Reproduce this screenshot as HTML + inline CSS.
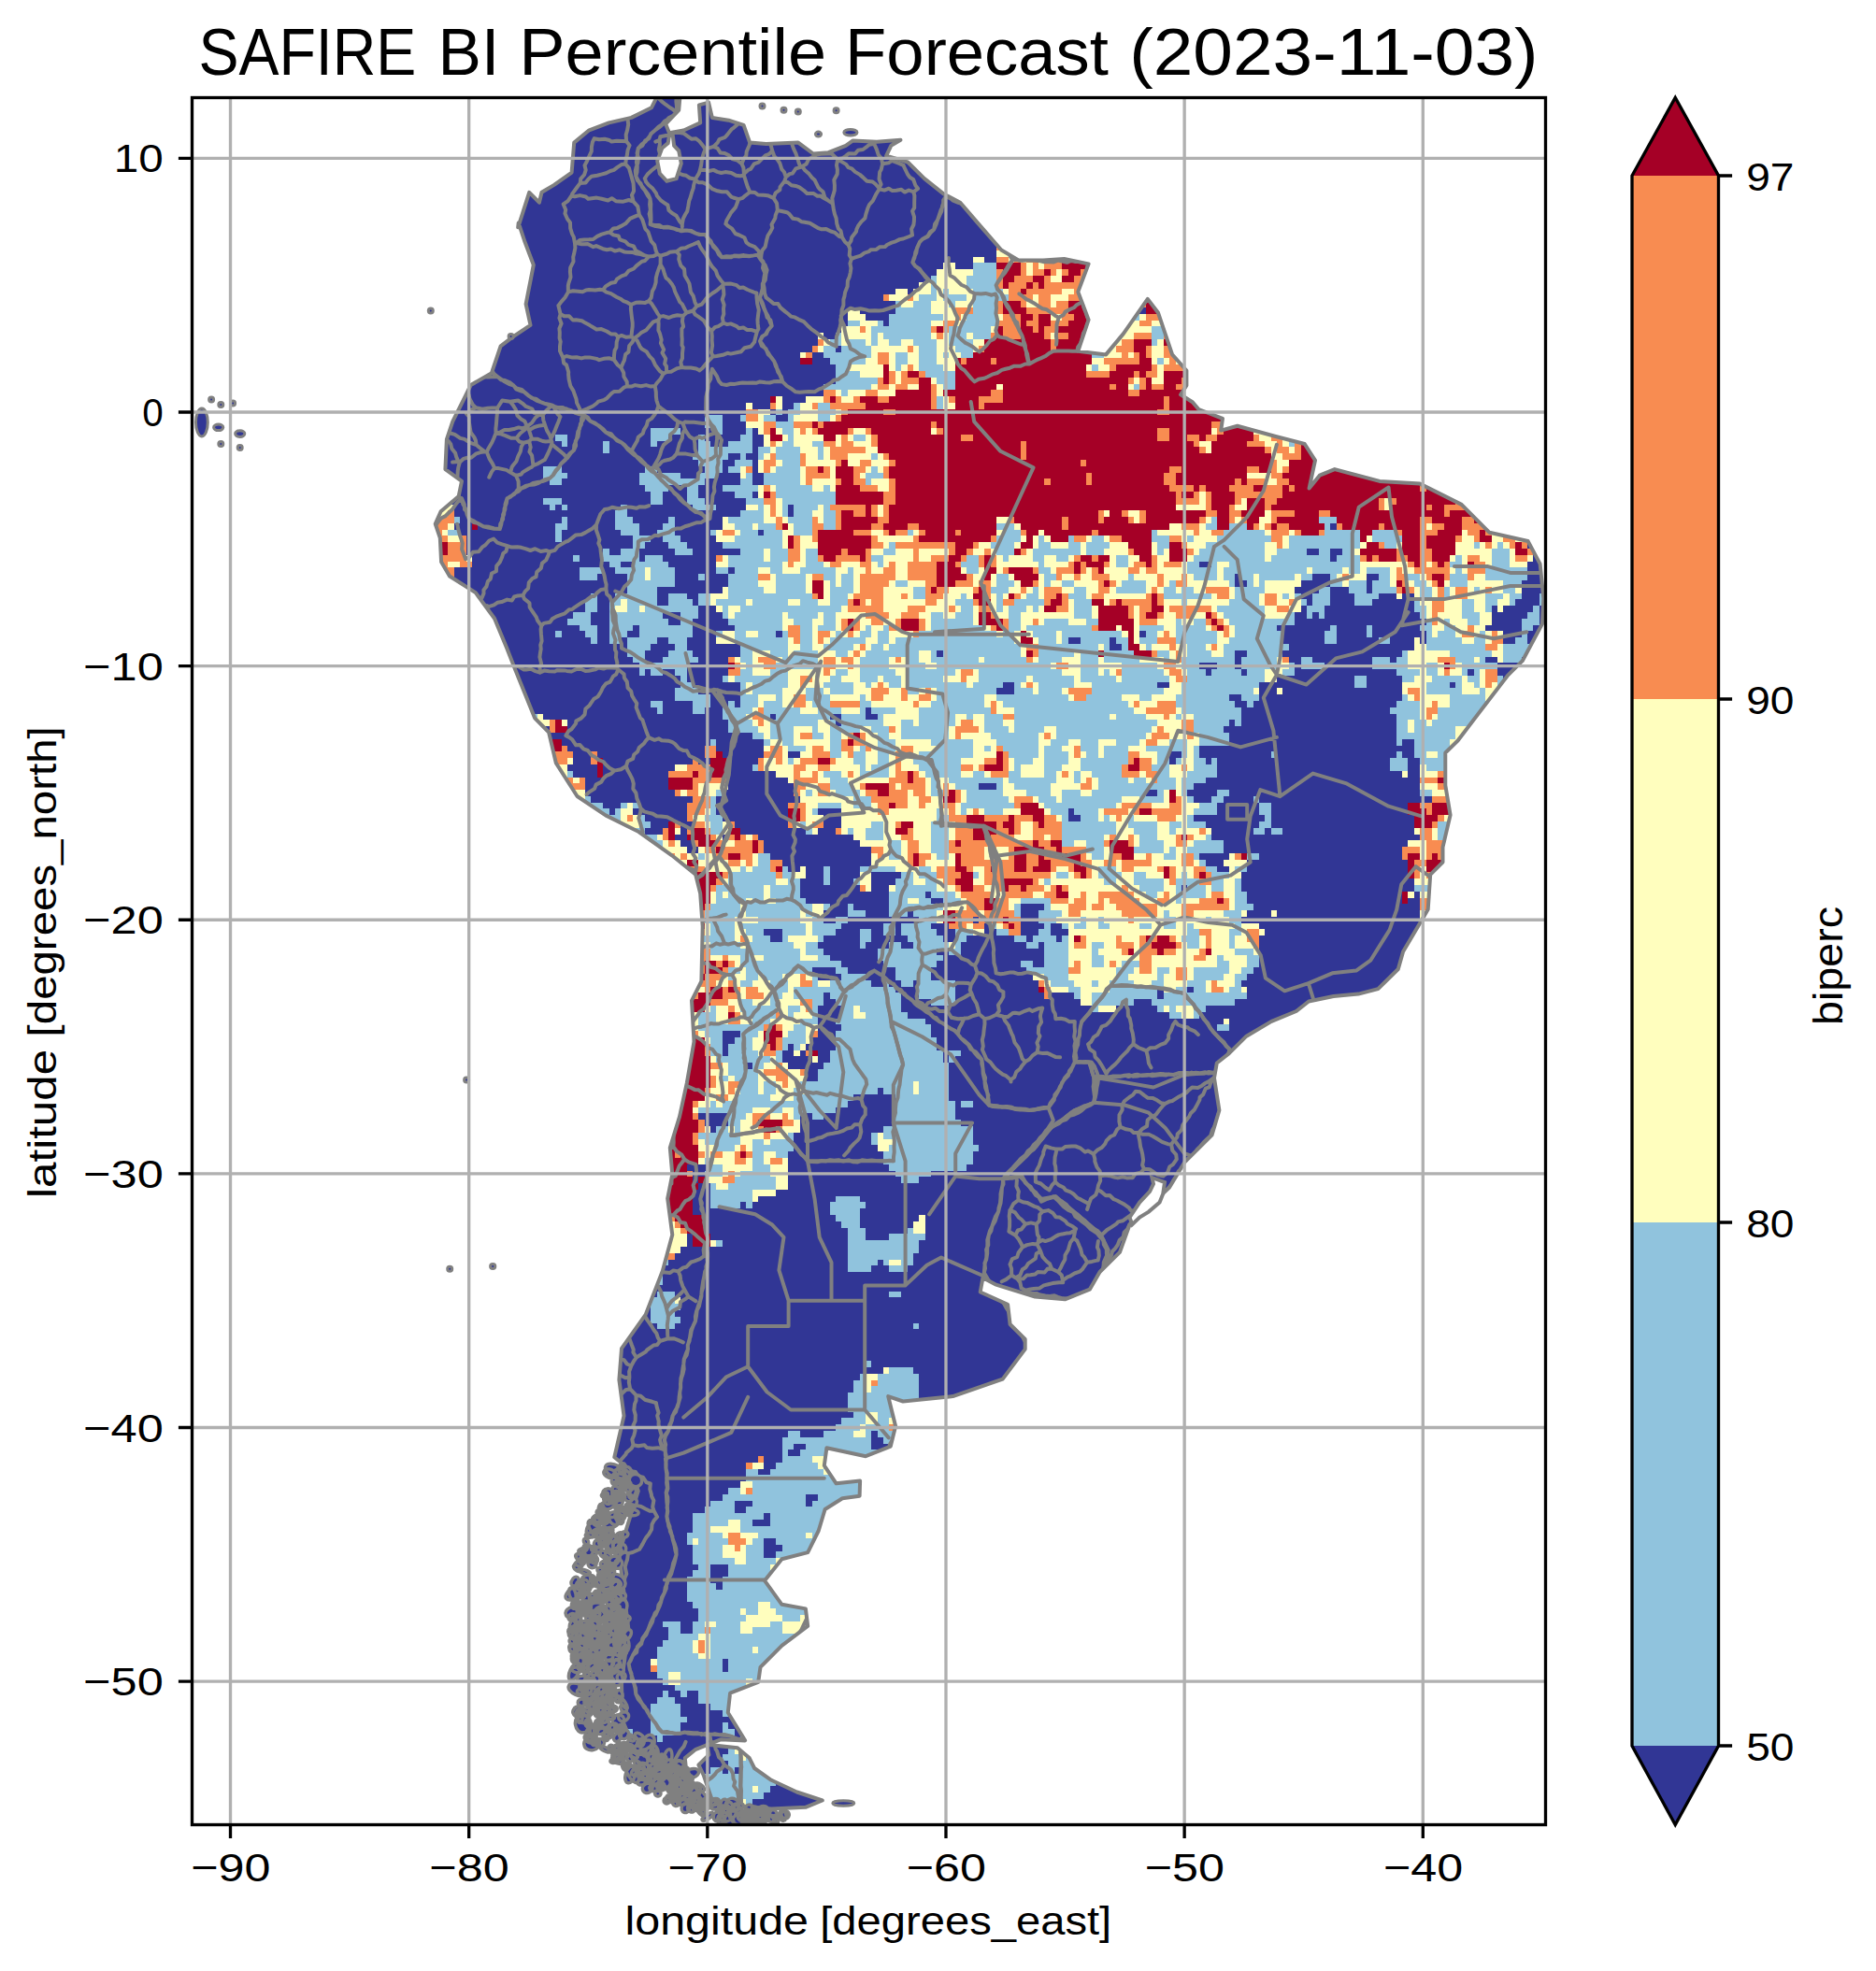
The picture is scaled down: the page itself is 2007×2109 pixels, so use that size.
<!DOCTYPE html>
<html><head><meta charset="utf-8"><style>
html,body{margin:0;padding:0;background:#fff;}
body{width:2007px;height:2109px;position:relative;overflow:hidden;font-family:"Liberation Sans", sans-serif;}
</style></head><body>
<svg xmlns="http://www.w3.org/2000/svg" width="2007" height="2109" viewBox="0 0 2007 2109" style="position:absolute;left:0;top:0" font-family='"Liberation Sans", sans-serif'>
<defs><clipPath id="ax"><rect x="205.5" y="104.5" width="1448.0" height="1848.0"/></clipPath></defs>
<g clip-path="url(#ax)"><defs><clipPath id="land"><polygon points="566.2,205.8 576.9,216.7 579.5,205.8 592.8,197.9 611.6,184.6 614.2,152.6 630.3,139.3 651.4,131.4 675.4,125.9 696.9,115.3 703.2,102.9 727.5,102.9 726.2,117.8 712.2,132.7 716.0,142.2 731.3,139.5 749.2,131.4 747.9,112.4 758.1,109.6 761.9,125.9 779.5,128.7 795.6,133.8 802.2,152.6 819.6,153.9 854.0,152.6 870.1,164.5 886.2,163.2 904.8,155.8 912.5,150.4 938.0,151.7 963.5,149.8 953.3,155.8 948.2,166.7 971.2,173.5 989.0,191.1 1009.4,207.4 1027.3,216.7 1045.2,237.6 1071.2,267.5 1090.1,278.6 1116.1,278.6 1138.5,277.0 1164.6,282.4 1153.3,312.3 1164.6,342.2 1153.3,375.8 1183.2,379.4 1201.8,357.1 1227.8,319.9 1239.1,334.8 1254.1,379.4 1269.4,396.5 1269.4,412.5 1263.1,422.3 1275.8,430.2 1282.4,438.0 1308.0,447.8 1306.2,460.6 1323.8,455.7 1363.8,466.8 1395.7,475.0 1407.0,492.6 1400.6,522.5 1411.8,508.7 1427.9,502.1 1475.9,514.9 1519.0,517.6 1563.6,539.9 1593.5,569.8 1634.6,579.0 1647.6,603.4 1651.4,640.7 1649.9,667.6 1628.7,707.2 1612.6,723.2 1586.1,757.7 1559.6,792.5 1546.3,805.5 1546.3,840.3 1551.6,872.1 1543.5,906.6 1543.5,922.6 1530.2,935.9 1527.7,973.1 1516.9,991.6 1501.1,1018.2 1495.8,1037.0 1474.3,1058.1 1453.2,1063.6 1426.6,1066.0 1400.1,1071.5 1386.8,1082.0 1360.3,1092.9 1333.5,1108.7 1314.9,1127.1 1301.8,1137.5 1299.0,1153.5 1304.4,1188.0 1296.5,1214.6 1267.1,1243.9 1251.1,1270.5 1208.5,1310.5 1198.0,1339.8 1176.6,1361.0 1165.8,1379.7 1139.3,1390.3 1107.4,1387.6 1064.8,1374.3 1051.5,1367.2 1048.7,1382.5 1078.1,1395.8 1080.6,1417.0 1096.7,1433.0 1096.7,1443.6 1072.7,1475.6 1019.4,1494.1 966.1,1499.5 950.2,1494.1 958.1,1526.1 952.8,1547.6 926.2,1558.2 884.4,1549.2 881.8,1568.2 894.6,1587.3 920.1,1584.5 919.6,1600.8 901.2,1603.3 882.6,1615.0 875.7,1638.0 864.2,1661.1 836.4,1668.2 818.1,1691.3 836.4,1716.8 861.9,1721.4 864.2,1739.9 836.4,1760.8 813.5,1783.9 811.2,1799.9 781.1,1811.6 778.8,1832.5 797.1,1862.4 770.9,1861.3 743.8,1872.2 732.8,1881.1 734.6,1899.3 718.5,1902.3 698.1,1894.2 680.3,1875.2 665.7,1839.9 665.0,1799.1 672.6,1744.8 667.5,1704.1 662.4,1663.3 670.1,1636.1 682.8,1595.4 675.2,1573.7 657.3,1559.3 667.5,1515.0 662.4,1476.4 665.0,1442.8 690.7,1406.6 708.8,1359.9 719.3,1321.3 714.2,1282.5 719.3,1256.7 716.8,1228.2 727.0,1194.8 734.9,1158.4 742.5,1114.6 740.0,1070.6 750.4,1050.0 751.7,991.3 749.2,956.0 744.1,935.6 718.8,915.3 683.3,890.0 647.9,872.4 617.5,852.0 594.8,816.4 587.1,783.5 572.1,768.3 561.9,743.1 551.7,717.8 541.7,692.3 529.0,661.8 508.8,634.1 481.0,616.5 472.1,601.3 470.8,575.7 465.7,560.5 471.6,547.2 490.7,530.9 494.0,514.9 476.4,502.1 477.9,470.1 484.3,450.8 497.3,425.0 503.7,412.0 525.9,399.2 535.6,370.4 548.4,360.6 567.5,347.9 562.6,325.3 570.8,283.5 561.1,257.7 554.7,238.4 554.2,243.3"/><polygon points="756.6,1866.8 789.0,1870.3 801.7,1881.1 807.1,1892.0 825.2,1904.8 852.5,1917.5 879.8,1926.5 861.7,1933.8 825.2,1935.5 789.0,1931.9 761.9,1926.5 752.7,1899.3 747.4,1888.5 758.4,1877.6"/></clipPath></defs>
<polygon points="566.2,205.8 576.9,216.7 579.5,205.8 592.8,197.9 611.6,184.6 614.2,152.6 630.3,139.3 651.4,131.4 675.4,125.9 696.9,115.3 703.2,102.9 727.5,102.9 726.2,117.8 712.2,132.7 716.0,142.2 731.3,139.5 749.2,131.4 747.9,112.4 758.1,109.6 761.9,125.9 779.5,128.7 795.6,133.8 802.2,152.6 819.6,153.9 854.0,152.6 870.1,164.5 886.2,163.2 904.8,155.8 912.5,150.4 938.0,151.7 963.5,149.8 953.3,155.8 948.2,166.7 971.2,173.5 989.0,191.1 1009.4,207.4 1027.3,216.7 1045.2,237.6 1071.2,267.5 1090.1,278.6 1116.1,278.6 1138.5,277.0 1164.6,282.4 1153.3,312.3 1164.6,342.2 1153.3,375.8 1183.2,379.4 1201.8,357.1 1227.8,319.9 1239.1,334.8 1254.1,379.4 1269.4,396.5 1269.4,412.5 1263.1,422.3 1275.8,430.2 1282.4,438.0 1308.0,447.8 1306.2,460.6 1323.8,455.7 1363.8,466.8 1395.7,475.0 1407.0,492.6 1400.6,522.5 1411.8,508.7 1427.9,502.1 1475.9,514.9 1519.0,517.6 1563.6,539.9 1593.5,569.8 1634.6,579.0 1647.6,603.4 1651.4,640.7 1649.9,667.6 1628.7,707.2 1612.6,723.2 1586.1,757.7 1559.6,792.5 1546.3,805.5 1546.3,840.3 1551.6,872.1 1543.5,906.6 1543.5,922.6 1530.2,935.9 1527.7,973.1 1516.9,991.6 1501.1,1018.2 1495.8,1037.0 1474.3,1058.1 1453.2,1063.6 1426.6,1066.0 1400.1,1071.5 1386.8,1082.0 1360.3,1092.9 1333.5,1108.7 1314.9,1127.1 1301.8,1137.5 1299.0,1153.5 1304.4,1188.0 1296.5,1214.6 1267.1,1243.9 1251.1,1270.5 1208.5,1310.5 1198.0,1339.8 1176.6,1361.0 1165.8,1379.7 1139.3,1390.3 1107.4,1387.6 1064.8,1374.3 1051.5,1367.2 1048.7,1382.5 1078.1,1395.8 1080.6,1417.0 1096.7,1433.0 1096.7,1443.6 1072.7,1475.6 1019.4,1494.1 966.1,1499.5 950.2,1494.1 958.1,1526.1 952.8,1547.6 926.2,1558.2 884.4,1549.2 881.8,1568.2 894.6,1587.3 920.1,1584.5 919.6,1600.8 901.2,1603.3 882.6,1615.0 875.7,1638.0 864.2,1661.1 836.4,1668.2 818.1,1691.3 836.4,1716.8 861.9,1721.4 864.2,1739.9 836.4,1760.8 813.5,1783.9 811.2,1799.9 781.1,1811.6 778.8,1832.5 797.1,1862.4 770.9,1861.3 743.8,1872.2 732.8,1881.1 734.6,1899.3 718.5,1902.3 698.1,1894.2 680.3,1875.2 665.7,1839.9 665.0,1799.1 672.6,1744.8 667.5,1704.1 662.4,1663.3 670.1,1636.1 682.8,1595.4 675.2,1573.7 657.3,1559.3 667.5,1515.0 662.4,1476.4 665.0,1442.8 690.7,1406.6 708.8,1359.9 719.3,1321.3 714.2,1282.5 719.3,1256.7 716.8,1228.2 727.0,1194.8 734.9,1158.4 742.5,1114.6 740.0,1070.6 750.4,1050.0 751.7,991.3 749.2,956.0 744.1,935.6 718.8,915.3 683.3,890.0 647.9,872.4 617.5,852.0 594.8,816.4 587.1,783.5 572.1,768.3 561.9,743.1 551.7,717.8 541.7,692.3 529.0,661.8 508.8,634.1 481.0,616.5 472.1,601.3 470.8,575.7 465.7,560.5 471.6,547.2 490.7,530.9 494.0,514.9 476.4,502.1 477.9,470.1 484.3,450.8 497.3,425.0 503.7,412.0 525.9,399.2 535.6,370.4 548.4,360.6 567.5,347.9 562.6,325.3 570.8,283.5 561.1,257.7 554.7,238.4 554.2,243.3" fill="#313695"/>
<polygon points="756.6,1866.8 789.0,1870.3 801.7,1881.1 807.1,1892.0 825.2,1904.8 852.5,1917.5 879.8,1926.5 861.7,1933.8 825.2,1935.5 789.0,1931.9 761.9,1926.5 752.7,1899.3 747.4,1888.5 758.4,1877.6" fill="#313695"/>
<g clip-path="url(#land)" shape-rendering="crispEdges"><path fill="#90c3dd" d="M1104.5 227.1H1117.2V233.9H1104.5zM1104.5 233.9H1110.9V240.7H1104.5zM1155.5 233.9H1161.9V240.7H1155.5zM1079.0 240.7H1085.3V247.5H1079.0zM1079.0 261.1H1098.1V267.9H1079.0zM1079.0 267.9H1098.1V274.7H1079.0zM1040.7 281.4H1066.2V288.2H1040.7zM1181.0 281.4H1187.4V288.2H1181.0zM1206.5 281.4H1212.9V288.2H1206.5zM1040.7 288.2H1066.2V295.0H1040.7zM996.0 295.0H1002.4V301.8H996.0zM1034.3 295.0H1066.2V301.8H1034.3zM996.0 301.8H1002.4V308.6H996.0zM1034.3 301.8H1066.2V308.6H1034.3zM996.0 308.6H1002.4V315.4H996.0zM1008.8 308.6H1015.2V315.4H1008.8zM1040.7 308.6H1072.6V315.4H1040.7zM983.3 315.4H1002.4V322.2H983.3zM1008.8 315.4H1034.3V322.2H1008.8zM1040.7 315.4H1079.0V322.2H1040.7zM957.8 322.2H964.1V329.0H957.8zM976.9 322.2H996.0V329.0H976.9zM1015.2 322.2H1021.5V329.0H1015.2zM1040.7 322.2H1066.2V329.0H1040.7zM957.8 329.0H996.0V335.8H957.8zM1040.7 329.0H1066.2V335.8H1040.7zM951.4 335.8H1008.8V342.6H951.4zM1034.3 335.8H1066.2V342.6H1034.3zM1212.9 335.8H1219.3V342.6H1212.9zM1283.1 335.8H1289.5V342.6H1283.1zM906.7 342.6H919.5V349.3H906.7zM938.6 342.6H945.0V349.3H938.6zM951.4 342.6H996.0V349.3H951.4zM1027.9 342.6H1066.2V349.3H1027.9zM932.2 349.3H996.0V356.1H932.2zM1015.2 349.3H1059.8V356.1H1015.2zM1193.8 349.3H1200.2V356.1H1193.8zM1232.1 349.3H1244.8V356.1H1232.1zM894.0 356.1H900.3V362.9H894.0zM932.2 356.1H938.6V362.9H932.2zM945.0 356.1H996.0V362.9H945.0zM1015.2 356.1H1034.3V362.9H1015.2zM1040.7 356.1H1059.8V362.9H1040.7zM1193.8 356.1H1200.2V362.9H1193.8zM1232.1 356.1H1244.8V362.9H1232.1zM1302.2 356.1H1308.6V362.9H1302.2zM887.6 362.9H900.3V369.7H887.6zM906.7 362.9H925.9V369.7H906.7zM932.2 362.9H938.6V369.7H932.2zM951.4 362.9H964.1V369.7H951.4zM976.9 362.9H1002.4V369.7H976.9zM1015.2 362.9H1040.7V369.7H1015.2zM1232.1 362.9H1238.4V369.7H1232.1zM881.2 369.7H894.0V376.5H881.2zM900.3 369.7H932.2V376.5H900.3zM983.3 369.7H1002.4V376.5H983.3zM1021.5 369.7H1040.7V376.5H1021.5zM1174.6 369.7H1181.0V376.5H1174.6zM1264.0 369.7H1270.3V376.5H1264.0zM881.2 376.5H932.2V383.3H881.2zM957.8 376.5H970.5V383.3H957.8zM983.3 376.5H1002.4V383.3H983.3zM1008.8 376.5H1015.2V383.3H1008.8zM1027.9 376.5H1040.7V383.3H1027.9zM1168.3 376.5H1181.0V383.3H1168.3zM887.6 383.3H925.9V390.1H887.6zM957.8 383.3H970.5V390.1H957.8zM983.3 383.3H1002.4V390.1H983.3zM1238.4 383.3H1244.8V390.1H1238.4zM1276.7 383.3H1283.1V390.1H1276.7zM894.0 390.1H906.7V396.9H894.0zM957.8 390.1H964.1V396.9H957.8zM983.3 390.1H1008.8V396.9H983.3zM1168.3 390.1H1174.6V396.9H1168.3zM1276.7 390.1H1283.1V396.9H1276.7zM1302.2 390.1H1308.6V396.9H1302.2zM894.0 396.9H919.5V403.7H894.0zM989.7 396.9H1021.5V403.7H989.7zM1276.7 396.9H1283.1V403.7H1276.7zM1302.2 396.9H1308.6V403.7H1302.2zM894.0 403.7H938.6V410.5H894.0zM1002.4 403.7H1021.5V410.5H1002.4zM1295.8 403.7H1308.6V410.5H1295.8zM881.2 410.5H932.2V417.3H881.2zM1008.8 410.5H1021.5V417.3H1008.8zM1212.9 410.5H1219.3V417.3H1212.9zM900.3 417.3H906.7V424.0H900.3zM1340.5 417.3H1359.6V424.0H1340.5zM1002.4 424.0H1008.8V430.8H1002.4zM1340.5 424.0H1366.0V430.8H1340.5zM849.3 430.8H855.7V437.6H849.3zM874.8 430.8H887.6V437.6H874.8zM1002.4 430.8H1008.8V437.6H1002.4zM1334.1 430.8H1359.6V437.6H1334.1zM1372.4 430.8H1378.8V437.6H1372.4zM830.2 437.6H836.6V444.4H830.2zM842.9 437.6H855.7V444.4H842.9zM874.8 437.6H894.0V444.4H874.8zM1340.5 437.6H1359.6V444.4H1340.5zM753.6 444.4H772.8V451.2H753.6zM791.9 444.4H798.3V451.2H791.9zM817.4 444.4H830.2V451.2H817.4zM842.9 444.4H849.3V451.2H842.9zM874.8 444.4H887.6V451.2H874.8zM753.6 451.2H772.8V458.0H753.6zM830.2 451.2H849.3V458.0H830.2zM696.2 458.0H728.1V464.8H696.2zM766.4 458.0H772.8V464.8H766.4zM798.3 458.0H804.7V464.8H798.3zM836.6 458.0H849.3V464.8H836.6zM594.2 464.8H606.9V471.6H594.2zM696.2 464.8H715.4V471.6H696.2zM747.3 464.8H753.6V471.6H747.3zM791.9 464.8H804.7V471.6H791.9zM842.9 464.8H849.3V471.6H842.9zM913.1 464.8H925.9V471.6H913.1zM1378.8 464.8H1385.2V471.6H1378.8zM600.5 471.6H606.9V478.4H600.5zM645.2 471.6H651.6V478.4H645.2zM696.2 471.6H702.6V478.4H696.2zM747.3 471.6H760.0V478.4H747.3zM779.1 471.6H804.7V478.4H779.1zM836.6 471.6H849.3V478.4H836.6zM868.5 471.6H881.2V478.4H868.5zM1378.8 471.6H1385.2V478.4H1378.8zM645.2 478.4H651.6V485.2H645.2zM747.3 478.4H804.7V485.2H747.3zM811.0 478.4H823.8V485.2H811.0zM830.2 478.4H855.7V485.2H830.2zM874.8 478.4H881.2V485.2H874.8zM740.9 485.2H779.1V491.9H740.9zM791.9 485.2H798.3V491.9H791.9zM811.0 485.2H817.4V491.9H811.0zM830.2 485.2H855.7V491.9H830.2zM874.8 485.2H881.2V491.9H874.8zM932.2 485.2H938.6V491.9H932.2zM747.3 491.9H772.8V498.7H747.3zM785.5 491.9H804.7V498.7H785.5zM836.6 491.9H855.7V498.7H836.6zM581.4 498.7H600.5V505.5H581.4zM689.8 498.7H702.6V505.5H689.8zM753.6 498.7H772.8V505.5H753.6zM779.1 498.7H791.9V505.5H779.1zM830.2 498.7H855.7V505.5H830.2zM932.2 498.7H938.6V505.5H932.2zM581.4 505.5H606.9V512.3H581.4zM683.5 505.5H728.1V512.3H683.5zM747.3 505.5H766.4V512.3H747.3zM798.3 505.5H804.7V512.3H798.3zM817.4 505.5H855.7V512.3H817.4zM925.9 505.5H945.0V512.3H925.9zM587.8 512.3H600.5V519.1H587.8zM683.5 512.3H753.6V519.1H683.5zM791.9 512.3H804.7V519.1H791.9zM817.4 512.3H855.7V519.1H817.4zM925.9 512.3H932.2V519.1H925.9zM689.8 519.1H715.4V525.9H689.8zM734.5 519.1H747.3V525.9H734.5zM772.8 519.1H811.0V525.9H772.8zM830.2 519.1H868.5V525.9H830.2zM881.2 519.1H887.6V525.9H881.2zM696.2 525.9H709.0V532.7H696.2zM734.5 525.9H747.3V532.7H734.5zM785.5 525.9H804.7V532.7H785.5zM830.2 525.9H894.0V532.7H830.2zM581.4 532.7H600.5V539.5H581.4zM696.2 532.7H709.0V539.5H696.2zM734.5 532.7H753.6V539.5H734.5zM798.3 532.7H817.4V539.5H798.3zM836.6 532.7H894.0V539.5H836.6zM1602.0 532.7H1608.4V539.5H1602.0zM1614.8 532.7H1640.3V539.5H1614.8zM460.2 539.5H466.6V546.3H460.2zM587.8 539.5H594.2V546.3H587.8zM600.5 539.5H606.9V546.3H600.5zM664.3 539.5H670.7V546.3H664.3zM740.9 539.5H766.4V546.3H740.9zM811.0 539.5H817.4V546.3H811.0zM836.6 539.5H842.9V546.3H836.6zM849.3 539.5H874.8V546.3H849.3zM881.2 539.5H887.6V546.3H881.2zM1627.6 539.5H1633.9V546.3H1627.6zM657.9 546.3H670.7V553.1H657.9zM791.9 546.3H817.4V553.1H791.9zM836.6 546.3H842.9V553.1H836.6zM849.3 546.3H868.5V553.1H849.3zM881.2 546.3H894.0V553.1H881.2zM485.7 553.1H492.1V559.9H485.7zM600.5 553.1H606.9V559.9H600.5zM657.9 553.1H677.1V559.9H657.9zM715.4 553.1H721.7V559.9H715.4zM779.1 553.1H817.4V559.9H779.1zM842.9 553.1H868.5V559.9H842.9zM881.2 553.1H894.0V559.9H881.2zM1295.8 553.1H1302.2V559.9H1295.8zM1410.7 553.1H1429.8V559.9H1410.7zM594.2 559.9H606.9V566.6H594.2zM657.9 559.9H683.5V566.6H657.9zM709.0 559.9H721.7V566.6H709.0zM785.5 559.9H804.7V566.6H785.5zM811.0 559.9H830.2V566.6H811.0zM849.3 559.9H868.5V566.6H849.3zM881.2 559.9H894.0V566.6H881.2zM1066.2 559.9H1085.3V566.6H1066.2zM1289.5 559.9H1302.2V566.6H1289.5zM1315.0 559.9H1334.1V566.6H1315.0zM1417.0 559.9H1423.4V566.6H1417.0zM1633.9 559.9H1646.7V566.6H1633.9zM447.4 566.6H453.8V573.4H447.4zM479.3 566.6H492.1V573.4H479.3zM594.2 566.6H600.5V573.4H594.2zM664.3 566.6H683.5V573.4H664.3zM702.6 566.6H721.7V573.4H702.6zM760.0 566.6H766.4V573.4H760.0zM791.9 566.6H811.0V573.4H791.9zM817.4 566.6H836.6V573.4H817.4zM849.3 566.6H868.5V573.4H849.3zM970.5 566.6H976.9V573.4H970.5zM1072.6 566.6H1091.7V573.4H1072.6zM1232.1 566.6H1238.4V573.4H1232.1zM1308.6 566.6H1353.3V573.4H1308.6zM1417.0 566.6H1455.3V573.4H1417.0zM1468.1 566.6H1493.6V573.4H1468.1zM1633.9 566.6H1640.3V573.4H1633.9zM447.4 573.4H460.2V580.2H447.4zM594.2 573.4H600.5V580.2H594.2zM677.1 573.4H696.2V580.2H677.1zM709.0 573.4H728.1V580.2H709.0zM785.5 573.4H836.6V580.2H785.5zM1066.2 573.4H1091.7V580.2H1066.2zM1110.9 573.4H1117.2V580.2H1110.9zM1142.7 573.4H1149.1V580.2H1142.7zM1168.3 573.4H1181.0V580.2H1168.3zM1232.1 573.4H1251.2V580.2H1232.1zM1270.3 573.4H1276.7V580.2H1270.3zM1302.2 573.4H1359.6V580.2H1302.2zM1378.8 573.4H1455.3V580.2H1378.8zM1468.1 573.4H1500.0V580.2H1468.1zM447.4 580.2H460.2V587.0H447.4zM677.1 580.2H689.8V587.0H677.1zM715.4 580.2H734.5V587.0H715.4zM772.8 580.2H836.6V587.0H772.8zM951.4 580.2H957.8V587.0H951.4zM1059.8 580.2H1085.3V587.0H1059.8zM1110.9 580.2H1123.6V587.0H1110.9zM1142.7 580.2H1155.5V587.0H1142.7zM1161.9 580.2H1187.4V587.0H1161.9zM1238.4 580.2H1251.2V587.0H1238.4zM1289.5 580.2H1353.3V587.0H1289.5zM1378.8 580.2H1455.3V587.0H1378.8zM1480.8 580.2H1493.6V587.0H1480.8zM1576.5 580.2H1582.9V587.0H1576.5zM1602.0 580.2H1608.4V587.0H1602.0zM447.4 587.0H460.2V593.8H447.4zM645.2 587.0H651.6V593.8H645.2zM664.3 587.0H683.5V593.8H664.3zM721.7 587.0H740.9V593.8H721.7zM791.9 587.0H817.4V593.8H791.9zM823.8 587.0H842.9V593.8H823.8zM862.1 587.0H874.8V593.8H862.1zM945.0 587.0H957.8V593.8H945.0zM1066.2 587.0H1085.3V593.8H1066.2zM1104.5 587.0H1155.5V593.8H1104.5zM1161.9 587.0H1181.0V593.8H1161.9zM1238.4 587.0H1244.8V593.8H1238.4zM1283.1 587.0H1353.3V593.8H1283.1zM1366.0 587.0H1397.9V593.8H1366.0zM1410.7 587.0H1423.4V593.8H1410.7zM1436.2 587.0H1448.9V593.8H1436.2zM1595.7 587.0H1614.8V593.8H1595.7zM613.3 593.8H619.7V600.6H613.3zM645.2 593.8H683.5V600.6H645.2zM689.8 593.8H709.0V600.6H689.8zM779.1 593.8H817.4V600.6H779.1zM823.8 593.8H842.9V600.6H823.8zM862.1 593.8H874.8V600.6H862.1zM932.2 593.8H945.0V600.6H932.2zM1034.3 593.8H1047.1V600.6H1034.3zM1072.6 593.8H1079.0V600.6H1072.6zM1104.5 593.8H1117.2V600.6H1104.5zM1130.0 593.8H1142.7V600.6H1130.0zM1193.8 593.8H1206.5V600.6H1193.8zM1276.7 593.8H1353.3V600.6H1276.7zM1359.6 593.8H1423.4V600.6H1359.6zM1429.8 593.8H1455.3V600.6H1429.8zM1557.4 593.8H1563.8V600.6H1557.4zM1595.7 593.8H1614.8V600.6H1595.7zM460.2 600.6H466.6V607.4H460.2zM651.6 600.6H664.3V607.4H651.6zM677.1 600.6H715.4V607.4H677.1zM779.1 600.6H836.6V607.4H779.1zM862.1 600.6H881.2V607.4H862.1zM938.6 600.6H945.0V607.4H938.6zM1027.9 600.6H1047.1V607.4H1027.9zM1110.9 600.6H1117.2V607.4H1110.9zM1193.8 600.6H1206.5V607.4H1193.8zM1270.3 600.6H1283.1V607.4H1270.3zM1295.8 600.6H1302.2V607.4H1295.8zM1315.0 600.6H1455.3V607.4H1315.0zM1551.0 600.6H1563.8V607.4H1551.0zM1595.7 600.6H1614.8V607.4H1595.7zM619.7 607.4H645.2V614.2H619.7zM657.9 607.4H689.8V614.2H657.9zM696.2 607.4H721.7V614.2H696.2zM766.4 607.4H779.1V614.2H766.4zM785.5 607.4H811.0V614.2H785.5zM823.8 607.4H836.6V614.2H823.8zM855.7 607.4H894.0V614.2H855.7zM906.7 607.4H913.1V614.2H906.7zM1034.3 607.4H1047.1V614.2H1034.3zM1110.9 607.4H1123.6V614.2H1110.9zM1270.3 607.4H1302.2V614.2H1270.3zM1308.6 607.4H1397.9V614.2H1308.6zM1404.3 607.4H1436.2V614.2H1404.3zM1442.6 607.4H1455.3V614.2H1442.6zM1461.7 607.4H1487.2V614.2H1461.7zM1557.4 607.4H1563.8V614.2H1557.4zM1589.3 607.4H1633.9V614.2H1589.3zM447.4 614.2H460.2V621.0H447.4zM619.7 614.2H638.8V621.0H619.7zM670.7 614.2H689.8V621.0H670.7zM696.2 614.2H721.7V621.0H696.2zM747.3 614.2H753.6V621.0H747.3zM779.1 614.2H811.0V621.0H779.1zM830.2 614.2H862.1V621.0H830.2zM881.2 614.2H894.0V621.0H881.2zM900.3 614.2H913.1V621.0H900.3zM1066.2 614.2H1079.0V621.0H1066.2zM1117.2 614.2H1130.0V621.0H1117.2zM1206.5 614.2H1212.9V621.0H1206.5zM1276.7 614.2H1302.2V621.0H1276.7zM1308.6 614.2H1321.4V621.0H1308.6zM1327.7 614.2H1340.5V621.0H1327.7zM1346.9 614.2H1385.2V621.0H1346.9zM1391.5 614.2H1404.3V621.0H1391.5zM1423.4 614.2H1429.8V621.0H1423.4zM1474.5 614.2H1487.2V621.0H1474.5zM1506.4 614.2H1519.1V621.0H1506.4zM1551.0 614.2H1570.1V621.0H1551.0zM1589.3 614.2H1633.9V621.0H1589.3zM460.2 621.0H466.6V627.8H460.2zM670.7 621.0H721.7V627.8H670.7zM779.1 621.0H811.0V627.8H779.1zM830.2 621.0H862.1V627.8H830.2zM887.6 621.0H894.0V627.8H887.6zM900.3 621.0H913.1V627.8H900.3zM957.8 621.0H970.5V627.8H957.8zM1066.2 621.0H1085.3V627.8H1066.2zM1117.2 621.0H1123.6V627.8H1117.2zM1136.4 621.0H1149.1V627.8H1136.4zM1200.2 621.0H1225.7V627.8H1200.2zM1251.2 621.0H1257.6V627.8H1251.2zM1315.0 621.0H1321.4V627.8H1315.0zM1334.1 621.0H1340.5V627.8H1334.1zM1346.9 621.0H1353.3V627.8H1346.9zM1423.4 621.0H1436.2V627.8H1423.4zM1442.6 621.0H1461.7V627.8H1442.6zM1468.1 621.0H1487.2V627.8H1468.1zM1512.7 621.0H1525.5V627.8H1512.7zM1551.0 621.0H1570.1V627.8H1551.0zM1608.4 621.0H1627.6V627.8H1608.4zM670.7 627.8H702.6V634.5H670.7zM779.1 627.8H817.4V634.5H779.1zM830.2 627.8H862.1V634.5H830.2zM887.6 627.8H913.1V634.5H887.6zM976.9 627.8H989.7V634.5H976.9zM1059.8 627.8H1079.0V634.5H1059.8zM1104.5 627.8H1110.9V634.5H1104.5zM1149.1 627.8H1161.9V634.5H1149.1zM1193.8 627.8H1225.7V634.5H1193.8zM1244.8 627.8H1257.6V634.5H1244.8zM1264.0 627.8H1276.7V634.5H1264.0zM1321.4 627.8H1353.3V634.5H1321.4zM1410.7 627.8H1423.4V634.5H1410.7zM1442.6 627.8H1461.7V634.5H1442.6zM1468.1 627.8H1493.6V634.5H1468.1zM1519.1 627.8H1531.9V634.5H1519.1zM1544.6 627.8H1551.0V634.5H1544.6zM1576.5 627.8H1582.9V634.5H1576.5zM1608.4 627.8H1621.2V634.5H1608.4zM632.4 634.5H638.8V641.3H632.4zM657.9 634.5H702.6V641.3H657.9zM715.4 634.5H734.5V641.3H715.4zM747.3 634.5H760.0V641.3H747.3zM779.1 634.5H868.5V641.3H779.1zM887.6 634.5H906.7V641.3H887.6zM976.9 634.5H989.7V641.3H976.9zM1027.9 634.5H1034.3V641.3H1027.9zM1066.2 634.5H1072.6V641.3H1066.2zM1098.1 634.5H1110.9V641.3H1098.1zM1142.7 634.5H1161.9V641.3H1142.7zM1244.8 634.5H1295.8V641.3H1244.8zM1321.4 634.5H1346.9V641.3H1321.4zM1372.4 634.5H1378.8V641.3H1372.4zM1385.2 634.5H1391.5V641.3H1385.2zM1404.3 634.5H1423.4V641.3H1404.3zM1448.9 634.5H1474.5V641.3H1448.9zM1519.1 634.5H1531.9V641.3H1519.1zM1544.6 634.5H1551.0V641.3H1544.6zM1589.3 634.5H1608.4V641.3H1589.3zM1614.8 634.5H1627.6V641.3H1614.8zM1646.7 634.5H1659.4V641.3H1646.7zM626.1 641.3H638.8V648.1H626.1zM651.6 641.3H664.3V648.1H651.6zM670.7 641.3H702.6V648.1H670.7zM715.4 641.3H740.9V648.1H715.4zM747.3 641.3H760.0V648.1H747.3zM766.4 641.3H798.3V648.1H766.4zM804.7 641.3H842.9V648.1H804.7zM855.7 641.3H874.8V648.1H855.7zM887.6 641.3H906.7V648.1H887.6zM1021.5 641.3H1040.7V648.1H1021.5zM1066.2 641.3H1072.6V648.1H1066.2zM1085.3 641.3H1117.2V648.1H1085.3zM1149.1 641.3H1168.3V648.1H1149.1zM1264.0 641.3H1270.3V648.1H1264.0zM1315.0 641.3H1346.9V648.1H1315.0zM1391.5 641.3H1397.9V648.1H1391.5zM1404.3 641.3H1423.4V648.1H1404.3zM1448.9 641.3H1468.1V648.1H1448.9zM1512.7 641.3H1519.1V648.1H1512.7zM1563.8 641.3H1576.5V648.1H1563.8zM1589.3 641.3H1602.0V648.1H1589.3zM1614.8 641.3H1621.2V648.1H1614.8zM1646.7 641.3H1659.4V648.1H1646.7zM626.1 648.1H638.8V654.9H626.1zM651.6 648.1H657.9V654.9H651.6zM670.7 648.1H683.5V654.9H670.7zM689.8 648.1H747.3V654.9H689.8zM772.8 648.1H779.1V654.9H772.8zM791.9 648.1H900.3V654.9H791.9zM1027.9 648.1H1040.7V654.9H1027.9zM1066.2 648.1H1072.6V654.9H1066.2zM1079.0 648.1H1098.1V654.9H1079.0zM1104.5 648.1H1110.9V654.9H1104.5zM1149.1 648.1H1168.3V654.9H1149.1zM1302.2 648.1H1353.3V654.9H1302.2zM1397.9 648.1H1417.0V654.9H1397.9zM1512.7 648.1H1525.5V654.9H1512.7zM1563.8 648.1H1576.5V654.9H1563.8zM1589.3 648.1H1595.7V654.9H1589.3zM1640.3 648.1H1646.7V654.9H1640.3zM613.3 654.9H632.4V661.7H613.3zM651.6 654.9H709.0V661.7H651.6zM728.1 654.9H747.3V661.7H728.1zM772.8 654.9H779.1V661.7H772.8zM785.5 654.9H836.6V661.7H785.5zM842.9 654.9H874.8V661.7H842.9zM881.2 654.9H894.0V661.7H881.2zM996.0 654.9H1008.8V661.7H996.0zM1021.5 654.9H1040.7V661.7H1021.5zM1079.0 654.9H1091.7V661.7H1079.0zM1149.1 654.9H1168.3V661.7H1149.1zM1308.6 654.9H1353.3V661.7H1308.6zM1378.8 654.9H1385.2V661.7H1378.8zM1397.9 654.9H1404.3V661.7H1397.9zM1410.7 654.9H1417.0V661.7H1410.7zM1519.1 654.9H1525.5V661.7H1519.1zM1563.8 654.9H1582.9V661.7H1563.8zM1633.9 654.9H1646.7V661.7H1633.9zM606.9 661.7H632.4V668.5H606.9zM651.6 661.7H715.4V668.5H651.6zM728.1 661.7H740.9V668.5H728.1zM779.1 661.7H836.6V668.5H779.1zM849.3 661.7H868.5V668.5H849.3zM881.2 661.7H894.0V668.5H881.2zM996.0 661.7H1040.7V668.5H996.0zM1079.0 661.7H1091.7V668.5H1079.0zM1117.2 661.7H1142.7V668.5H1117.2zM1161.9 661.7H1174.6V668.5H1161.9zM1257.6 661.7H1264.0V668.5H1257.6zM1276.7 661.7H1289.5V668.5H1276.7zM1315.0 661.7H1385.2V668.5H1315.0zM1525.5 661.7H1531.9V668.5H1525.5zM1544.6 661.7H1551.0V668.5H1544.6zM1570.1 661.7H1582.9V668.5H1570.1zM1627.6 661.7H1646.7V668.5H1627.6zM619.7 668.5H638.8V675.3H619.7zM651.6 668.5H677.1V675.3H651.6zM683.5 668.5H740.9V675.3H683.5zM785.5 668.5H836.6V675.3H785.5zM855.7 668.5H868.5V675.3H855.7zM874.8 668.5H894.0V675.3H874.8zM925.9 668.5H932.2V675.3H925.9zM945.0 668.5H951.4V675.3H945.0zM996.0 668.5H1053.4V675.3H996.0zM1079.0 668.5H1091.7V675.3H1079.0zM1098.1 668.5H1168.3V675.3H1098.1zM1219.3 668.5H1244.8V675.3H1219.3zM1257.6 668.5H1289.5V675.3H1257.6zM1321.4 668.5H1366.0V675.3H1321.4zM1423.4 668.5H1429.8V675.3H1423.4zM1461.7 668.5H1468.1V675.3H1461.7zM1519.1 668.5H1531.9V675.3H1519.1zM1544.6 668.5H1557.4V675.3H1544.6zM1627.6 668.5H1640.3V675.3H1627.6zM594.2 675.3H600.5V682.1H594.2zM626.1 675.3H638.8V682.1H626.1zM651.6 675.3H670.7V682.1H651.6zM683.5 675.3H740.9V682.1H683.5zM766.4 675.3H772.8V682.1H766.4zM785.5 675.3H798.3V682.1H785.5zM811.0 675.3H830.2V682.1H811.0zM836.6 675.3H842.9V682.1H836.6zM855.7 675.3H868.5V682.1H855.7zM894.0 675.3H900.3V682.1H894.0zM919.5 675.3H932.2V682.1H919.5zM938.6 675.3H951.4V682.1H938.6zM983.3 675.3H1066.2V682.1H983.3zM1072.6 675.3H1085.3V682.1H1072.6zM1104.5 675.3H1130.0V682.1H1104.5zM1136.4 675.3H1200.2V682.1H1136.4zM1225.7 675.3H1238.4V682.1H1225.7zM1257.6 675.3H1302.2V682.1H1257.6zM1321.4 675.3H1372.4V682.1H1321.4zM1417.0 675.3H1429.8V682.1H1417.0zM1461.7 675.3H1468.1V682.1H1461.7zM1525.5 675.3H1531.9V682.1H1525.5zM1538.2 675.3H1557.4V682.1H1538.2zM1582.9 675.3H1589.3V682.1H1582.9zM1627.6 675.3H1633.9V682.1H1627.6zM632.4 682.1H638.8V688.9H632.4zM651.6 682.1H664.3V688.9H651.6zM670.7 682.1H702.6V688.9H670.7zM715.4 682.1H734.5V688.9H715.4zM785.5 682.1H842.9V688.9H785.5zM855.7 682.1H868.5V688.9H855.7zM887.6 682.1H925.9V688.9H887.6zM938.6 682.1H951.4V688.9H938.6zM957.8 682.1H1085.3V688.9H957.8zM1110.9 682.1H1130.0V688.9H1110.9zM1136.4 682.1H1142.7V688.9H1136.4zM1155.5 682.1H1187.4V688.9H1155.5zM1193.8 682.1H1206.5V688.9H1193.8zM1219.3 682.1H1238.4V688.9H1219.3zM1257.6 682.1H1302.2V688.9H1257.6zM1315.0 682.1H1372.4V688.9H1315.0zM1417.0 682.1H1429.8V688.9H1417.0zM1474.5 682.1H1487.2V688.9H1474.5zM1525.5 682.1H1563.8V688.9H1525.5zM1576.5 682.1H1589.3V688.9H1576.5zM1621.2 682.1H1633.9V688.9H1621.2zM1653.1 682.1H1659.4V688.9H1653.1zM670.7 688.9H696.2V695.7H670.7zM721.7 688.9H734.5V695.7H721.7zM791.9 688.9H842.9V695.7H791.9zM855.7 688.9H868.5V695.7H855.7zM881.2 688.9H913.1V695.7H881.2zM932.2 688.9H945.0V695.7H932.2zM951.4 688.9H1091.7V695.7H951.4zM1110.9 688.9H1174.6V695.7H1110.9zM1181.0 688.9H1187.4V695.7H1181.0zM1200.2 688.9H1206.5V695.7H1200.2zM1225.7 688.9H1232.1V695.7H1225.7zM1270.3 688.9H1289.5V695.7H1270.3zM1308.6 688.9H1378.8V695.7H1308.6zM1525.5 688.9H1589.3V695.7H1525.5zM1608.4 688.9H1640.3V695.7H1608.4zM1646.7 688.9H1659.4V695.7H1646.7zM670.7 695.7H689.8V702.5H670.7zM715.4 695.7H740.9V702.5H715.4zM791.9 695.7H804.7V702.5H791.9zM823.8 695.7H842.9V702.5H823.8zM849.3 695.7H874.8V702.5H849.3zM894.0 695.7H906.7V702.5H894.0zM925.9 695.7H983.3V702.5H925.9zM996.0 695.7H1002.4V702.5H996.0zM1008.8 695.7H1091.7V702.5H1008.8zM1110.9 695.7H1149.1V702.5H1110.9zM1155.5 695.7H1174.6V702.5H1155.5zM1181.0 695.7H1212.9V702.5H1181.0zM1238.4 695.7H1251.2V702.5H1238.4zM1270.3 695.7H1295.8V702.5H1270.3zM1308.6 695.7H1321.4V702.5H1308.6zM1334.1 695.7H1372.4V702.5H1334.1zM1500.0 695.7H1506.4V702.5H1500.0zM1551.0 695.7H1595.7V702.5H1551.0zM1608.4 695.7H1633.9V702.5H1608.4zM677.1 702.5H689.8V709.2H677.1zM709.0 702.5H747.3V709.2H709.0zM791.9 702.5H804.7V709.2H791.9zM836.6 702.5H874.8V709.2H836.6zM919.5 702.5H951.4V709.2H919.5zM970.5 702.5H983.3V709.2H970.5zM996.0 702.5H1047.1V709.2H996.0zM1053.4 702.5H1098.1V709.2H1053.4zM1110.9 702.5H1136.4V709.2H1110.9zM1155.5 702.5H1174.6V709.2H1155.5zM1181.0 702.5H1219.3V709.2H1181.0zM1244.8 702.5H1251.2V709.2H1244.8zM1264.0 702.5H1321.4V709.2H1264.0zM1327.7 702.5H1366.0V709.2H1327.7zM1391.5 702.5H1404.3V709.2H1391.5zM1468.1 702.5H1487.2V709.2H1468.1zM1493.6 702.5H1506.4V709.2H1493.6zM1557.4 702.5H1576.5V709.2H1557.4zM1582.9 702.5H1589.3V709.2H1582.9zM1608.4 702.5H1627.6V709.2H1608.4zM683.5 709.2H734.5V716.0H683.5zM798.3 709.2H804.7V716.0H798.3zM830.2 709.2H874.8V716.0H830.2zM919.5 709.2H951.4V716.0H919.5zM970.5 709.2H989.7V716.0H970.5zM1002.4 709.2H1123.6V716.0H1002.4zM1155.5 709.2H1174.6V716.0H1155.5zM1200.2 709.2H1238.4V716.0H1200.2zM1264.0 709.2H1283.1V716.0H1264.0zM1302.2 709.2H1321.4V716.0H1302.2zM1327.7 709.2H1366.0V716.0H1327.7zM1378.8 709.2H1385.2V716.0H1378.8zM1391.5 709.2H1417.0V716.0H1391.5zM1468.1 709.2H1506.4V716.0H1468.1zM1525.5 709.2H1538.2V716.0H1525.5zM1563.8 709.2H1602.0V716.0H1563.8zM683.5 716.0H689.8V722.8H683.5zM696.2 716.0H709.0V722.8H696.2zM721.7 716.0H734.5V722.8H721.7zM791.9 716.0H804.7V722.8H791.9zM823.8 716.0H842.9V722.8H823.8zM894.0 716.0H906.7V722.8H894.0zM919.5 716.0H957.8V722.8H919.5zM970.5 716.0H1021.5V722.8H970.5zM1047.1 716.0H1136.4V722.8H1047.1zM1155.5 716.0H1174.6V722.8H1155.5zM1181.0 716.0H1187.4V722.8H1181.0zM1200.2 716.0H1244.8V722.8H1200.2zM1270.3 716.0H1289.5V722.8H1270.3zM1295.8 716.0H1327.7V722.8H1295.8zM1334.1 716.0H1353.3V722.8H1334.1zM1372.4 716.0H1385.2V722.8H1372.4zM1493.6 716.0H1519.1V722.8H1493.6zM1525.5 716.0H1538.2V722.8H1525.5zM1563.8 716.0H1570.1V722.8H1563.8zM1576.5 716.0H1582.9V722.8H1576.5zM1621.2 716.0H1633.9V722.8H1621.2zM728.1 722.8H734.5V729.6H728.1zM772.8 722.8H779.1V729.6H772.8zM785.5 722.8H842.9V729.6H785.5zM887.6 722.8H900.3V729.6H887.6zM919.5 722.8H938.6V729.6H919.5zM945.0 722.8H964.1V729.6H945.0zM970.5 722.8H1008.8V729.6H970.5zM1047.1 722.8H1098.1V729.6H1047.1zM1104.5 722.8H1149.1V729.6H1104.5zM1155.5 722.8H1193.8V729.6H1155.5zM1200.2 722.8H1251.2V729.6H1200.2zM1270.3 722.8H1353.3V729.6H1270.3zM1448.9 722.8H1461.7V729.6H1448.9zM1500.0 722.8H1512.7V729.6H1500.0zM1531.9 722.8H1563.8V729.6H1531.9zM1570.1 722.8H1582.9V729.6H1570.1zM1602.0 722.8H1608.4V729.6H1602.0zM1614.8 722.8H1640.3V729.6H1614.8zM1646.7 722.8H1659.4V729.6H1646.7zM728.1 729.6H740.9V736.4H728.1zM791.9 729.6H798.3V736.4H791.9zM804.7 729.6H842.9V736.4H804.7zM881.2 729.6H913.1V736.4H881.2zM925.9 729.6H932.2V736.4H925.9zM951.4 729.6H964.1V736.4H951.4zM970.5 729.6H1034.3V736.4H970.5zM1040.7 729.6H1072.6V736.4H1040.7zM1085.3 729.6H1091.7V736.4H1085.3zM1110.9 729.6H1149.1V736.4H1110.9zM1168.3 729.6H1238.4V736.4H1168.3zM1264.0 729.6H1346.9V736.4H1264.0zM1448.9 729.6H1461.7V736.4H1448.9zM1525.5 729.6H1551.0V736.4H1525.5zM1557.4 729.6H1563.8V736.4H1557.4zM1576.5 729.6H1582.9V736.4H1576.5zM1602.0 729.6H1653.1V736.4H1602.0zM721.7 736.4H747.3V743.2H721.7zM791.9 736.4H798.3V743.2H791.9zM804.7 736.4H836.6V743.2H804.7zM862.1 736.4H881.2V743.2H862.1zM887.6 736.4H913.1V743.2H887.6zM970.5 736.4H983.3V743.2H970.5zM1002.4 736.4H1066.2V743.2H1002.4zM1085.3 736.4H1104.5V743.2H1085.3zM1110.9 736.4H1136.4V743.2H1110.9zM1168.3 736.4H1244.8V743.2H1168.3zM1264.0 736.4H1340.5V743.2H1264.0zM1525.5 736.4H1563.8V743.2H1525.5zM1582.9 736.4H1589.3V743.2H1582.9zM1602.0 736.4H1614.8V743.2H1602.0zM1633.9 736.4H1646.7V743.2H1633.9zM721.7 743.2H760.0V750.0H721.7zM791.9 743.2H811.0V750.0H791.9zM830.2 743.2H836.6V750.0H830.2zM862.1 743.2H887.6V750.0H862.1zM919.5 743.2H925.9V750.0H919.5zM1002.4 743.2H1053.4V750.0H1002.4zM1066.2 743.2H1142.7V750.0H1066.2zM1161.9 743.2H1200.2V750.0H1161.9zM1219.3 743.2H1232.1V750.0H1219.3zM1257.6 743.2H1315.0V750.0H1257.6zM1327.7 743.2H1346.9V750.0H1327.7zM1500.0 743.2H1506.4V750.0H1500.0zM1551.0 743.2H1589.3V750.0H1551.0zM1633.9 743.2H1653.1V750.0H1633.9zM696.2 750.0H709.0V756.8H696.2zM740.9 750.0H760.0V756.8H740.9zM779.1 750.0H785.5V756.8H779.1zM791.9 750.0H811.0V756.8H791.9zM817.4 750.0H836.6V756.8H817.4zM868.5 750.0H887.6V756.8H868.5zM919.5 750.0H932.2V756.8H919.5zM996.0 750.0H1053.4V756.8H996.0zM1072.6 750.0H1206.5V756.8H1072.6zM1257.6 750.0H1321.4V756.8H1257.6zM1334.1 750.0H1340.5V756.8H1334.1zM1493.6 750.0H1519.1V756.8H1493.6zM1551.0 750.0H1627.6V756.8H1551.0zM1640.3 750.0H1659.4V756.8H1640.3zM702.6 756.8H709.0V763.6H702.6zM740.9 756.8H753.6V763.6H740.9zM772.8 756.8H804.7V763.6H772.8zM817.4 756.8H855.7V763.6H817.4zM874.8 756.8H900.3V763.6H874.8zM919.5 756.8H925.9V763.6H919.5zM932.2 756.8H957.8V763.6H932.2zM983.3 756.8H1059.8V763.6H983.3zM1085.3 756.8H1212.9V763.6H1085.3zM1264.0 756.8H1327.7V763.6H1264.0zM1487.2 756.8H1519.1V763.6H1487.2zM1538.2 756.8H1614.8V763.6H1538.2zM1621.2 756.8H1633.9V763.6H1621.2zM1640.3 756.8H1653.1V763.6H1640.3zM568.6 763.6H575.0V770.4H568.6zM772.8 763.6H798.3V770.4H772.8zM817.4 763.6H823.8V770.4H817.4zM830.2 763.6H887.6V770.4H830.2zM900.3 763.6H925.9V770.4H900.3zM938.6 763.6H945.0V770.4H938.6zM983.3 763.6H1021.5V770.4H983.3zM1034.3 763.6H1040.7V770.4H1034.3zM1053.4 763.6H1072.6V770.4H1053.4zM1085.3 763.6H1187.4V770.4H1085.3zM1193.8 763.6H1225.7V770.4H1193.8zM1257.6 763.6H1264.0V770.4H1257.6zM1276.7 763.6H1327.7V770.4H1276.7zM1493.6 763.6H1519.1V770.4H1493.6zM1538.2 763.6H1646.7V770.4H1538.2zM543.1 770.4H549.5V777.1H543.1zM568.6 770.4H575.0V777.1H568.6zM779.1 770.4H804.7V777.1H779.1zM823.8 770.4H874.8V777.1H823.8zM887.6 770.4H894.0V777.1H887.6zM900.3 770.4H945.0V777.1H900.3zM964.1 770.4H976.9V777.1H964.1zM983.3 770.4H1021.5V777.1H983.3zM1053.4 770.4H1072.6V777.1H1053.4zM1085.3 770.4H1238.4V777.1H1085.3zM1276.7 770.4H1315.0V777.1H1276.7zM1321.4 770.4H1327.7V777.1H1321.4zM1493.6 770.4H1506.4V777.1H1493.6zM1512.7 770.4H1525.5V777.1H1512.7zM1531.9 770.4H1595.7V777.1H1531.9zM1608.4 770.4H1640.3V777.1H1608.4zM555.9 777.1H562.3V783.9H555.9zM779.1 777.1H811.0V783.9H779.1zM823.8 777.1H849.3V783.9H823.8zM868.5 777.1H874.8V783.9H868.5zM887.6 777.1H919.5V783.9H887.6zM932.2 777.1H951.4V783.9H932.2zM964.1 777.1H1015.2V783.9H964.1zM1053.4 777.1H1079.0V783.9H1053.4zM1085.3 777.1H1117.2V783.9H1085.3zM1130.0 777.1H1232.1V783.9H1130.0zM1276.7 777.1H1308.6V783.9H1276.7zM1493.6 777.1H1506.4V783.9H1493.6zM1512.7 777.1H1557.4V783.9H1512.7zM1570.1 777.1H1589.3V783.9H1570.1zM1621.2 777.1H1640.3V783.9H1621.2zM549.5 783.9H555.9V790.7H549.5zM804.7 783.9H817.4V790.7H804.7zM823.8 783.9H849.3V790.7H823.8zM868.5 783.9H881.2V790.7H868.5zM887.6 783.9H900.3V790.7H887.6zM938.6 783.9H951.4V790.7H938.6zM964.1 783.9H1015.2V790.7H964.1zM1059.8 783.9H1110.9V790.7H1059.8zM1130.0 783.9H1225.7V790.7H1130.0zM1283.1 783.9H1315.0V790.7H1283.1zM1493.6 783.9H1557.4V790.7H1493.6zM1570.1 783.9H1589.3V790.7H1570.1zM1627.6 783.9H1633.9V790.7H1627.6zM530.4 790.7H536.7V797.5H530.4zM549.5 790.7H555.9V797.5H549.5zM760.0 790.7H766.4V797.5H760.0zM817.4 790.7H823.8V797.5H817.4zM836.6 790.7H849.3V797.5H836.6zM887.6 790.7H900.3V797.5H887.6zM938.6 790.7H957.8V797.5H938.6zM996.0 790.7H1040.7V797.5H996.0zM1066.2 790.7H1110.9V797.5H1066.2zM1123.6 790.7H1142.7V797.5H1123.6zM1155.5 790.7H1174.6V797.5H1155.5zM1193.8 790.7H1219.3V797.5H1193.8zM1251.2 790.7H1270.3V797.5H1251.2zM1283.1 790.7H1315.0V797.5H1283.1zM1493.6 790.7H1500.0V797.5H1493.6zM1512.7 790.7H1551.0V797.5H1512.7zM1570.1 790.7H1595.7V797.5H1570.1zM530.4 797.5H543.1V804.3H530.4zM549.5 797.5H555.9V804.3H549.5zM842.9 797.5H862.1V804.3H842.9zM887.6 797.5H900.3V804.3H887.6zM919.5 797.5H925.9V804.3H919.5zM938.6 797.5H957.8V804.3H938.6zM1002.4 797.5H1040.7V804.3H1002.4zM1053.4 797.5H1059.8V804.3H1053.4zM1072.6 797.5H1110.9V804.3H1072.6zM1117.2 797.5H1136.4V804.3H1117.2zM1155.5 797.5H1174.6V804.3H1155.5zM1181.0 797.5H1206.5V804.3H1181.0zM1225.7 797.5H1270.3V804.3H1225.7zM1276.7 797.5H1283.1V804.3H1276.7zM1512.7 797.5H1570.1V804.3H1512.7zM1576.5 797.5H1595.7V804.3H1576.5zM530.4 804.3H536.7V811.1H530.4zM549.5 804.3H555.9V811.1H549.5zM887.6 804.3H900.3V811.1H887.6zM913.1 804.3H925.9V811.1H913.1zM938.6 804.3H951.4V811.1H938.6zM983.3 804.3H1040.7V811.1H983.3zM1079.0 804.3H1110.9V811.1H1079.0zM1117.2 804.3H1142.7V811.1H1117.2zM1161.9 804.3H1174.6V811.1H1161.9zM1181.0 804.3H1206.5V811.1H1181.0zM1238.4 804.3H1251.2V811.1H1238.4zM1264.0 804.3H1270.3V811.1H1264.0zM1276.7 804.3H1283.1V811.1H1276.7zM1359.6 804.3H1366.0V811.1H1359.6zM1493.6 804.3H1500.0V811.1H1493.6zM1512.7 804.3H1525.5V811.1H1512.7zM1538.2 804.3H1570.1V811.1H1538.2zM1576.5 804.3H1589.3V811.1H1576.5zM536.7 811.1H555.9V817.9H536.7zM842.9 811.1H849.3V817.9H842.9zM913.1 811.1H925.9V817.9H913.1zM938.6 811.1H951.4V817.9H938.6zM976.9 811.1H1027.9V817.9H976.9zM1085.3 811.1H1104.5V817.9H1085.3zM1117.2 811.1H1142.7V817.9H1117.2zM1155.5 811.1H1206.5V817.9H1155.5zM1238.4 811.1H1251.2V817.9H1238.4zM1257.6 811.1H1264.0V817.9H1257.6zM1276.7 811.1H1289.5V817.9H1276.7zM1295.8 811.1H1302.2V817.9H1295.8zM1487.2 811.1H1506.4V817.9H1487.2zM1519.1 811.1H1563.8V817.9H1519.1zM1582.9 811.1H1589.3V817.9H1582.9zM804.7 817.9H811.0V824.7H804.7zM919.5 817.9H925.9V824.7H919.5zM932.2 817.9H951.4V824.7H932.2zM983.3 817.9H1027.9V824.7H983.3zM1085.3 817.9H1091.7V824.7H1085.3zM1117.2 817.9H1136.4V824.7H1117.2zM1155.5 817.9H1200.2V824.7H1155.5zM1232.1 817.9H1251.2V824.7H1232.1zM1276.7 817.9H1302.2V824.7H1276.7zM1487.2 817.9H1506.4V824.7H1487.2zM1525.5 817.9H1544.6V824.7H1525.5zM1595.7 817.9H1602.0V824.7H1595.7zM549.5 824.7H555.9V831.5H549.5zM587.8 824.7H594.2V831.5H587.8zM606.9 824.7H613.3V831.5H606.9zM881.2 824.7H900.3V831.5H881.2zM919.5 824.7H951.4V831.5H919.5zM989.7 824.7H1027.9V831.5H989.7zM1040.7 824.7H1053.4V831.5H1040.7zM1079.0 824.7H1091.7V831.5H1079.0zM1117.2 824.7H1130.0V831.5H1117.2zM1149.1 824.7H1155.5V831.5H1149.1zM1168.3 824.7H1200.2V831.5H1168.3zM1238.4 824.7H1251.2V831.5H1238.4zM1270.3 824.7H1302.2V831.5H1270.3zM1589.3 824.7H1602.0V831.5H1589.3zM549.5 831.5H555.9V838.3H549.5zM581.4 831.5H594.2V838.3H581.4zM887.6 831.5H906.7V838.3H887.6zM996.0 831.5H1002.4V838.3H996.0zM1015.2 831.5H1072.6V838.3H1015.2zM1079.0 831.5H1130.0V838.3H1079.0zM1149.1 831.5H1155.5V838.3H1149.1zM1174.6 831.5H1206.5V838.3H1174.6zM1212.9 831.5H1225.7V838.3H1212.9zM1238.4 831.5H1257.6V838.3H1238.4zM1264.0 831.5H1289.5V838.3H1264.0zM1589.3 831.5H1595.7V838.3H1589.3zM581.4 838.3H594.2V845.1H581.4zM887.6 838.3H913.1V845.1H887.6zM996.0 838.3H1002.4V845.1H996.0zM1021.5 838.3H1047.1V845.1H1021.5zM1066.2 838.3H1072.6V845.1H1066.2zM1085.3 838.3H1123.6V845.1H1085.3zM1174.6 838.3H1257.6V845.1H1174.6zM1264.0 838.3H1276.7V845.1H1264.0zM575.0 845.1H600.5V851.8H575.0zM766.4 845.1H772.8V851.8H766.4zM862.1 845.1H868.5V851.8H862.1zM894.0 845.1H919.5V851.8H894.0zM996.0 845.1H1008.8V851.8H996.0zM1034.3 845.1H1072.6V851.8H1034.3zM1098.1 845.1H1123.6V851.8H1098.1zM1136.4 845.1H1155.5V851.8H1136.4zM1168.3 845.1H1225.7V851.8H1168.3zM1238.4 845.1H1244.8V851.8H1238.4zM1264.0 845.1H1270.3V851.8H1264.0zM1302.2 845.1H1315.0V851.8H1302.2zM1519.1 845.1H1531.9V851.8H1519.1zM1563.8 845.1H1570.1V851.8H1563.8zM568.6 851.8H613.3V858.6H568.6zM626.1 851.8H632.4V858.6H626.1zM760.0 851.8H766.4V858.6H760.0zM913.1 851.8H932.2V858.6H913.1zM1034.3 851.8H1079.0V858.6H1034.3zM1110.9 851.8H1130.0V858.6H1110.9zM1136.4 851.8H1200.2V858.6H1136.4zM1219.3 851.8H1244.8V858.6H1219.3zM1270.3 851.8H1276.7V858.6H1270.3zM1295.8 851.8H1308.6V858.6H1295.8zM1340.5 851.8H1346.9V858.6H1340.5zM562.3 858.6H619.7V865.4H562.3zM626.1 858.6H645.2V865.4H626.1zM664.3 858.6H670.7V865.4H664.3zM677.1 858.6H683.5V865.4H677.1zM760.0 858.6H766.4V865.4H760.0zM874.8 858.6H900.3V865.4H874.8zM913.1 858.6H932.2V865.4H913.1zM1027.9 858.6H1085.3V865.4H1027.9zM1117.2 858.6H1193.8V865.4H1117.2zM1283.1 858.6H1302.2V865.4H1283.1zM1346.9 858.6H1359.6V865.4H1346.9zM562.3 865.4H600.5V872.2H562.3zM626.1 865.4H651.6V872.2H626.1zM657.9 865.4H664.3V872.2H657.9zM760.0 865.4H766.4V872.2H760.0zM868.5 865.4H874.8V872.2H868.5zM1002.4 865.4H1008.8V872.2H1002.4zM1027.9 865.4H1034.3V872.2H1027.9zM1053.4 865.4H1072.6V872.2H1053.4zM1123.6 865.4H1142.7V872.2H1123.6zM1149.1 865.4H1174.6V872.2H1149.1zM1276.7 865.4H1302.2V872.2H1276.7zM1346.9 865.4H1359.6V872.2H1346.9zM626.1 872.2H632.4V879.0H626.1zM645.2 872.2H664.3V879.0H645.2zM683.5 872.2H689.8V879.0H683.5zM753.6 872.2H772.8V879.0H753.6zM1002.4 872.2H1015.2V879.0H1002.4zM1136.4 872.2H1142.7V879.0H1136.4zM1155.5 872.2H1174.6V879.0H1155.5zM1181.0 872.2H1187.4V879.0H1181.0zM1206.5 872.2H1212.9V879.0H1206.5zM1270.3 872.2H1276.7V879.0H1270.3zM1353.3 872.2H1359.6V879.0H1353.3zM1582.9 872.2H1589.3V879.0H1582.9zM626.1 879.0H632.4V885.8H626.1zM651.6 879.0H664.3V885.8H651.6zM683.5 879.0H696.2V885.8H683.5zM760.0 879.0H772.8V885.8H760.0zM855.7 879.0H862.1V885.8H855.7zM932.2 879.0H945.0V885.8H932.2zM996.0 879.0H1015.2V885.8H996.0zM1136.4 879.0H1193.8V885.8H1136.4zM1206.5 879.0H1238.4V885.8H1206.5zM1251.2 879.0H1264.0V885.8H1251.2zM1270.3 879.0H1289.5V885.8H1270.3zM1346.9 879.0H1359.6V885.8H1346.9zM1538.2 879.0H1551.0V885.8H1538.2zM1576.5 879.0H1589.3V885.8H1576.5zM575.0 885.8H600.5V892.6H575.0zM613.3 885.8H632.4V892.6H613.3zM657.9 885.8H670.7V892.6H657.9zM677.1 885.8H689.8V892.6H677.1zM760.0 885.8H772.8V892.6H760.0zM862.1 885.8H868.5V892.6H862.1zM906.7 885.8H913.1V892.6H906.7zM925.9 885.8H945.0V892.6H925.9zM996.0 885.8H1015.2V892.6H996.0zM1136.4 885.8H1193.8V892.6H1136.4zM1212.9 885.8H1238.4V892.6H1212.9zM1251.2 885.8H1257.6V892.6H1251.2zM1340.5 885.8H1353.3V892.6H1340.5zM1359.6 885.8H1372.4V892.6H1359.6zM1538.2 885.8H1551.0V892.6H1538.2zM1570.1 885.8H1589.3V892.6H1570.1zM581.4 892.6H606.9V899.4H581.4zM613.3 892.6H638.8V899.4H613.3zM657.9 892.6H677.1V899.4H657.9zM683.5 892.6H702.6V899.4H683.5zM925.9 892.6H945.0V899.4H925.9zM996.0 892.6H1015.2V899.4H996.0zM1136.4 892.6H1181.0V899.4H1136.4zM1219.3 892.6H1238.4V899.4H1219.3zM1289.5 892.6H1295.8V899.4H1289.5zM1538.2 892.6H1544.6V899.4H1538.2zM1576.5 892.6H1589.3V899.4H1576.5zM594.2 899.4H600.5V906.2H594.2zM613.3 899.4H651.6V906.2H613.3zM664.3 899.4H670.7V906.2H664.3zM689.8 899.4H709.0V906.2H689.8zM951.4 899.4H964.1V906.2H951.4zM996.0 899.4H1015.2V906.2H996.0zM1136.4 899.4H1149.1V906.2H1136.4zM1161.9 899.4H1181.0V906.2H1161.9zM1219.3 899.4H1244.8V906.2H1219.3zM1276.7 899.4H1308.6V906.2H1276.7zM626.1 906.2H651.6V913.0H626.1zM696.2 906.2H702.6V913.0H696.2zM951.4 906.2H964.1V913.0H951.4zM996.0 906.2H1015.2V913.0H996.0zM1161.9 906.2H1181.0V913.0H1161.9zM1212.9 906.2H1244.8V913.0H1212.9zM1251.2 906.2H1257.6V913.0H1251.2zM1270.3 906.2H1308.6V913.0H1270.3zM638.8 913.0H657.9V919.8H638.8zM664.3 913.0H677.1V919.8H664.3zM747.3 913.0H753.6V919.8H747.3zM811.0 913.0H823.8V919.8H811.0zM951.4 913.0H964.1V919.8H951.4zM1002.4 913.0H1015.2V919.8H1002.4zM1168.3 913.0H1181.0V919.8H1168.3zM1244.8 913.0H1257.6V919.8H1244.8zM1276.7 913.0H1283.1V919.8H1276.7zM1334.1 913.0H1346.9V919.8H1334.1zM645.2 919.8H683.5V926.5H645.2zM811.0 919.8H823.8V926.5H811.0zM1283.1 919.8H1289.5V926.5H1283.1zM651.6 926.5H702.6V933.3H651.6zM791.9 926.5H798.3V933.3H791.9zM804.7 926.5H823.8V933.3H804.7zM836.6 926.5H842.9V933.3H836.6zM881.2 926.5H887.6V933.3H881.2zM919.5 926.5H957.8V933.3H919.5zM983.3 926.5H996.0V933.3H983.3zM1174.6 926.5H1193.8V933.3H1174.6zM1289.5 926.5H1302.2V933.3H1289.5zM1321.4 926.5H1334.1V933.3H1321.4zM1576.5 926.5H1582.9V933.3H1576.5zM651.6 933.3H664.3V940.1H651.6zM683.5 933.3H702.6V940.1H683.5zM779.1 933.3H830.2V940.1H779.1zM836.6 933.3H849.3V940.1H836.6zM881.2 933.3H887.6V940.1H881.2zM964.1 933.3H976.9V940.1H964.1zM983.3 933.3H1002.4V940.1H983.3zM1040.7 933.3H1047.1V940.1H1040.7zM1130.0 933.3H1142.7V940.1H1130.0zM1174.6 933.3H1200.2V940.1H1174.6zM1212.9 933.3H1225.7V940.1H1212.9zM1264.0 933.3H1270.3V940.1H1264.0zM1295.8 933.3H1315.0V940.1H1295.8zM1576.5 933.3H1582.9V940.1H1576.5zM683.5 940.1H702.6V946.9H683.5zM779.1 940.1H830.2V946.9H779.1zM842.9 940.1H855.7V946.9H842.9zM881.2 940.1H887.6V946.9H881.2zM913.1 940.1H919.5V946.9H913.1zM957.8 940.1H976.9V946.9H957.8zM989.7 940.1H1002.4V946.9H989.7zM1117.2 940.1H1123.6V946.9H1117.2zM1181.0 940.1H1193.8V946.9H1181.0zM1212.9 940.1H1244.8V946.9H1212.9zM1257.6 940.1H1283.1V946.9H1257.6zM1295.8 940.1H1308.6V946.9H1295.8zM1321.4 940.1H1327.7V946.9H1321.4zM683.5 946.9H702.6V953.7H683.5zM766.4 946.9H817.4V953.7H766.4zM823.8 946.9H855.7V953.7H823.8zM957.8 946.9H1002.4V953.7H957.8zM1219.3 946.9H1244.8V953.7H1219.3zM1257.6 946.9H1264.0V953.7H1257.6zM1270.3 946.9H1289.5V953.7H1270.3zM1295.8 946.9H1308.6V953.7H1295.8zM1321.4 946.9H1327.7V953.7H1321.4zM1512.7 946.9H1538.2V953.7H1512.7zM766.4 953.7H772.8V960.5H766.4zM779.1 953.7H817.4V960.5H779.1zM823.8 953.7H855.7V960.5H823.8zM951.4 953.7H989.7V960.5H951.4zM996.0 953.7H1021.5V960.5H996.0zM1225.7 953.7H1238.4V960.5H1225.7zM1257.6 953.7H1289.5V960.5H1257.6zM1321.4 953.7H1334.1V960.5H1321.4zM1531.9 953.7H1544.6V960.5H1531.9zM689.8 960.5H696.2V967.3H689.8zM702.6 960.5H709.0V967.3H702.6zM766.4 960.5H798.3V967.3H766.4zM804.7 960.5H817.4V967.3H804.7zM830.2 960.5H862.1V967.3H830.2zM951.4 960.5H970.5V967.3H951.4zM983.3 960.5H996.0V967.3H983.3zM1008.8 960.5H1027.9V967.3H1008.8zM1091.7 960.5H1123.6V967.3H1091.7zM1257.6 960.5H1264.0V967.3H1257.6zM1321.4 960.5H1334.1V967.3H1321.4zM696.2 967.3H709.0V974.1H696.2zM760.0 967.3H791.9V974.1H760.0zM798.3 967.3H868.5V974.1H798.3zM881.2 967.3H887.6V974.1H881.2zM906.7 967.3H913.1V974.1H906.7zM951.4 967.3H1008.8V974.1H951.4zM1085.3 967.3H1091.7V974.1H1085.3zM1117.2 967.3H1123.6V974.1H1117.2zM1321.4 967.3H1340.5V974.1H1321.4zM753.6 974.1H791.9V980.9H753.6zM798.3 974.1H855.7V980.9H798.3zM862.1 974.1H868.5V980.9H862.1zM906.7 974.1H925.9V980.9H906.7zM951.4 974.1H970.5V980.9H951.4zM976.9 974.1H1002.4V980.9H976.9zM1085.3 974.1H1091.7V980.9H1085.3zM1110.9 974.1H1136.4V980.9H1110.9zM1244.8 974.1H1251.2V980.9H1244.8zM1308.6 974.1H1327.7V980.9H1308.6zM753.6 980.9H785.5V987.7H753.6zM811.0 980.9H855.7V987.7H811.0zM868.5 980.9H881.2V987.7H868.5zM894.0 980.9H906.7V987.7H894.0zM983.3 980.9H1002.4V987.7H983.3zM1110.9 980.9H1130.0V987.7H1110.9zM1155.5 980.9H1161.9V987.7H1155.5zM1174.6 980.9H1181.0V987.7H1174.6zM1244.8 980.9H1257.6V987.7H1244.8zM1289.5 980.9H1295.8V987.7H1289.5zM1315.0 980.9H1327.7V987.7H1315.0zM1563.8 980.9H1570.1V987.7H1563.8zM760.0 987.7H785.5V994.4H760.0zM791.9 987.7H862.1V994.4H791.9zM868.5 987.7H900.3V994.4H868.5zM945.0 987.7H957.8V994.4H945.0zM964.1 987.7H996.0V994.4H964.1zM1059.8 987.7H1066.2V994.4H1059.8zM1117.2 987.7H1123.6V994.4H1117.2zM1136.4 987.7H1142.7V994.4H1136.4zM1149.1 987.7H1161.9V994.4H1149.1zM1174.6 987.7H1187.4V994.4H1174.6zM1219.3 987.7H1232.1V994.4H1219.3zM1244.8 987.7H1257.6V994.4H1244.8zM1270.3 987.7H1276.7V994.4H1270.3zM1321.4 987.7H1327.7V994.4H1321.4zM1563.8 987.7H1570.1V994.4H1563.8zM760.0 994.4H785.5V1001.2H760.0zM798.3 994.4H817.4V1001.2H798.3zM836.6 994.4H862.1V1001.2H836.6zM868.5 994.4H894.0V1001.2H868.5zM919.5 994.4H932.2V1001.2H919.5zM945.0 994.4H957.8V1001.2H945.0zM964.1 994.4H1002.4V1001.2H964.1zM1021.5 994.4H1040.7V1001.2H1021.5zM1066.2 994.4H1079.0V1001.2H1066.2zM1110.9 994.4H1123.6V1001.2H1110.9zM1270.3 994.4H1283.1V1001.2H1270.3zM1315.0 994.4H1327.7V1001.2H1315.0zM1563.8 994.4H1570.1V1001.2H1563.8zM747.3 1001.2H785.5V1008.0H747.3zM804.7 1001.2H823.8V1008.0H804.7zM836.6 1001.2H842.9V1008.0H836.6zM874.8 1001.2H881.2V1008.0H874.8zM919.5 1001.2H932.2V1008.0H919.5zM970.5 1001.2H1008.8V1008.0H970.5zM1021.5 1001.2H1034.3V1008.0H1021.5zM1085.3 1001.2H1098.1V1008.0H1085.3zM1104.5 1001.2H1130.0V1008.0H1104.5zM1136.4 1001.2H1142.7V1008.0H1136.4zM1264.0 1001.2H1283.1V1008.0H1264.0zM1315.0 1001.2H1321.4V1008.0H1315.0zM760.0 1008.0H791.9V1014.8H760.0zM798.3 1008.0H849.3V1014.8H798.3zM862.1 1008.0H874.8V1014.8H862.1zM919.5 1008.0H925.9V1014.8H919.5zM951.4 1008.0H964.1V1014.8H951.4zM976.9 1008.0H1015.2V1014.8H976.9zM1021.5 1008.0H1027.9V1014.8H1021.5zM1098.1 1008.0H1110.9V1014.8H1098.1zM1117.2 1008.0H1142.7V1014.8H1117.2zM1168.3 1008.0H1181.0V1014.8H1168.3zM1270.3 1008.0H1283.1V1014.8H1270.3zM1315.0 1008.0H1321.4V1014.8H1315.0zM760.0 1014.8H855.7V1021.6H760.0zM862.1 1014.8H881.2V1021.6H862.1zM938.6 1014.8H1002.4V1021.6H938.6zM1015.2 1014.8H1027.9V1021.6H1015.2zM1117.2 1014.8H1142.7V1021.6H1117.2zM1168.3 1014.8H1174.6V1021.6H1168.3zM1321.4 1014.8H1340.5V1021.6H1321.4zM791.9 1021.6H804.7V1028.4H791.9zM817.4 1021.6H855.7V1028.4H817.4zM874.8 1021.6H887.6V1028.4H874.8zM938.6 1021.6H1008.8V1028.4H938.6zM1117.2 1021.6H1142.7V1028.4H1117.2zM1168.3 1021.6H1181.0V1028.4H1168.3zM1302.2 1021.6H1308.6V1028.4H1302.2zM1334.1 1021.6H1346.9V1028.4H1334.1zM791.9 1028.4H900.3V1035.2H791.9zM945.0 1028.4H1002.4V1035.2H945.0zM1091.7 1028.4H1104.5V1035.2H1091.7zM1117.2 1028.4H1142.7V1035.2H1117.2zM1168.3 1028.4H1181.0V1035.2H1168.3zM1200.2 1028.4H1219.3V1035.2H1200.2zM1302.2 1028.4H1315.0V1035.2H1302.2zM1334.1 1028.4H1346.9V1035.2H1334.1zM779.1 1035.2H791.9V1042.0H779.1zM798.3 1035.2H868.5V1042.0H798.3zM894.0 1035.2H906.7V1042.0H894.0zM957.8 1035.2H996.0V1042.0H957.8zM1098.1 1035.2H1142.7V1042.0H1098.1zM1193.8 1035.2H1212.9V1042.0H1193.8zM1238.4 1035.2H1251.2V1042.0H1238.4zM1276.7 1035.2H1315.0V1042.0H1276.7zM1327.7 1035.2H1340.5V1042.0H1327.7zM779.1 1042.0H785.5V1048.8H779.1zM798.3 1042.0H811.0V1048.8H798.3zM817.4 1042.0H836.6V1048.8H817.4zM868.5 1042.0H874.8V1048.8H868.5zM900.3 1042.0H925.9V1048.8H900.3zM957.8 1042.0H996.0V1048.8H957.8zM1117.2 1042.0H1142.7V1048.8H1117.2zM1193.8 1042.0H1206.5V1048.8H1193.8zM1238.4 1042.0H1244.8V1048.8H1238.4zM1276.7 1042.0H1308.6V1048.8H1276.7zM1321.4 1042.0H1334.1V1048.8H1321.4zM791.9 1048.8H804.7V1055.6H791.9zM823.8 1048.8H842.9V1055.6H823.8zM868.5 1048.8H874.8V1055.6H868.5zM887.6 1048.8H932.2V1055.6H887.6zM945.0 1048.8H951.4V1055.6H945.0zM964.1 1048.8H976.9V1055.6H964.1zM983.3 1048.8H1021.5V1055.6H983.3zM1123.6 1048.8H1149.1V1055.6H1123.6zM1168.3 1048.8H1174.6V1055.6H1168.3zM1187.4 1048.8H1212.9V1055.6H1187.4zM1232.1 1048.8H1244.8V1055.6H1232.1zM1270.3 1048.8H1289.5V1055.6H1270.3zM1321.4 1048.8H1327.7V1055.6H1321.4zM823.8 1055.6H842.9V1062.4H823.8zM849.3 1055.6H957.8V1062.4H849.3zM983.3 1055.6H1021.5V1062.4H983.3zM1142.7 1055.6H1155.5V1062.4H1142.7zM1187.4 1055.6H1238.4V1062.4H1187.4zM1257.6 1055.6H1270.3V1062.4H1257.6zM1276.7 1055.6H1289.5V1062.4H1276.7zM1315.0 1055.6H1327.7V1062.4H1315.0zM823.8 1062.4H836.6V1069.1H823.8zM849.3 1062.4H881.2V1069.1H849.3zM887.6 1062.4H964.1V1069.1H887.6zM983.3 1062.4H1021.5V1069.1H983.3zM1149.1 1062.4H1155.5V1069.1H1149.1zM1168.3 1062.4H1238.4V1069.1H1168.3zM1244.8 1062.4H1334.1V1069.1H1244.8zM791.9 1069.1H804.7V1075.9H791.9zM823.8 1069.1H830.2V1075.9H823.8zM868.5 1069.1H881.2V1075.9H868.5zM894.0 1069.1H964.1V1075.9H894.0zM996.0 1069.1H1021.5V1075.9H996.0zM1168.3 1069.1H1212.9V1075.9H1168.3zM1232.1 1069.1H1321.4V1075.9H1232.1zM760.0 1075.9H766.4V1082.7H760.0zM791.9 1075.9H830.2V1082.7H791.9zM842.9 1075.9H855.7V1082.7H842.9zM868.5 1075.9H874.8V1082.7H868.5zM900.3 1075.9H913.1V1082.7H900.3zM919.5 1075.9H964.1V1082.7H919.5zM1168.3 1075.9H1174.6V1082.7H1168.3zM1238.4 1075.9H1244.8V1082.7H1238.4zM1251.2 1075.9H1257.6V1082.7H1251.2zM1276.7 1075.9H1289.5V1082.7H1276.7zM747.3 1082.7H766.4V1089.5H747.3zM798.3 1082.7H830.2V1089.5H798.3zM842.9 1082.7H849.3V1089.5H842.9zM868.5 1082.7H874.8V1089.5H868.5zM900.3 1082.7H913.1V1089.5H900.3zM925.9 1082.7H970.5V1089.5H925.9zM1251.2 1082.7H1264.0V1089.5H1251.2zM1276.7 1082.7H1283.1V1089.5H1276.7zM747.3 1089.5H766.4V1096.3H747.3zM804.7 1089.5H823.8V1096.3H804.7zM855.7 1089.5H874.8V1096.3H855.7zM894.0 1089.5H989.7V1096.3H894.0zM747.3 1096.3H817.4V1103.1H747.3zM849.3 1096.3H862.1V1103.1H849.3zM900.3 1096.3H996.0V1103.1H900.3zM1302.2 1096.3H1315.0V1103.1H1302.2zM753.6 1103.1H772.8V1109.9H753.6zM791.9 1103.1H811.0V1109.9H791.9zM842.9 1103.1H862.1V1109.9H842.9zM894.0 1103.1H996.0V1109.9H894.0zM760.0 1109.9H772.8V1116.7H760.0zM785.5 1109.9H804.7V1116.7H785.5zM836.6 1109.9H862.1V1116.7H836.6zM894.0 1109.9H1002.4V1116.7H894.0zM760.0 1116.7H772.8V1123.5H760.0zM779.1 1116.7H804.7V1123.5H779.1zM836.6 1116.7H842.9V1123.5H836.6zM849.3 1116.7H855.7V1123.5H849.3zM894.0 1116.7H1002.4V1123.5H894.0zM760.0 1123.5H772.8V1130.3H760.0zM779.1 1123.5H811.0V1130.3H779.1zM830.2 1123.5H836.6V1130.3H830.2zM887.6 1123.5H1008.8V1130.3H887.6zM1015.2 1123.5H1027.9V1130.3H1015.2zM766.4 1130.3H823.8V1137.0H766.4zM830.2 1130.3H836.6V1137.0H830.2zM887.6 1130.3H1008.8V1137.0H887.6zM1015.2 1130.3H1021.5V1137.0H1015.2zM779.1 1137.0H798.3V1143.8H779.1zM804.7 1137.0H817.4V1143.8H804.7zM881.2 1137.0H1015.2V1143.8H881.2zM779.1 1143.8H811.0V1150.6H779.1zM874.8 1143.8H1015.2V1150.6H874.8zM772.8 1150.6H779.1V1157.4H772.8zM785.5 1150.6H811.0V1157.4H785.5zM874.8 1150.6H1015.2V1157.4H874.8zM791.9 1157.4H811.0V1164.2H791.9zM817.4 1157.4H830.2V1164.2H817.4zM855.7 1157.4H976.9V1164.2H855.7zM983.3 1157.4H1015.2V1164.2H983.3zM791.9 1164.2H811.0V1171.0H791.9zM817.4 1164.2H830.2V1171.0H817.4zM849.3 1164.2H855.7V1171.0H849.3zM862.1 1164.2H938.6V1171.0H862.1zM945.0 1164.2H976.9V1171.0H945.0zM983.3 1164.2H1015.2V1171.0H983.3zM785.5 1171.0H823.8V1177.8H785.5zM849.3 1171.0H913.1V1177.8H849.3zM957.8 1171.0H1015.2V1177.8H957.8zM760.0 1177.8H766.4V1184.6H760.0zM772.8 1177.8H906.7V1184.6H772.8zM957.8 1177.8H1021.5V1184.6H957.8zM1027.9 1177.8H1040.7V1184.6H1027.9zM747.3 1184.6H804.7V1191.4H747.3zM823.8 1184.6H836.6V1191.4H823.8zM849.3 1184.6H894.0V1191.4H849.3zM957.8 1184.6H1021.5V1191.4H957.8zM779.1 1191.4H798.3V1198.2H779.1zM849.3 1191.4H855.7V1198.2H849.3zM868.5 1191.4H881.2V1198.2H868.5zM957.8 1191.4H1021.5V1198.2H957.8zM779.1 1198.2H791.9V1205.0H779.1zM957.8 1198.2H1027.9V1205.0H957.8zM766.4 1205.0H779.1V1211.7H766.4zM785.5 1205.0H791.9V1211.7H785.5zM945.0 1205.0H1040.7V1211.7H945.0zM747.3 1211.7H791.9V1218.5H747.3zM842.9 1211.7H849.3V1218.5H842.9zM932.2 1211.7H938.6V1218.5H932.2zM945.0 1211.7H1040.7V1218.5H945.0zM753.6 1218.5H791.9V1225.3H753.6zM804.7 1218.5H817.4V1225.3H804.7zM823.8 1218.5H849.3V1225.3H823.8zM932.2 1218.5H938.6V1225.3H932.2zM957.8 1218.5H1040.7V1225.3H957.8zM766.4 1225.3H785.5V1232.1H766.4zM804.7 1225.3H849.3V1232.1H804.7zM951.4 1225.3H1047.1V1232.1H951.4zM804.7 1232.1H817.4V1238.9H804.7zM830.2 1232.1H842.9V1238.9H830.2zM945.0 1232.1H1040.7V1238.9H945.0zM753.6 1238.9H760.0V1245.7H753.6zM804.7 1238.9H817.4V1245.7H804.7zM945.0 1238.9H1040.7V1245.7H945.0zM760.0 1245.7H772.8V1252.5H760.0zM804.7 1245.7H823.8V1252.5H804.7zM951.4 1245.7H1034.3V1252.5H951.4zM753.6 1252.5H772.8V1259.3H753.6zM791.9 1252.5H823.8V1259.3H791.9zM957.8 1252.5H996.0V1259.3H957.8zM785.5 1259.3H830.2V1266.1H785.5zM964.1 1259.3H983.3V1266.1H964.1zM760.0 1266.1H766.4V1272.9H760.0zM779.1 1266.1H830.2V1272.9H779.1zM760.0 1272.9H804.7V1279.6H760.0zM760.0 1279.6H804.7V1286.4H760.0zM894.0 1279.6H919.5V1286.4H894.0zM760.0 1286.4H791.9V1293.2H760.0zM798.3 1286.4H804.7V1293.2H798.3zM887.6 1286.4H925.9V1293.2H887.6zM887.6 1293.2H919.5V1300.0H887.6zM894.0 1300.0H919.5V1306.8H894.0zM900.3 1306.8H919.5V1313.6H900.3zM683.5 1313.6H689.8V1320.4H683.5zM906.7 1313.6H925.9V1320.4H906.7zM970.5 1313.6H976.9V1320.4H970.5zM683.5 1320.4H689.8V1327.2H683.5zM906.7 1320.4H925.9V1327.2H906.7zM951.4 1320.4H989.7V1327.2H951.4zM664.3 1327.2H670.7V1334.0H664.3zM766.4 1327.2H772.8V1334.0H766.4zM906.7 1327.2H983.3V1334.0H906.7zM664.3 1334.0H670.7V1340.8H664.3zM906.7 1334.0H983.3V1340.8H906.7zM664.3 1340.8H670.7V1347.6H664.3zM683.5 1340.8H689.8V1347.6H683.5zM906.7 1340.8H976.9V1347.6H906.7zM664.3 1347.6H715.4V1354.3H664.3zM906.7 1347.6H938.6V1354.3H906.7zM945.0 1347.6H951.4V1354.3H945.0zM964.1 1347.6H976.9V1354.3H964.1zM664.3 1354.3H709.0V1361.1H664.3zM906.7 1354.3H932.2V1361.1H906.7zM951.4 1354.3H970.5V1361.1H951.4zM664.3 1361.1H709.0V1367.9H664.3zM670.7 1367.9H709.0V1374.7H670.7zM702.6 1381.5H721.7V1388.3H702.6zM951.4 1381.5H964.1V1388.3H951.4zM696.2 1388.3H721.7V1395.1H696.2zM696.2 1395.1H728.1V1401.9H696.2zM696.2 1401.9H721.7V1408.7H696.2zM696.2 1408.7H728.1V1415.5H696.2zM702.6 1415.5H721.7V1422.2H702.6zM976.9 1415.5H983.3V1422.2H976.9zM925.9 1456.2H932.2V1463.0H925.9zM951.4 1463.0H976.9V1469.8H951.4zM919.5 1469.8H925.9V1476.6H919.5zM938.6 1469.8H983.3V1476.6H938.6zM913.1 1476.6H925.9V1483.4H913.1zM938.6 1476.6H983.3V1483.4H938.6zM913.1 1483.4H925.9V1490.2H913.1zM932.2 1483.4H983.3V1490.2H932.2zM906.7 1490.2H983.3V1496.9H906.7zM906.7 1496.9H989.7V1503.7H906.7zM906.7 1503.7H970.5V1510.5H906.7zM913.1 1510.5H925.9V1517.3H913.1zM938.6 1510.5H957.8V1517.3H938.6zM964.1 1510.5H970.5V1517.3H964.1zM900.3 1517.3H925.9V1524.1H900.3zM938.6 1517.3H951.4V1524.1H938.6zM970.5 1517.3H976.9V1524.1H970.5zM894.0 1524.1H919.5V1530.9H894.0zM925.9 1524.1H951.4V1530.9H925.9zM842.9 1530.9H855.7V1537.7H842.9zM881.2 1530.9H913.1V1537.7H881.2zM925.9 1530.9H932.2V1537.7H925.9zM938.6 1530.9H957.8V1537.7H938.6zM964.1 1530.9H989.7V1537.7H964.1zM836.6 1537.7H932.2V1544.5H836.6zM945.0 1537.7H964.1V1544.5H945.0zM976.9 1537.7H996.0V1544.5H976.9zM836.6 1544.5H849.3V1551.3H836.6zM862.1 1544.5H932.2V1551.3H862.1zM836.6 1551.3H842.9V1558.1H836.6zM855.7 1551.3H938.6V1558.1H855.7zM945.0 1551.3H951.4V1558.1H945.0zM836.6 1558.1H868.5V1564.8H836.6zM881.2 1558.1H938.6V1564.8H881.2zM830.2 1564.8H874.8V1571.6H830.2zM881.2 1564.8H932.2V1571.6H881.2zM989.7 1564.8H996.0V1571.6H989.7zM798.3 1571.6H811.0V1578.4H798.3zM823.8 1571.6H881.2V1578.4H823.8zM887.6 1571.6H938.6V1578.4H887.6zM989.7 1571.6H996.0V1578.4H989.7zM798.3 1578.4H938.6V1585.2H798.3zM945.0 1578.4H951.4V1585.2H945.0zM804.7 1585.2H957.8V1592.0H804.7zM779.1 1592.0H791.9V1598.8H779.1zM804.7 1592.0H957.8V1598.8H804.7zM772.8 1598.8H862.1V1605.6H772.8zM874.8 1598.8H957.8V1605.6H874.8zM760.0 1605.6H785.5V1612.4H760.0zM804.7 1605.6H862.1V1612.4H804.7zM868.5 1605.6H957.8V1612.4H868.5zM753.6 1612.4H785.5V1619.2H753.6zM798.3 1612.4H894.0V1619.2H798.3zM900.3 1612.4H957.8V1619.2H900.3zM740.9 1619.2H817.4V1626.0H740.9zM823.8 1619.2H894.0V1626.0H823.8zM900.3 1619.2H957.8V1626.0H900.3zM740.9 1626.0H779.1V1632.8H740.9zM791.9 1626.0H804.7V1632.8H791.9zM823.8 1626.0H894.0V1632.8H823.8zM900.3 1626.0H957.8V1632.8H900.3zM740.9 1632.8H760.0V1639.5H740.9zM791.9 1632.8H957.8V1639.5H791.9zM734.5 1639.5H772.8V1646.3H734.5zM811.0 1639.5H862.1V1646.3H811.0zM868.5 1639.5H945.0V1646.3H868.5zM734.5 1646.3H740.9V1653.1H734.5zM747.3 1646.3H779.1V1653.1H747.3zM804.7 1646.3H817.4V1653.1H804.7zM830.2 1646.3H887.6V1653.1H830.2zM894.0 1646.3H932.2V1653.1H894.0zM740.9 1653.1H772.8V1659.9H740.9zM798.3 1653.1H817.4V1659.9H798.3zM836.6 1653.1H919.5V1659.9H836.6zM740.9 1659.9H772.8V1666.7H740.9zM798.3 1659.9H817.4V1666.7H798.3zM830.2 1659.9H913.1V1666.7H830.2zM740.9 1666.7H785.5V1673.5H740.9zM798.3 1666.7H830.2V1673.5H798.3zM842.9 1666.7H913.1V1673.5H842.9zM747.3 1673.5H760.0V1680.3H747.3zM779.1 1673.5H823.8V1680.3H779.1zM836.6 1673.5H868.5V1680.3H836.6zM881.2 1673.5H913.1V1680.3H881.2zM740.9 1680.3H760.0V1687.1H740.9zM779.1 1680.3H868.5V1687.1H779.1zM881.2 1680.3H913.1V1687.1H881.2zM734.5 1687.1H760.0V1693.9H734.5zM772.8 1687.1H862.1V1693.9H772.8zM881.2 1687.1H900.3V1693.9H881.2zM734.5 1693.9H766.4V1700.7H734.5zM772.8 1693.9H855.7V1700.7H772.8zM874.8 1693.9H894.0V1700.7H874.8zM734.5 1700.7H849.3V1707.4H734.5zM874.8 1700.7H887.6V1707.4H874.8zM734.5 1707.4H855.7V1714.2H734.5zM740.9 1714.2H811.0V1721.0H740.9zM823.8 1714.2H855.7V1721.0H823.8zM862.1 1714.2H868.5V1721.0H862.1zM747.3 1721.0H791.9V1727.8H747.3zM798.3 1721.0H811.0V1727.8H798.3zM830.2 1721.0H862.1V1727.8H830.2zM747.3 1727.8H798.3V1734.6H747.3zM836.6 1727.8H855.7V1734.6H836.6zM709.0 1734.6H728.1V1741.4H709.0zM740.9 1734.6H753.6V1741.4H740.9zM766.4 1734.6H791.9V1741.4H766.4zM823.8 1734.6H836.6V1741.4H823.8zM874.8 1734.6H881.2V1741.4H874.8zM887.6 1734.6H900.3V1741.4H887.6zM715.4 1741.4H728.1V1748.2H715.4zM740.9 1741.4H753.6V1748.2H740.9zM760.0 1741.4H791.9V1748.2H760.0zM804.7 1741.4H836.6V1748.2H804.7zM887.6 1741.4H900.3V1748.2H887.6zM715.4 1748.2H747.3V1755.0H715.4zM760.0 1748.2H855.7V1755.0H760.0zM887.6 1748.2H894.0V1755.0H887.6zM709.0 1755.0H740.9V1761.8H709.0zM760.0 1755.0H868.5V1761.8H760.0zM881.2 1755.0H894.0V1761.8H881.2zM702.6 1761.8H740.9V1768.6H702.6zM760.0 1761.8H804.7V1768.6H760.0zM811.0 1761.8H887.6V1768.6H811.0zM702.6 1768.6H747.3V1775.4H702.6zM760.0 1768.6H849.3V1775.4H760.0zM855.7 1768.6H868.5V1775.4H855.7zM702.6 1775.4H772.8V1782.1H702.6zM779.1 1775.4H849.3V1782.1H779.1zM855.7 1775.4H868.5V1782.1H855.7zM702.6 1782.1H772.8V1788.9H702.6zM779.1 1782.1H868.5V1788.9H779.1zM702.6 1788.9H715.4V1795.7H702.6zM728.1 1788.9H868.5V1795.7H728.1zM709.0 1795.7H715.4V1802.5H709.0zM728.1 1795.7H798.3V1802.5H728.1zM804.7 1795.7H874.8V1802.5H804.7zM721.7 1802.5H868.5V1809.3H721.7zM709.0 1809.3H715.4V1816.1H709.0zM728.1 1809.3H734.5V1816.1H728.1zM747.3 1809.3H862.1V1816.1H747.3zM702.6 1816.1H721.7V1822.9H702.6zM747.3 1816.1H817.4V1822.9H747.3zM849.3 1816.1H855.7V1822.9H849.3zM696.2 1822.9H728.1V1829.7H696.2zM760.0 1822.9H791.9V1829.7H760.0zM696.2 1829.7H728.1V1836.5H696.2zM772.8 1829.7H779.1V1836.5H772.8zM696.2 1836.5H734.5V1843.3H696.2zM696.2 1843.3H728.1V1850.0H696.2zM772.8 1843.3H779.1V1850.0H772.8zM836.6 1843.3H842.9V1850.0H836.6zM670.7 1850.0H677.1V1856.8H670.7zM696.2 1850.0H728.1V1856.8H696.2zM772.8 1850.0H785.5V1856.8H772.8zM836.6 1850.0H849.3V1856.8H836.6zM702.6 1856.8H709.0V1863.6H702.6zM791.9 1856.8H804.7V1863.6H791.9zM830.2 1856.8H849.3V1863.6H830.2zM785.5 1863.6H817.4V1870.4H785.5zM823.8 1863.6H849.3V1870.4H823.8zM779.1 1870.4H785.5V1877.2H779.1zM798.3 1870.4H804.7V1877.2H798.3zM823.8 1870.4H849.3V1877.2H823.8zM772.8 1877.2H791.9V1884.0H772.8zM798.3 1877.2H842.9V1884.0H798.3zM779.1 1884.0H842.9V1890.8H779.1zM760.0 1890.8H772.8V1897.6H760.0zM779.1 1890.8H785.5V1897.6H779.1zM791.9 1890.8H836.6V1897.6H791.9zM753.6 1897.6H836.6V1904.4H753.6zM740.9 1904.4H830.2V1911.2H740.9zM740.9 1911.2H804.7V1918.0H740.9zM811.0 1911.2H823.8V1918.0H811.0zM740.9 1918.0H817.4V1924.7H740.9zM740.9 1924.7H779.1V1931.5H740.9zM798.3 1924.7H804.7V1931.5H798.3zM740.9 1931.5H747.3V1938.3H740.9zM785.5 1931.5H791.9V1938.3H785.5z"/>
<path fill="#fffebe" d="M1091.7 227.1H1104.5V233.9H1091.7zM1110.9 233.9H1123.6V240.7H1110.9zM1161.9 233.9H1168.3V240.7H1161.9zM1085.3 240.7H1091.7V247.5H1085.3zM1104.5 240.7H1110.9V247.5H1104.5zM1123.6 240.7H1142.7V247.5H1123.6zM1155.5 240.7H1168.3V247.5H1155.5zM1072.6 247.5H1091.7V254.3H1072.6zM1130.0 247.5H1142.7V254.3H1130.0zM1161.9 247.5H1168.3V254.3H1161.9zM1079.0 254.3H1091.7V261.1H1079.0zM1136.4 254.3H1142.7V261.1H1136.4zM1066.2 267.9H1079.0V274.7H1066.2zM1098.1 267.9H1104.5V274.7H1098.1zM1110.9 267.9H1123.6V274.7H1110.9zM1040.7 274.7H1053.4V281.4H1040.7zM1079.0 274.7H1085.3V281.4H1079.0zM1091.7 274.7H1098.1V281.4H1091.7zM1110.9 274.7H1123.6V281.4H1110.9zM1181.0 274.7H1187.4V281.4H1181.0zM1008.8 281.4H1021.5V288.2H1008.8zM1098.1 281.4H1104.5V288.2H1098.1zM1110.9 281.4H1117.2V288.2H1110.9zM1174.6 281.4H1181.0V288.2H1174.6zM1187.4 281.4H1206.5V288.2H1187.4zM1002.4 288.2H1040.7V295.0H1002.4zM1098.1 288.2H1104.5V295.0H1098.1zM1130.0 288.2H1136.4V295.0H1130.0zM1181.0 288.2H1193.8V295.0H1181.0zM1002.4 295.0H1034.3V301.8H1002.4zM1123.6 295.0H1136.4V301.8H1123.6zM1181.0 295.0H1187.4V301.8H1181.0zM983.3 301.8H996.0V308.6H983.3zM1002.4 301.8H1034.3V308.6H1002.4zM1155.5 301.8H1161.9V308.6H1155.5zM957.8 308.6H970.5V315.4H957.8zM976.9 308.6H996.0V315.4H976.9zM1002.4 308.6H1008.8V315.4H1002.4zM1015.2 308.6H1040.7V315.4H1015.2zM1072.6 308.6H1079.0V315.4H1072.6zM1136.4 308.6H1149.1V315.4H1136.4zM1174.6 308.6H1181.0V315.4H1174.6zM951.4 315.4H970.5V322.2H951.4zM976.9 315.4H983.3V322.2H976.9zM1002.4 315.4H1008.8V322.2H1002.4zM1034.3 315.4H1040.7V322.2H1034.3zM1104.5 315.4H1110.9V322.2H1104.5zM1123.6 315.4H1142.7V322.2H1123.6zM1174.6 315.4H1181.0V322.2H1174.6zM1238.4 315.4H1244.8V322.2H1238.4zM964.1 322.2H976.9V329.0H964.1zM996.0 322.2H1015.2V329.0H996.0zM1021.5 322.2H1040.7V329.0H1021.5zM1098.1 322.2H1110.9V329.0H1098.1zM1123.6 322.2H1130.0V329.0H1123.6zM1174.6 322.2H1181.0V329.0H1174.6zM906.7 329.0H919.5V335.8H906.7zM996.0 329.0H1021.5V335.8H996.0zM1206.5 329.0H1212.9V335.8H1206.5zM1283.1 329.0H1289.5V335.8H1283.1zM906.7 335.8H925.9V342.6H906.7zM1008.8 335.8H1021.5V342.6H1008.8zM1027.9 335.8H1034.3V342.6H1027.9zM1066.2 335.8H1072.6V342.6H1066.2zM1123.6 335.8H1136.4V342.6H1123.6zM1200.2 335.8H1212.9V342.6H1200.2zM1219.3 335.8H1225.7V342.6H1219.3zM1289.5 335.8H1295.8V342.6H1289.5zM919.5 342.6H938.6V349.3H919.5zM996.0 342.6H1008.8V349.3H996.0zM1021.5 342.6H1027.9V349.3H1021.5zM1193.8 342.6H1219.3V349.3H1193.8zM1232.1 342.6H1244.8V349.3H1232.1zM1283.1 342.6H1295.8V349.3H1283.1zM900.3 349.3H919.5V356.1H900.3zM925.9 349.3H932.2V356.1H925.9zM1059.8 349.3H1066.2V356.1H1059.8zM1187.4 349.3H1193.8V356.1H1187.4zM1200.2 349.3H1232.1V356.1H1200.2zM1244.8 349.3H1251.2V356.1H1244.8zM1295.8 349.3H1302.2V356.1H1295.8zM874.8 356.1H881.2V362.9H874.8zM900.3 356.1H932.2V362.9H900.3zM938.6 356.1H945.0V362.9H938.6zM996.0 356.1H1002.4V362.9H996.0zM1008.8 356.1H1015.2V362.9H1008.8zM1034.3 356.1H1040.7V362.9H1034.3zM1123.6 356.1H1130.0V362.9H1123.6zM1187.4 356.1H1193.8V362.9H1187.4zM1200.2 356.1H1212.9V362.9H1200.2zM1295.8 356.1H1302.2V362.9H1295.8zM881.2 362.9H887.6V369.7H881.2zM900.3 362.9H906.7V369.7H900.3zM925.9 362.9H932.2V369.7H925.9zM938.6 362.9H951.4V369.7H938.6zM964.1 362.9H976.9V369.7H964.1zM1002.4 362.9H1015.2V369.7H1002.4zM1040.7 362.9H1053.4V369.7H1040.7zM1187.4 362.9H1200.2V369.7H1187.4zM1238.4 362.9H1244.8V369.7H1238.4zM874.8 369.7H881.2V376.5H874.8zM932.2 369.7H970.5V376.5H932.2zM976.9 369.7H983.3V376.5H976.9zM1002.4 369.7H1021.5V376.5H1002.4zM1040.7 369.7H1047.1V376.5H1040.7zM1168.3 369.7H1174.6V376.5H1168.3zM1181.0 369.7H1193.8V376.5H1181.0zM1232.1 369.7H1244.8V376.5H1232.1zM855.7 376.5H862.1V383.3H855.7zM932.2 376.5H938.6V383.3H932.2zM951.4 376.5H957.8V383.3H951.4zM970.5 376.5H983.3V383.3H970.5zM1002.4 376.5H1008.8V383.3H1002.4zM1015.2 376.5H1027.9V383.3H1015.2zM1181.0 376.5H1200.2V383.3H1181.0zM1206.5 376.5H1212.9V383.3H1206.5zM1232.1 376.5H1244.8V383.3H1232.1zM1257.6 376.5H1283.1V383.3H1257.6zM925.9 383.3H938.6V390.1H925.9zM951.4 383.3H957.8V390.1H951.4zM970.5 383.3H983.3V390.1H970.5zM1002.4 383.3H1021.5V390.1H1002.4zM1168.3 383.3H1181.0V390.1H1168.3zM1232.1 383.3H1238.4V390.1H1232.1zM1244.8 383.3H1251.2V390.1H1244.8zM1257.6 383.3H1276.7V390.1H1257.6zM1283.1 383.3H1308.6V390.1H1283.1zM906.7 390.1H945.0V396.9H906.7zM951.4 390.1H957.8V396.9H951.4zM964.1 390.1H970.5V396.9H964.1zM976.9 390.1H983.3V396.9H976.9zM1008.8 390.1H1021.5V396.9H1008.8zM1161.9 390.1H1168.3V396.9H1161.9zM1174.6 390.1H1187.4V396.9H1174.6zM1238.4 390.1H1244.8V396.9H1238.4zM1283.1 390.1H1302.2V396.9H1283.1zM919.5 396.9H945.0V403.7H919.5zM957.8 396.9H964.1V403.7H957.8zM1238.4 396.9H1244.8V403.7H1238.4zM1270.3 396.9H1276.7V403.7H1270.3zM1283.1 396.9H1302.2V403.7H1283.1zM957.8 403.7H964.1V410.5H957.8zM996.0 403.7H1002.4V410.5H996.0zM1212.9 403.7H1219.3V410.5H1212.9zM1232.1 403.7H1244.8V410.5H1232.1zM1270.3 403.7H1276.7V410.5H1270.3zM932.2 410.5H938.6V417.3H932.2zM951.4 410.5H957.8V417.3H951.4zM970.5 410.5H983.3V417.3H970.5zM1002.4 410.5H1008.8V417.3H1002.4zM1066.2 410.5H1072.6V417.3H1066.2zM1206.5 410.5H1212.9V417.3H1206.5zM1302.2 410.5H1315.0V417.3H1302.2zM894.0 417.3H900.3V424.0H894.0zM906.7 417.3H925.9V424.0H906.7zM938.6 417.3H957.8V424.0H938.6zM1002.4 417.3H1008.8V424.0H1002.4zM1334.1 417.3H1340.5V424.0H1334.1zM1359.6 417.3H1366.0V424.0H1359.6zM830.2 424.0H836.6V430.8H830.2zM862.1 424.0H881.2V430.8H862.1zM900.3 424.0H913.1V430.8H900.3zM1008.8 424.0H1015.2V430.8H1008.8zM1334.1 424.0H1340.5V430.8H1334.1zM1366.0 424.0H1372.4V430.8H1366.0zM798.3 430.8H804.7V437.6H798.3zM830.2 430.8H836.6V437.6H830.2zM855.7 430.8H868.5V437.6H855.7zM1008.8 430.8H1021.5V437.6H1008.8zM1359.6 430.8H1372.4V437.6H1359.6zM1378.8 430.8H1385.2V437.6H1378.8zM811.0 437.6H823.8V444.4H811.0zM855.7 437.6H874.8V444.4H855.7zM894.0 437.6H900.3V444.4H894.0zM1334.1 437.6H1340.5V444.4H1334.1zM1359.6 437.6H1385.2V444.4H1359.6zM811.0 444.4H817.4V451.2H811.0zM849.3 444.4H874.8V451.2H849.3zM887.6 444.4H894.0V451.2H887.6zM1334.1 444.4H1385.2V451.2H1334.1zM798.3 451.2H817.4V458.0H798.3zM1334.1 451.2H1340.5V458.0H1334.1zM1353.3 451.2H1372.4V458.0H1353.3zM811.0 458.0H817.4V464.8H811.0zM830.2 458.0H836.6V464.8H830.2zM849.3 458.0H855.7V464.8H849.3zM862.1 458.0H868.5V464.8H862.1zM913.1 458.0H925.9V464.8H913.1zM996.0 458.0H1002.4V464.8H996.0zM1295.8 458.0H1302.2V464.8H1295.8zM1340.5 458.0H1366.0V464.8H1340.5zM1378.8 458.0H1385.2V464.8H1378.8zM817.4 464.8H823.8V471.6H817.4zM836.6 464.8H842.9V471.6H836.6zM849.3 464.8H881.2V471.6H849.3zM894.0 464.8H900.3V471.6H894.0zM906.7 464.8H913.1V471.6H906.7zM925.9 464.8H932.2V471.6H925.9zM1346.9 464.8H1359.6V471.6H1346.9zM1372.4 464.8H1378.8V471.6H1372.4zM817.4 471.6H823.8V478.4H817.4zM830.2 471.6H836.6V478.4H830.2zM849.3 471.6H868.5V478.4H849.3zM894.0 471.6H900.3V478.4H894.0zM913.1 471.6H932.2V478.4H913.1zM1283.1 471.6H1295.8V478.4H1283.1zM1353.3 471.6H1366.0V478.4H1353.3zM1372.4 471.6H1378.8V478.4H1372.4zM823.8 478.4H830.2V485.2H823.8zM855.7 478.4H874.8V485.2H855.7zM881.2 478.4H887.6V485.2H881.2zM925.9 478.4H938.6V485.2H925.9zM1289.5 478.4H1295.8V485.2H1289.5zM1359.6 478.4H1366.0V485.2H1359.6zM1378.8 478.4H1385.2V485.2H1378.8zM1557.4 478.4H1570.1V485.2H1557.4zM817.4 485.2H823.8V491.9H817.4zM862.1 485.2H874.8V491.9H862.1zM881.2 485.2H887.6V491.9H881.2zM906.7 485.2H932.2V491.9H906.7zM938.6 485.2H945.0V491.9H938.6zM1359.6 485.2H1372.4V491.9H1359.6zM1531.9 485.2H1538.2V491.9H1531.9zM1557.4 485.2H1570.1V491.9H1557.4zM811.0 491.9H817.4V498.7H811.0zM830.2 491.9H836.6V498.7H830.2zM862.1 491.9H894.0V498.7H862.1zM906.7 491.9H919.5V498.7H906.7zM932.2 491.9H951.4V498.7H932.2zM1366.0 491.9H1378.8V498.7H1366.0zM1531.9 491.9H1538.2V498.7H1531.9zM1557.4 491.9H1576.5V498.7H1557.4zM791.9 498.7H798.3V505.5H791.9zM811.0 498.7H817.4V505.5H811.0zM823.8 498.7H830.2V505.5H823.8zM855.7 498.7H862.1V505.5H855.7zM887.6 498.7H894.0V505.5H887.6zM925.9 498.7H932.2V505.5H925.9zM938.6 498.7H945.0V505.5H938.6zM1366.0 498.7H1372.4V505.5H1366.0zM1531.9 498.7H1544.6V505.5H1531.9zM1557.4 498.7H1563.8V505.5H1557.4zM791.9 505.5H798.3V512.3H791.9zM855.7 505.5H862.1V512.3H855.7zM887.6 505.5H894.0V512.3H887.6zM919.5 505.5H925.9V512.3H919.5zM1334.1 505.5H1359.6V512.3H1334.1zM855.7 512.3H862.1V519.1H855.7zM868.5 512.3H894.0V519.1H868.5zM932.2 512.3H951.4V519.1H932.2zM1353.3 512.3H1366.0V519.1H1353.3zM811.0 519.1H817.4V525.9H811.0zM823.8 519.1H830.2V525.9H823.8zM868.5 519.1H881.2V525.9H868.5zM887.6 519.1H894.0V525.9H887.6zM938.6 519.1H951.4V525.9H938.6zM811.0 525.9H817.4V532.7H811.0zM1283.1 525.9H1289.5V532.7H1283.1zM1589.3 525.9H1608.4V532.7H1589.3zM830.2 532.7H836.6V539.5H830.2zM1283.1 532.7H1289.5V539.5H1283.1zM1327.7 532.7H1334.1V539.5H1327.7zM1480.8 532.7H1487.2V539.5H1480.8zM1595.7 532.7H1602.0V539.5H1595.7zM1608.4 532.7H1614.8V539.5H1608.4zM453.8 539.5H460.2V546.3H453.8zM473.0 539.5H485.7V546.3H473.0zM798.3 539.5H811.0V546.3H798.3zM817.4 539.5H823.8V546.3H817.4zM830.2 539.5H836.6V546.3H830.2zM874.8 539.5H881.2V546.3H874.8zM938.6 539.5H945.0V546.3H938.6zM1257.6 539.5H1289.5V546.3H1257.6zM1321.4 539.5H1334.1V546.3H1321.4zM1480.8 539.5H1487.2V546.3H1480.8zM1602.0 539.5H1608.4V546.3H1602.0zM1621.2 539.5H1627.6V546.3H1621.2zM1633.9 539.5H1640.3V546.3H1633.9zM453.8 546.3H479.3V553.1H453.8zM817.4 546.3H823.8V553.1H817.4zM830.2 546.3H836.6V553.1H830.2zM868.5 546.3H881.2V553.1H868.5zM938.6 546.3H945.0V553.1H938.6zM1181.0 546.3H1187.4V553.1H1181.0zM1206.5 546.3H1219.3V553.1H1206.5zM1353.3 546.3H1359.6V553.1H1353.3zM1627.6 546.3H1646.7V553.1H1627.6zM772.8 553.1H779.1V559.9H772.8zM817.4 553.1H830.2V559.9H817.4zM836.6 553.1H842.9V559.9H836.6zM874.8 553.1H881.2V559.9H874.8zM1066.2 553.1H1079.0V559.9H1066.2zM1212.9 553.1H1219.3V559.9H1212.9zM1289.5 553.1H1295.8V559.9H1289.5zM1321.4 553.1H1327.7V559.9H1321.4zM1346.9 553.1H1359.6V559.9H1346.9zM1621.2 553.1H1646.7V559.9H1621.2zM479.3 559.9H485.7V566.6H479.3zM772.8 559.9H785.5V566.6H772.8zM804.7 559.9H811.0V566.6H804.7zM842.9 559.9H849.3V566.6H842.9zM1085.3 559.9H1091.7V566.6H1085.3zM1251.2 559.9H1264.0V566.6H1251.2zM1283.1 559.9H1289.5V566.6H1283.1zM1346.9 559.9H1353.3V566.6H1346.9zM1525.5 559.9H1531.9V566.6H1525.5zM1602.0 559.9H1608.4V566.6H1602.0zM1627.6 559.9H1633.9V566.6H1627.6zM453.8 566.6H460.2V573.4H453.8zM473.0 566.6H479.3V573.4H473.0zM766.4 566.6H772.8V573.4H766.4zM785.5 566.6H791.9V573.4H785.5zM836.6 566.6H849.3V573.4H836.6zM932.2 566.6H945.0V573.4H932.2zM976.9 566.6H983.3V573.4H976.9zM1066.2 566.6H1072.6V573.4H1066.2zM1110.9 566.6H1117.2V573.4H1110.9zM1238.4 566.6H1276.7V573.4H1238.4zM1283.1 566.6H1295.8V573.4H1283.1zM1353.3 566.6H1359.6V573.4H1353.3zM1378.8 566.6H1385.2V573.4H1378.8zM1563.8 566.6H1570.1V573.4H1563.8zM1595.7 566.6H1608.4V573.4H1595.7zM1627.6 566.6H1633.9V573.4H1627.6zM1653.1 566.6H1659.4V573.4H1653.1zM479.3 573.4H492.1V580.2H479.3zM766.4 573.4H785.5V580.2H766.4zM836.6 573.4H842.9V580.2H836.6zM855.7 573.4H868.5V580.2H855.7zM938.6 573.4H976.9V580.2H938.6zM1091.7 573.4H1098.1V580.2H1091.7zM1104.5 573.4H1110.9V580.2H1104.5zM1117.2 573.4H1123.6V580.2H1117.2zM1161.9 573.4H1168.3V580.2H1161.9zM1181.0 573.4H1187.4V580.2H1181.0zM1264.0 573.4H1270.3V580.2H1264.0zM1276.7 573.4H1302.2V580.2H1276.7zM1372.4 573.4H1378.8V580.2H1372.4zM1461.7 573.4H1468.1V580.2H1461.7zM1563.8 573.4H1576.5V580.2H1563.8zM1595.7 573.4H1608.4V580.2H1595.7zM1621.2 573.4H1633.9V580.2H1621.2zM460.2 580.2H466.6V587.0H460.2zM836.6 580.2H842.9V587.0H836.6zM855.7 580.2H874.8V587.0H855.7zM945.0 580.2H951.4V587.0H945.0zM1047.1 580.2H1059.8V587.0H1047.1zM1085.3 580.2H1091.7V587.0H1085.3zM1104.5 580.2H1110.9V587.0H1104.5zM1123.6 580.2H1142.7V587.0H1123.6zM1155.5 580.2H1161.9V587.0H1155.5zM1187.4 580.2H1206.5V587.0H1187.4zM1232.1 580.2H1238.4V587.0H1232.1zM1270.3 580.2H1289.5V587.0H1270.3zM1353.3 580.2H1366.0V587.0H1353.3zM1372.4 580.2H1378.8V587.0H1372.4zM1455.3 580.2H1461.7V587.0H1455.3zM1493.6 580.2H1500.0V587.0H1493.6zM1557.4 580.2H1576.5V587.0H1557.4zM1582.9 580.2H1589.3V587.0H1582.9zM1595.7 580.2H1602.0V587.0H1595.7zM1608.4 580.2H1614.8V587.0H1608.4zM460.2 587.0H466.6V593.8H460.2zM817.4 587.0H823.8V593.8H817.4zM855.7 587.0H862.1V593.8H855.7zM932.2 587.0H945.0V593.8H932.2zM957.8 587.0H976.9V593.8H957.8zM983.3 587.0H1015.2V593.8H983.3zM1040.7 587.0H1053.4V593.8H1040.7zM1059.8 587.0H1066.2V593.8H1059.8zM1098.1 587.0H1104.5V593.8H1098.1zM1155.5 587.0H1161.9V593.8H1155.5zM1181.0 587.0H1206.5V593.8H1181.0zM1232.1 587.0H1238.4V593.8H1232.1zM1244.8 587.0H1251.2V593.8H1244.8zM1276.7 587.0H1283.1V593.8H1276.7zM1353.3 587.0H1366.0V593.8H1353.3zM1448.9 587.0H1455.3V593.8H1448.9zM1557.4 587.0H1595.7V593.8H1557.4zM1614.8 587.0H1621.2V593.8H1614.8zM447.4 593.8H466.6V600.6H447.4zM498.5 593.8H504.8V600.6H498.5zM772.8 593.8H779.1V600.6H772.8zM817.4 593.8H823.8V600.6H817.4zM855.7 593.8H862.1V600.6H855.7zM945.0 593.8H976.9V600.6H945.0zM983.3 593.8H996.0V600.6H983.3zM1066.2 593.8H1072.6V600.6H1066.2zM1079.0 593.8H1104.5V600.6H1079.0zM1117.2 593.8H1130.0V600.6H1117.2zM1142.7 593.8H1149.1V600.6H1142.7zM1187.4 593.8H1193.8V600.6H1187.4zM1206.5 593.8H1219.3V600.6H1206.5zM1238.4 593.8H1251.2V600.6H1238.4zM1270.3 593.8H1276.7V600.6H1270.3zM1353.3 593.8H1359.6V600.6H1353.3zM1551.0 593.8H1557.4V600.6H1551.0zM1563.8 593.8H1570.1V600.6H1563.8zM1582.9 593.8H1595.7V600.6H1582.9zM1614.8 593.8H1621.2V600.6H1614.8zM1633.9 593.8H1640.3V600.6H1633.9zM453.8 600.6H460.2V607.4H453.8zM466.6 600.6H473.0V607.4H466.6zM479.3 600.6H492.1V607.4H479.3zM766.4 600.6H779.1V607.4H766.4zM836.6 600.6H842.9V607.4H836.6zM849.3 600.6H862.1V607.4H849.3zM881.2 600.6H887.6V607.4H881.2zM900.3 600.6H919.5V607.4H900.3zM932.2 600.6H938.6V607.4H932.2zM945.0 600.6H951.4V607.4H945.0zM957.8 600.6H970.5V607.4H957.8zM1066.2 600.6H1110.9V607.4H1066.2zM1117.2 600.6H1142.7V607.4H1117.2zM1187.4 600.6H1193.8V607.4H1187.4zM1206.5 600.6H1212.9V607.4H1206.5zM1238.4 600.6H1244.8V607.4H1238.4zM1264.0 600.6H1270.3V607.4H1264.0zM1302.2 600.6H1315.0V607.4H1302.2zM1455.3 600.6H1506.4V607.4H1455.3zM1525.5 600.6H1531.9V607.4H1525.5zM1563.8 600.6H1570.1V607.4H1563.8zM1589.3 600.6H1595.7V607.4H1589.3zM1614.8 600.6H1633.9V607.4H1614.8zM447.4 607.4H473.0V614.2H447.4zM689.8 607.4H696.2V614.2H689.8zM811.0 607.4H823.8V614.2H811.0zM836.6 607.4H855.7V614.2H836.6zM894.0 607.4H906.7V614.2H894.0zM913.1 607.4H925.9V614.2H913.1zM932.2 607.4H945.0V614.2H932.2zM957.8 607.4H970.5V614.2H957.8zM1027.9 607.4H1034.3V614.2H1027.9zM1047.1 607.4H1053.4V614.2H1047.1zM1066.2 607.4H1072.6V614.2H1066.2zM1123.6 607.4H1130.0V614.2H1123.6zM1161.9 607.4H1168.3V614.2H1161.9zM1181.0 607.4H1206.5V614.2H1181.0zM1219.3 607.4H1225.7V614.2H1219.3zM1238.4 607.4H1270.3V614.2H1238.4zM1302.2 607.4H1308.6V614.2H1302.2zM1397.9 607.4H1404.3V614.2H1397.9zM1436.2 607.4H1442.6V614.2H1436.2zM1455.3 607.4H1461.7V614.2H1455.3zM1487.2 607.4H1493.6V614.2H1487.2zM1500.0 607.4H1512.7V614.2H1500.0zM1551.0 607.4H1557.4V614.2H1551.0zM1563.8 607.4H1570.1V614.2H1563.8zM460.2 614.2H473.0V621.0H460.2zM689.8 614.2H696.2V621.0H689.8zM823.8 614.2H830.2V621.0H823.8zM862.1 614.2H868.5V621.0H862.1zM894.0 614.2H900.3V621.0H894.0zM913.1 614.2H919.5V621.0H913.1zM957.8 614.2H970.5V621.0H957.8zM1040.7 614.2H1053.4V621.0H1040.7zM1059.8 614.2H1066.2V621.0H1059.8zM1079.0 614.2H1085.3V621.0H1079.0zM1110.9 614.2H1117.2V621.0H1110.9zM1136.4 614.2H1149.1V621.0H1136.4zM1155.5 614.2H1168.3V621.0H1155.5zM1187.4 614.2H1206.5V621.0H1187.4zM1212.9 614.2H1238.4V621.0H1212.9zM1244.8 614.2H1264.0V621.0H1244.8zM1270.3 614.2H1276.7V621.0H1270.3zM1302.2 614.2H1308.6V621.0H1302.2zM1340.5 614.2H1346.9V621.0H1340.5zM1385.2 614.2H1391.5V621.0H1385.2zM1429.8 614.2H1436.2V621.0H1429.8zM1442.6 614.2H1461.7V621.0H1442.6zM1487.2 614.2H1493.6V621.0H1487.2zM1519.1 614.2H1525.5V621.0H1519.1zM1576.5 614.2H1589.3V621.0H1576.5zM466.6 621.0H473.0V627.8H466.6zM811.0 621.0H830.2V627.8H811.0zM862.1 621.0H868.5V627.8H862.1zM881.2 621.0H887.6V627.8H881.2zM894.0 621.0H900.3V627.8H894.0zM913.1 621.0H919.5V627.8H913.1zM951.4 621.0H957.8V627.8H951.4zM970.5 621.0H989.7V627.8H970.5zM1040.7 621.0H1047.1V627.8H1040.7zM1059.8 621.0H1066.2V627.8H1059.8zM1085.3 621.0H1091.7V627.8H1085.3zM1110.9 621.0H1117.2V627.8H1110.9zM1123.6 621.0H1136.4V627.8H1123.6zM1149.1 621.0H1174.6V627.8H1149.1zM1193.8 621.0H1200.2V627.8H1193.8zM1225.7 621.0H1238.4V627.8H1225.7zM1244.8 621.0H1251.2V627.8H1244.8zM1270.3 621.0H1315.0V627.8H1270.3zM1340.5 621.0H1346.9V627.8H1340.5zM1353.3 621.0H1391.5V627.8H1353.3zM1436.2 621.0H1442.6V627.8H1436.2zM1487.2 621.0H1493.6V627.8H1487.2zM1506.4 621.0H1512.7V627.8H1506.4zM1525.5 621.0H1531.9V627.8H1525.5zM1544.6 621.0H1551.0V627.8H1544.6zM1570.1 621.0H1608.4V627.8H1570.1zM453.8 627.8H466.6V634.5H453.8zM772.8 627.8H779.1V634.5H772.8zM817.4 627.8H830.2V634.5H817.4zM862.1 627.8H868.5V634.5H862.1zM881.2 627.8H887.6V634.5H881.2zM913.1 627.8H919.5V634.5H913.1zM945.0 627.8H976.9V634.5H945.0zM1015.2 627.8H1040.7V634.5H1015.2zM1079.0 627.8H1091.7V634.5H1079.0zM1098.1 627.8H1104.5V634.5H1098.1zM1110.9 627.8H1117.2V634.5H1110.9zM1136.4 627.8H1149.1V634.5H1136.4zM1161.9 627.8H1174.6V634.5H1161.9zM1187.4 627.8H1193.8V634.5H1187.4zM1225.7 627.8H1232.1V634.5H1225.7zM1238.4 627.8H1244.8V634.5H1238.4zM1257.6 627.8H1264.0V634.5H1257.6zM1276.7 627.8H1289.5V634.5H1276.7zM1315.0 627.8H1321.4V634.5H1315.0zM1353.3 627.8H1385.2V634.5H1353.3zM1512.7 627.8H1519.1V634.5H1512.7zM1531.9 627.8H1538.2V634.5H1531.9zM1551.0 627.8H1557.4V634.5H1551.0zM1570.1 627.8H1576.5V634.5H1570.1zM1582.9 627.8H1589.3V634.5H1582.9zM1595.7 627.8H1608.4V634.5H1595.7zM1621.2 627.8H1627.6V634.5H1621.2zM453.8 634.5H460.2V641.3H453.8zM760.0 634.5H779.1V641.3H760.0zM881.2 634.5H887.6V641.3H881.2zM906.7 634.5H913.1V641.3H906.7zM945.0 634.5H964.1V641.3H945.0zM970.5 634.5H976.9V641.3H970.5zM1008.8 634.5H1027.9V641.3H1008.8zM1034.3 634.5H1040.7V641.3H1034.3zM1059.8 634.5H1066.2V641.3H1059.8zM1072.6 634.5H1079.0V641.3H1072.6zM1091.7 634.5H1098.1V641.3H1091.7zM1110.9 634.5H1117.2V641.3H1110.9zM1161.9 634.5H1168.3V641.3H1161.9zM1181.0 634.5H1225.7V641.3H1181.0zM1295.8 634.5H1302.2V641.3H1295.8zM1315.0 634.5H1321.4V641.3H1315.0zM1346.9 634.5H1353.3V641.3H1346.9zM1366.0 634.5H1372.4V641.3H1366.0zM1378.8 634.5H1385.2V641.3H1378.8zM1493.6 634.5H1500.0V641.3H1493.6zM1512.7 634.5H1519.1V641.3H1512.7zM1531.9 634.5H1538.2V641.3H1531.9zM1551.0 634.5H1557.4V641.3H1551.0zM1570.1 634.5H1589.3V641.3H1570.1zM1608.4 634.5H1614.8V641.3H1608.4zM447.4 641.3H460.2V648.1H447.4zM664.3 641.3H670.7V648.1H664.3zM760.0 641.3H766.4V648.1H760.0zM798.3 641.3H804.7V648.1H798.3zM842.9 641.3H855.7V648.1H842.9zM874.8 641.3H887.6V648.1H874.8zM925.9 641.3H932.2V648.1H925.9zM945.0 641.3H989.7V648.1H945.0zM1002.4 641.3H1021.5V648.1H1002.4zM1059.8 641.3H1066.2V648.1H1059.8zM1142.7 641.3H1149.1V648.1H1142.7zM1181.0 641.3H1187.4V648.1H1181.0zM1244.8 641.3H1264.0V648.1H1244.8zM1270.3 641.3H1315.0V648.1H1270.3zM1346.9 641.3H1353.3V648.1H1346.9zM1366.0 641.3H1378.8V648.1H1366.0zM1385.2 641.3H1391.5V648.1H1385.2zM1519.1 641.3H1531.9V648.1H1519.1zM1544.6 641.3H1563.8V648.1H1544.6zM1576.5 641.3H1589.3V648.1H1576.5zM1602.0 641.3H1614.8V648.1H1602.0zM447.4 648.1H460.2V654.9H447.4zM657.9 648.1H670.7V654.9H657.9zM683.5 648.1H689.8V654.9H683.5zM766.4 648.1H772.8V654.9H766.4zM779.1 648.1H791.9V654.9H779.1zM900.3 648.1H906.7V654.9H900.3zM945.0 648.1H970.5V654.9H945.0zM989.7 648.1H1015.2V654.9H989.7zM1021.5 648.1H1027.9V654.9H1021.5zM1040.7 648.1H1047.1V654.9H1040.7zM1059.8 648.1H1066.2V654.9H1059.8zM1072.6 648.1H1079.0V654.9H1072.6zM1098.1 648.1H1104.5V654.9H1098.1zM1110.9 648.1H1117.2V654.9H1110.9zM1142.7 648.1H1149.1V654.9H1142.7zM1168.3 648.1H1174.6V654.9H1168.3zM1212.9 648.1H1219.3V654.9H1212.9zM1244.8 648.1H1251.2V654.9H1244.8zM1295.8 648.1H1302.2V654.9H1295.8zM1353.3 648.1H1366.0V654.9H1353.3zM1378.8 648.1H1391.5V654.9H1378.8zM1525.5 648.1H1531.9V654.9H1525.5zM1544.6 648.1H1563.8V654.9H1544.6zM1576.5 648.1H1589.3V654.9H1576.5zM1602.0 648.1H1608.4V654.9H1602.0zM779.1 654.9H785.5V661.7H779.1zM836.6 654.9H842.9V661.7H836.6zM874.8 654.9H881.2V661.7H874.8zM894.0 654.9H925.9V661.7H894.0zM951.4 654.9H964.1V661.7H951.4zM983.3 654.9H996.0V661.7H983.3zM1008.8 654.9H1021.5V661.7H1008.8zM1040.7 654.9H1047.1V661.7H1040.7zM1066.2 654.9H1079.0V661.7H1066.2zM1091.7 654.9H1149.1V661.7H1091.7zM1168.3 654.9H1174.6V661.7H1168.3zM1212.9 654.9H1219.3V661.7H1212.9zM1244.8 654.9H1257.6V661.7H1244.8zM1276.7 654.9H1289.5V661.7H1276.7zM1302.2 654.9H1308.6V661.7H1302.2zM1353.3 654.9H1378.8V661.7H1353.3zM1525.5 654.9H1531.9V661.7H1525.5zM1538.2 654.9H1563.8V661.7H1538.2zM1582.9 654.9H1595.7V661.7H1582.9zM836.6 661.7H849.3V668.5H836.6zM868.5 661.7H881.2V668.5H868.5zM894.0 661.7H900.3V668.5H894.0zM919.5 661.7H932.2V668.5H919.5zM945.0 661.7H957.8V668.5H945.0zM989.7 661.7H996.0V668.5H989.7zM1040.7 661.7H1047.1V668.5H1040.7zM1091.7 661.7H1104.5V668.5H1091.7zM1110.9 661.7H1117.2V668.5H1110.9zM1142.7 661.7H1161.9V668.5H1142.7zM1212.9 661.7H1219.3V668.5H1212.9zM1238.4 661.7H1257.6V668.5H1238.4zM1264.0 661.7H1276.7V668.5H1264.0zM1308.6 661.7H1315.0V668.5H1308.6zM1538.2 661.7H1544.6V668.5H1538.2zM1551.0 661.7H1570.1V668.5H1551.0zM1582.9 661.7H1595.7V668.5H1582.9zM836.6 668.5H842.9V675.3H836.6zM868.5 668.5H874.8V675.3H868.5zM894.0 668.5H900.3V675.3H894.0zM919.5 668.5H925.9V675.3H919.5zM932.2 668.5H945.0V675.3H932.2zM989.7 668.5H996.0V675.3H989.7zM1053.4 668.5H1059.8V675.3H1053.4zM1091.7 668.5H1098.1V675.3H1091.7zM1193.8 668.5H1200.2V675.3H1193.8zM1212.9 668.5H1219.3V675.3H1212.9zM1244.8 668.5H1257.6V675.3H1244.8zM1289.5 668.5H1295.8V675.3H1289.5zM1315.0 668.5H1321.4V675.3H1315.0zM1531.9 668.5H1544.6V675.3H1531.9zM1557.4 668.5H1570.1V675.3H1557.4zM1576.5 668.5H1589.3V675.3H1576.5zM772.8 675.3H785.5V682.1H772.8zM798.3 675.3H811.0V682.1H798.3zM868.5 675.3H874.8V682.1H868.5zM887.6 675.3H894.0V682.1H887.6zM900.3 675.3H906.7V682.1H900.3zM913.1 675.3H919.5V682.1H913.1zM932.2 675.3H938.6V682.1H932.2zM951.4 675.3H976.9V682.1H951.4zM1066.2 675.3H1072.6V682.1H1066.2zM1085.3 675.3H1091.7V682.1H1085.3zM1098.1 675.3H1104.5V682.1H1098.1zM1130.0 675.3H1136.4V682.1H1130.0zM1200.2 675.3H1206.5V682.1H1200.2zM1212.9 675.3H1219.3V682.1H1212.9zM1238.4 675.3H1244.8V682.1H1238.4zM1251.2 675.3H1257.6V682.1H1251.2zM1302.2 675.3H1308.6V682.1H1302.2zM1315.0 675.3H1321.4V682.1H1315.0zM1531.9 675.3H1538.2V682.1H1531.9zM1557.4 675.3H1563.8V682.1H1557.4zM1576.5 675.3H1582.9V682.1H1576.5zM1589.3 675.3H1595.7V682.1H1589.3zM1602.0 675.3H1608.4V682.1H1602.0zM766.4 682.1H785.5V688.9H766.4zM842.9 682.1H849.3V688.9H842.9zM868.5 682.1H874.8V688.9H868.5zM881.2 682.1H887.6V688.9H881.2zM925.9 682.1H938.6V688.9H925.9zM951.4 682.1H957.8V688.9H951.4zM1085.3 682.1H1091.7V688.9H1085.3zM1104.5 682.1H1110.9V688.9H1104.5zM1130.0 682.1H1136.4V688.9H1130.0zM1212.9 682.1H1219.3V688.9H1212.9zM1302.2 682.1H1315.0V688.9H1302.2zM1512.7 682.1H1519.1V688.9H1512.7zM1563.8 682.1H1576.5V688.9H1563.8zM1589.3 682.1H1595.7V688.9H1589.3zM842.9 688.9H855.7V695.7H842.9zM868.5 688.9H881.2V695.7H868.5zM913.1 688.9H919.5V695.7H913.1zM925.9 688.9H932.2V695.7H925.9zM945.0 688.9H951.4V695.7H945.0zM1091.7 688.9H1098.1V695.7H1091.7zM1174.6 688.9H1181.0V695.7H1174.6zM1219.3 688.9H1225.7V695.7H1219.3zM1232.1 688.9H1251.2V695.7H1232.1zM1257.6 688.9H1270.3V695.7H1257.6zM1289.5 688.9H1295.8V695.7H1289.5zM1302.2 688.9H1308.6V695.7H1302.2zM1512.7 688.9H1525.5V695.7H1512.7zM1602.0 688.9H1608.4V695.7H1602.0zM804.7 695.7H823.8V702.5H804.7zM842.9 695.7H849.3V702.5H842.9zM874.8 695.7H894.0V702.5H874.8zM906.7 695.7H913.1V702.5H906.7zM919.5 695.7H925.9V702.5H919.5zM983.3 695.7H996.0V702.5H983.3zM1091.7 695.7H1098.1V702.5H1091.7zM1149.1 695.7H1155.5V702.5H1149.1zM1251.2 695.7H1257.6V702.5H1251.2zM1264.0 695.7H1270.3V702.5H1264.0zM1295.8 695.7H1308.6V702.5H1295.8zM1506.4 695.7H1551.0V702.5H1506.4zM1595.7 695.7H1608.4V702.5H1595.7zM785.5 702.5H791.9V709.2H785.5zM804.7 702.5H811.0V709.2H804.7zM830.2 702.5H836.6V709.2H830.2zM874.8 702.5H881.2V709.2H874.8zM894.0 702.5H900.3V709.2H894.0zM913.1 702.5H919.5V709.2H913.1zM951.4 702.5H957.8V709.2H951.4zM964.1 702.5H970.5V709.2H964.1zM983.3 702.5H996.0V709.2H983.3zM1047.1 702.5H1053.4V709.2H1047.1zM1104.5 702.5H1110.9V709.2H1104.5zM1136.4 702.5H1155.5V709.2H1136.4zM1174.6 702.5H1181.0V709.2H1174.6zM1219.3 702.5H1244.8V709.2H1219.3zM1251.2 702.5H1257.6V709.2H1251.2zM1366.0 702.5H1372.4V709.2H1366.0zM1506.4 702.5H1538.2V709.2H1506.4zM1576.5 702.5H1582.9V709.2H1576.5zM1602.0 702.5H1608.4V709.2H1602.0zM791.9 709.2H798.3V716.0H791.9zM804.7 709.2H817.4V716.0H804.7zM874.8 709.2H881.2V716.0H874.8zM894.0 709.2H906.7V716.0H894.0zM913.1 709.2H919.5V716.0H913.1zM951.4 709.2H970.5V716.0H951.4zM989.7 709.2H1002.4V716.0H989.7zM1123.6 709.2H1130.0V716.0H1123.6zM1142.7 709.2H1155.5V716.0H1142.7zM1174.6 709.2H1200.2V716.0H1174.6zM1238.4 709.2H1244.8V716.0H1238.4zM1257.6 709.2H1264.0V716.0H1257.6zM1366.0 709.2H1378.8V716.0H1366.0zM1506.4 709.2H1525.5V716.0H1506.4zM1538.2 709.2H1544.6V716.0H1538.2zM1557.4 709.2H1563.8V716.0H1557.4zM804.7 716.0H823.8V722.8H804.7zM842.9 716.0H881.2V722.8H842.9zM887.6 716.0H894.0V722.8H887.6zM906.7 716.0H919.5V722.8H906.7zM957.8 716.0H970.5V722.8H957.8zM1021.5 716.0H1027.9V722.8H1021.5zM1040.7 716.0H1047.1V722.8H1040.7zM1136.4 716.0H1155.5V722.8H1136.4zM1174.6 716.0H1181.0V722.8H1174.6zM1187.4 716.0H1193.8V722.8H1187.4zM1244.8 716.0H1251.2V722.8H1244.8zM1264.0 716.0H1270.3V722.8H1264.0zM1353.3 716.0H1372.4V722.8H1353.3zM1519.1 716.0H1525.5V722.8H1519.1zM1538.2 716.0H1544.6V722.8H1538.2zM1551.0 716.0H1563.8V722.8H1551.0zM1582.9 716.0H1589.3V722.8H1582.9zM779.1 722.8H785.5V729.6H779.1zM842.9 722.8H855.7V729.6H842.9zM868.5 722.8H887.6V729.6H868.5zM900.3 722.8H919.5V729.6H900.3zM938.6 722.8H945.0V729.6H938.6zM964.1 722.8H970.5V729.6H964.1zM1008.8 722.8H1027.9V729.6H1008.8zM1034.3 722.8H1047.1V729.6H1034.3zM1098.1 722.8H1104.5V729.6H1098.1zM1149.1 722.8H1155.5V729.6H1149.1zM1193.8 722.8H1200.2V729.6H1193.8zM1251.2 722.8H1257.6V729.6H1251.2zM1353.3 722.8H1366.0V729.6H1353.3zM1512.7 722.8H1531.9V729.6H1512.7zM1563.8 722.8H1570.1V729.6H1563.8zM1582.9 722.8H1589.3V729.6H1582.9zM798.3 729.6H804.7V736.4H798.3zM842.9 729.6H855.7V736.4H842.9zM862.1 729.6H881.2V736.4H862.1zM913.1 729.6H925.9V736.4H913.1zM932.2 729.6H938.6V736.4H932.2zM945.0 729.6H951.4V736.4H945.0zM964.1 729.6H970.5V736.4H964.1zM1034.3 729.6H1040.7V736.4H1034.3zM1091.7 729.6H1098.1V736.4H1091.7zM1104.5 729.6H1110.9V736.4H1104.5zM1149.1 729.6H1168.3V736.4H1149.1zM1251.2 729.6H1264.0V736.4H1251.2zM1500.0 729.6H1525.5V736.4H1500.0zM1563.8 729.6H1576.5V736.4H1563.8zM1582.9 729.6H1589.3V736.4H1582.9zM1595.7 729.6H1602.0V736.4H1595.7zM798.3 736.4H804.7V743.2H798.3zM836.6 736.4H862.1V743.2H836.6zM881.2 736.4H887.6V743.2H881.2zM913.1 736.4H932.2V743.2H913.1zM951.4 736.4H964.1V743.2H951.4zM983.3 736.4H989.7V743.2H983.3zM996.0 736.4H1002.4V743.2H996.0zM1104.5 736.4H1110.9V743.2H1104.5zM1136.4 736.4H1142.7V743.2H1136.4zM1244.8 736.4H1264.0V743.2H1244.8zM1340.5 736.4H1346.9V743.2H1340.5zM1366.0 736.4H1372.4V743.2H1366.0zM1500.0 736.4H1506.4V743.2H1500.0zM1519.1 736.4H1525.5V743.2H1519.1zM1563.8 736.4H1582.9V743.2H1563.8zM1589.3 736.4H1602.0V743.2H1589.3zM1614.8 736.4H1633.9V743.2H1614.8zM811.0 743.2H830.2V750.0H811.0zM836.6 743.2H849.3V750.0H836.6zM887.6 743.2H919.5V750.0H887.6zM925.9 743.2H932.2V750.0H925.9zM945.0 743.2H964.1V750.0H945.0zM970.5 743.2H983.3V750.0H970.5zM996.0 743.2H1002.4V750.0H996.0zM1053.4 743.2H1066.2V750.0H1053.4zM1142.7 743.2H1149.1V750.0H1142.7zM1200.2 743.2H1219.3V750.0H1200.2zM1232.1 743.2H1257.6V750.0H1232.1zM1506.4 743.2H1512.7V750.0H1506.4zM1519.1 743.2H1551.0V750.0H1519.1zM1589.3 743.2H1633.9V750.0H1589.3zM811.0 750.0H817.4V756.8H811.0zM836.6 750.0H849.3V756.8H836.6zM862.1 750.0H868.5V756.8H862.1zM932.2 750.0H976.9V756.8H932.2zM983.3 750.0H996.0V756.8H983.3zM1053.4 750.0H1059.8V756.8H1053.4zM1066.2 750.0H1072.6V756.8H1066.2zM1206.5 750.0H1212.9V756.8H1206.5zM1219.3 750.0H1238.4V756.8H1219.3zM1519.1 750.0H1531.9V756.8H1519.1zM1538.2 750.0H1551.0V756.8H1538.2zM1627.6 750.0H1640.3V756.8H1627.6zM804.7 756.8H811.0V763.6H804.7zM855.7 756.8H874.8V763.6H855.7zM900.3 756.8H919.5V763.6H900.3zM957.8 756.8H983.3V763.6H957.8zM1066.2 756.8H1085.3V763.6H1066.2zM1212.9 756.8H1225.7V763.6H1212.9zM1257.6 756.8H1264.0V763.6H1257.6zM1519.1 756.8H1525.5V763.6H1519.1zM1633.9 756.8H1640.3V763.6H1633.9zM575.0 763.6H581.4V770.4H575.0zM798.3 763.6H804.7V770.4H798.3zM945.0 763.6H983.3V770.4H945.0zM1021.5 763.6H1034.3V770.4H1021.5zM1040.7 763.6H1053.4V770.4H1040.7zM1187.4 763.6H1193.8V770.4H1187.4zM1225.7 763.6H1244.8V770.4H1225.7zM1251.2 763.6H1257.6V770.4H1251.2zM1264.0 763.6H1276.7V770.4H1264.0zM1519.1 763.6H1525.5V770.4H1519.1zM1531.9 763.6H1538.2V770.4H1531.9zM575.0 770.4H587.8V777.1H575.0zM600.5 770.4H606.9V777.1H600.5zM804.7 770.4H811.0V777.1H804.7zM817.4 770.4H823.8V777.1H817.4zM874.8 770.4H887.6V777.1H874.8zM945.0 770.4H964.1V777.1H945.0zM976.9 770.4H983.3V777.1H976.9zM1021.5 770.4H1027.9V777.1H1021.5zM1040.7 770.4H1053.4V777.1H1040.7zM1072.6 770.4H1085.3V777.1H1072.6zM1238.4 770.4H1264.0V777.1H1238.4zM1506.4 770.4H1512.7V777.1H1506.4zM1525.5 770.4H1531.9V777.1H1525.5zM1595.7 770.4H1608.4V777.1H1595.7zM568.6 777.1H581.4V783.9H568.6zM811.0 777.1H823.8V783.9H811.0zM849.3 777.1H868.5V783.9H849.3zM874.8 777.1H887.6V783.9H874.8zM919.5 777.1H932.2V783.9H919.5zM957.8 777.1H964.1V783.9H957.8zM1015.2 777.1H1021.5V783.9H1015.2zM1047.1 777.1H1053.4V783.9H1047.1zM1079.0 777.1H1085.3V783.9H1079.0zM1117.2 777.1H1130.0V783.9H1117.2zM1232.1 777.1H1238.4V783.9H1232.1zM1244.8 777.1H1264.0V783.9H1244.8zM1506.4 777.1H1512.7V783.9H1506.4zM1557.4 777.1H1570.1V783.9H1557.4zM1589.3 777.1H1602.0V783.9H1589.3zM1614.8 777.1H1621.2V783.9H1614.8zM555.9 783.9H575.0V790.7H555.9zM817.4 783.9H823.8V790.7H817.4zM849.3 783.9H855.7V790.7H849.3zM881.2 783.9H887.6V790.7H881.2zM900.3 783.9H906.7V790.7H900.3zM925.9 783.9H938.6V790.7H925.9zM951.4 783.9H964.1V790.7H951.4zM1015.2 783.9H1021.5V790.7H1015.2zM1027.9 783.9H1059.8V790.7H1027.9zM1110.9 783.9H1117.2V790.7H1110.9zM1123.6 783.9H1130.0V790.7H1123.6zM1225.7 783.9H1232.1V790.7H1225.7zM1251.2 783.9H1270.3V790.7H1251.2zM1276.7 783.9H1283.1V790.7H1276.7zM1557.4 783.9H1570.1V790.7H1557.4zM1589.3 783.9H1602.0V790.7H1589.3zM1621.2 783.9H1627.6V790.7H1621.2zM536.7 790.7H543.1V797.5H536.7zM555.9 790.7H587.8V797.5H555.9zM823.8 790.7H836.6V797.5H823.8zM849.3 790.7H887.6V797.5H849.3zM925.9 790.7H938.6V797.5H925.9zM957.8 790.7H996.0V797.5H957.8zM1040.7 790.7H1066.2V797.5H1040.7zM1110.9 790.7H1123.6V797.5H1110.9zM1142.7 790.7H1155.5V797.5H1142.7zM1174.6 790.7H1193.8V797.5H1174.6zM1219.3 790.7H1225.7V797.5H1219.3zM1238.4 790.7H1251.2V797.5H1238.4zM1270.3 790.7H1283.1V797.5H1270.3zM1551.0 790.7H1570.1V797.5H1551.0zM1595.7 790.7H1614.8V797.5H1595.7zM1621.2 790.7H1627.6V797.5H1621.2zM555.9 797.5H562.3V804.3H555.9zM575.0 797.5H581.4V804.3H575.0zM817.4 797.5H823.8V804.3H817.4zM836.6 797.5H842.9V804.3H836.6zM862.1 797.5H868.5V804.3H862.1zM881.2 797.5H887.6V804.3H881.2zM913.1 797.5H919.5V804.3H913.1zM932.2 797.5H938.6V804.3H932.2zM957.8 797.5H964.1V804.3H957.8zM976.9 797.5H1002.4V804.3H976.9zM1040.7 797.5H1053.4V804.3H1040.7zM1059.8 797.5H1066.2V804.3H1059.8zM1110.9 797.5H1117.2V804.3H1110.9zM1136.4 797.5H1149.1V804.3H1136.4zM1174.6 797.5H1181.0V804.3H1174.6zM1206.5 797.5H1225.7V804.3H1206.5zM1270.3 797.5H1276.7V804.3H1270.3zM1570.1 797.5H1576.5V804.3H1570.1zM1595.7 797.5H1602.0V804.3H1595.7zM1608.4 797.5H1621.2V804.3H1608.4zM555.9 804.3H562.3V811.1H555.9zM575.0 804.3H587.8V811.1H575.0zM836.6 804.3H842.9V811.1H836.6zM855.7 804.3H868.5V811.1H855.7zM900.3 804.3H906.7V811.1H900.3zM925.9 804.3H938.6V811.1H925.9zM951.4 804.3H957.8V811.1H951.4zM976.9 804.3H983.3V811.1H976.9zM1040.7 804.3H1066.2V811.1H1040.7zM1110.9 804.3H1117.2V811.1H1110.9zM1142.7 804.3H1149.1V811.1H1142.7zM1155.5 804.3H1161.9V811.1H1155.5zM1174.6 804.3H1181.0V811.1H1174.6zM1219.3 804.3H1238.4V811.1H1219.3zM1270.3 804.3H1276.7V811.1H1270.3zM1525.5 804.3H1538.2V811.1H1525.5zM1570.1 804.3H1576.5V811.1H1570.1zM1589.3 804.3H1595.7V811.1H1589.3zM1608.4 804.3H1614.8V811.1H1608.4zM606.9 811.1H613.3V817.9H606.9zM817.4 811.1H830.2V817.9H817.4zM836.6 811.1H842.9V817.9H836.6zM849.3 811.1H855.7V817.9H849.3zM894.0 811.1H913.1V817.9H894.0zM925.9 811.1H938.6V817.9H925.9zM951.4 811.1H957.8V817.9H951.4zM964.1 811.1H976.9V817.9H964.1zM1027.9 811.1H1053.4V817.9H1027.9zM1079.0 811.1H1085.3V817.9H1079.0zM1104.5 811.1H1117.2V817.9H1104.5zM1142.7 811.1H1155.5V817.9H1142.7zM1232.1 811.1H1238.4V817.9H1232.1zM1264.0 811.1H1276.7V817.9H1264.0zM1563.8 811.1H1582.9V817.9H1563.8zM1589.3 811.1H1602.0V817.9H1589.3zM1608.4 811.1H1614.8V817.9H1608.4zM543.1 817.9H555.9V824.7H543.1zM594.2 817.9H606.9V824.7H594.2zM721.7 817.9H734.5V824.7H721.7zM817.4 817.9H849.3V824.7H817.4zM862.1 817.9H874.8V824.7H862.1zM887.6 817.9H919.5V824.7H887.6zM925.9 817.9H932.2V824.7H925.9zM951.4 817.9H957.8V824.7H951.4zM964.1 817.9H983.3V824.7H964.1zM1040.7 817.9H1047.1V824.7H1040.7zM1079.0 817.9H1085.3V824.7H1079.0zM1091.7 817.9H1117.2V824.7H1091.7zM1136.4 817.9H1155.5V824.7H1136.4zM1251.2 817.9H1264.0V824.7H1251.2zM1270.3 817.9H1276.7V824.7H1270.3zM1519.1 817.9H1525.5V824.7H1519.1zM1544.6 817.9H1563.8V824.7H1544.6zM1576.5 817.9H1595.7V824.7H1576.5zM1602.0 817.9H1608.4V824.7H1602.0zM555.9 824.7H562.3V831.5H555.9zM575.0 824.7H587.8V831.5H575.0zM594.2 824.7H606.9V831.5H594.2zM830.2 824.7H849.3V831.5H830.2zM855.7 824.7H868.5V831.5H855.7zM874.8 824.7H881.2V831.5H874.8zM900.3 824.7H906.7V831.5H900.3zM913.1 824.7H919.5V831.5H913.1zM951.4 824.7H957.8V831.5H951.4zM983.3 824.7H989.7V831.5H983.3zM1027.9 824.7H1040.7V831.5H1027.9zM1053.4 824.7H1059.8V831.5H1053.4zM1091.7 824.7H1117.2V831.5H1091.7zM1130.0 824.7H1136.4V831.5H1130.0zM1142.7 824.7H1149.1V831.5H1142.7zM1155.5 824.7H1168.3V831.5H1155.5zM1219.3 824.7H1225.7V831.5H1219.3zM1251.2 824.7H1270.3V831.5H1251.2zM1500.0 824.7H1506.4V831.5H1500.0zM1519.1 824.7H1538.2V831.5H1519.1zM1582.9 824.7H1589.3V831.5H1582.9zM555.9 831.5H568.6V838.3H555.9zM575.0 831.5H581.4V838.3H575.0zM594.2 831.5H600.5V838.3H594.2zM613.3 831.5H619.7V838.3H613.3zM842.9 831.5H849.3V838.3H842.9zM874.8 831.5H887.6V838.3H874.8zM906.7 831.5H951.4V838.3H906.7zM989.7 831.5H996.0V838.3H989.7zM1002.4 831.5H1015.2V838.3H1002.4zM1072.6 831.5H1079.0V838.3H1072.6zM1130.0 831.5H1149.1V838.3H1130.0zM1155.5 831.5H1161.9V838.3H1155.5zM1168.3 831.5H1174.6V838.3H1168.3zM1206.5 831.5H1212.9V838.3H1206.5zM1225.7 831.5H1232.1V838.3H1225.7zM1257.6 831.5H1264.0V838.3H1257.6zM555.9 838.3H581.4V845.1H555.9zM594.2 838.3H606.9V845.1H594.2zM747.3 838.3H779.1V845.1H747.3zM862.1 838.3H874.8V845.1H862.1zM913.1 838.3H919.5V845.1H913.1zM957.8 838.3H964.1V845.1H957.8zM989.7 838.3H996.0V845.1H989.7zM1002.4 838.3H1008.8V845.1H1002.4zM1015.2 838.3H1021.5V845.1H1015.2zM1072.6 838.3H1085.3V845.1H1072.6zM1123.6 838.3H1155.5V845.1H1123.6zM1168.3 838.3H1174.6V845.1H1168.3zM1257.6 838.3H1264.0V845.1H1257.6zM1519.1 838.3H1538.2V845.1H1519.1zM1563.8 838.3H1576.5V845.1H1563.8zM562.3 845.1H575.0V851.8H562.3zM600.5 845.1H626.1V851.8H600.5zM728.1 845.1H734.5V851.8H728.1zM747.3 845.1H766.4V851.8H747.3zM855.7 845.1H862.1V851.8H855.7zM868.5 845.1H874.8V851.8H868.5zM887.6 845.1H894.0V851.8H887.6zM919.5 845.1H925.9V851.8H919.5zM970.5 845.1H976.9V851.8H970.5zM989.7 845.1H996.0V851.8H989.7zM1027.9 845.1H1034.3V851.8H1027.9zM1072.6 845.1H1098.1V851.8H1072.6zM1123.6 845.1H1136.4V851.8H1123.6zM1155.5 845.1H1168.3V851.8H1155.5zM1244.8 845.1H1251.2V851.8H1244.8zM1257.6 845.1H1264.0V851.8H1257.6zM1531.9 845.1H1551.0V851.8H1531.9zM1570.1 845.1H1576.5V851.8H1570.1zM562.3 851.8H568.6V858.6H562.3zM613.3 851.8H626.1V858.6H613.3zM855.7 851.8H913.1V858.6H855.7zM970.5 851.8H983.3V858.6H970.5zM996.0 851.8H1008.8V858.6H996.0zM1027.9 851.8H1034.3V858.6H1027.9zM1079.0 851.8H1085.3V858.6H1079.0zM1104.5 851.8H1110.9V858.6H1104.5zM1130.0 851.8H1136.4V858.6H1130.0zM1200.2 851.8H1219.3V858.6H1200.2zM1244.8 851.8H1251.2V858.6H1244.8zM1264.0 851.8H1270.3V858.6H1264.0zM1563.8 851.8H1576.5V858.6H1563.8zM619.7 858.6H626.1V865.4H619.7zM670.7 858.6H677.1V865.4H670.7zM862.1 858.6H874.8V865.4H862.1zM900.3 858.6H913.1V865.4H900.3zM932.2 858.6H938.6V865.4H932.2zM970.5 858.6H983.3V865.4H970.5zM989.7 858.6H1008.8V865.4H989.7zM1021.5 858.6H1027.9V865.4H1021.5zM1110.9 858.6H1117.2V865.4H1110.9zM1193.8 858.6H1200.2V865.4H1193.8zM1232.1 858.6H1251.2V865.4H1232.1zM1264.0 858.6H1283.1V865.4H1264.0zM664.3 865.4H677.1V872.2H664.3zM753.6 865.4H760.0V872.2H753.6zM862.1 865.4H868.5V872.2H862.1zM900.3 865.4H938.6V872.2H900.3zM951.4 865.4H1002.4V872.2H951.4zM1008.8 865.4H1015.2V872.2H1008.8zM1021.5 865.4H1027.9V872.2H1021.5zM1034.3 865.4H1040.7V872.2H1034.3zM1047.1 865.4H1053.4V872.2H1047.1zM1072.6 865.4H1091.7V872.2H1072.6zM1117.2 865.4H1123.6V872.2H1117.2zM1174.6 865.4H1181.0V872.2H1174.6zM1206.5 865.4H1212.9V872.2H1206.5zM1264.0 865.4H1276.7V872.2H1264.0zM568.6 872.2H600.5V879.0H568.6zM619.7 872.2H626.1V879.0H619.7zM632.4 872.2H638.8V879.0H632.4zM664.3 872.2H670.7V879.0H664.3zM677.1 872.2H683.5V879.0H677.1zM740.9 872.2H753.6V879.0H740.9zM862.1 872.2H881.2V879.0H862.1zM900.3 872.2H1002.4V879.0H900.3zM1130.0 872.2H1136.4V879.0H1130.0zM1174.6 872.2H1181.0V879.0H1174.6zM1187.4 872.2H1193.8V879.0H1187.4zM1200.2 872.2H1206.5V879.0H1200.2zM1212.9 872.2H1238.4V879.0H1212.9zM1257.6 872.2H1270.3V879.0H1257.6zM1544.6 872.2H1551.0V879.0H1544.6zM1576.5 872.2H1582.9V879.0H1576.5zM575.0 879.0H581.4V885.8H575.0zM587.8 879.0H606.9V885.8H587.8zM619.7 879.0H626.1V885.8H619.7zM632.4 879.0H638.8V885.8H632.4zM664.3 879.0H683.5V885.8H664.3zM753.6 879.0H760.0V885.8H753.6zM772.8 879.0H779.1V885.8H772.8zM849.3 879.0H855.7V885.8H849.3zM862.1 879.0H868.5V885.8H862.1zM900.3 879.0H932.2V885.8H900.3zM945.0 879.0H957.8V885.8H945.0zM976.9 879.0H996.0V885.8H976.9zM1015.2 879.0H1021.5V885.8H1015.2zM1091.7 879.0H1104.5V885.8H1091.7zM1193.8 879.0H1206.5V885.8H1193.8zM1238.4 879.0H1251.2V885.8H1238.4zM1264.0 879.0H1270.3V885.8H1264.0zM1570.1 879.0H1576.5V885.8H1570.1zM600.5 885.8H613.3V892.6H600.5zM632.4 885.8H638.8V892.6H632.4zM651.6 885.8H657.9V892.6H651.6zM670.7 885.8H677.1V892.6H670.7zM721.7 885.8H728.1V892.6H721.7zM772.8 885.8H779.1V892.6H772.8zM868.5 885.8H874.8V892.6H868.5zM900.3 885.8H906.7V892.6H900.3zM913.1 885.8H925.9V892.6H913.1zM945.0 885.8H957.8V892.6H945.0zM976.9 885.8H996.0V892.6H976.9zM1015.2 885.8H1021.5V892.6H1015.2zM1091.7 885.8H1104.5V892.6H1091.7zM1193.8 885.8H1212.9V892.6H1193.8zM1238.4 885.8H1251.2V892.6H1238.4zM1257.6 885.8H1283.1V892.6H1257.6zM1289.5 885.8H1295.8V892.6H1289.5zM1512.7 885.8H1519.1V892.6H1512.7zM1531.9 885.8H1538.2V892.6H1531.9zM1551.0 885.8H1557.4V892.6H1551.0zM606.9 892.6H613.3V899.4H606.9zM638.8 892.6H657.9V899.4H638.8zM677.1 892.6H683.5V899.4H677.1zM702.6 892.6H709.0V899.4H702.6zM766.4 892.6H772.8V899.4H766.4zM798.3 892.6H804.7V899.4H798.3zM913.1 892.6H925.9V899.4H913.1zM945.0 892.6H964.1V899.4H945.0zM976.9 892.6H996.0V899.4H976.9zM1015.2 892.6H1021.5V899.4H1015.2zM1085.3 892.6H1104.5V899.4H1085.3zM1117.2 892.6H1123.6V899.4H1117.2zM1181.0 892.6H1187.4V899.4H1181.0zM1193.8 892.6H1206.5V899.4H1193.8zM1212.9 892.6H1219.3V899.4H1212.9zM1238.4 892.6H1257.6V899.4H1238.4zM1276.7 892.6H1289.5V899.4H1276.7zM1531.9 892.6H1538.2V899.4H1531.9zM1544.6 892.6H1551.0V899.4H1544.6zM1570.1 892.6H1576.5V899.4H1570.1zM651.6 899.4H664.3V906.2H651.6zM670.7 899.4H677.1V906.2H670.7zM683.5 899.4H689.8V906.2H683.5zM709.0 899.4H715.4V906.2H709.0zM721.7 899.4H728.1V906.2H721.7zM772.8 899.4H785.5V906.2H772.8zM919.5 899.4H951.4V906.2H919.5zM964.1 899.4H970.5V906.2H964.1zM983.3 899.4H996.0V906.2H983.3zM1149.1 899.4H1161.9V906.2H1149.1zM1212.9 899.4H1219.3V906.2H1212.9zM1244.8 899.4H1257.6V906.2H1244.8zM1270.3 899.4H1276.7V906.2H1270.3zM1506.4 899.4H1525.5V906.2H1506.4zM1582.9 899.4H1589.3V906.2H1582.9zM613.3 906.2H626.1V913.0H613.3zM651.6 906.2H657.9V913.0H651.6zM664.3 906.2H677.1V913.0H664.3zM689.8 906.2H696.2V913.0H689.8zM702.6 906.2H734.5V913.0H702.6zM747.3 906.2H753.6V913.0H747.3zM945.0 906.2H951.4V913.0H945.0zM964.1 906.2H970.5V913.0H964.1zM983.3 906.2H996.0V913.0H983.3zM1053.4 906.2H1059.8V913.0H1053.4zM1066.2 906.2H1079.0V913.0H1066.2zM1181.0 906.2H1187.4V913.0H1181.0zM1244.8 906.2H1251.2V913.0H1244.8zM1257.6 906.2H1270.3V913.0H1257.6zM1519.1 906.2H1525.5V913.0H1519.1zM613.3 913.0H619.7V919.8H613.3zM632.4 913.0H638.8V919.8H632.4zM657.9 913.0H664.3V919.8H657.9zM677.1 913.0H683.5V919.8H677.1zM689.8 913.0H702.6V919.8H689.8zM721.7 913.0H728.1V919.8H721.7zM734.5 913.0H747.3V919.8H734.5zM753.6 913.0H766.4V919.8H753.6zM804.7 913.0H811.0V919.8H804.7zM932.2 913.0H938.6V919.8H932.2zM945.0 913.0H951.4V919.8H945.0zM964.1 913.0H970.5V919.8H964.1zM996.0 913.0H1002.4V919.8H996.0zM1015.2 913.0H1021.5V919.8H1015.2zM1053.4 913.0H1079.0V919.8H1053.4zM1161.9 913.0H1168.3V919.8H1161.9zM1181.0 913.0H1187.4V919.8H1181.0zM1212.9 913.0H1225.7V919.8H1212.9zM1232.1 913.0H1244.8V919.8H1232.1zM1257.6 913.0H1264.0V919.8H1257.6zM1315.0 913.0H1321.4V919.8H1315.0zM1519.1 913.0H1525.5V919.8H1519.1zM1544.6 913.0H1551.0V919.8H1544.6zM632.4 919.8H645.2V926.5H632.4zM683.5 919.8H702.6V926.5H683.5zM721.7 919.8H734.5V926.5H721.7zM747.3 919.8H779.1V926.5H747.3zM791.9 919.8H798.3V926.5H791.9zM804.7 919.8H811.0V926.5H804.7zM932.2 919.8H970.5V926.5H932.2zM989.7 919.8H1021.5V926.5H989.7zM1168.3 919.8H1181.0V926.5H1168.3zM1193.8 919.8H1200.2V926.5H1193.8zM1232.1 919.8H1264.0V926.5H1232.1zM1276.7 919.8H1283.1V926.5H1276.7zM1308.6 919.8H1334.1V926.5H1308.6zM1582.9 919.8H1589.3V926.5H1582.9zM645.2 926.5H651.6V933.3H645.2zM702.6 926.5H709.0V933.3H702.6zM753.6 926.5H791.9V933.3H753.6zM798.3 926.5H804.7V933.3H798.3zM855.7 926.5H862.1V933.3H855.7zM957.8 926.5H983.3V933.3H957.8zM996.0 926.5H1002.4V933.3H996.0zM1040.7 926.5H1053.4V933.3H1040.7zM1130.0 926.5H1142.7V933.3H1130.0zM1168.3 926.5H1174.6V933.3H1168.3zM1193.8 926.5H1200.2V933.3H1193.8zM1212.9 926.5H1238.4V933.3H1212.9zM1257.6 926.5H1276.7V933.3H1257.6zM1315.0 926.5H1321.4V933.3H1315.0zM1519.1 926.5H1525.5V933.3H1519.1zM1557.4 926.5H1563.8V933.3H1557.4zM664.3 933.3H670.7V940.1H664.3zM677.1 933.3H683.5V940.1H677.1zM702.6 933.3H709.0V940.1H702.6zM849.3 933.3H862.1V940.1H849.3zM919.5 933.3H932.2V940.1H919.5zM976.9 933.3H983.3V940.1H976.9zM1047.1 933.3H1053.4V940.1H1047.1zM1123.6 933.3H1130.0V940.1H1123.6zM1142.7 933.3H1149.1V940.1H1142.7zM1168.3 933.3H1174.6V940.1H1168.3zM1200.2 933.3H1212.9V940.1H1200.2zM1225.7 933.3H1244.8V940.1H1225.7zM1257.6 933.3H1264.0V940.1H1257.6zM1270.3 933.3H1276.7V940.1H1270.3zM1315.0 933.3H1327.7V940.1H1315.0zM1519.1 933.3H1525.5V940.1H1519.1zM1544.6 933.3H1557.4V940.1H1544.6zM1570.1 933.3H1576.5V940.1H1570.1zM677.1 940.1H683.5V946.9H677.1zM772.8 940.1H779.1V946.9H772.8zM830.2 940.1H842.9V946.9H830.2zM919.5 940.1H932.2V946.9H919.5zM976.9 940.1H989.7V946.9H976.9zM1002.4 940.1H1008.8V946.9H1002.4zM1040.7 940.1H1053.4V946.9H1040.7zM1110.9 940.1H1117.2V946.9H1110.9zM1123.6 940.1H1181.0V946.9H1123.6zM1193.8 940.1H1212.9V946.9H1193.8zM1244.8 940.1H1251.2V946.9H1244.8zM1308.6 940.1H1321.4V946.9H1308.6zM1512.7 940.1H1557.4V946.9H1512.7zM1570.1 940.1H1582.9V946.9H1570.1zM670.7 946.9H683.5V953.7H670.7zM702.6 946.9H709.0V953.7H702.6zM817.4 946.9H823.8V953.7H817.4zM925.9 946.9H932.2V953.7H925.9zM951.4 946.9H957.8V953.7H951.4zM1002.4 946.9H1021.5V953.7H1002.4zM1053.4 946.9H1066.2V953.7H1053.4zM1117.2 946.9H1123.6V953.7H1117.2zM1142.7 946.9H1200.2V953.7H1142.7zM1206.5 946.9H1219.3V953.7H1206.5zM1244.8 946.9H1257.6V953.7H1244.8zM1289.5 946.9H1295.8V953.7H1289.5zM1308.6 946.9H1321.4V953.7H1308.6zM1538.2 946.9H1563.8V953.7H1538.2zM683.5 953.7H721.7V960.5H683.5zM760.0 953.7H766.4V960.5H760.0zM772.8 953.7H779.1V960.5H772.8zM817.4 953.7H823.8V960.5H817.4zM1021.5 953.7H1027.9V960.5H1021.5zM1059.8 953.7H1072.6V960.5H1059.8zM1104.5 953.7H1117.2V960.5H1104.5zM1142.7 953.7H1155.5V960.5H1142.7zM1161.9 953.7H1174.6V960.5H1161.9zM1212.9 953.7H1225.7V960.5H1212.9zM1238.4 953.7H1244.8V960.5H1238.4zM1251.2 953.7H1257.6V960.5H1251.2zM1289.5 953.7H1295.8V960.5H1289.5zM1308.6 953.7H1321.4V960.5H1308.6zM1506.4 953.7H1512.7V960.5H1506.4zM1519.1 953.7H1531.9V960.5H1519.1zM1544.6 953.7H1551.0V960.5H1544.6zM1557.4 953.7H1563.8V960.5H1557.4zM696.2 960.5H702.6V967.3H696.2zM709.0 960.5H721.7V967.3H709.0zM728.1 960.5H740.9V967.3H728.1zM760.0 960.5H766.4V967.3H760.0zM798.3 960.5H804.7V967.3H798.3zM817.4 960.5H830.2V967.3H817.4zM970.5 960.5H983.3V967.3H970.5zM1027.9 960.5H1034.3V967.3H1027.9zM1079.0 960.5H1091.7V967.3H1079.0zM1142.7 960.5H1149.1V967.3H1142.7zM1161.9 960.5H1174.6V967.3H1161.9zM1181.0 960.5H1187.4V967.3H1181.0zM1219.3 960.5H1238.4V967.3H1219.3zM1251.2 960.5H1257.6V967.3H1251.2zM1264.0 960.5H1283.1V967.3H1264.0zM1315.0 960.5H1321.4V967.3H1315.0zM1531.9 960.5H1544.6V967.3H1531.9zM1563.8 960.5H1570.1V967.3H1563.8zM734.5 967.3H740.9V974.1H734.5zM791.9 967.3H798.3V974.1H791.9zM868.5 967.3H881.2V974.1H868.5zM1008.8 967.3H1034.3V974.1H1008.8zM1079.0 967.3H1085.3V974.1H1079.0zM1123.6 967.3H1142.7V974.1H1123.6zM1161.9 967.3H1168.3V974.1H1161.9zM1181.0 967.3H1193.8V974.1H1181.0zM1238.4 967.3H1264.0V974.1H1238.4zM1315.0 967.3H1321.4V974.1H1315.0zM1557.4 967.3H1576.5V974.1H1557.4zM791.9 974.1H798.3V980.9H791.9zM855.7 974.1H862.1V980.9H855.7zM868.5 974.1H881.2V980.9H868.5zM1002.4 974.1H1008.8V980.9H1002.4zM1047.1 974.1H1053.4V980.9H1047.1zM1136.4 974.1H1142.7V980.9H1136.4zM1155.5 974.1H1200.2V980.9H1155.5zM1238.4 974.1H1244.8V980.9H1238.4zM1251.2 974.1H1264.0V980.9H1251.2zM1276.7 974.1H1308.6V980.9H1276.7zM1327.7 974.1H1334.1V980.9H1327.7zM1359.6 974.1H1366.0V980.9H1359.6zM1519.1 974.1H1525.5V980.9H1519.1zM1557.4 974.1H1570.1V980.9H1557.4zM785.5 980.9H811.0V987.7H785.5zM855.7 980.9H868.5V987.7H855.7zM1002.4 980.9H1008.8V987.7H1002.4zM1130.0 980.9H1155.5V987.7H1130.0zM1161.9 980.9H1174.6V987.7H1161.9zM1181.0 980.9H1206.5V987.7H1181.0zM1212.9 980.9H1244.8V987.7H1212.9zM1257.6 980.9H1289.5V987.7H1257.6zM1295.8 980.9H1315.0V987.7H1295.8zM1519.1 980.9H1538.2V987.7H1519.1zM1557.4 980.9H1563.8V987.7H1557.4zM753.6 987.7H760.0V994.4H753.6zM785.5 987.7H791.9V994.4H785.5zM862.1 987.7H868.5V994.4H862.1zM1034.3 987.7H1040.7V994.4H1034.3zM1066.2 987.7H1072.6V994.4H1066.2zM1142.7 987.7H1149.1V994.4H1142.7zM1161.9 987.7H1174.6V994.4H1161.9zM1187.4 987.7H1219.3V994.4H1187.4zM1232.1 987.7H1244.8V994.4H1232.1zM1257.6 987.7H1270.3V994.4H1257.6zM1276.7 987.7H1321.4V994.4H1276.7zM1327.7 987.7H1346.9V994.4H1327.7zM1557.4 987.7H1563.8V994.4H1557.4zM753.6 994.4H760.0V1001.2H753.6zM785.5 994.4H798.3V1001.2H785.5zM862.1 994.4H868.5V1001.2H862.1zM1040.7 994.4H1053.4V1001.2H1040.7zM1142.7 994.4H1270.3V1001.2H1142.7zM1295.8 994.4H1315.0V1001.2H1295.8zM1327.7 994.4H1334.1V1001.2H1327.7zM1346.9 994.4H1353.3V1001.2H1346.9zM1557.4 994.4H1563.8V1001.2H1557.4zM740.9 1001.2H747.3V1008.0H740.9zM785.5 1001.2H791.9V1008.0H785.5zM798.3 1001.2H804.7V1008.0H798.3zM842.9 1001.2H874.8V1008.0H842.9zM1142.7 1001.2H1149.1V1008.0H1142.7zM1161.9 1001.2H1193.8V1008.0H1161.9zM1200.2 1001.2H1219.3V1008.0H1200.2zM1257.6 1001.2H1264.0V1008.0H1257.6zM1283.1 1001.2H1289.5V1008.0H1283.1zM1295.8 1001.2H1315.0V1008.0H1295.8zM1321.4 1001.2H1334.1V1008.0H1321.4zM747.3 1008.0H760.0V1014.8H747.3zM791.9 1008.0H798.3V1014.8H791.9zM849.3 1008.0H862.1V1014.8H849.3zM1015.2 1008.0H1021.5V1014.8H1015.2zM1142.7 1008.0H1149.1V1014.8H1142.7zM1161.9 1008.0H1168.3V1014.8H1161.9zM1181.0 1008.0H1193.8V1014.8H1181.0zM1212.9 1008.0H1219.3V1014.8H1212.9zM1264.0 1008.0H1270.3V1014.8H1264.0zM1283.1 1008.0H1289.5V1014.8H1283.1zM1295.8 1008.0H1315.0V1014.8H1295.8zM1321.4 1008.0H1340.5V1014.8H1321.4zM855.7 1014.8H862.1V1021.6H855.7zM1142.7 1014.8H1168.3V1021.6H1142.7zM1174.6 1014.8H1200.2V1021.6H1174.6zM1212.9 1014.8H1219.3V1021.6H1212.9zM1257.6 1014.8H1283.1V1021.6H1257.6zM1295.8 1014.8H1321.4V1021.6H1295.8zM1340.5 1014.8H1346.9V1021.6H1340.5zM760.0 1021.6H772.8V1028.4H760.0zM779.1 1021.6H791.9V1028.4H779.1zM804.7 1021.6H817.4V1028.4H804.7zM855.7 1021.6H874.8V1028.4H855.7zM1142.7 1021.6H1168.3V1028.4H1142.7zM1181.0 1021.6H1219.3V1028.4H1181.0zM1232.1 1021.6H1276.7V1028.4H1232.1zM1289.5 1021.6H1302.2V1028.4H1289.5zM1308.6 1021.6H1334.1V1028.4H1308.6zM785.5 1028.4H791.9V1035.2H785.5zM1142.7 1028.4H1149.1V1035.2H1142.7zM1155.5 1028.4H1168.3V1035.2H1155.5zM1181.0 1028.4H1187.4V1035.2H1181.0zM1193.8 1028.4H1200.2V1035.2H1193.8zM1232.1 1028.4H1302.2V1035.2H1232.1zM1315.0 1028.4H1334.1V1035.2H1315.0zM791.9 1035.2H798.3V1042.0H791.9zM1155.5 1035.2H1193.8V1042.0H1155.5zM1212.9 1035.2H1219.3V1042.0H1212.9zM1232.1 1035.2H1238.4V1042.0H1232.1zM1251.2 1035.2H1257.6V1042.0H1251.2zM1270.3 1035.2H1276.7V1042.0H1270.3zM1315.0 1035.2H1327.7V1042.0H1315.0zM772.8 1042.0H779.1V1048.8H772.8zM785.5 1042.0H798.3V1048.8H785.5zM811.0 1042.0H817.4V1048.8H811.0zM836.6 1042.0H855.7V1048.8H836.6zM862.1 1042.0H868.5V1048.8H862.1zM1104.5 1042.0H1117.2V1048.8H1104.5zM1142.7 1042.0H1193.8V1048.8H1142.7zM1206.5 1042.0H1238.4V1048.8H1206.5zM1244.8 1042.0H1257.6V1048.8H1244.8zM1270.3 1042.0H1276.7V1048.8H1270.3zM1308.6 1042.0H1321.4V1048.8H1308.6zM740.9 1048.8H747.3V1055.6H740.9zM766.4 1048.8H779.1V1055.6H766.4zM785.5 1048.8H791.9V1055.6H785.5zM804.7 1048.8H823.8V1055.6H804.7zM842.9 1048.8H855.7V1055.6H842.9zM874.8 1048.8H887.6V1055.6H874.8zM1117.2 1048.8H1123.6V1055.6H1117.2zM1149.1 1048.8H1168.3V1055.6H1149.1zM1174.6 1048.8H1187.4V1055.6H1174.6zM1212.9 1048.8H1232.1V1055.6H1212.9zM1244.8 1048.8H1270.3V1055.6H1244.8zM1289.5 1048.8H1295.8V1055.6H1289.5zM1302.2 1048.8H1321.4V1055.6H1302.2zM734.5 1055.6H753.6V1062.4H734.5zM791.9 1055.6H798.3V1062.4H791.9zM811.0 1055.6H823.8V1062.4H811.0zM842.9 1055.6H849.3V1062.4H842.9zM1123.6 1055.6H1142.7V1062.4H1123.6zM1155.5 1055.6H1187.4V1062.4H1155.5zM1244.8 1055.6H1257.6V1062.4H1244.8zM1289.5 1055.6H1295.8V1062.4H1289.5zM1308.6 1055.6H1315.0V1062.4H1308.6zM1327.7 1055.6H1334.1V1062.4H1327.7zM791.9 1062.4H798.3V1069.1H791.9zM817.4 1062.4H823.8V1069.1H817.4zM836.6 1062.4H849.3V1069.1H836.6zM1155.5 1062.4H1168.3V1069.1H1155.5zM779.1 1069.1H791.9V1075.9H779.1zM804.7 1069.1H823.8V1075.9H804.7zM830.2 1069.1H855.7V1075.9H830.2zM1155.5 1069.1H1168.3V1075.9H1155.5zM753.6 1075.9H760.0V1082.7H753.6zM766.4 1075.9H779.1V1082.7H766.4zM785.5 1075.9H791.9V1082.7H785.5zM830.2 1075.9H842.9V1082.7H830.2zM855.7 1075.9H862.1V1082.7H855.7zM913.1 1075.9H919.5V1082.7H913.1zM1174.6 1075.9H1193.8V1082.7H1174.6zM1244.8 1075.9H1251.2V1082.7H1244.8zM1257.6 1075.9H1276.7V1082.7H1257.6zM715.4 1082.7H728.1V1089.5H715.4zM740.9 1082.7H747.3V1089.5H740.9zM766.4 1082.7H779.1V1089.5H766.4zM791.9 1082.7H798.3V1089.5H791.9zM836.6 1082.7H842.9V1089.5H836.6zM849.3 1082.7H868.5V1089.5H849.3zM913.1 1082.7H925.9V1089.5H913.1zM1264.0 1082.7H1276.7V1089.5H1264.0zM721.7 1089.5H728.1V1096.3H721.7zM740.9 1089.5H747.3V1096.3H740.9zM766.4 1089.5H779.1V1096.3H766.4zM791.9 1089.5H804.7V1096.3H791.9zM823.8 1089.5H855.7V1096.3H823.8zM1308.6 1089.5H1315.0V1096.3H1308.6zM728.1 1096.3H747.3V1103.1H728.1zM836.6 1096.3H849.3V1103.1H836.6zM862.1 1096.3H874.8V1103.1H862.1zM721.7 1103.1H740.9V1109.9H721.7zM747.3 1103.1H753.6V1109.9H747.3zM811.0 1103.1H817.4V1109.9H811.0zM836.6 1103.1H842.9V1109.9H836.6zM862.1 1103.1H868.5V1109.9H862.1zM753.6 1109.9H760.0V1116.7H753.6zM804.7 1109.9H817.4V1116.7H804.7zM862.1 1109.9H868.5V1116.7H862.1zM804.7 1116.7H817.4V1123.5H804.7zM855.7 1116.7H862.1V1123.5H855.7zM811.0 1123.5H817.4V1130.3H811.0zM849.3 1123.5H855.7V1130.3H849.3zM760.0 1130.3H766.4V1137.0H760.0zM823.8 1130.3H830.2V1137.0H823.8zM868.5 1130.3H874.8V1137.0H868.5zM772.8 1137.0H779.1V1143.8H772.8zM817.4 1137.0H830.2V1143.8H817.4zM836.6 1137.0H842.9V1143.8H836.6zM760.0 1143.8H779.1V1150.6H760.0zM811.0 1143.8H817.4V1150.6H811.0zM842.9 1143.8H855.7V1150.6H842.9zM766.4 1150.6H772.8V1157.4H766.4zM779.1 1150.6H785.5V1157.4H779.1zM811.0 1150.6H830.2V1157.4H811.0zM842.9 1150.6H862.1V1157.4H842.9zM766.4 1157.4H779.1V1164.2H766.4zM811.0 1157.4H817.4V1164.2H811.0zM830.2 1157.4H836.6V1164.2H830.2zM842.9 1157.4H855.7V1164.2H842.9zM976.9 1157.4H983.3V1164.2H976.9zM709.0 1164.2H715.4V1171.0H709.0zM760.0 1164.2H779.1V1171.0H760.0zM785.5 1164.2H791.9V1171.0H785.5zM811.0 1164.2H817.4V1171.0H811.0zM830.2 1164.2H849.3V1171.0H830.2zM855.7 1164.2H862.1V1171.0H855.7zM976.9 1164.2H983.3V1171.0H976.9zM715.4 1171.0H721.7V1177.8H715.4zM753.6 1171.0H766.4V1177.8H753.6zM779.1 1171.0H785.5V1177.8H779.1zM823.8 1171.0H849.3V1177.8H823.8zM715.4 1177.8H721.7V1184.6H715.4zM747.3 1177.8H760.0V1184.6H747.3zM766.4 1177.8H772.8V1184.6H766.4zM740.9 1184.6H747.3V1191.4H740.9zM804.7 1184.6H823.8V1191.4H804.7zM836.6 1184.6H849.3V1191.4H836.6zM683.5 1191.4H689.8V1198.2H683.5zM798.3 1191.4H804.7V1198.2H798.3zM823.8 1191.4H836.6V1198.2H823.8zM842.9 1191.4H849.3V1198.2H842.9zM791.9 1198.2H804.7V1205.0H791.9zM849.3 1198.2H855.7V1205.0H849.3zM753.6 1205.0H760.0V1211.7H753.6zM779.1 1205.0H785.5V1211.7H779.1zM791.9 1205.0H811.0V1211.7H791.9zM836.6 1205.0H855.7V1211.7H836.6zM791.9 1211.7H817.4V1218.5H791.9zM823.8 1211.7H842.9V1218.5H823.8zM938.6 1211.7H945.0V1218.5H938.6zM747.3 1218.5H753.6V1225.3H747.3zM791.9 1218.5H804.7V1225.3H791.9zM817.4 1218.5H823.8V1225.3H817.4zM938.6 1218.5H957.8V1225.3H938.6zM747.3 1225.3H766.4V1232.1H747.3zM785.5 1225.3H791.9V1232.1H785.5zM798.3 1225.3H804.7V1232.1H798.3zM938.6 1225.3H951.4V1232.1H938.6zM753.6 1232.1H760.0V1238.9H753.6zM772.8 1232.1H785.5V1238.9H772.8zM817.4 1232.1H830.2V1238.9H817.4zM747.3 1238.9H753.6V1245.7H747.3zM760.0 1238.9H785.5V1245.7H760.0zM798.3 1238.9H804.7V1245.7H798.3zM817.4 1238.9H823.8V1245.7H817.4zM836.6 1238.9H842.9V1245.7H836.6zM702.6 1245.7H709.0V1252.5H702.6zM772.8 1245.7H804.7V1252.5H772.8zM823.8 1245.7H842.9V1252.5H823.8zM772.8 1252.5H779.1V1259.3H772.8zM785.5 1252.5H791.9V1259.3H785.5zM823.8 1252.5H842.9V1259.3H823.8zM753.6 1259.3H772.8V1266.1H753.6zM830.2 1259.3H842.9V1266.1H830.2zM766.4 1266.1H779.1V1272.9H766.4zM830.2 1266.1H842.9V1272.9H830.2zM804.7 1272.9H830.2V1279.6H804.7zM804.7 1279.6H811.0V1286.4H804.7zM983.3 1300.0H989.7V1306.8H983.3zM677.1 1306.8H683.5V1313.6H677.1zM715.4 1306.8H721.7V1313.6H715.4zM976.9 1306.8H989.7V1313.6H976.9zM715.4 1313.6H728.1V1320.4H715.4zM976.9 1313.6H989.7V1320.4H976.9zM709.0 1320.4H734.5V1327.2H709.0zM683.5 1327.2H689.8V1334.0H683.5zM715.4 1327.2H734.5V1334.0H715.4zM760.0 1327.2H766.4V1334.0H760.0zM683.5 1334.0H696.2V1340.8H683.5zM715.4 1334.0H728.1V1340.8H715.4zM689.8 1340.8H702.6V1347.6H689.8zM951.4 1347.6H964.1V1354.3H951.4zM721.7 1388.3H728.1V1395.1H721.7zM945.0 1463.0H951.4V1469.8H945.0zM925.9 1469.8H938.6V1476.6H925.9zM925.9 1476.6H932.2V1483.4H925.9zM925.9 1483.4H932.2V1490.2H925.9zM925.9 1510.5H938.6V1517.3H925.9zM957.8 1510.5H964.1V1517.3H957.8zM925.9 1517.3H938.6V1524.1H925.9zM951.4 1517.3H957.8V1524.1H951.4zM976.9 1517.3H983.3V1524.1H976.9zM919.5 1524.1H925.9V1530.9H919.5zM970.5 1524.1H989.7V1530.9H970.5zM913.1 1530.9H925.9V1537.7H913.1zM957.8 1530.9H964.1V1537.7H957.8zM976.9 1544.5H983.3V1551.3H976.9zM983.3 1551.3H989.7V1558.1H983.3zM868.5 1558.1H881.2V1564.8H868.5zM989.7 1558.1H996.0V1564.8H989.7zM804.7 1564.8H817.4V1571.6H804.7zM874.8 1564.8H881.2V1571.6H874.8zM881.2 1571.6H887.6V1578.4H881.2zM938.6 1571.6H945.0V1578.4H938.6zM938.6 1578.4H945.0V1585.2H938.6zM791.9 1585.2H804.7V1592.0H791.9zM791.9 1592.0H798.3V1598.8H791.9zM894.0 1612.4H900.3V1619.2H894.0zM779.1 1626.0H791.9V1632.8H779.1zM894.0 1626.0H900.3V1632.8H894.0zM760.0 1632.8H791.9V1639.5H760.0zM772.8 1639.5H779.1V1646.3H772.8zM791.9 1639.5H811.0V1646.3H791.9zM862.1 1639.5H868.5V1646.3H862.1zM740.9 1646.3H747.3V1653.1H740.9zM798.3 1646.3H804.7V1653.1H798.3zM887.6 1646.3H894.0V1653.1H887.6zM772.8 1653.1H785.5V1659.9H772.8zM791.9 1653.1H798.3V1659.9H791.9zM772.8 1659.9H798.3V1666.7H772.8zM785.5 1666.7H798.3V1673.5H785.5zM830.2 1666.7H842.9V1673.5H830.2zM823.8 1673.5H836.6V1680.3H823.8zM868.5 1673.5H881.2V1680.3H868.5zM862.1 1687.1H881.2V1693.9H862.1zM900.3 1687.1H906.7V1693.9H900.3zM855.7 1693.9H874.8V1700.7H855.7zM894.0 1693.9H900.3V1700.7H894.0zM849.3 1700.7H855.7V1707.4H849.3zM862.1 1700.7H874.8V1707.4H862.1zM887.6 1700.7H900.3V1707.4H887.6zM855.7 1707.4H900.3V1714.2H855.7zM811.0 1714.2H823.8V1721.0H811.0zM855.7 1714.2H862.1V1721.0H855.7zM868.5 1714.2H900.3V1721.0H868.5zM791.9 1721.0H798.3V1727.8H791.9zM811.0 1721.0H830.2V1727.8H811.0zM862.1 1721.0H900.3V1727.8H862.1zM798.3 1727.8H836.6V1734.6H798.3zM855.7 1727.8H900.3V1734.6H855.7zM753.6 1734.6H766.4V1741.4H753.6zM791.9 1734.6H823.8V1741.4H791.9zM836.6 1734.6H874.8V1741.4H836.6zM881.2 1734.6H887.6V1741.4H881.2zM791.9 1741.4H804.7V1748.2H791.9zM836.6 1741.4H887.6V1748.2H836.6zM747.3 1748.2H760.0V1755.0H747.3zM855.7 1748.2H887.6V1755.0H855.7zM894.0 1748.2H900.3V1755.0H894.0zM740.9 1755.0H747.3V1761.8H740.9zM753.6 1755.0H760.0V1761.8H753.6zM868.5 1755.0H881.2V1761.8H868.5zM894.0 1755.0H900.3V1761.8H894.0zM740.9 1761.8H747.3V1768.6H740.9zM753.6 1761.8H760.0V1768.6H753.6zM804.7 1761.8H811.0V1768.6H804.7zM887.6 1761.8H900.3V1768.6H887.6zM747.3 1768.6H760.0V1775.4H747.3zM849.3 1768.6H855.7V1775.4H849.3zM868.5 1768.6H900.3V1775.4H868.5zM696.2 1775.4H702.6V1782.1H696.2zM849.3 1775.4H855.7V1782.1H849.3zM868.5 1775.4H874.8V1782.1H868.5zM887.6 1775.4H900.3V1782.1H887.6zM868.5 1782.1H874.8V1788.9H868.5zM881.2 1782.1H894.0V1788.9H881.2zM715.4 1788.9H728.1V1795.7H715.4zM868.5 1788.9H887.6V1795.7H868.5zM715.4 1795.7H728.1V1802.5H715.4zM798.3 1795.7H804.7V1802.5H798.3zM849.3 1856.8H855.7V1863.6H849.3zM785.5 1870.4H798.3V1877.2H785.5zM791.9 1877.2H798.3V1884.0H791.9zM842.9 1877.2H849.3V1884.0H842.9zM804.7 1911.2H811.0V1918.0H804.7zM779.1 1924.7H785.5V1931.5H779.1zM791.9 1924.7H798.3V1931.5H791.9zM772.8 1931.5H785.5V1938.3H772.8zM791.9 1931.5H804.7V1938.3H791.9z"/>
<path fill="#f88c51" d="M1085.3 233.9H1091.7V240.7H1085.3zM1098.1 233.9H1104.5V240.7H1098.1zM1123.6 233.9H1155.5V240.7H1123.6zM1168.3 233.9H1174.6V240.7H1168.3zM1091.7 240.7H1104.5V247.5H1091.7zM1110.9 240.7H1123.6V247.5H1110.9zM1142.7 240.7H1155.5V247.5H1142.7zM1168.3 240.7H1181.0V247.5H1168.3zM1091.7 247.5H1098.1V254.3H1091.7zM1104.5 247.5H1110.9V254.3H1104.5zM1123.6 247.5H1130.0V254.3H1123.6zM1142.7 247.5H1149.1V254.3H1142.7zM1155.5 247.5H1161.9V254.3H1155.5zM1168.3 247.5H1200.2V254.3H1168.3zM1066.2 254.3H1079.0V261.1H1066.2zM1091.7 254.3H1098.1V261.1H1091.7zM1130.0 254.3H1136.4V261.1H1130.0zM1142.7 254.3H1149.1V261.1H1142.7zM1174.6 254.3H1200.2V261.1H1174.6zM1066.2 261.1H1079.0V267.9H1066.2zM1098.1 261.1H1104.5V267.9H1098.1zM1130.0 261.1H1136.4V267.9H1130.0zM1187.4 261.1H1193.8V267.9H1187.4zM1104.5 267.9H1110.9V274.7H1104.5zM1123.6 267.9H1136.4V274.7H1123.6zM1193.8 267.9H1200.2V274.7H1193.8zM1066.2 274.7H1079.0V281.4H1066.2zM1085.3 274.7H1091.7V281.4H1085.3zM1098.1 274.7H1110.9V281.4H1098.1zM1123.6 274.7H1136.4V281.4H1123.6zM1174.6 274.7H1181.0V281.4H1174.6zM1187.4 274.7H1200.2V281.4H1187.4zM1091.7 281.4H1098.1V288.2H1091.7zM1104.5 281.4H1110.9V288.2H1104.5zM1117.2 281.4H1136.4V288.2H1117.2zM1161.9 281.4H1174.6V288.2H1161.9zM1212.9 281.4H1219.3V288.2H1212.9zM1238.4 281.4H1244.8V288.2H1238.4zM1257.6 281.4H1270.3V288.2H1257.6zM1066.2 288.2H1072.6V295.0H1066.2zM1091.7 288.2H1098.1V295.0H1091.7zM1104.5 288.2H1117.2V295.0H1104.5zM1123.6 288.2H1130.0V295.0H1123.6zM1136.4 288.2H1142.7V295.0H1136.4zM1155.5 288.2H1181.0V295.0H1155.5zM1193.8 288.2H1219.3V295.0H1193.8zM1225.7 288.2H1270.3V295.0H1225.7zM1066.2 295.0H1072.6V301.8H1066.2zM1085.3 295.0H1104.5V301.8H1085.3zM1117.2 295.0H1123.6V301.8H1117.2zM1149.1 295.0H1168.3V301.8H1149.1zM1174.6 295.0H1181.0V301.8H1174.6zM1187.4 295.0H1200.2V301.8H1187.4zM1219.3 295.0H1251.2V301.8H1219.3zM1264.0 295.0H1270.3V301.8H1264.0zM1066.2 301.8H1072.6V308.6H1066.2zM1079.0 301.8H1098.1V308.6H1079.0zM1104.5 301.8H1110.9V308.6H1104.5zM1117.2 301.8H1155.5V308.6H1117.2zM1161.9 301.8H1168.3V308.6H1161.9zM1174.6 301.8H1200.2V308.6H1174.6zM1232.1 301.8H1251.2V308.6H1232.1zM1264.0 301.8H1270.3V308.6H1264.0zM1079.0 308.6H1091.7V315.4H1079.0zM1098.1 308.6H1136.4V315.4H1098.1zM1149.1 308.6H1174.6V315.4H1149.1zM1181.0 308.6H1212.9V315.4H1181.0zM1238.4 308.6H1251.2V315.4H1238.4zM945.0 315.4H951.4V322.2H945.0zM970.5 315.4H976.9V322.2H970.5zM1079.0 315.4H1104.5V322.2H1079.0zM1110.9 315.4H1123.6V322.2H1110.9zM1142.7 315.4H1174.6V322.2H1142.7zM1181.0 315.4H1219.3V322.2H1181.0zM1066.2 322.2H1072.6V329.0H1066.2zM1091.7 322.2H1098.1V329.0H1091.7zM1110.9 322.2H1123.6V329.0H1110.9zM1130.0 322.2H1142.7V329.0H1130.0zM1168.3 322.2H1174.6V329.0H1168.3zM1193.8 322.2H1200.2V329.0H1193.8zM1206.5 322.2H1225.7V329.0H1206.5zM1238.4 322.2H1257.6V329.0H1238.4zM1283.1 322.2H1289.5V329.0H1283.1zM1021.5 329.0H1040.7V335.8H1021.5zM1066.2 329.0H1072.6V335.8H1066.2zM1098.1 329.0H1142.7V335.8H1098.1zM1168.3 329.0H1181.0V335.8H1168.3zM1193.8 329.0H1206.5V335.8H1193.8zM1251.2 329.0H1257.6V335.8H1251.2zM1021.5 335.8H1027.9V342.6H1021.5zM1072.6 335.8H1091.7V342.6H1072.6zM1104.5 335.8H1110.9V342.6H1104.5zM1136.4 335.8H1149.1V342.6H1136.4zM1168.3 335.8H1174.6V342.6H1168.3zM1193.8 335.8H1200.2V342.6H1193.8zM1225.7 335.8H1244.8V342.6H1225.7zM1251.2 335.8H1257.6V342.6H1251.2zM1008.8 342.6H1021.5V349.3H1008.8zM1066.2 342.6H1091.7V349.3H1066.2zM1098.1 342.6H1110.9V349.3H1098.1zM1123.6 342.6H1142.7V349.3H1123.6zM1174.6 342.6H1181.0V349.3H1174.6zM1187.4 342.6H1193.8V349.3H1187.4zM1219.3 342.6H1232.1V349.3H1219.3zM1244.8 342.6H1257.6V349.3H1244.8zM919.5 349.3H925.9V356.1H919.5zM996.0 349.3H1002.4V356.1H996.0zM1008.8 349.3H1015.2V356.1H1008.8zM1072.6 349.3H1091.7V356.1H1072.6zM1104.5 349.3H1110.9V356.1H1104.5zM1117.2 349.3H1130.0V356.1H1117.2zM1168.3 349.3H1187.4V356.1H1168.3zM1251.2 349.3H1264.0V356.1H1251.2zM1283.1 349.3H1295.8V356.1H1283.1zM1002.4 356.1H1008.8V362.9H1002.4zM1059.8 356.1H1066.2V362.9H1059.8zM1072.6 356.1H1091.7V362.9H1072.6zM1117.2 356.1H1123.6V362.9H1117.2zM1130.0 356.1H1142.7V362.9H1130.0zM1168.3 356.1H1187.4V362.9H1168.3zM1212.9 356.1H1232.1V362.9H1212.9zM1244.8 356.1H1270.3V362.9H1244.8zM1283.1 356.1H1295.8V362.9H1283.1zM874.8 362.9H881.2V369.7H874.8zM1123.6 362.9H1130.0V369.7H1123.6zM1168.3 362.9H1187.4V369.7H1168.3zM1200.2 362.9H1212.9V369.7H1200.2zM1257.6 362.9H1270.3V369.7H1257.6zM1302.2 362.9H1308.6V369.7H1302.2zM868.5 369.7H874.8V376.5H868.5zM970.5 369.7H976.9V376.5H970.5zM1047.1 369.7H1053.4V376.5H1047.1zM1123.6 369.7H1130.0V376.5H1123.6zM1193.8 369.7H1212.9V376.5H1193.8zM1225.7 369.7H1232.1V376.5H1225.7zM1244.8 369.7H1251.2V376.5H1244.8zM1257.6 369.7H1264.0V376.5H1257.6zM1270.3 369.7H1276.7V376.5H1270.3zM862.1 376.5H868.5V383.3H862.1zM938.6 376.5H951.4V383.3H938.6zM1200.2 376.5H1206.5V383.3H1200.2zM1212.9 376.5H1219.3V383.3H1212.9zM1225.7 376.5H1232.1V383.3H1225.7zM1244.8 376.5H1257.6V383.3H1244.8zM1283.1 376.5H1308.6V383.3H1283.1zM938.6 383.3H951.4V390.1H938.6zM1027.9 383.3H1034.3V390.1H1027.9zM1059.8 383.3H1066.2V390.1H1059.8zM1181.0 383.3H1219.3V390.1H1181.0zM1251.2 383.3H1257.6V390.1H1251.2zM970.5 390.1H976.9V396.9H970.5zM1187.4 390.1H1193.8V396.9H1187.4zM1232.1 390.1H1238.4V396.9H1232.1zM1244.8 390.1H1276.7V396.9H1244.8zM951.4 396.9H957.8V403.7H951.4zM964.1 396.9H970.5V403.7H964.1zM983.3 396.9H989.7V403.7H983.3zM1161.9 396.9H1187.4V403.7H1161.9zM1212.9 396.9H1219.3V403.7H1212.9zM1225.7 396.9H1238.4V403.7H1225.7zM938.6 403.7H945.0V410.5H938.6zM951.4 403.7H957.8V410.5H951.4zM964.1 403.7H983.3V410.5H964.1zM1206.5 403.7H1212.9V410.5H1206.5zM1219.3 403.7H1225.7V410.5H1219.3zM1264.0 403.7H1270.3V410.5H1264.0zM1276.7 403.7H1283.1V410.5H1276.7zM1289.5 403.7H1295.8V410.5H1289.5zM1308.6 403.7H1315.0V410.5H1308.6zM938.6 410.5H951.4V417.3H938.6zM957.8 410.5H970.5V417.3H957.8zM996.0 410.5H1002.4V417.3H996.0zM1187.4 410.5H1193.8V417.3H1187.4zM1219.3 410.5H1225.7V417.3H1219.3zM1232.1 410.5H1244.8V417.3H1232.1zM1257.6 410.5H1276.7V417.3H1257.6zM1295.8 410.5H1302.2V417.3H1295.8zM881.2 417.3H894.0V424.0H881.2zM925.9 417.3H938.6V424.0H925.9zM996.0 417.3H1002.4V424.0H996.0zM1059.8 417.3H1072.6V424.0H1059.8zM1206.5 417.3H1219.3V424.0H1206.5zM1264.0 417.3H1270.3V424.0H1264.0zM1366.0 417.3H1372.4V424.0H1366.0zM881.2 424.0H887.6V430.8H881.2zM894.0 424.0H900.3V430.8H894.0zM913.1 424.0H919.5V430.8H913.1zM938.6 424.0H951.4V430.8H938.6zM996.0 424.0H1002.4V430.8H996.0zM1015.2 424.0H1021.5V430.8H1015.2zM1047.1 424.0H1072.6V430.8H1047.1zM1244.8 424.0H1251.2V430.8H1244.8zM1372.4 424.0H1391.5V430.8H1372.4zM823.8 430.8H830.2V437.6H823.8zM868.5 430.8H874.8V437.6H868.5zM887.6 430.8H925.9V437.6H887.6zM996.0 430.8H1002.4V437.6H996.0zM1047.1 430.8H1053.4V437.6H1047.1zM1244.8 430.8H1251.2V437.6H1244.8zM1385.2 430.8H1391.5V437.6H1385.2zM798.3 437.6H811.0V444.4H798.3zM900.3 437.6H906.7V444.4H900.3zM945.0 437.6H957.8V444.4H945.0zM1238.4 437.6H1251.2V444.4H1238.4zM1385.2 437.6H1391.5V444.4H1385.2zM798.3 444.4H811.0V451.2H798.3zM894.0 444.4H900.3V451.2H894.0zM817.4 451.2H830.2V458.0H817.4zM849.3 451.2H868.5V458.0H849.3zM874.8 451.2H881.2V458.0H874.8zM996.0 451.2H1002.4V458.0H996.0zM1295.8 451.2H1308.6V458.0H1295.8zM1340.5 451.2H1353.3V458.0H1340.5zM1372.4 451.2H1385.2V458.0H1372.4zM817.4 458.0H823.8V464.8H817.4zM855.7 458.0H862.1V464.8H855.7zM868.5 458.0H874.8V464.8H868.5zM906.7 458.0H913.1V464.8H906.7zM925.9 458.0H932.2V464.8H925.9zM1002.4 458.0H1008.8V464.8H1002.4zM1238.4 458.0H1251.2V464.8H1238.4zM1302.2 458.0H1308.6V464.8H1302.2zM1366.0 458.0H1378.8V464.8H1366.0zM900.3 464.8H906.7V471.6H900.3zM932.2 464.8H938.6V471.6H932.2zM1027.9 464.8H1040.7V471.6H1027.9zM1238.4 464.8H1251.2V471.6H1238.4zM1270.3 464.8H1283.1V471.6H1270.3zM1289.5 464.8H1302.2V471.6H1289.5zM1340.5 464.8H1346.9V471.6H1340.5zM1359.6 464.8H1372.4V471.6H1359.6zM1468.1 464.8H1474.5V471.6H1468.1zM823.8 471.6H830.2V478.4H823.8zM881.2 471.6H894.0V478.4H881.2zM900.3 471.6H913.1V478.4H900.3zM932.2 471.6H938.6V478.4H932.2zM1091.7 471.6H1098.1V478.4H1091.7zM1276.7 471.6H1283.1V478.4H1276.7zM1334.1 471.6H1353.3V478.4H1334.1zM1366.0 471.6H1372.4V478.4H1366.0zM1385.2 471.6H1391.5V478.4H1385.2zM887.6 478.4H925.9V485.2H887.6zM1091.7 478.4H1098.1V485.2H1091.7zM1283.1 478.4H1289.5V485.2H1283.1zM1353.3 478.4H1359.6V485.2H1353.3zM1366.0 478.4H1378.8V485.2H1366.0zM1385.2 478.4H1391.5V485.2H1385.2zM1500.0 478.4H1506.4V485.2H1500.0zM1525.5 478.4H1538.2V485.2H1525.5zM823.8 485.2H830.2V491.9H823.8zM855.7 485.2H862.1V491.9H855.7zM887.6 485.2H906.7V491.9H887.6zM945.0 485.2H951.4V491.9H945.0zM1091.7 485.2H1098.1V491.9H1091.7zM1372.4 485.2H1391.5V491.9H1372.4zM1500.0 485.2H1506.4V491.9H1500.0zM1525.5 485.2H1531.9V491.9H1525.5zM1538.2 485.2H1544.6V491.9H1538.2zM1570.1 485.2H1582.9V491.9H1570.1zM817.4 491.9H830.2V498.7H817.4zM855.7 491.9H862.1V498.7H855.7zM894.0 491.9H900.3V498.7H894.0zM919.5 491.9H932.2V498.7H919.5zM951.4 491.9H957.8V498.7H951.4zM1155.5 491.9H1161.9V498.7H1155.5zM1359.6 491.9H1366.0V498.7H1359.6zM1500.0 491.9H1506.4V498.7H1500.0zM1525.5 491.9H1531.9V498.7H1525.5zM1538.2 491.9H1557.4V498.7H1538.2zM1576.5 491.9H1582.9V498.7H1576.5zM798.3 498.7H804.7V505.5H798.3zM817.4 498.7H823.8V505.5H817.4zM862.1 498.7H874.8V505.5H862.1zM881.2 498.7H887.6V505.5H881.2zM913.1 498.7H925.9V505.5H913.1zM945.0 498.7H951.4V505.5H945.0zM1251.2 498.7H1264.0V505.5H1251.2zM1334.1 498.7H1346.9V505.5H1334.1zM1359.6 498.7H1366.0V505.5H1359.6zM1372.4 498.7H1378.8V505.5H1372.4zM1500.0 498.7H1506.4V505.5H1500.0zM1525.5 498.7H1531.9V505.5H1525.5zM1544.6 498.7H1557.4V505.5H1544.6zM1563.8 498.7H1576.5V505.5H1563.8zM862.1 505.5H887.6V512.3H862.1zM913.1 505.5H919.5V512.3H913.1zM945.0 505.5H951.4V512.3H945.0zM1161.9 505.5H1168.3V512.3H1161.9zM1244.8 505.5H1257.6V512.3H1244.8zM1359.6 505.5H1372.4V512.3H1359.6zM1525.5 505.5H1544.6V512.3H1525.5zM1551.0 505.5H1563.8V512.3H1551.0zM862.1 512.3H868.5V519.1H862.1zM894.0 512.3H900.3V519.1H894.0zM913.1 512.3H925.9V519.1H913.1zM951.4 512.3H957.8V519.1H951.4zM1117.2 512.3H1123.6V519.1H1117.2zM1161.9 512.3H1168.3V519.1H1161.9zM1244.8 512.3H1257.6V519.1H1244.8zM1321.4 512.3H1327.7V519.1H1321.4zM1334.1 512.3H1353.3V519.1H1334.1zM1366.0 512.3H1378.8V519.1H1366.0zM1512.7 512.3H1525.5V519.1H1512.7zM817.4 519.1H823.8V525.9H817.4zM919.5 519.1H938.6V525.9H919.5zM951.4 519.1H957.8V525.9H951.4zM1251.2 519.1H1276.7V525.9H1251.2zM1283.1 519.1H1289.5V525.9H1283.1zM1315.0 519.1H1340.5V525.9H1315.0zM1353.3 519.1H1372.4V525.9H1353.3zM1378.8 519.1H1385.2V525.9H1378.8zM1519.1 519.1H1525.5V525.9H1519.1zM1582.9 519.1H1602.0V525.9H1582.9zM453.8 525.9H460.2V532.7H453.8zM823.8 525.9H830.2V532.7H823.8zM945.0 525.9H957.8V532.7H945.0zM1257.6 525.9H1264.0V532.7H1257.6zM1276.7 525.9H1283.1V532.7H1276.7zM1289.5 525.9H1295.8V532.7H1289.5zM1321.4 525.9H1372.4V532.7H1321.4zM1621.2 525.9H1633.9V532.7H1621.2zM453.8 532.7H460.2V539.5H453.8zM817.4 532.7H830.2V539.5H817.4zM945.0 532.7H957.8V539.5H945.0zM1257.6 532.7H1283.1V539.5H1257.6zM1289.5 532.7H1295.8V539.5H1289.5zM1321.4 532.7H1327.7V539.5H1321.4zM1353.3 532.7H1366.0V539.5H1353.3zM1474.5 532.7H1480.8V539.5H1474.5zM1487.2 532.7H1493.6V539.5H1487.2zM1557.4 532.7H1570.1V539.5H1557.4zM1640.3 532.7H1646.7V539.5H1640.3zM1653.1 532.7H1659.4V539.5H1653.1zM823.8 539.5H830.2V546.3H823.8zM887.6 539.5H925.9V546.3H887.6zM932.2 539.5H938.6V546.3H932.2zM945.0 539.5H951.4V546.3H945.0zM1289.5 539.5H1295.8V546.3H1289.5zM1315.0 539.5H1321.4V546.3H1315.0zM1353.3 539.5H1359.6V546.3H1353.3zM1474.5 539.5H1480.8V546.3H1474.5zM1525.5 539.5H1531.9V546.3H1525.5zM1544.6 539.5H1570.1V546.3H1544.6zM1595.7 539.5H1602.0V546.3H1595.7zM1608.4 539.5H1621.2V546.3H1608.4zM1640.3 539.5H1646.7V546.3H1640.3zM447.4 546.3H453.8V553.1H447.4zM479.3 546.3H485.7V553.1H479.3zM823.8 546.3H830.2V553.1H823.8zM894.0 546.3H900.3V553.1H894.0zM913.1 546.3H925.9V553.1H913.1zM932.2 546.3H938.6V553.1H932.2zM945.0 546.3H951.4V553.1H945.0zM1174.6 546.3H1181.0V553.1H1174.6zM1200.2 546.3H1206.5V553.1H1200.2zM1219.3 546.3H1225.7V553.1H1219.3zM1289.5 546.3H1302.2V553.1H1289.5zM1315.0 546.3H1327.7V553.1H1315.0zM1359.6 546.3H1385.2V553.1H1359.6zM1410.7 546.3H1423.4V553.1H1410.7zM1544.6 546.3H1551.0V553.1H1544.6zM1595.7 546.3H1608.4V553.1H1595.7zM1621.2 546.3H1627.6V553.1H1621.2zM447.4 553.1H485.7V559.9H447.4zM830.2 553.1H836.6V559.9H830.2zM868.5 553.1H874.8V559.9H868.5zM894.0 553.1H900.3V559.9H894.0zM938.6 553.1H951.4V559.9H938.6zM1079.0 553.1H1085.3V559.9H1079.0zM1136.4 553.1H1142.7V559.9H1136.4zM1174.6 553.1H1181.0V559.9H1174.6zM1206.5 553.1H1212.9V559.9H1206.5zM1219.3 553.1H1225.7V559.9H1219.3zM1283.1 553.1H1289.5V559.9H1283.1zM1315.0 553.1H1321.4V559.9H1315.0zM1327.7 553.1H1334.1V559.9H1327.7zM1359.6 553.1H1366.0V559.9H1359.6zM1519.1 553.1H1531.9V559.9H1519.1zM1563.8 553.1H1576.5V559.9H1563.8zM1602.0 553.1H1621.2V559.9H1602.0zM1646.7 553.1H1653.1V559.9H1646.7zM447.4 559.9H479.3V566.6H447.4zM830.2 559.9H836.6V566.6H830.2zM868.5 559.9H881.2V566.6H868.5zM894.0 559.9H900.3V566.6H894.0zM932.2 559.9H945.0V566.6H932.2zM970.5 559.9H983.3V566.6H970.5zM1136.4 559.9H1142.7V566.6H1136.4zM1264.0 559.9H1283.1V566.6H1264.0zM1340.5 559.9H1346.9V566.6H1340.5zM1353.3 559.9H1359.6V566.6H1353.3zM1366.0 559.9H1378.8V566.6H1366.0zM1429.8 559.9H1436.2V566.6H1429.8zM1474.5 559.9H1480.8V566.6H1474.5zM1519.1 559.9H1525.5V566.6H1519.1zM1531.9 559.9H1544.6V566.6H1531.9zM1563.8 559.9H1589.3V566.6H1563.8zM1595.7 559.9H1602.0V566.6H1595.7zM1608.4 559.9H1627.6V566.6H1608.4zM1646.7 559.9H1659.4V566.6H1646.7zM460.2 566.6H473.0V573.4H460.2zM772.8 566.6H785.5V573.4H772.8zM868.5 566.6H874.8V573.4H868.5zM913.1 566.6H932.2V573.4H913.1zM945.0 566.6H951.4V573.4H945.0zM957.8 566.6H970.5V573.4H957.8zM983.3 566.6H989.7V573.4H983.3zM1021.5 566.6H1027.9V573.4H1021.5zM1091.7 566.6H1098.1V573.4H1091.7zM1168.3 566.6H1174.6V573.4H1168.3zM1276.7 566.6H1283.1V573.4H1276.7zM1295.8 566.6H1308.6V573.4H1295.8zM1359.6 566.6H1378.8V573.4H1359.6zM1385.2 566.6H1391.5V573.4H1385.2zM1410.7 566.6H1417.0V573.4H1410.7zM1493.6 566.6H1500.0V573.4H1493.6zM1519.1 566.6H1538.2V573.4H1519.1zM1570.1 566.6H1582.9V573.4H1570.1zM1589.3 566.6H1595.7V573.4H1589.3zM1608.4 566.6H1627.6V573.4H1608.4zM460.2 573.4H479.3V580.2H460.2zM492.1 573.4H498.5V580.2H492.1zM849.3 573.4H855.7V580.2H849.3zM868.5 573.4H874.8V580.2H868.5zM932.2 573.4H938.6V580.2H932.2zM976.9 573.4H983.3V580.2H976.9zM1059.8 573.4H1066.2V580.2H1059.8zM1149.1 573.4H1161.9V580.2H1149.1zM1187.4 573.4H1200.2V580.2H1187.4zM1251.2 573.4H1264.0V580.2H1251.2zM1359.6 573.4H1372.4V580.2H1359.6zM1519.1 573.4H1525.5V580.2H1519.1zM1557.4 573.4H1563.8V580.2H1557.4zM1576.5 573.4H1582.9V580.2H1576.5zM1608.4 573.4H1621.2V580.2H1608.4zM479.3 580.2H498.5V587.0H479.3zM849.3 580.2H855.7V587.0H849.3zM932.2 580.2H945.0V587.0H932.2zM957.8 580.2H1021.5V587.0H957.8zM1040.7 580.2H1047.1V587.0H1040.7zM1264.0 580.2H1270.3V587.0H1264.0zM1366.0 580.2H1372.4V587.0H1366.0zM1474.5 580.2H1480.8V587.0H1474.5zM1519.1 580.2H1525.5V587.0H1519.1zM1589.3 580.2H1595.7V587.0H1589.3zM1614.8 580.2H1621.2V587.0H1614.8zM1627.6 580.2H1633.9V587.0H1627.6zM466.6 587.0H473.0V593.8H466.6zM479.3 587.0H498.5V593.8H479.3zM842.9 587.0H855.7V593.8H842.9zM900.3 587.0H906.7V593.8H900.3zM925.9 587.0H932.2V593.8H925.9zM976.9 587.0H983.3V593.8H976.9zM1015.2 587.0H1021.5V593.8H1015.2zM1034.3 587.0H1040.7V593.8H1034.3zM1053.4 587.0H1059.8V593.8H1053.4zM1091.7 587.0H1098.1V593.8H1091.7zM1206.5 587.0H1212.9V593.8H1206.5zM1270.3 587.0H1276.7V593.8H1270.3zM1493.6 587.0H1500.0V593.8H1493.6zM1519.1 587.0H1531.9V593.8H1519.1zM1633.9 587.0H1640.3V593.8H1633.9zM466.6 593.8H498.5V600.6H466.6zM766.4 593.8H772.8V600.6H766.4zM842.9 593.8H855.7V600.6H842.9zM874.8 593.8H881.2V600.6H874.8zM894.0 593.8H919.5V600.6H894.0zM925.9 593.8H932.2V600.6H925.9zM976.9 593.8H983.3V600.6H976.9zM996.0 593.8H1015.2V600.6H996.0zM1027.9 593.8H1034.3V600.6H1027.9zM1047.1 593.8H1053.4V600.6H1047.1zM1059.8 593.8H1066.2V600.6H1059.8zM1149.1 593.8H1155.5V600.6H1149.1zM1168.3 593.8H1174.6V600.6H1168.3zM1232.1 593.8H1238.4V600.6H1232.1zM1455.3 593.8H1461.7V600.6H1455.3zM1468.1 593.8H1474.5V600.6H1468.1zM1493.6 593.8H1506.4V600.6H1493.6zM1519.1 593.8H1531.9V600.6H1519.1zM1570.1 593.8H1582.9V600.6H1570.1zM1621.2 593.8H1633.9V600.6H1621.2zM1653.1 593.8H1659.4V600.6H1653.1zM447.4 600.6H453.8V607.4H447.4zM473.0 600.6H479.3V607.4H473.0zM492.1 600.6H504.8V607.4H492.1zM842.9 600.6H849.3V607.4H842.9zM887.6 600.6H900.3V607.4H887.6zM919.5 600.6H932.2V607.4H919.5zM951.4 600.6H957.8V607.4H951.4zM970.5 600.6H1002.4V607.4H970.5zM1021.5 600.6H1027.9V607.4H1021.5zM1047.1 600.6H1053.4V607.4H1047.1zM1059.8 600.6H1066.2V607.4H1059.8zM1142.7 600.6H1149.1V607.4H1142.7zM1155.5 600.6H1161.9V607.4H1155.5zM1181.0 600.6H1187.4V607.4H1181.0zM1212.9 600.6H1225.7V607.4H1212.9zM1232.1 600.6H1238.4V607.4H1232.1zM1244.8 600.6H1264.0V607.4H1244.8zM1506.4 600.6H1512.7V607.4H1506.4zM1519.1 600.6H1525.5V607.4H1519.1zM1531.9 600.6H1538.2V607.4H1531.9zM1544.6 600.6H1551.0V607.4H1544.6zM1576.5 600.6H1589.3V607.4H1576.5zM473.0 607.4H485.7V614.2H473.0zM925.9 607.4H932.2V614.2H925.9zM945.0 607.4H957.8V614.2H945.0zM970.5 607.4H1002.4V614.2H970.5zM1072.6 607.4H1079.0V614.2H1072.6zM1104.5 607.4H1110.9V614.2H1104.5zM1130.0 607.4H1149.1V614.2H1130.0zM1155.5 607.4H1161.9V614.2H1155.5zM1168.3 607.4H1174.6V614.2H1168.3zM1206.5 607.4H1219.3V614.2H1206.5zM1225.7 607.4H1238.4V614.2H1225.7zM1493.6 607.4H1500.0V614.2H1493.6zM1512.7 607.4H1551.0V614.2H1512.7zM1570.1 607.4H1589.3V614.2H1570.1zM473.0 614.2H485.7V621.0H473.0zM811.0 614.2H823.8V621.0H811.0zM868.5 614.2H881.2V621.0H868.5zM919.5 614.2H957.8V621.0H919.5zM970.5 614.2H1002.4V621.0H970.5zM1034.3 614.2H1040.7V621.0H1034.3zM1130.0 614.2H1136.4V621.0H1130.0zM1149.1 614.2H1155.5V621.0H1149.1zM1168.3 614.2H1187.4V621.0H1168.3zM1238.4 614.2H1244.8V621.0H1238.4zM1264.0 614.2H1270.3V621.0H1264.0zM1436.2 614.2H1442.6V621.0H1436.2zM1493.6 614.2H1506.4V621.0H1493.6zM1525.5 614.2H1531.9V621.0H1525.5zM1544.6 614.2H1551.0V621.0H1544.6zM1570.1 614.2H1576.5V621.0H1570.1zM473.0 621.0H479.3V627.8H473.0zM919.5 621.0H951.4V627.8H919.5zM989.7 621.0H1002.4V627.8H989.7zM1021.5 621.0H1040.7V627.8H1021.5zM1047.1 621.0H1059.8V627.8H1047.1zM1104.5 621.0H1110.9V627.8H1104.5zM1174.6 621.0H1181.0V627.8H1174.6zM1187.4 621.0H1193.8V627.8H1187.4zM1238.4 621.0H1244.8V627.8H1238.4zM1257.6 621.0H1270.3V627.8H1257.6zM1500.0 621.0H1506.4V627.8H1500.0zM1531.9 621.0H1538.2V627.8H1531.9zM447.4 627.8H453.8V634.5H447.4zM466.6 627.8H473.0V634.5H466.6zM919.5 627.8H945.0V634.5H919.5zM989.7 627.8H996.0V634.5H989.7zM1002.4 627.8H1015.2V634.5H1002.4zM1040.7 627.8H1047.1V634.5H1040.7zM1053.4 627.8H1059.8V634.5H1053.4zM1091.7 627.8H1098.1V634.5H1091.7zM1117.2 627.8H1136.4V634.5H1117.2zM1174.6 627.8H1187.4V634.5H1174.6zM1232.1 627.8H1238.4V634.5H1232.1zM1289.5 627.8H1315.0V634.5H1289.5zM1493.6 627.8H1500.0V634.5H1493.6zM1506.4 627.8H1512.7V634.5H1506.4zM1538.2 627.8H1544.6V634.5H1538.2zM1557.4 627.8H1570.1V634.5H1557.4zM1589.3 627.8H1595.7V634.5H1589.3zM460.2 634.5H473.0V641.3H460.2zM868.5 634.5H874.8V641.3H868.5zM913.1 634.5H945.0V641.3H913.1zM964.1 634.5H970.5V641.3H964.1zM989.7 634.5H1008.8V641.3H989.7zM1053.4 634.5H1059.8V641.3H1053.4zM1085.3 634.5H1091.7V641.3H1085.3zM1117.2 634.5H1130.0V641.3H1117.2zM1136.4 634.5H1142.7V641.3H1136.4zM1168.3 634.5H1181.0V641.3H1168.3zM1225.7 634.5H1232.1V641.3H1225.7zM1238.4 634.5H1244.8V641.3H1238.4zM1302.2 634.5H1315.0V641.3H1302.2zM1353.3 634.5H1366.0V641.3H1353.3zM1538.2 634.5H1544.6V641.3H1538.2zM1557.4 634.5H1570.1V641.3H1557.4zM460.2 641.3H466.6V648.1H460.2zM906.7 641.3H913.1V648.1H906.7zM919.5 641.3H925.9V648.1H919.5zM932.2 641.3H945.0V648.1H932.2zM989.7 641.3H1002.4V648.1H989.7zM1040.7 641.3H1047.1V648.1H1040.7zM1072.6 641.3H1085.3V648.1H1072.6zM1117.2 641.3H1123.6V648.1H1117.2zM1136.4 641.3H1142.7V648.1H1136.4zM1187.4 641.3H1193.8V648.1H1187.4zM1200.2 641.3H1232.1V648.1H1200.2zM1238.4 641.3H1244.8V648.1H1238.4zM1353.3 641.3H1366.0V648.1H1353.3zM1378.8 641.3H1385.2V648.1H1378.8zM1531.9 641.3H1544.6V648.1H1531.9zM906.7 648.1H945.0V654.9H906.7zM970.5 648.1H989.7V654.9H970.5zM1015.2 648.1H1021.5V654.9H1015.2zM1047.1 648.1H1059.8V654.9H1047.1zM1130.0 648.1H1142.7V654.9H1130.0zM1206.5 648.1H1212.9V654.9H1206.5zM1219.3 648.1H1232.1V654.9H1219.3zM1251.2 648.1H1295.8V654.9H1251.2zM1366.0 648.1H1378.8V654.9H1366.0zM1531.9 648.1H1544.6V654.9H1531.9zM925.9 654.9H951.4V661.7H925.9zM964.1 654.9H983.3V661.7H964.1zM1059.8 654.9H1066.2V661.7H1059.8zM1206.5 654.9H1212.9V661.7H1206.5zM1219.3 654.9H1225.7V661.7H1219.3zM1238.4 654.9H1244.8V661.7H1238.4zM1257.6 654.9H1276.7V661.7H1257.6zM1295.8 654.9H1302.2V661.7H1295.8zM1531.9 654.9H1538.2V661.7H1531.9zM900.3 661.7H906.7V668.5H900.3zM913.1 661.7H919.5V668.5H913.1zM932.2 661.7H945.0V668.5H932.2zM957.8 661.7H964.1V668.5H957.8zM983.3 661.7H989.7V668.5H983.3zM1072.6 661.7H1079.0V668.5H1072.6zM1104.5 661.7H1110.9V668.5H1104.5zM1219.3 661.7H1238.4V668.5H1219.3zM1289.5 661.7H1295.8V668.5H1289.5zM1302.2 661.7H1308.6V668.5H1302.2zM1531.9 661.7H1538.2V668.5H1531.9zM842.9 668.5H855.7V675.3H842.9zM900.3 668.5H906.7V675.3H900.3zM913.1 668.5H919.5V675.3H913.1zM951.4 668.5H964.1V675.3H951.4zM983.3 668.5H989.7V675.3H983.3zM1059.8 668.5H1066.2V675.3H1059.8zM1072.6 668.5H1079.0V675.3H1072.6zM1168.3 668.5H1174.6V675.3H1168.3zM1295.8 668.5H1302.2V675.3H1295.8zM1308.6 668.5H1315.0V675.3H1308.6zM1570.1 668.5H1576.5V675.3H1570.1zM842.9 675.3H855.7V682.1H842.9zM874.8 675.3H887.6V682.1H874.8zM906.7 675.3H913.1V682.1H906.7zM976.9 675.3H983.3V682.1H976.9zM1244.8 675.3H1251.2V682.1H1244.8zM1308.6 675.3H1315.0V682.1H1308.6zM1563.8 675.3H1576.5V682.1H1563.8zM1595.7 675.3H1602.0V682.1H1595.7zM849.3 682.1H855.7V688.9H849.3zM874.8 682.1H881.2V688.9H874.8zM1238.4 682.1H1257.6V688.9H1238.4zM1595.7 682.1H1608.4V688.9H1595.7zM919.5 688.9H925.9V695.7H919.5zM1098.1 688.9H1110.9V695.7H1098.1zM1251.2 688.9H1257.6V695.7H1251.2zM1295.8 688.9H1302.2V695.7H1295.8zM1589.3 688.9H1602.0V695.7H1589.3zM913.1 695.7H919.5V702.5H913.1zM1104.5 695.7H1110.9V702.5H1104.5zM1232.1 695.7H1238.4V702.5H1232.1zM1257.6 695.7H1264.0V702.5H1257.6zM779.1 702.5H785.5V709.2H779.1zM811.0 702.5H830.2V709.2H811.0zM881.2 702.5H894.0V709.2H881.2zM900.3 702.5H913.1V709.2H900.3zM957.8 702.5H964.1V709.2H957.8zM1098.1 702.5H1104.5V709.2H1098.1zM1257.6 702.5H1264.0V709.2H1257.6zM1372.4 702.5H1378.8V709.2H1372.4zM1538.2 702.5H1557.4V709.2H1538.2zM785.5 709.2H791.9V716.0H785.5zM817.4 709.2H830.2V716.0H817.4zM881.2 709.2H894.0V716.0H881.2zM906.7 709.2H913.1V716.0H906.7zM1130.0 709.2H1142.7V716.0H1130.0zM1244.8 709.2H1257.6V716.0H1244.8zM1551.0 709.2H1557.4V716.0H1551.0zM779.1 716.0H791.9V722.8H779.1zM881.2 716.0H887.6V722.8H881.2zM1027.9 716.0H1040.7V722.8H1027.9zM1193.8 716.0H1200.2V722.8H1193.8zM1251.2 716.0H1264.0V722.8H1251.2zM1544.6 716.0H1551.0V722.8H1544.6zM1589.3 716.0H1602.0V722.8H1589.3zM855.7 722.8H868.5V729.6H855.7zM1027.9 722.8H1034.3V729.6H1027.9zM1257.6 722.8H1270.3V729.6H1257.6zM1589.3 722.8H1602.0V729.6H1589.3zM855.7 729.6H862.1V736.4H855.7zM938.6 729.6H945.0V736.4H938.6zM1098.1 729.6H1104.5V736.4H1098.1zM1589.3 729.6H1595.7V736.4H1589.3zM932.2 736.4H951.4V743.2H932.2zM964.1 736.4H970.5V743.2H964.1zM989.7 736.4H996.0V743.2H989.7zM1142.7 736.4H1168.3V743.2H1142.7zM1506.4 736.4H1519.1V743.2H1506.4zM849.3 743.2H862.1V750.0H849.3zM932.2 743.2H945.0V750.0H932.2zM964.1 743.2H970.5V750.0H964.1zM983.3 743.2H996.0V750.0H983.3zM1149.1 743.2H1161.9V750.0H1149.1zM1512.7 743.2H1519.1V750.0H1512.7zM849.3 750.0H862.1V756.8H849.3zM887.6 750.0H919.5V756.8H887.6zM976.9 750.0H983.3V756.8H976.9zM1059.8 750.0H1066.2V756.8H1059.8zM1212.9 750.0H1219.3V756.8H1212.9zM1238.4 750.0H1257.6V756.8H1238.4zM1531.9 750.0H1538.2V756.8H1531.9zM811.0 756.8H817.4V763.6H811.0zM1059.8 756.8H1066.2V763.6H1059.8zM1225.7 756.8H1257.6V763.6H1225.7zM1525.5 756.8H1538.2V763.6H1525.5zM804.7 763.6H817.4V770.4H804.7zM1072.6 763.6H1085.3V770.4H1072.6zM1244.8 763.6H1251.2V770.4H1244.8zM1525.5 763.6H1531.9V770.4H1525.5zM587.8 770.4H594.2V777.1H587.8zM811.0 770.4H817.4V777.1H811.0zM1027.9 770.4H1040.7V777.1H1027.9zM1264.0 770.4H1276.7V777.1H1264.0zM530.4 777.1H543.1V783.9H530.4zM587.8 777.1H594.2V783.9H587.8zM951.4 777.1H957.8V783.9H951.4zM1021.5 777.1H1047.1V783.9H1021.5zM1238.4 777.1H1244.8V783.9H1238.4zM1264.0 777.1H1276.7V783.9H1264.0zM1602.0 777.1H1614.8V783.9H1602.0zM530.4 783.9H543.1V790.7H530.4zM855.7 783.9H868.5V790.7H855.7zM906.7 783.9H913.1V790.7H906.7zM919.5 783.9H925.9V790.7H919.5zM1021.5 783.9H1027.9V790.7H1021.5zM1117.2 783.9H1123.6V790.7H1117.2zM1232.1 783.9H1251.2V790.7H1232.1zM1270.3 783.9H1276.7V790.7H1270.3zM1602.0 783.9H1608.4V790.7H1602.0zM900.3 790.7H906.7V797.5H900.3zM913.1 790.7H925.9V797.5H913.1zM1225.7 790.7H1238.4V797.5H1225.7zM1614.8 790.7H1621.2V797.5H1614.8zM562.3 797.5H575.0V804.3H562.3zM581.4 797.5H587.8V804.3H581.4zM600.5 797.5H606.9V804.3H600.5zM753.6 797.5H766.4V804.3H753.6zM823.8 797.5H836.6V804.3H823.8zM868.5 797.5H881.2V804.3H868.5zM900.3 797.5H913.1V804.3H900.3zM925.9 797.5H932.2V804.3H925.9zM964.1 797.5H976.9V804.3H964.1zM1066.2 797.5H1072.6V804.3H1066.2zM1149.1 797.5H1155.5V804.3H1149.1zM1602.0 797.5H1608.4V804.3H1602.0zM562.3 804.3H575.0V811.1H562.3zM587.8 804.3H613.3V811.1H587.8zM632.4 804.3H638.8V811.1H632.4zM753.6 804.3H766.4V811.1H753.6zM817.4 804.3H836.6V811.1H817.4zM868.5 804.3H887.6V811.1H868.5zM906.7 804.3H913.1V811.1H906.7zM957.8 804.3H976.9V811.1H957.8zM1072.6 804.3H1079.0V811.1H1072.6zM1149.1 804.3H1155.5V811.1H1149.1zM1206.5 804.3H1219.3V811.1H1206.5zM1595.7 804.3H1602.0V811.1H1595.7zM555.9 811.1H562.3V817.9H555.9zM575.0 811.1H606.9V817.9H575.0zM632.4 811.1H638.8V817.9H632.4zM740.9 811.1H747.3V817.9H740.9zM811.0 811.1H817.4V817.9H811.0zM830.2 811.1H836.6V817.9H830.2zM855.7 811.1H874.8V817.9H855.7zM887.6 811.1H894.0V817.9H887.6zM957.8 811.1H964.1V817.9H957.8zM1053.4 811.1H1066.2V817.9H1053.4zM1072.6 811.1H1079.0V817.9H1072.6zM1206.5 811.1H1212.9V817.9H1206.5zM1219.3 811.1H1232.1V817.9H1219.3zM1602.0 811.1H1608.4V817.9H1602.0zM555.9 817.9H562.3V824.7H555.9zM575.0 817.9H594.2V824.7H575.0zM734.5 817.9H760.0V824.7H734.5zM811.0 817.9H817.4V824.7H811.0zM849.3 817.9H862.1V824.7H849.3zM874.8 817.9H887.6V824.7H874.8zM957.8 817.9H964.1V824.7H957.8zM1027.9 817.9H1040.7V824.7H1027.9zM1047.1 817.9H1053.4V824.7H1047.1zM1072.6 817.9H1079.0V824.7H1072.6zM1200.2 817.9H1206.5V824.7H1200.2zM1219.3 817.9H1232.1V824.7H1219.3zM1264.0 817.9H1270.3V824.7H1264.0zM1563.8 817.9H1570.1V824.7H1563.8zM562.3 824.7H575.0V831.5H562.3zM715.4 824.7H740.9V831.5H715.4zM747.3 824.7H760.0V831.5H747.3zM849.3 824.7H855.7V831.5H849.3zM868.5 824.7H874.8V831.5H868.5zM906.7 824.7H913.1V831.5H906.7zM957.8 824.7H970.5V831.5H957.8zM976.9 824.7H983.3V831.5H976.9zM1059.8 824.7H1079.0V831.5H1059.8zM1136.4 824.7H1142.7V831.5H1136.4zM1200.2 824.7H1219.3V831.5H1200.2zM1225.7 824.7H1238.4V831.5H1225.7zM1538.2 824.7H1544.6V831.5H1538.2zM1557.4 824.7H1563.8V831.5H1557.4zM1576.5 824.7H1582.9V831.5H1576.5zM568.6 831.5H575.0V838.3H568.6zM600.5 831.5H613.3V838.3H600.5zM619.7 831.5H626.1V838.3H619.7zM740.9 831.5H779.1V838.3H740.9zM849.3 831.5H874.8V838.3H849.3zM951.4 831.5H970.5V838.3H951.4zM976.9 831.5H989.7V838.3H976.9zM1161.9 831.5H1168.3V838.3H1161.9zM1232.1 831.5H1238.4V838.3H1232.1zM1519.1 831.5H1538.2V838.3H1519.1zM1557.4 831.5H1589.3V838.3H1557.4zM606.9 838.3H626.1V845.1H606.9zM740.9 838.3H747.3V845.1H740.9zM849.3 838.3H862.1V845.1H849.3zM874.8 838.3H887.6V845.1H874.8zM919.5 838.3H925.9V845.1H919.5zM951.4 838.3H957.8V845.1H951.4zM964.1 838.3H989.7V845.1H964.1zM1008.8 838.3H1015.2V845.1H1008.8zM1155.5 838.3H1168.3V845.1H1155.5zM1538.2 838.3H1551.0V845.1H1538.2zM1557.4 838.3H1563.8V845.1H1557.4zM1576.5 838.3H1582.9V845.1H1576.5zM555.9 845.1H562.3V851.8H555.9zM721.7 845.1H728.1V851.8H721.7zM734.5 845.1H747.3V851.8H734.5zM849.3 845.1H855.7V851.8H849.3zM874.8 845.1H887.6V851.8H874.8zM925.9 845.1H938.6V851.8H925.9zM951.4 845.1H970.5V851.8H951.4zM976.9 845.1H989.7V851.8H976.9zM1008.8 845.1H1015.2V851.8H1008.8zM1021.5 845.1H1027.9V851.8H1021.5zM1551.0 845.1H1563.8V851.8H1551.0zM555.9 851.8H562.3V858.6H555.9zM740.9 851.8H760.0V858.6H740.9zM932.2 851.8H970.5V858.6H932.2zM983.3 851.8H996.0V858.6H983.3zM1021.5 851.8H1027.9V858.6H1021.5zM1085.3 851.8H1104.5V858.6H1085.3zM1257.6 851.8H1264.0V858.6H1257.6zM1531.9 851.8H1557.4V858.6H1531.9zM734.5 858.6H760.0V865.4H734.5zM842.9 858.6H862.1V865.4H842.9zM938.6 858.6H951.4V865.4H938.6zM957.8 858.6H970.5V865.4H957.8zM983.3 858.6H989.7V865.4H983.3zM1008.8 858.6H1021.5V865.4H1008.8zM1085.3 858.6H1091.7V865.4H1085.3zM1200.2 858.6H1232.1V865.4H1200.2zM1251.2 858.6H1264.0V865.4H1251.2zM1519.1 858.6H1531.9V865.4H1519.1zM1563.8 858.6H1589.3V865.4H1563.8zM600.5 865.4H626.1V872.2H600.5zM734.5 865.4H753.6V872.2H734.5zM855.7 865.4H862.1V872.2H855.7zM938.6 865.4H951.4V872.2H938.6zM1015.2 865.4H1021.5V872.2H1015.2zM1040.7 865.4H1047.1V872.2H1040.7zM1181.0 865.4H1206.5V872.2H1181.0zM1212.9 865.4H1219.3V872.2H1212.9zM1232.1 865.4H1264.0V872.2H1232.1zM1525.5 865.4H1531.9V872.2H1525.5zM1551.0 865.4H1570.1V872.2H1551.0zM1576.5 865.4H1589.3V872.2H1576.5zM613.3 872.2H619.7V879.0H613.3zM638.8 872.2H645.2V879.0H638.8zM670.7 872.2H677.1V879.0H670.7zM734.5 872.2H740.9V879.0H734.5zM855.7 872.2H862.1V879.0H855.7zM1015.2 872.2H1034.3V879.0H1015.2zM1053.4 872.2H1079.0V879.0H1053.4zM1085.3 872.2H1104.5V879.0H1085.3zM1117.2 872.2H1130.0V879.0H1117.2zM1193.8 872.2H1200.2V879.0H1193.8zM1238.4 872.2H1257.6V879.0H1238.4zM1538.2 872.2H1544.6V879.0H1538.2zM1551.0 872.2H1576.5V879.0H1551.0zM581.4 879.0H587.8V885.8H581.4zM613.3 879.0H619.7V885.8H613.3zM645.2 879.0H651.6V885.8H645.2zM721.7 879.0H728.1V885.8H721.7zM740.9 879.0H753.6V885.8H740.9zM779.1 879.0H785.5V885.8H779.1zM842.9 879.0H849.3V885.8H842.9zM868.5 879.0H881.2V885.8H868.5zM957.8 879.0H964.1V885.8H957.8zM1021.5 879.0H1034.3V885.8H1021.5zM1066.2 879.0H1072.6V885.8H1066.2zM1085.3 879.0H1091.7V885.8H1085.3zM1104.5 879.0H1110.9V885.8H1104.5zM1117.2 879.0H1136.4V885.8H1117.2zM1531.9 879.0H1538.2V885.8H1531.9zM1551.0 879.0H1557.4V885.8H1551.0zM1563.8 879.0H1570.1V885.8H1563.8zM645.2 885.8H651.6V892.6H645.2zM709.0 885.8H715.4V892.6H709.0zM734.5 885.8H740.9V892.6H734.5zM753.6 885.8H760.0V892.6H753.6zM894.0 885.8H900.3V892.6H894.0zM970.5 885.8H976.9V892.6H970.5zM1021.5 885.8H1040.7V892.6H1021.5zM1066.2 885.8H1079.0V892.6H1066.2zM1085.3 885.8H1091.7V892.6H1085.3zM1104.5 885.8H1136.4V892.6H1104.5zM1283.1 885.8H1289.5V892.6H1283.1zM1519.1 885.8H1531.9V892.6H1519.1zM1563.8 885.8H1570.1V892.6H1563.8zM709.0 892.6H715.4V899.4H709.0zM760.0 892.6H766.4V899.4H760.0zM779.1 892.6H785.5V899.4H779.1zM791.9 892.6H798.3V899.4H791.9zM804.7 892.6H811.0V899.4H804.7zM964.1 892.6H976.9V899.4H964.1zM1021.5 892.6H1040.7V899.4H1021.5zM1059.8 892.6H1085.3V899.4H1059.8zM1104.5 892.6H1117.2V899.4H1104.5zM1123.6 892.6H1136.4V899.4H1123.6zM1187.4 892.6H1193.8V899.4H1187.4zM1206.5 892.6H1212.9V899.4H1206.5zM1257.6 892.6H1264.0V899.4H1257.6zM1270.3 892.6H1276.7V899.4H1270.3zM1519.1 892.6H1531.9V899.4H1519.1zM1551.0 892.6H1557.4V899.4H1551.0zM606.9 899.4H613.3V906.2H606.9zM677.1 899.4H683.5V906.2H677.1zM715.4 899.4H721.7V906.2H715.4zM740.9 899.4H747.3V906.2H740.9zM766.4 899.4H772.8V906.2H766.4zM785.5 899.4H804.7V906.2H785.5zM811.0 899.4H817.4V906.2H811.0zM970.5 899.4H983.3V906.2H970.5zM1015.2 899.4H1021.5V906.2H1015.2zM1027.9 899.4H1104.5V906.2H1027.9zM1110.9 899.4H1123.6V906.2H1110.9zM1181.0 899.4H1187.4V906.2H1181.0zM1206.5 899.4H1212.9V906.2H1206.5zM1257.6 899.4H1270.3V906.2H1257.6zM1525.5 899.4H1557.4V906.2H1525.5zM1576.5 899.4H1582.9V906.2H1576.5zM606.9 906.2H613.3V913.0H606.9zM657.9 906.2H664.3V913.0H657.9zM683.5 906.2H689.8V913.0H683.5zM753.6 906.2H766.4V913.0H753.6zM772.8 906.2H804.7V913.0H772.8zM811.0 906.2H817.4V913.0H811.0zM932.2 906.2H945.0V913.0H932.2zM970.5 906.2H983.3V913.0H970.5zM1015.2 906.2H1053.4V913.0H1015.2zM1059.8 906.2H1066.2V913.0H1059.8zM1079.0 906.2H1085.3V913.0H1079.0zM1117.2 906.2H1130.0V913.0H1117.2zM1136.4 906.2H1161.9V913.0H1136.4zM1500.0 906.2H1519.1V913.0H1500.0zM1525.5 906.2H1557.4V913.0H1525.5zM1582.9 906.2H1589.3V913.0H1582.9zM619.7 913.0H632.4V919.8H619.7zM683.5 913.0H689.8V919.8H683.5zM702.6 913.0H721.7V919.8H702.6zM728.1 913.0H734.5V919.8H728.1zM766.4 913.0H779.1V919.8H766.4zM791.9 913.0H804.7V919.8H791.9zM938.6 913.0H945.0V919.8H938.6zM970.5 913.0H976.9V919.8H970.5zM983.3 913.0H996.0V919.8H983.3zM1027.9 913.0H1053.4V919.8H1027.9zM1079.0 913.0H1085.3V919.8H1079.0zM1098.1 913.0H1110.9V919.8H1098.1zM1117.2 913.0H1136.4V919.8H1117.2zM1155.5 913.0H1161.9V919.8H1155.5zM1187.4 913.0H1200.2V919.8H1187.4zM1225.7 913.0H1232.1V919.8H1225.7zM1264.0 913.0H1276.7V919.8H1264.0zM1321.4 913.0H1327.7V919.8H1321.4zM1500.0 913.0H1506.4V919.8H1500.0zM1525.5 913.0H1531.9V919.8H1525.5zM1538.2 913.0H1544.6V919.8H1538.2zM1551.0 913.0H1557.4V919.8H1551.0zM1582.9 913.0H1589.3V919.8H1582.9zM702.6 919.8H721.7V926.5H702.6zM779.1 919.8H791.9V926.5H779.1zM798.3 919.8H804.7V926.5H798.3zM823.8 919.8H836.6V926.5H823.8zM970.5 919.8H976.9V926.5H970.5zM983.3 919.8H989.7V926.5H983.3zM1027.9 919.8H1085.3V926.5H1027.9zM1098.1 919.8H1110.9V926.5H1098.1zM1123.6 919.8H1149.1V926.5H1123.6zM1155.5 919.8H1168.3V926.5H1155.5zM1181.0 919.8H1193.8V926.5H1181.0zM1200.2 919.8H1232.1V926.5H1200.2zM1264.0 919.8H1276.7V926.5H1264.0zM1512.7 919.8H1525.5V926.5H1512.7zM1551.0 919.8H1563.8V926.5H1551.0zM709.0 926.5H753.6V933.3H709.0zM823.8 926.5H830.2V933.3H823.8zM1002.4 926.5H1021.5V933.3H1002.4zM1034.3 926.5H1040.7V933.3H1034.3zM1053.4 926.5H1059.8V933.3H1053.4zM1066.2 926.5H1085.3V933.3H1066.2zM1098.1 926.5H1104.5V933.3H1098.1zM1123.6 926.5H1130.0V933.3H1123.6zM1142.7 926.5H1149.1V933.3H1142.7zM1161.9 926.5H1168.3V933.3H1161.9zM1200.2 926.5H1212.9V933.3H1200.2zM1238.4 926.5H1244.8V933.3H1238.4zM1251.2 926.5H1257.6V933.3H1251.2zM1276.7 926.5H1289.5V933.3H1276.7zM1512.7 926.5H1519.1V933.3H1512.7zM1551.0 926.5H1557.4V933.3H1551.0zM1563.8 926.5H1576.5V933.3H1563.8zM670.7 933.3H677.1V940.1H670.7zM709.0 933.3H715.4V940.1H709.0zM734.5 933.3H740.9V940.1H734.5zM772.8 933.3H779.1V940.1H772.8zM830.2 933.3H836.6V940.1H830.2zM1002.4 933.3H1027.9V940.1H1002.4zM1053.4 933.3H1123.6V940.1H1053.4zM1149.1 933.3H1155.5V940.1H1149.1zM1161.9 933.3H1168.3V940.1H1161.9zM1251.2 933.3H1257.6V940.1H1251.2zM1276.7 933.3H1283.1V940.1H1276.7zM1289.5 933.3H1295.8V940.1H1289.5zM1512.7 933.3H1519.1V940.1H1512.7zM1525.5 933.3H1531.9V940.1H1525.5zM1538.2 933.3H1544.6V940.1H1538.2zM1557.4 933.3H1563.8V940.1H1557.4zM664.3 940.1H677.1V946.9H664.3zM702.6 940.1H709.0V946.9H702.6zM766.4 940.1H772.8V946.9H766.4zM1008.8 940.1H1021.5V946.9H1008.8zM1053.4 940.1H1072.6V946.9H1053.4zM1104.5 940.1H1110.9V946.9H1104.5zM1251.2 940.1H1257.6V946.9H1251.2zM1283.1 940.1H1295.8V946.9H1283.1zM1563.8 940.1H1570.1V946.9H1563.8zM721.7 946.9H728.1V953.7H721.7zM734.5 946.9H740.9V953.7H734.5zM760.0 946.9H766.4V953.7H760.0zM919.5 946.9H925.9V953.7H919.5zM1021.5 946.9H1027.9V953.7H1021.5zM1040.7 946.9H1053.4V953.7H1040.7zM1066.2 946.9H1072.6V953.7H1066.2zM1079.0 946.9H1091.7V953.7H1079.0zM1098.1 946.9H1117.2V953.7H1098.1zM1123.6 946.9H1130.0V953.7H1123.6zM1136.4 946.9H1142.7V953.7H1136.4zM1200.2 946.9H1206.5V953.7H1200.2zM1563.8 946.9H1570.1V953.7H1563.8zM721.7 953.7H747.3V960.5H721.7zM1027.9 953.7H1059.8V960.5H1027.9zM1072.6 953.7H1104.5V960.5H1072.6zM1117.2 953.7H1130.0V960.5H1117.2zM1155.5 953.7H1161.9V960.5H1155.5zM1174.6 953.7H1212.9V960.5H1174.6zM1244.8 953.7H1251.2V960.5H1244.8zM1295.8 953.7H1308.6V960.5H1295.8zM1551.0 953.7H1557.4V960.5H1551.0zM1563.8 953.7H1570.1V960.5H1563.8zM740.9 960.5H747.3V967.3H740.9zM1034.3 960.5H1053.4V967.3H1034.3zM1066.2 960.5H1079.0V967.3H1066.2zM1123.6 960.5H1142.7V967.3H1123.6zM1149.1 960.5H1161.9V967.3H1149.1zM1174.6 960.5H1181.0V967.3H1174.6zM1187.4 960.5H1219.3V967.3H1187.4zM1238.4 960.5H1251.2V967.3H1238.4zM1283.1 960.5H1302.2V967.3H1283.1zM1308.6 960.5H1315.0V967.3H1308.6zM1519.1 960.5H1531.9V967.3H1519.1zM1544.6 960.5H1563.8V967.3H1544.6zM1570.1 960.5H1582.9V967.3H1570.1zM709.0 967.3H721.7V974.1H709.0zM728.1 967.3H734.5V974.1H728.1zM753.6 967.3H760.0V974.1H753.6zM1034.3 967.3H1053.4V974.1H1034.3zM1066.2 967.3H1079.0V974.1H1066.2zM1142.7 967.3H1161.9V974.1H1142.7zM1168.3 967.3H1181.0V974.1H1168.3zM1193.8 967.3H1238.4V974.1H1193.8zM1264.0 967.3H1315.0V974.1H1264.0zM1519.1 967.3H1538.2V974.1H1519.1zM1551.0 967.3H1557.4V974.1H1551.0zM709.0 974.1H715.4V980.9H709.0zM728.1 974.1H734.5V980.9H728.1zM747.3 974.1H753.6V980.9H747.3zM1021.5 974.1H1047.1V980.9H1021.5zM1053.4 974.1H1085.3V980.9H1053.4zM1142.7 974.1H1155.5V980.9H1142.7zM1200.2 974.1H1238.4V980.9H1200.2zM1264.0 974.1H1276.7V980.9H1264.0zM1525.5 974.1H1538.2V980.9H1525.5zM721.7 980.9H734.5V987.7H721.7zM747.3 980.9H753.6V987.7H747.3zM1021.5 980.9H1040.7V987.7H1021.5zM1047.1 980.9H1072.6V987.7H1047.1zM1079.0 980.9H1091.7V987.7H1079.0zM1206.5 980.9H1212.9V987.7H1206.5zM721.7 987.7H740.9V994.4H721.7zM1015.2 987.7H1034.3V994.4H1015.2zM1040.7 987.7H1053.4V994.4H1040.7zM1072.6 987.7H1079.0V994.4H1072.6zM1085.3 987.7H1091.7V994.4H1085.3zM1538.2 987.7H1544.6V994.4H1538.2zM721.7 994.4H753.6V1001.2H721.7zM1079.0 994.4H1091.7V1001.2H1079.0zM1283.1 994.4H1295.8V1001.2H1283.1zM1334.1 994.4H1346.9V1001.2H1334.1zM1551.0 994.4H1557.4V1001.2H1551.0zM721.7 1001.2H740.9V1008.0H721.7zM791.9 1001.2H798.3V1008.0H791.9zM1155.5 1001.2H1161.9V1008.0H1155.5zM1193.8 1001.2H1200.2V1008.0H1193.8zM1219.3 1001.2H1225.7V1008.0H1219.3zM1232.1 1001.2H1238.4V1008.0H1232.1zM1251.2 1001.2H1257.6V1008.0H1251.2zM1289.5 1001.2H1295.8V1008.0H1289.5zM1334.1 1001.2H1346.9V1008.0H1334.1zM1544.6 1001.2H1551.0V1008.0H1544.6zM1557.4 1001.2H1563.8V1008.0H1557.4zM728.1 1008.0H747.3V1014.8H728.1zM1149.1 1008.0H1161.9V1014.8H1149.1zM1193.8 1008.0H1212.9V1014.8H1193.8zM1219.3 1008.0H1232.1V1014.8H1219.3zM1257.6 1008.0H1264.0V1014.8H1257.6zM1289.5 1008.0H1295.8V1014.8H1289.5zM1340.5 1008.0H1346.9V1014.8H1340.5zM1551.0 1008.0H1557.4V1014.8H1551.0zM709.0 1014.8H715.4V1021.6H709.0zM740.9 1014.8H760.0V1021.6H740.9zM1200.2 1014.8H1206.5V1021.6H1200.2zM1219.3 1014.8H1238.4V1021.6H1219.3zM1244.8 1014.8H1257.6V1021.6H1244.8zM1283.1 1014.8H1289.5V1021.6H1283.1zM1557.4 1014.8H1563.8V1021.6H1557.4zM702.6 1021.6H715.4V1028.4H702.6zM728.1 1021.6H760.0V1028.4H728.1zM772.8 1021.6H779.1V1028.4H772.8zM1219.3 1021.6H1232.1V1028.4H1219.3zM1276.7 1021.6H1289.5V1028.4H1276.7zM702.6 1028.4H715.4V1035.2H702.6zM728.1 1028.4H753.6V1035.2H728.1zM766.4 1028.4H772.8V1035.2H766.4zM779.1 1028.4H785.5V1035.2H779.1zM1149.1 1028.4H1155.5V1035.2H1149.1zM1187.4 1028.4H1193.8V1035.2H1187.4zM1219.3 1028.4H1232.1V1035.2H1219.3zM709.0 1035.2H728.1V1042.0H709.0zM740.9 1035.2H753.6V1042.0H740.9zM772.8 1035.2H779.1V1042.0H772.8zM1142.7 1035.2H1155.5V1042.0H1142.7zM1219.3 1035.2H1232.1V1042.0H1219.3zM1257.6 1035.2H1270.3V1042.0H1257.6zM715.4 1042.0H728.1V1048.8H715.4zM740.9 1042.0H747.3V1048.8H740.9zM753.6 1042.0H772.8V1048.8H753.6zM855.7 1042.0H862.1V1048.8H855.7zM1257.6 1042.0H1270.3V1048.8H1257.6zM734.5 1048.8H740.9V1055.6H734.5zM747.3 1048.8H766.4V1055.6H747.3zM779.1 1048.8H785.5V1055.6H779.1zM855.7 1048.8H868.5V1055.6H855.7zM1110.9 1048.8H1117.2V1055.6H1110.9zM1295.8 1048.8H1302.2V1055.6H1295.8zM753.6 1055.6H760.0V1062.4H753.6zM772.8 1055.6H779.1V1062.4H772.8zM785.5 1055.6H791.9V1062.4H785.5zM798.3 1055.6H811.0V1062.4H798.3zM1117.2 1055.6H1123.6V1062.4H1117.2zM1295.8 1055.6H1308.6V1062.4H1295.8zM734.5 1062.4H747.3V1069.1H734.5zM772.8 1062.4H791.9V1069.1H772.8zM798.3 1062.4H817.4V1069.1H798.3zM1117.2 1062.4H1123.6V1069.1H1117.2zM734.5 1069.1H740.9V1075.9H734.5zM760.0 1069.1H779.1V1075.9H760.0zM855.7 1069.1H868.5V1075.9H855.7zM702.6 1075.9H721.7V1082.7H702.6zM734.5 1075.9H740.9V1082.7H734.5zM779.1 1075.9H785.5V1082.7H779.1zM862.1 1075.9H868.5V1082.7H862.1zM702.6 1082.7H715.4V1089.5H702.6zM728.1 1082.7H740.9V1089.5H728.1zM785.5 1082.7H791.9V1089.5H785.5zM830.2 1082.7H836.6V1089.5H830.2zM702.6 1089.5H721.7V1096.3H702.6zM728.1 1089.5H740.9V1096.3H728.1zM779.1 1089.5H791.9V1096.3H779.1zM715.4 1096.3H728.1V1103.1H715.4zM817.4 1096.3H823.8V1103.1H817.4zM830.2 1096.3H836.6V1103.1H830.2zM702.6 1103.1H709.0V1109.9H702.6zM715.4 1103.1H721.7V1109.9H715.4zM740.9 1103.1H747.3V1109.9H740.9zM868.5 1103.1H874.8V1109.9H868.5zM721.7 1109.9H740.9V1116.7H721.7zM830.2 1109.9H836.6V1116.7H830.2zM753.6 1116.7H760.0V1123.5H753.6zM817.4 1116.7H823.8V1123.5H817.4zM830.2 1116.7H836.6V1123.5H830.2zM753.6 1123.5H760.0V1130.3H753.6zM817.4 1123.5H830.2V1130.3H817.4zM862.1 1123.5H868.5V1130.3H862.1zM709.0 1130.3H715.4V1137.0H709.0zM760.0 1137.0H772.8V1143.8H760.0zM830.2 1137.0H836.6V1143.8H830.2zM817.4 1143.8H842.9V1150.6H817.4zM855.7 1143.8H862.1V1150.6H855.7zM760.0 1150.6H766.4V1157.4H760.0zM830.2 1150.6H842.9V1157.4H830.2zM760.0 1157.4H766.4V1164.2H760.0zM779.1 1157.4H791.9V1164.2H779.1zM836.6 1157.4H842.9V1164.2H836.6zM702.6 1164.2H709.0V1171.0H702.6zM753.6 1164.2H760.0V1171.0H753.6zM779.1 1164.2H785.5V1171.0H779.1zM709.0 1171.0H715.4V1177.8H709.0zM766.4 1171.0H779.1V1177.8H766.4zM721.7 1177.8H728.1V1184.6H721.7zM740.9 1177.8H747.3V1184.6H740.9zM715.4 1184.6H728.1V1191.4H715.4zM689.8 1191.4H696.2V1198.2H689.8zM740.9 1191.4H747.3V1198.2H740.9zM804.7 1191.4H823.8V1198.2H804.7zM836.6 1191.4H842.9V1198.2H836.6zM689.8 1198.2H696.2V1205.0H689.8zM747.3 1198.2H753.6V1205.0H747.3zM804.7 1198.2H811.0V1205.0H804.7zM836.6 1198.2H849.3V1205.0H836.6zM683.5 1205.0H689.8V1211.7H683.5zM747.3 1205.0H753.6V1211.7H747.3zM811.0 1205.0H817.4V1211.7H811.0zM830.2 1205.0H836.6V1211.7H830.2zM740.9 1211.7H747.3V1218.5H740.9zM817.4 1211.7H823.8V1218.5H817.4zM740.9 1218.5H747.3V1225.3H740.9zM791.9 1225.3H798.3V1232.1H791.9zM721.7 1232.1H728.1V1238.9H721.7zM747.3 1232.1H753.6V1238.9H747.3zM760.0 1232.1H772.8V1238.9H760.0zM785.5 1232.1H791.9V1238.9H785.5zM798.3 1232.1H804.7V1238.9H798.3zM696.2 1238.9H709.0V1245.7H696.2zM785.5 1238.9H798.3V1245.7H785.5zM823.8 1238.9H836.6V1245.7H823.8zM734.5 1252.5H740.9V1259.3H734.5zM779.1 1252.5H785.5V1259.3H779.1zM772.8 1259.3H785.5V1266.1H772.8zM677.1 1300.0H683.5V1306.8H677.1zM715.4 1300.0H721.7V1306.8H715.4zM709.0 1306.8H715.4V1313.6H709.0zM721.7 1306.8H728.1V1313.6H721.7zM689.8 1313.6H696.2V1320.4H689.8zM709.0 1313.6H715.4V1320.4H709.0zM728.1 1313.6H734.5V1320.4H728.1zM689.8 1320.4H696.2V1327.2H689.8zM689.8 1327.2H696.2V1334.0H689.8zM702.6 1327.2H715.4V1334.0H702.6zM696.2 1334.0H715.4V1340.8H696.2zM702.6 1340.8H721.7V1347.6H702.6zM932.2 1476.6H938.6V1483.4H932.2zM964.1 1517.3H970.5V1524.1H964.1zM951.4 1524.1H970.5V1530.9H951.4zM983.3 1544.5H996.0V1551.3H983.3zM989.7 1551.3H996.0V1558.1H989.7zM811.0 1558.1H817.4V1564.8H811.0zM798.3 1564.8H804.7V1571.6H798.3zM798.3 1592.0H804.7V1598.8H798.3zM894.0 1619.2H900.3V1626.0H894.0zM779.1 1639.5H791.9V1646.3H779.1zM779.1 1646.3H798.3V1653.1H779.1zM785.5 1653.1H791.9V1659.9H785.5zM868.5 1680.3H881.2V1687.1H868.5zM900.3 1693.9H906.7V1700.7H900.3zM855.7 1700.7H862.1V1707.4H855.7zM753.6 1741.4H760.0V1748.2H753.6zM747.3 1755.0H753.6V1761.8H747.3zM747.3 1761.8H753.6V1768.6H747.3zM874.8 1775.4H887.6V1782.1H874.8zM696.2 1782.1H702.6V1788.9H696.2zM874.8 1782.1H881.2V1788.9H874.8zM785.5 1924.7H791.9V1931.5H785.5z"/>
<path fill="#a50026" d="M447.4 98.1H587.8V104.9H447.4zM836.6 98.1H1659.4V104.9H836.6zM447.4 104.9H581.4V111.7H447.4zM836.6 104.9H1659.4V111.7H836.6zM447.4 111.7H575.0V118.5H447.4zM989.7 111.7H1659.4V118.5H989.7zM447.4 118.5H575.0V125.3H447.4zM989.7 118.5H1659.4V125.3H989.7zM447.4 125.3H575.0V132.1H447.4zM989.7 125.3H1659.4V132.1H989.7zM447.4 132.1H575.0V138.8H447.4zM1008.8 132.1H1659.4V138.8H1008.8zM447.4 138.8H575.0V145.6H447.4zM1021.5 138.8H1659.4V145.6H1021.5zM447.4 145.6H568.6V152.4H447.4zM1027.9 145.6H1659.4V152.4H1027.9zM447.4 152.4H555.9V159.2H447.4zM1034.3 152.4H1659.4V159.2H1034.3zM447.4 159.2H543.1V166.0H447.4zM1040.7 159.2H1659.4V166.0H1040.7zM447.4 166.0H524.0V172.8H447.4zM1053.4 166.0H1659.4V172.8H1053.4zM447.4 172.8H524.0V179.6H447.4zM1066.2 172.8H1659.4V179.6H1066.2zM447.4 179.6H524.0V186.4H447.4zM1072.6 179.6H1659.4V186.4H1072.6zM447.4 186.4H517.6V193.2H447.4zM1079.0 186.4H1659.4V193.2H1079.0zM447.4 193.2H517.6V200.0H447.4zM1079.0 193.2H1659.4V200.0H1079.0zM447.4 200.0H517.6V206.7H447.4zM1079.0 200.0H1659.4V206.7H1079.0zM447.4 206.7H517.6V213.5H447.4zM1098.1 206.7H1659.4V213.5H1098.1zM447.4 213.5H517.6V220.3H447.4zM1098.1 213.5H1659.4V220.3H1098.1zM447.4 220.3H517.6V227.1H447.4zM1104.5 220.3H1659.4V227.1H1104.5zM447.4 227.1H517.6V233.9H447.4zM1117.2 227.1H1659.4V233.9H1117.2zM447.4 233.9H517.6V240.7H447.4zM1091.7 233.9H1098.1V240.7H1091.7zM1174.6 233.9H1659.4V240.7H1174.6zM447.4 240.7H517.6V247.5H447.4zM1181.0 240.7H1659.4V247.5H1181.0zM447.4 247.5H517.6V254.3H447.4zM1098.1 247.5H1104.5V254.3H1098.1zM1110.9 247.5H1123.6V254.3H1110.9zM1149.1 247.5H1155.5V254.3H1149.1zM1200.2 247.5H1659.4V254.3H1200.2zM447.4 254.3H517.6V261.1H447.4zM1098.1 254.3H1130.0V261.1H1098.1zM1149.1 254.3H1174.6V261.1H1149.1zM1200.2 254.3H1659.4V261.1H1200.2zM447.4 261.1H517.6V267.9H447.4zM1104.5 261.1H1130.0V267.9H1104.5zM1136.4 261.1H1187.4V267.9H1136.4zM1193.8 261.1H1659.4V267.9H1193.8zM447.4 267.9H517.6V274.7H447.4zM1136.4 267.9H1193.8V274.7H1136.4zM1200.2 267.9H1659.4V274.7H1200.2zM447.4 274.7H517.6V281.4H447.4zM1136.4 274.7H1174.6V281.4H1136.4zM1200.2 274.7H1659.4V281.4H1200.2zM447.4 281.4H517.6V288.2H447.4zM1066.2 281.4H1091.7V288.2H1066.2zM1136.4 281.4H1161.9V288.2H1136.4zM1219.3 281.4H1238.4V288.2H1219.3zM1244.8 281.4H1257.6V288.2H1244.8zM1270.3 281.4H1659.4V288.2H1270.3zM447.4 288.2H524.0V295.0H447.4zM1072.6 288.2H1091.7V295.0H1072.6zM1117.2 288.2H1123.6V295.0H1117.2zM1142.7 288.2H1155.5V295.0H1142.7zM1219.3 288.2H1225.7V295.0H1219.3zM1276.7 288.2H1659.4V295.0H1276.7zM447.4 295.0H524.0V301.8H447.4zM1072.6 295.0H1085.3V301.8H1072.6zM1104.5 295.0H1117.2V301.8H1104.5zM1136.4 295.0H1149.1V301.8H1136.4zM1168.3 295.0H1174.6V301.8H1168.3zM1200.2 295.0H1219.3V301.8H1200.2zM1276.7 295.0H1659.4V301.8H1276.7zM447.4 301.8H524.0V308.6H447.4zM1072.6 301.8H1079.0V308.6H1072.6zM1098.1 301.8H1104.5V308.6H1098.1zM1110.9 301.8H1117.2V308.6H1110.9zM1168.3 301.8H1174.6V308.6H1168.3zM1200.2 301.8H1232.1V308.6H1200.2zM1270.3 301.8H1276.7V308.6H1270.3zM1283.1 301.8H1659.4V308.6H1283.1zM447.4 308.6H524.0V315.4H447.4zM1091.7 308.6H1098.1V315.4H1091.7zM1212.9 308.6H1238.4V315.4H1212.9zM1283.1 308.6H1659.4V315.4H1283.1zM447.4 315.4H511.2V322.2H447.4zM1219.3 315.4H1238.4V322.2H1219.3zM1270.3 315.4H1276.7V322.2H1270.3zM1283.1 315.4H1659.4V322.2H1283.1zM447.4 322.2H504.8V329.0H447.4zM1072.6 322.2H1091.7V329.0H1072.6zM1142.7 322.2H1168.3V329.0H1142.7zM1181.0 322.2H1193.8V329.0H1181.0zM1200.2 322.2H1206.5V329.0H1200.2zM1225.7 322.2H1238.4V329.0H1225.7zM1264.0 322.2H1283.1V329.0H1264.0zM1289.5 322.2H1659.4V329.0H1289.5zM447.4 329.0H498.5V335.8H447.4zM1072.6 329.0H1098.1V335.8H1072.6zM1142.7 329.0H1168.3V335.8H1142.7zM1181.0 329.0H1193.8V335.8H1181.0zM1225.7 329.0H1251.2V335.8H1225.7zM1257.6 329.0H1276.7V335.8H1257.6zM1289.5 329.0H1659.4V335.8H1289.5zM447.4 335.8H492.1V342.6H447.4zM1091.7 335.8H1104.5V342.6H1091.7zM1110.9 335.8H1123.6V342.6H1110.9zM1149.1 335.8H1168.3V342.6H1149.1zM1174.6 335.8H1193.8V342.6H1174.6zM1244.8 335.8H1251.2V342.6H1244.8zM1257.6 335.8H1276.7V342.6H1257.6zM1295.8 335.8H1659.4V342.6H1295.8zM447.4 342.6H492.1V349.3H447.4zM1091.7 342.6H1098.1V349.3H1091.7zM1110.9 342.6H1123.6V349.3H1110.9zM1142.7 342.6H1174.6V349.3H1142.7zM1181.0 342.6H1187.4V349.3H1181.0zM1257.6 342.6H1276.7V349.3H1257.6zM1295.8 342.6H1659.4V349.3H1295.8zM447.4 349.3H492.1V356.1H447.4zM1002.4 349.3H1008.8V356.1H1002.4zM1066.2 349.3H1072.6V356.1H1066.2zM1091.7 349.3H1104.5V356.1H1091.7zM1110.9 349.3H1117.2V356.1H1110.9zM1130.0 349.3H1168.3V356.1H1130.0zM1270.3 349.3H1283.1V356.1H1270.3zM1302.2 349.3H1659.4V356.1H1302.2zM447.4 356.1H485.7V362.9H447.4zM1066.2 356.1H1072.6V362.9H1066.2zM1091.7 356.1H1117.2V362.9H1091.7zM1142.7 356.1H1168.3V362.9H1142.7zM1270.3 356.1H1283.1V362.9H1270.3zM1308.6 356.1H1659.4V362.9H1308.6zM447.4 362.9H473.0V369.7H447.4zM1053.4 362.9H1123.6V369.7H1053.4zM1130.0 362.9H1168.3V369.7H1130.0zM1212.9 362.9H1232.1V369.7H1212.9zM1244.8 362.9H1257.6V369.7H1244.8zM1270.3 362.9H1302.2V369.7H1270.3zM1308.6 362.9H1659.4V369.7H1308.6zM447.4 369.7H466.6V376.5H447.4zM1053.4 369.7H1123.6V376.5H1053.4zM1130.0 369.7H1168.3V376.5H1130.0zM1212.9 369.7H1225.7V376.5H1212.9zM1251.2 369.7H1257.6V376.5H1251.2zM1276.7 369.7H1659.4V376.5H1276.7zM447.4 376.5H460.2V383.3H447.4zM1040.7 376.5H1168.3V383.3H1040.7zM1219.3 376.5H1225.7V383.3H1219.3zM1308.6 376.5H1659.4V383.3H1308.6zM447.4 383.3H460.2V390.1H447.4zM855.7 383.3H868.5V390.1H855.7zM1021.5 383.3H1027.9V390.1H1021.5zM1034.3 383.3H1059.8V390.1H1034.3zM1066.2 383.3H1168.3V390.1H1066.2zM1219.3 383.3H1232.1V390.1H1219.3zM1308.6 383.3H1659.4V390.1H1308.6zM447.4 390.1H453.8V396.9H447.4zM945.0 390.1H951.4V396.9H945.0zM1021.5 390.1H1161.9V396.9H1021.5zM1193.8 390.1H1232.1V396.9H1193.8zM1308.6 390.1H1659.4V396.9H1308.6zM447.4 396.9H453.8V403.7H447.4zM945.0 396.9H951.4V403.7H945.0zM970.5 396.9H983.3V403.7H970.5zM1021.5 396.9H1161.9V403.7H1021.5zM1187.4 396.9H1212.9V403.7H1187.4zM1219.3 396.9H1225.7V403.7H1219.3zM1244.8 396.9H1270.3V403.7H1244.8zM1308.6 396.9H1659.4V403.7H1308.6zM945.0 403.7H951.4V410.5H945.0zM983.3 403.7H996.0V410.5H983.3zM1021.5 403.7H1206.5V410.5H1021.5zM1225.7 403.7H1232.1V410.5H1225.7zM1244.8 403.7H1264.0V410.5H1244.8zM1283.1 403.7H1289.5V410.5H1283.1zM1315.0 403.7H1659.4V410.5H1315.0zM983.3 410.5H996.0V417.3H983.3zM1021.5 410.5H1066.2V417.3H1021.5zM1072.6 410.5H1187.4V417.3H1072.6zM1193.8 410.5H1206.5V417.3H1193.8zM1225.7 410.5H1232.1V417.3H1225.7zM1244.8 410.5H1257.6V417.3H1244.8zM1276.7 410.5H1295.8V417.3H1276.7zM1315.0 410.5H1659.4V417.3H1315.0zM957.8 417.3H996.0V424.0H957.8zM1008.8 417.3H1059.8V424.0H1008.8zM1072.6 417.3H1206.5V424.0H1072.6zM1219.3 417.3H1264.0V424.0H1219.3zM1270.3 417.3H1334.1V424.0H1270.3zM1372.4 417.3H1659.4V424.0H1372.4zM823.8 424.0H830.2V430.8H823.8zM887.6 424.0H894.0V430.8H887.6zM919.5 424.0H938.6V430.8H919.5zM951.4 424.0H996.0V430.8H951.4zM1021.5 424.0H1047.1V430.8H1021.5zM1072.6 424.0H1244.8V430.8H1072.6zM1251.2 424.0H1334.1V430.8H1251.2zM1391.5 424.0H1659.4V430.8H1391.5zM925.9 430.8H996.0V437.6H925.9zM1021.5 430.8H1047.1V437.6H1021.5zM1053.4 430.8H1244.8V437.6H1053.4zM1251.2 430.8H1334.1V437.6H1251.2zM1391.5 430.8H1659.4V437.6H1391.5zM906.7 437.6H945.0V444.4H906.7zM957.8 437.6H1238.4V444.4H957.8zM1251.2 437.6H1334.1V444.4H1251.2zM1391.5 437.6H1659.4V444.4H1391.5zM900.3 444.4H1334.1V451.2H900.3zM1385.2 444.4H1659.4V451.2H1385.2zM868.5 451.2H874.8V458.0H868.5zM881.2 451.2H996.0V458.0H881.2zM1002.4 451.2H1295.8V458.0H1002.4zM1308.6 451.2H1334.1V458.0H1308.6zM1385.2 451.2H1659.4V458.0H1385.2zM823.8 458.0H830.2V464.8H823.8zM874.8 458.0H906.7V464.8H874.8zM932.2 458.0H996.0V464.8H932.2zM1008.8 458.0H1238.4V464.8H1008.8zM1251.2 458.0H1295.8V464.8H1251.2zM1308.6 458.0H1340.5V464.8H1308.6zM1385.2 458.0H1659.4V464.8H1385.2zM823.8 464.8H836.6V471.6H823.8zM881.2 464.8H894.0V471.6H881.2zM938.6 464.8H1027.9V471.6H938.6zM1040.7 464.8H1238.4V471.6H1040.7zM1251.2 464.8H1270.3V471.6H1251.2zM1283.1 464.8H1289.5V471.6H1283.1zM1302.2 464.8H1340.5V471.6H1302.2zM1385.2 464.8H1468.1V471.6H1385.2zM1474.5 464.8H1659.4V471.6H1474.5zM938.6 471.6H1091.7V478.4H938.6zM1098.1 471.6H1276.7V478.4H1098.1zM1295.8 471.6H1334.1V478.4H1295.8zM1391.5 471.6H1659.4V478.4H1391.5zM938.6 478.4H1091.7V485.2H938.6zM1098.1 478.4H1283.1V485.2H1098.1zM1295.8 478.4H1353.3V485.2H1295.8zM1391.5 478.4H1500.0V485.2H1391.5zM1506.4 478.4H1525.5V485.2H1506.4zM1538.2 478.4H1557.4V485.2H1538.2zM1570.1 478.4H1659.4V485.2H1570.1zM951.4 485.2H1091.7V491.9H951.4zM1098.1 485.2H1359.6V491.9H1098.1zM1391.5 485.2H1500.0V491.9H1391.5zM1506.4 485.2H1525.5V491.9H1506.4zM1544.6 485.2H1557.4V491.9H1544.6zM1582.9 485.2H1659.4V491.9H1582.9zM900.3 491.9H906.7V498.7H900.3zM957.8 491.9H1155.5V498.7H957.8zM1161.9 491.9H1359.6V498.7H1161.9zM1378.8 491.9H1500.0V498.7H1378.8zM1506.4 491.9H1525.5V498.7H1506.4zM1582.9 491.9H1659.4V498.7H1582.9zM874.8 498.7H881.2V505.5H874.8zM894.0 498.7H913.1V505.5H894.0zM951.4 498.7H1251.2V505.5H951.4zM1264.0 498.7H1334.1V505.5H1264.0zM1346.9 498.7H1359.6V505.5H1346.9zM1378.8 498.7H1500.0V505.5H1378.8zM1506.4 498.7H1525.5V505.5H1506.4zM1576.5 498.7H1659.4V505.5H1576.5zM894.0 505.5H913.1V512.3H894.0zM951.4 505.5H1161.9V512.3H951.4zM1168.3 505.5H1244.8V512.3H1168.3zM1257.6 505.5H1334.1V512.3H1257.6zM1372.4 505.5H1525.5V512.3H1372.4zM1544.6 505.5H1551.0V512.3H1544.6zM1563.8 505.5H1659.4V512.3H1563.8zM900.3 512.3H913.1V519.1H900.3zM957.8 512.3H1117.2V519.1H957.8zM1123.6 512.3H1161.9V519.1H1123.6zM1168.3 512.3H1244.8V519.1H1168.3zM1257.6 512.3H1321.4V519.1H1257.6zM1327.7 512.3H1334.1V519.1H1327.7zM1378.8 512.3H1512.7V519.1H1378.8zM1525.5 512.3H1659.4V519.1H1525.5zM894.0 519.1H919.5V525.9H894.0zM957.8 519.1H1251.2V525.9H957.8zM1276.7 519.1H1283.1V525.9H1276.7zM1289.5 519.1H1315.0V525.9H1289.5zM1340.5 519.1H1353.3V525.9H1340.5zM1372.4 519.1H1378.8V525.9H1372.4zM1385.2 519.1H1519.1V525.9H1385.2zM1525.5 519.1H1582.9V525.9H1525.5zM1602.0 519.1H1659.4V525.9H1602.0zM447.4 525.9H453.8V532.7H447.4zM817.4 525.9H823.8V532.7H817.4zM894.0 525.9H945.0V532.7H894.0zM957.8 525.9H1257.6V532.7H957.8zM1264.0 525.9H1276.7V532.7H1264.0zM1295.8 525.9H1321.4V532.7H1295.8zM1372.4 525.9H1589.3V532.7H1372.4zM1608.4 525.9H1621.2V532.7H1608.4zM1633.9 525.9H1659.4V532.7H1633.9zM447.4 532.7H453.8V539.5H447.4zM894.0 532.7H945.0V539.5H894.0zM957.8 532.7H1257.6V539.5H957.8zM1295.8 532.7H1321.4V539.5H1295.8zM1334.1 532.7H1353.3V539.5H1334.1zM1366.0 532.7H1474.5V539.5H1366.0zM1493.6 532.7H1557.4V539.5H1493.6zM1570.1 532.7H1595.7V539.5H1570.1zM1646.7 532.7H1653.1V539.5H1646.7zM447.4 539.5H453.8V546.3H447.4zM925.9 539.5H932.2V546.3H925.9zM951.4 539.5H1257.6V546.3H951.4zM1295.8 539.5H1315.0V546.3H1295.8zM1334.1 539.5H1353.3V546.3H1334.1zM1359.6 539.5H1474.5V546.3H1359.6zM1487.2 539.5H1525.5V546.3H1487.2zM1531.9 539.5H1544.6V546.3H1531.9zM1570.1 539.5H1595.7V546.3H1570.1zM1646.7 539.5H1659.4V546.3H1646.7zM900.3 546.3H913.1V553.1H900.3zM925.9 546.3H932.2V553.1H925.9zM951.4 546.3H1174.6V553.1H951.4zM1187.4 546.3H1200.2V553.1H1187.4zM1225.7 546.3H1289.5V553.1H1225.7zM1302.2 546.3H1315.0V553.1H1302.2zM1327.7 546.3H1353.3V553.1H1327.7zM1385.2 546.3H1410.7V553.1H1385.2zM1423.4 546.3H1544.6V553.1H1423.4zM1551.0 546.3H1595.7V553.1H1551.0zM1608.4 546.3H1621.2V553.1H1608.4zM1646.7 546.3H1659.4V553.1H1646.7zM900.3 553.1H938.6V559.9H900.3zM951.4 553.1H1066.2V559.9H951.4zM1085.3 553.1H1136.4V559.9H1085.3zM1142.7 553.1H1174.6V559.9H1142.7zM1181.0 553.1H1206.5V559.9H1181.0zM1225.7 553.1H1283.1V559.9H1225.7zM1302.2 553.1H1315.0V559.9H1302.2zM1334.1 553.1H1346.9V559.9H1334.1zM1366.0 553.1H1410.7V559.9H1366.0zM1429.8 553.1H1519.1V559.9H1429.8zM1531.9 553.1H1563.8V559.9H1531.9zM1576.5 553.1H1602.0V559.9H1576.5zM1653.1 553.1H1659.4V559.9H1653.1zM504.8 559.9H511.2V566.6H504.8zM836.6 559.9H842.9V566.6H836.6zM900.3 559.9H932.2V566.6H900.3zM945.0 559.9H970.5V566.6H945.0zM983.3 559.9H1066.2V566.6H983.3zM1091.7 559.9H1136.4V566.6H1091.7zM1142.7 559.9H1251.2V566.6H1142.7zM1302.2 559.9H1315.0V566.6H1302.2zM1334.1 559.9H1340.5V566.6H1334.1zM1359.6 559.9H1366.0V566.6H1359.6zM1378.8 559.9H1417.0V566.6H1378.8zM1436.2 559.9H1474.5V566.6H1436.2zM1480.8 559.9H1519.1V566.6H1480.8zM1544.6 559.9H1563.8V566.6H1544.6zM1589.3 559.9H1595.7V566.6H1589.3zM874.8 566.6H913.1V573.4H874.8zM951.4 566.6H957.8V573.4H951.4zM989.7 566.6H1021.5V573.4H989.7zM1027.9 566.6H1066.2V573.4H1027.9zM1098.1 566.6H1110.9V573.4H1098.1zM1117.2 566.6H1168.3V573.4H1117.2zM1174.6 566.6H1232.1V573.4H1174.6zM1391.5 566.6H1410.7V573.4H1391.5zM1455.3 566.6H1468.1V573.4H1455.3zM1500.0 566.6H1519.1V573.4H1500.0zM1538.2 566.6H1563.8V573.4H1538.2zM1582.9 566.6H1589.3V573.4H1582.9zM842.9 573.4H849.3V580.2H842.9zM874.8 573.4H932.2V580.2H874.8zM983.3 573.4H1059.8V580.2H983.3zM1098.1 573.4H1104.5V580.2H1098.1zM1123.6 573.4H1142.7V580.2H1123.6zM1200.2 573.4H1232.1V580.2H1200.2zM1455.3 573.4H1461.7V580.2H1455.3zM1500.0 573.4H1519.1V580.2H1500.0zM1525.5 573.4H1557.4V580.2H1525.5zM1582.9 573.4H1595.7V580.2H1582.9zM466.6 580.2H479.3V587.0H466.6zM842.9 580.2H849.3V587.0H842.9zM874.8 580.2H932.2V587.0H874.8zM1021.5 580.2H1040.7V587.0H1021.5zM1091.7 580.2H1104.5V587.0H1091.7zM1206.5 580.2H1232.1V587.0H1206.5zM1251.2 580.2H1264.0V587.0H1251.2zM1461.7 580.2H1474.5V587.0H1461.7zM1500.0 580.2H1519.1V587.0H1500.0zM1525.5 580.2H1557.4V587.0H1525.5zM1621.2 580.2H1627.6V587.0H1621.2zM473.0 587.0H479.3V593.8H473.0zM874.8 587.0H900.3V593.8H874.8zM906.7 587.0H925.9V593.8H906.7zM1021.5 587.0H1034.3V593.8H1021.5zM1085.3 587.0H1091.7V593.8H1085.3zM1212.9 587.0H1232.1V593.8H1212.9zM1251.2 587.0H1270.3V593.8H1251.2zM1455.3 587.0H1493.6V593.8H1455.3zM1500.0 587.0H1519.1V593.8H1500.0zM1531.9 587.0H1557.4V593.8H1531.9zM1621.2 587.0H1633.9V593.8H1621.2zM881.2 593.8H894.0V600.6H881.2zM919.5 593.8H925.9V600.6H919.5zM1015.2 593.8H1027.9V600.6H1015.2zM1053.4 593.8H1059.8V600.6H1053.4zM1155.5 593.8H1168.3V600.6H1155.5zM1174.6 593.8H1187.4V600.6H1174.6zM1219.3 593.8H1232.1V600.6H1219.3zM1251.2 593.8H1270.3V600.6H1251.2zM1461.7 593.8H1468.1V600.6H1461.7zM1474.5 593.8H1493.6V600.6H1474.5zM1506.4 593.8H1519.1V600.6H1506.4zM1531.9 593.8H1551.0V600.6H1531.9zM1002.4 600.6H1021.5V607.4H1002.4zM1053.4 600.6H1059.8V607.4H1053.4zM1149.1 600.6H1155.5V607.4H1149.1zM1161.9 600.6H1181.0V607.4H1161.9zM1225.7 600.6H1232.1V607.4H1225.7zM1512.7 600.6H1519.1V607.4H1512.7zM1538.2 600.6H1544.6V607.4H1538.2zM1570.1 600.6H1576.5V607.4H1570.1zM1002.4 607.4H1027.9V614.2H1002.4zM1053.4 607.4H1066.2V614.2H1053.4zM1079.0 607.4H1104.5V614.2H1079.0zM1149.1 607.4H1155.5V614.2H1149.1zM1174.6 607.4H1181.0V614.2H1174.6zM1002.4 614.2H1034.3V621.0H1002.4zM1053.4 614.2H1059.8V621.0H1053.4zM1085.3 614.2H1110.9V621.0H1085.3zM1531.9 614.2H1544.6V621.0H1531.9zM479.3 621.0H485.7V627.8H479.3zM868.5 621.0H881.2V627.8H868.5zM1002.4 621.0H1021.5V627.8H1002.4zM1091.7 621.0H1104.5V627.8H1091.7zM1181.0 621.0H1187.4V627.8H1181.0zM1493.6 621.0H1500.0V627.8H1493.6zM1538.2 621.0H1544.6V627.8H1538.2zM473.0 627.8H485.7V634.5H473.0zM868.5 627.8H881.2V634.5H868.5zM996.0 627.8H1002.4V634.5H996.0zM1047.1 627.8H1053.4V634.5H1047.1zM1500.0 627.8H1506.4V634.5H1500.0zM473.0 634.5H479.3V641.3H473.0zM874.8 634.5H881.2V641.3H874.8zM1040.7 634.5H1053.4V641.3H1040.7zM1079.0 634.5H1085.3V641.3H1079.0zM1130.0 634.5H1136.4V641.3H1130.0zM1232.1 634.5H1238.4V641.3H1232.1zM913.1 641.3H919.5V648.1H913.1zM1047.1 641.3H1059.8V648.1H1047.1zM1123.6 641.3H1136.4V648.1H1123.6zM1168.3 641.3H1181.0V648.1H1168.3zM1193.8 641.3H1200.2V648.1H1193.8zM1232.1 641.3H1238.4V648.1H1232.1zM1117.2 648.1H1130.0V654.9H1117.2zM1174.6 648.1H1206.5V654.9H1174.6zM1232.1 648.1H1244.8V654.9H1232.1zM447.4 654.9H453.8V661.7H447.4zM1047.1 654.9H1059.8V661.7H1047.1zM1174.6 654.9H1206.5V661.7H1174.6zM1225.7 654.9H1238.4V661.7H1225.7zM1289.5 654.9H1295.8V661.7H1289.5zM447.4 661.7H460.2V668.5H447.4zM906.7 661.7H913.1V668.5H906.7zM964.1 661.7H983.3V668.5H964.1zM1047.1 661.7H1072.6V668.5H1047.1zM1174.6 661.7H1212.9V668.5H1174.6zM1295.8 661.7H1302.2V668.5H1295.8zM447.4 668.5H466.6V675.3H447.4zM906.7 668.5H913.1V675.3H906.7zM964.1 668.5H983.3V675.3H964.1zM1066.2 668.5H1072.6V675.3H1066.2zM1174.6 668.5H1193.8V675.3H1174.6zM1200.2 668.5H1212.9V675.3H1200.2zM1302.2 668.5H1308.6V675.3H1302.2zM447.4 675.3H473.0V682.1H447.4zM1091.7 675.3H1098.1V682.1H1091.7zM1206.5 675.3H1212.9V682.1H1206.5zM447.4 682.1H479.3V688.9H447.4zM1091.7 682.1H1104.5V688.9H1091.7zM1206.5 682.1H1212.9V688.9H1206.5zM447.4 688.9H485.7V695.7H447.4zM1206.5 688.9H1219.3V695.7H1206.5zM447.4 695.7H485.7V702.5H447.4zM1098.1 695.7H1104.5V702.5H1098.1zM1174.6 695.7H1181.0V702.5H1174.6zM1212.9 695.7H1232.1V702.5H1212.9zM447.4 702.5H492.1V709.2H447.4zM447.4 709.2H492.1V716.0H447.4zM779.1 709.2H785.5V716.0H779.1zM1544.6 709.2H1551.0V716.0H1544.6zM447.4 716.0H498.5V722.8H447.4zM447.4 722.8H504.8V729.6H447.4zM447.4 729.6H504.8V736.4H447.4zM447.4 736.4H504.8V743.2H447.4zM447.4 743.2H511.2V750.0H447.4zM447.4 750.0H511.2V756.8H447.4zM447.4 756.8H511.2V763.6H447.4zM1653.1 756.8H1659.4V763.6H1653.1zM447.4 763.6H517.6V770.4H447.4zM1646.7 763.6H1659.4V770.4H1646.7zM447.4 770.4H517.6V777.1H447.4zM594.2 770.4H600.5V777.1H594.2zM1640.3 770.4H1659.4V777.1H1640.3zM447.4 777.1H524.0V783.9H447.4zM594.2 777.1H606.9V783.9H594.2zM1640.3 777.1H1659.4V783.9H1640.3zM447.4 783.9H524.0V790.7H447.4zM913.1 783.9H919.5V790.7H913.1zM1608.4 783.9H1621.2V790.7H1608.4zM1633.9 783.9H1659.4V790.7H1633.9zM447.4 790.7H530.4V797.5H447.4zM587.8 790.7H600.5V797.5H587.8zM906.7 790.7H913.1V797.5H906.7zM1627.6 790.7H1659.4V797.5H1627.6zM447.4 797.5H530.4V804.3H447.4zM587.8 797.5H600.5V804.3H587.8zM1621.2 797.5H1659.4V804.3H1621.2zM447.4 804.3H530.4V811.1H447.4zM766.4 804.3H772.8V811.1H766.4zM1066.2 804.3H1072.6V811.1H1066.2zM1602.0 804.3H1608.4V811.1H1602.0zM1614.8 804.3H1659.4V811.1H1614.8zM447.4 811.1H536.7V817.9H447.4zM562.3 811.1H575.0V817.9H562.3zM638.8 811.1H645.2V817.9H638.8zM760.0 811.1H779.1V817.9H760.0zM874.8 811.1H887.6V817.9H874.8zM1066.2 811.1H1072.6V817.9H1066.2zM1212.9 811.1H1219.3V817.9H1212.9zM1614.8 811.1H1659.4V817.9H1614.8zM447.4 817.9H543.1V824.7H447.4zM562.3 817.9H575.0V824.7H562.3zM638.8 817.9H645.2V824.7H638.8zM760.0 817.9H779.1V824.7H760.0zM1053.4 817.9H1072.6V824.7H1053.4zM1206.5 817.9H1219.3V824.7H1206.5zM1570.1 817.9H1576.5V824.7H1570.1zM1608.4 817.9H1659.4V824.7H1608.4zM447.4 824.7H549.5V831.5H447.4zM638.8 824.7H645.2V831.5H638.8zM740.9 824.7H747.3V831.5H740.9zM760.0 824.7H779.1V831.5H760.0zM970.5 824.7H976.9V831.5H970.5zM1544.6 824.7H1557.4V831.5H1544.6zM1563.8 824.7H1576.5V831.5H1563.8zM1602.0 824.7H1659.4V831.5H1602.0zM447.4 831.5H549.5V838.3H447.4zM715.4 831.5H740.9V838.3H715.4zM970.5 831.5H976.9V838.3H970.5zM1538.2 831.5H1557.4V838.3H1538.2zM1595.7 831.5H1659.4V838.3H1595.7zM447.4 838.3H555.9V845.1H447.4zM715.4 838.3H740.9V845.1H715.4zM925.9 838.3H951.4V845.1H925.9zM1551.0 838.3H1557.4V845.1H1551.0zM1582.9 838.3H1659.4V845.1H1582.9zM447.4 845.1H555.9V851.8H447.4zM938.6 845.1H951.4V851.8H938.6zM1015.2 845.1H1021.5V851.8H1015.2zM1251.2 845.1H1257.6V851.8H1251.2zM1576.5 845.1H1659.4V851.8H1576.5zM447.4 851.8H555.9V858.6H447.4zM1008.8 851.8H1021.5V858.6H1008.8zM1251.2 851.8H1257.6V858.6H1251.2zM1557.4 851.8H1563.8V858.6H1557.4zM1576.5 851.8H1659.4V858.6H1576.5zM447.4 858.6H562.3V865.4H447.4zM951.4 858.6H957.8V865.4H951.4zM1091.7 858.6H1110.9V865.4H1091.7zM1506.4 858.6H1519.1V865.4H1506.4zM1531.9 858.6H1563.8V865.4H1531.9zM1589.3 858.6H1659.4V865.4H1589.3zM447.4 865.4H562.3V872.2H447.4zM842.9 865.4H855.7V872.2H842.9zM1091.7 865.4H1117.2V872.2H1091.7zM1219.3 865.4H1232.1V872.2H1219.3zM1506.4 865.4H1525.5V872.2H1506.4zM1531.9 865.4H1551.0V872.2H1531.9zM1570.1 865.4H1576.5V872.2H1570.1zM1589.3 865.4H1659.4V872.2H1589.3zM447.4 872.2H568.6V879.0H447.4zM600.5 872.2H613.3V879.0H600.5zM842.9 872.2H855.7V879.0H842.9zM1034.3 872.2H1053.4V879.0H1034.3zM1079.0 872.2H1085.3V879.0H1079.0zM1104.5 872.2H1117.2V879.0H1104.5zM1512.7 872.2H1538.2V879.0H1512.7zM1589.3 872.2H1659.4V879.0H1589.3zM447.4 879.0H575.0V885.8H447.4zM606.9 879.0H613.3V885.8H606.9zM638.8 879.0H645.2V885.8H638.8zM715.4 879.0H721.7V885.8H715.4zM964.1 879.0H976.9V885.8H964.1zM1034.3 879.0H1066.2V885.8H1034.3zM1072.6 879.0H1085.3V885.8H1072.6zM1110.9 879.0H1117.2V885.8H1110.9zM1512.7 879.0H1531.9V885.8H1512.7zM1557.4 879.0H1563.8V885.8H1557.4zM1589.3 879.0H1659.4V885.8H1589.3zM447.4 885.8H575.0V892.6H447.4zM638.8 885.8H645.2V892.6H638.8zM715.4 885.8H721.7V892.6H715.4zM740.9 885.8H753.6V892.6H740.9zM779.1 885.8H791.9V892.6H779.1zM957.8 885.8H970.5V892.6H957.8zM1040.7 885.8H1066.2V892.6H1040.7zM1079.0 885.8H1085.3V892.6H1079.0zM1557.4 885.8H1563.8V892.6H1557.4zM1589.3 885.8H1659.4V892.6H1589.3zM447.4 892.6H581.4V899.4H447.4zM715.4 892.6H721.7V899.4H715.4zM734.5 892.6H760.0V899.4H734.5zM785.5 892.6H791.9V899.4H785.5zM1040.7 892.6H1059.8V899.4H1040.7zM1264.0 892.6H1270.3V899.4H1264.0zM1557.4 892.6H1570.1V899.4H1557.4zM1589.3 892.6H1659.4V899.4H1589.3zM447.4 899.4H594.2V906.2H447.4zM600.5 899.4H606.9V906.2H600.5zM747.3 899.4H766.4V906.2H747.3zM804.7 899.4H811.0V906.2H804.7zM1021.5 899.4H1027.9V906.2H1021.5zM1104.5 899.4H1110.9V906.2H1104.5zM1123.6 899.4H1136.4V906.2H1123.6zM1187.4 899.4H1206.5V906.2H1187.4zM1557.4 899.4H1576.5V906.2H1557.4zM1589.3 899.4H1659.4V906.2H1589.3zM447.4 906.2H606.9V913.0H447.4zM677.1 906.2H683.5V913.0H677.1zM766.4 906.2H772.8V913.0H766.4zM804.7 906.2H811.0V913.0H804.7zM1085.3 906.2H1117.2V913.0H1085.3zM1130.0 906.2H1136.4V913.0H1130.0zM1187.4 906.2H1212.9V913.0H1187.4zM1557.4 906.2H1582.9V913.0H1557.4zM1589.3 906.2H1659.4V913.0H1589.3zM447.4 913.0H613.3V919.8H447.4zM779.1 913.0H791.9V919.8H779.1zM976.9 913.0H983.3V919.8H976.9zM1021.5 913.0H1027.9V919.8H1021.5zM1085.3 913.0H1098.1V919.8H1085.3zM1110.9 913.0H1117.2V919.8H1110.9zM1136.4 913.0H1155.5V919.8H1136.4zM1200.2 913.0H1212.9V919.8H1200.2zM1327.7 913.0H1334.1V919.8H1327.7zM1506.4 913.0H1519.1V919.8H1506.4zM1531.9 913.0H1538.2V919.8H1531.9zM1557.4 913.0H1582.9V919.8H1557.4zM1589.3 913.0H1659.4V919.8H1589.3zM447.4 919.8H632.4V926.5H447.4zM734.5 919.8H747.3V926.5H734.5zM976.9 919.8H983.3V926.5H976.9zM1021.5 919.8H1027.9V926.5H1021.5zM1085.3 919.8H1098.1V926.5H1085.3zM1110.9 919.8H1123.6V926.5H1110.9zM1149.1 919.8H1155.5V926.5H1149.1zM1506.4 919.8H1512.7V926.5H1506.4zM1525.5 919.8H1551.0V926.5H1525.5zM1563.8 919.8H1582.9V926.5H1563.8zM1589.3 919.8H1659.4V926.5H1589.3zM447.4 926.5H645.2V933.3H447.4zM830.2 926.5H836.6V933.3H830.2zM1021.5 926.5H1034.3V933.3H1021.5zM1059.8 926.5H1066.2V933.3H1059.8zM1085.3 926.5H1098.1V933.3H1085.3zM1104.5 926.5H1123.6V933.3H1104.5zM1149.1 926.5H1161.9V933.3H1149.1zM1244.8 926.5H1251.2V933.3H1244.8zM1506.4 926.5H1512.7V933.3H1506.4zM1525.5 926.5H1551.0V933.3H1525.5zM1582.9 926.5H1659.4V933.3H1582.9zM447.4 933.3H651.6V940.1H447.4zM715.4 933.3H734.5V940.1H715.4zM740.9 933.3H772.8V940.1H740.9zM1027.9 933.3H1040.7V940.1H1027.9zM1155.5 933.3H1161.9V940.1H1155.5zM1244.8 933.3H1251.2V940.1H1244.8zM1283.1 933.3H1289.5V940.1H1283.1zM1506.4 933.3H1512.7V940.1H1506.4zM1531.9 933.3H1538.2V940.1H1531.9zM1563.8 933.3H1570.1V940.1H1563.8zM1582.9 933.3H1659.4V940.1H1582.9zM447.4 940.1H664.3V946.9H447.4zM709.0 940.1H766.4V946.9H709.0zM1021.5 940.1H1040.7V946.9H1021.5zM1072.6 940.1H1104.5V946.9H1072.6zM1557.4 940.1H1563.8V946.9H1557.4zM1582.9 940.1H1659.4V946.9H1582.9zM447.4 946.9H670.7V953.7H447.4zM709.0 946.9H721.7V953.7H709.0zM728.1 946.9H734.5V953.7H728.1zM740.9 946.9H760.0V953.7H740.9zM1027.9 946.9H1040.7V953.7H1027.9zM1072.6 946.9H1079.0V953.7H1072.6zM1091.7 946.9H1098.1V953.7H1091.7zM1130.0 946.9H1136.4V953.7H1130.0zM1570.1 946.9H1659.4V953.7H1570.1zM447.4 953.7H683.5V960.5H447.4zM747.3 953.7H760.0V960.5H747.3zM1130.0 953.7H1142.7V960.5H1130.0zM1500.0 953.7H1506.4V960.5H1500.0zM1570.1 953.7H1659.4V960.5H1570.1zM447.4 960.5H689.8V967.3H447.4zM721.7 960.5H728.1V967.3H721.7zM747.3 960.5H760.0V967.3H747.3zM1053.4 960.5H1066.2V967.3H1053.4zM1302.2 960.5H1308.6V967.3H1302.2zM1500.0 960.5H1506.4V967.3H1500.0zM1582.9 960.5H1659.4V967.3H1582.9zM447.4 967.3H696.2V974.1H447.4zM721.7 967.3H728.1V974.1H721.7zM740.9 967.3H753.6V974.1H740.9zM1053.4 967.3H1066.2V974.1H1053.4zM1538.2 967.3H1551.0V974.1H1538.2zM1576.5 967.3H1659.4V974.1H1576.5zM447.4 974.1H709.0V980.9H447.4zM715.4 974.1H728.1V980.9H715.4zM734.5 974.1H747.3V980.9H734.5zM1008.8 974.1H1021.5V980.9H1008.8zM1538.2 974.1H1557.4V980.9H1538.2zM1570.1 974.1H1659.4V980.9H1570.1zM447.4 980.9H721.7V987.7H447.4zM734.5 980.9H747.3V987.7H734.5zM1008.8 980.9H1021.5V987.7H1008.8zM1072.6 980.9H1079.0V987.7H1072.6zM1538.2 980.9H1557.4V987.7H1538.2zM1570.1 980.9H1659.4V987.7H1570.1zM447.4 987.7H721.7V994.4H447.4zM740.9 987.7H753.6V994.4H740.9zM1079.0 987.7H1085.3V994.4H1079.0zM1544.6 987.7H1557.4V994.4H1544.6zM1570.1 987.7H1659.4V994.4H1570.1zM447.4 994.4H721.7V1001.2H447.4zM1544.6 994.4H1551.0V1001.2H1544.6zM1570.1 994.4H1659.4V1001.2H1570.1zM447.4 1001.2H721.7V1008.0H447.4zM1149.1 1001.2H1155.5V1008.0H1149.1zM1225.7 1001.2H1232.1V1008.0H1225.7zM1238.4 1001.2H1251.2V1008.0H1238.4zM1551.0 1001.2H1557.4V1008.0H1551.0zM1563.8 1001.2H1659.4V1008.0H1563.8zM447.4 1008.0H728.1V1014.8H447.4zM1232.1 1008.0H1257.6V1014.8H1232.1zM1557.4 1008.0H1659.4V1014.8H1557.4zM447.4 1014.8H709.0V1021.6H447.4zM715.4 1014.8H740.9V1021.6H715.4zM1206.5 1014.8H1212.9V1021.6H1206.5zM1238.4 1014.8H1244.8V1021.6H1238.4zM1289.5 1014.8H1295.8V1021.6H1289.5zM1563.8 1014.8H1659.4V1021.6H1563.8zM447.4 1021.6H702.6V1028.4H447.4zM715.4 1021.6H728.1V1028.4H715.4zM1557.4 1021.6H1659.4V1028.4H1557.4zM447.4 1028.4H702.6V1035.2H447.4zM715.4 1028.4H728.1V1035.2H715.4zM753.6 1028.4H766.4V1035.2H753.6zM772.8 1028.4H779.1V1035.2H772.8zM1551.0 1028.4H1659.4V1035.2H1551.0zM447.4 1035.2H709.0V1042.0H447.4zM728.1 1035.2H740.9V1042.0H728.1zM753.6 1035.2H772.8V1042.0H753.6zM1551.0 1035.2H1659.4V1042.0H1551.0zM447.4 1042.0H715.4V1048.8H447.4zM728.1 1042.0H740.9V1048.8H728.1zM747.3 1042.0H753.6V1048.8H747.3zM1544.6 1042.0H1659.4V1048.8H1544.6zM447.4 1048.8H734.5V1055.6H447.4zM1544.6 1048.8H1659.4V1055.6H1544.6zM447.4 1055.6H734.5V1062.4H447.4zM760.0 1055.6H772.8V1062.4H760.0zM779.1 1055.6H785.5V1062.4H779.1zM1110.9 1055.6H1117.2V1062.4H1110.9zM1538.2 1055.6H1659.4V1062.4H1538.2zM447.4 1062.4H734.5V1069.1H447.4zM747.3 1062.4H772.8V1069.1H747.3zM1538.2 1062.4H1659.4V1069.1H1538.2zM447.4 1069.1H734.5V1075.9H447.4zM740.9 1069.1H760.0V1075.9H740.9zM1538.2 1069.1H1659.4V1075.9H1538.2zM447.4 1075.9H702.6V1082.7H447.4zM721.7 1075.9H734.5V1082.7H721.7zM740.9 1075.9H753.6V1082.7H740.9zM1531.9 1075.9H1659.4V1082.7H1531.9zM447.4 1082.7H702.6V1089.5H447.4zM779.1 1082.7H785.5V1089.5H779.1zM1525.5 1082.7H1659.4V1089.5H1525.5zM447.4 1089.5H702.6V1096.3H447.4zM1519.1 1089.5H1659.4V1096.3H1519.1zM447.4 1096.3H715.4V1103.1H447.4zM823.8 1096.3H830.2V1103.1H823.8zM1500.0 1096.3H1659.4V1103.1H1500.0zM447.4 1103.1H702.6V1109.9H447.4zM709.0 1103.1H715.4V1109.9H709.0zM817.4 1103.1H836.6V1109.9H817.4zM1468.1 1103.1H1659.4V1109.9H1468.1zM447.4 1109.9H721.7V1116.7H447.4zM740.9 1109.9H753.6V1116.7H740.9zM817.4 1109.9H830.2V1116.7H817.4zM1436.2 1109.9H1659.4V1116.7H1436.2zM447.4 1116.7H753.6V1123.5H447.4zM823.8 1116.7H830.2V1123.5H823.8zM1429.8 1116.7H1659.4V1123.5H1429.8zM447.4 1123.5H753.6V1130.3H447.4zM868.5 1123.5H874.8V1130.3H868.5zM1417.0 1123.5H1659.4V1130.3H1417.0zM447.4 1130.3H709.0V1137.0H447.4zM715.4 1130.3H760.0V1137.0H715.4zM1397.9 1130.3H1659.4V1137.0H1397.9zM447.4 1137.0H760.0V1143.8H447.4zM1385.2 1137.0H1659.4V1143.8H1385.2zM447.4 1143.8H760.0V1150.6H447.4zM1372.4 1143.8H1659.4V1150.6H1372.4zM447.4 1150.6H760.0V1157.4H447.4zM1366.0 1150.6H1659.4V1157.4H1366.0zM447.4 1157.4H760.0V1164.2H447.4zM1359.6 1157.4H1659.4V1164.2H1359.6zM447.4 1164.2H702.6V1171.0H447.4zM715.4 1164.2H753.6V1171.0H715.4zM1353.3 1164.2H1659.4V1171.0H1353.3zM447.4 1171.0H709.0V1177.8H447.4zM721.7 1171.0H753.6V1177.8H721.7zM1346.9 1171.0H1659.4V1177.8H1346.9zM447.4 1177.8H715.4V1184.6H447.4zM728.1 1177.8H740.9V1184.6H728.1zM1340.5 1177.8H1659.4V1184.6H1340.5zM447.4 1184.6H677.1V1191.4H447.4zM683.5 1184.6H715.4V1191.4H683.5zM728.1 1184.6H740.9V1191.4H728.1zM1340.5 1184.6H1659.4V1191.4H1340.5zM447.4 1191.4H677.1V1198.2H447.4zM696.2 1191.4H740.9V1198.2H696.2zM1340.5 1191.4H1659.4V1198.2H1340.5zM447.4 1198.2H677.1V1205.0H447.4zM696.2 1198.2H747.3V1205.0H696.2zM811.0 1198.2H836.6V1205.0H811.0zM1340.5 1198.2H1659.4V1205.0H1340.5zM447.4 1205.0H677.1V1211.7H447.4zM689.8 1205.0H747.3V1211.7H689.8zM817.4 1205.0H830.2V1211.7H817.4zM1340.5 1205.0H1659.4V1211.7H1340.5zM447.4 1211.7H677.1V1218.5H447.4zM683.5 1211.7H740.9V1218.5H683.5zM1340.5 1211.7H1659.4V1218.5H1340.5zM447.4 1218.5H740.9V1225.3H447.4zM1340.5 1218.5H1659.4V1225.3H1340.5zM447.4 1225.3H747.3V1232.1H447.4zM1340.5 1225.3H1659.4V1232.1H1340.5zM447.4 1232.1H721.7V1238.9H447.4zM728.1 1232.1H747.3V1238.9H728.1zM791.9 1232.1H798.3V1238.9H791.9zM1340.5 1232.1H1659.4V1238.9H1340.5zM447.4 1238.9H696.2V1245.7H447.4zM709.0 1238.9H747.3V1245.7H709.0zM1340.5 1238.9H1659.4V1245.7H1340.5zM447.4 1245.7H702.6V1252.5H447.4zM709.0 1245.7H734.5V1252.5H709.0zM1334.1 1245.7H1659.4V1252.5H1334.1zM447.4 1252.5H734.5V1259.3H447.4zM1334.1 1252.5H1659.4V1259.3H1334.1zM447.4 1259.3H740.9V1266.1H447.4zM747.3 1259.3H753.6V1266.1H747.3zM1327.7 1259.3H1659.4V1266.1H1327.7zM447.4 1266.1H747.3V1272.9H447.4zM1321.4 1266.1H1659.4V1272.9H1321.4zM447.4 1272.9H740.9V1279.6H447.4zM1315.0 1272.9H1659.4V1279.6H1315.0zM447.4 1279.6H740.9V1286.4H447.4zM1308.6 1279.6H1659.4V1286.4H1308.6zM447.4 1286.4H740.9V1293.2H447.4zM1302.2 1286.4H1659.4V1293.2H1302.2zM447.4 1293.2H740.9V1300.0H447.4zM1295.8 1293.2H1659.4V1300.0H1295.8zM447.4 1300.0H677.1V1306.8H447.4zM683.5 1300.0H715.4V1306.8H683.5zM721.7 1300.0H753.6V1306.8H721.7zM1295.8 1300.0H1659.4V1306.8H1295.8zM447.4 1306.8H670.7V1313.6H447.4zM683.5 1306.8H709.0V1313.6H683.5zM728.1 1306.8H753.6V1313.6H728.1zM1289.5 1306.8H1659.4V1313.6H1289.5zM447.4 1313.6H670.7V1320.4H447.4zM696.2 1313.6H709.0V1320.4H696.2zM734.5 1313.6H753.6V1320.4H734.5zM1283.1 1313.6H1659.4V1320.4H1283.1zM447.4 1320.4H670.7V1327.2H447.4zM696.2 1320.4H709.0V1327.2H696.2zM740.9 1320.4H760.0V1327.2H740.9zM1276.7 1320.4H1659.4V1327.2H1276.7zM447.4 1327.2H664.3V1334.0H447.4zM696.2 1327.2H702.6V1334.0H696.2zM740.9 1327.2H760.0V1334.0H740.9zM1270.3 1327.2H1659.4V1334.0H1270.3zM447.4 1334.0H664.3V1340.8H447.4zM1264.0 1334.0H1659.4V1340.8H1264.0zM447.4 1340.8H657.9V1347.6H447.4zM1251.2 1340.8H1659.4V1347.6H1251.2zM447.4 1347.6H657.9V1354.3H447.4zM1244.8 1347.6H1659.4V1354.3H1244.8zM447.4 1354.3H657.9V1361.1H447.4zM1244.8 1354.3H1659.4V1361.1H1244.8zM447.4 1361.1H651.6V1367.9H447.4zM1244.8 1361.1H1659.4V1367.9H1244.8zM447.4 1367.9H651.6V1374.7H447.4zM1238.4 1367.9H1659.4V1374.7H1238.4zM447.4 1374.7H645.2V1381.5H447.4zM1238.4 1374.7H1659.4V1381.5H1238.4zM447.4 1381.5H638.8V1388.3H447.4zM1232.1 1381.5H1659.4V1388.3H1232.1zM447.4 1388.3H632.4V1395.1H447.4zM1225.7 1388.3H1659.4V1395.1H1225.7zM447.4 1395.1H626.1V1401.9H447.4zM1219.3 1395.1H1659.4V1401.9H1219.3zM447.4 1401.9H626.1V1408.7H447.4zM1212.9 1401.9H1659.4V1408.7H1212.9zM447.4 1408.7H626.1V1415.5H447.4zM1206.5 1408.7H1659.4V1415.5H1206.5zM447.4 1415.5H626.1V1422.2H447.4zM1206.5 1415.5H1659.4V1422.2H1206.5zM447.4 1422.2H626.1V1429.0H447.4zM1193.8 1422.2H1659.4V1429.0H1193.8zM447.4 1429.0H626.1V1435.8H447.4zM1136.4 1429.0H1659.4V1435.8H1136.4zM447.4 1435.8H626.1V1442.6H447.4zM1136.4 1435.8H1659.4V1442.6H1136.4zM447.4 1442.6H626.1V1449.4H447.4zM1136.4 1442.6H1659.4V1449.4H1136.4zM447.4 1449.4H626.1V1456.2H447.4zM1136.4 1449.4H1659.4V1456.2H1136.4zM447.4 1456.2H626.1V1463.0H447.4zM1136.4 1456.2H1659.4V1463.0H1136.4zM447.4 1463.0H626.1V1469.8H447.4zM1136.4 1463.0H1659.4V1469.8H1136.4zM447.4 1469.8H626.1V1476.6H447.4zM1136.4 1469.8H1659.4V1476.6H1136.4zM447.4 1476.6H626.1V1483.4H447.4zM1136.4 1476.6H1659.4V1483.4H1136.4zM447.4 1483.4H626.1V1490.2H447.4zM1130.0 1483.4H1659.4V1490.2H1130.0zM447.4 1490.2H626.1V1496.9H447.4zM1130.0 1490.2H1659.4V1496.9H1130.0zM447.4 1496.9H626.1V1503.7H447.4zM1117.2 1496.9H1659.4V1503.7H1117.2zM447.4 1503.7H619.7V1510.5H447.4zM1117.2 1503.7H1659.4V1510.5H1117.2zM447.4 1510.5H619.7V1517.3H447.4zM1110.9 1510.5H1659.4V1517.3H1110.9zM447.4 1517.3H619.7V1524.1H447.4zM957.8 1517.3H964.1V1524.1H957.8zM1098.1 1517.3H1659.4V1524.1H1098.1zM447.4 1524.1H619.7V1530.9H447.4zM1079.0 1524.1H1659.4V1530.9H1079.0zM447.4 1530.9H619.7V1537.7H447.4zM1059.8 1530.9H1659.4V1537.7H1059.8zM447.4 1537.7H619.7V1544.5H447.4zM996.0 1537.7H1659.4V1544.5H996.0zM447.4 1544.5H619.7V1551.3H447.4zM996.0 1544.5H1659.4V1551.3H996.0zM447.4 1551.3H619.7V1558.1H447.4zM996.0 1551.3H1659.4V1558.1H996.0zM447.4 1558.1H619.7V1564.8H447.4zM996.0 1558.1H1659.4V1564.8H996.0zM447.4 1564.8H619.7V1571.6H447.4zM996.0 1564.8H1659.4V1571.6H996.0zM447.4 1571.6H619.7V1578.4H447.4zM996.0 1571.6H1659.4V1578.4H996.0zM447.4 1578.4H619.7V1585.2H447.4zM989.7 1578.4H1659.4V1585.2H989.7zM447.4 1585.2H619.7V1592.0H447.4zM989.7 1585.2H1659.4V1592.0H989.7zM447.4 1592.0H619.7V1598.8H447.4zM970.5 1592.0H1659.4V1598.8H970.5zM447.4 1598.8H619.7V1605.6H447.4zM957.8 1598.8H1659.4V1605.6H957.8zM447.4 1605.6H626.1V1612.4H447.4zM957.8 1605.6H1659.4V1612.4H957.8zM447.4 1612.4H626.1V1619.2H447.4zM957.8 1612.4H1659.4V1619.2H957.8zM447.4 1619.2H626.1V1626.0H447.4zM957.8 1619.2H1659.4V1626.0H957.8zM447.4 1626.0H626.1V1632.8H447.4zM957.8 1626.0H1659.4V1632.8H957.8zM447.4 1632.8H626.1V1639.5H447.4zM957.8 1632.8H1659.4V1639.5H957.8zM447.4 1639.5H626.1V1646.3H447.4zM945.0 1639.5H1659.4V1646.3H945.0zM447.4 1646.3H626.1V1653.1H447.4zM932.2 1646.3H1659.4V1653.1H932.2zM447.4 1653.1H626.1V1659.9H447.4zM919.5 1653.1H1659.4V1659.9H919.5zM447.4 1659.9H626.1V1666.7H447.4zM919.5 1659.9H1659.4V1666.7H919.5zM447.4 1666.7H626.1V1673.5H447.4zM919.5 1666.7H1659.4V1673.5H919.5zM447.4 1673.5H626.1V1680.3H447.4zM913.1 1673.5H1659.4V1680.3H913.1zM447.4 1680.3H626.1V1687.1H447.4zM913.1 1680.3H1659.4V1687.1H913.1zM447.4 1687.1H626.1V1693.9H447.4zM906.7 1687.1H1659.4V1693.9H906.7zM447.4 1693.9H626.1V1700.7H447.4zM906.7 1693.9H1659.4V1700.7H906.7zM447.4 1700.7H626.1V1707.4H447.4zM900.3 1700.7H1659.4V1707.4H900.3zM447.4 1707.4H626.1V1714.2H447.4zM900.3 1707.4H1659.4V1714.2H900.3zM447.4 1714.2H626.1V1721.0H447.4zM900.3 1714.2H1659.4V1721.0H900.3zM447.4 1721.0H626.1V1727.8H447.4zM900.3 1721.0H1659.4V1727.8H900.3zM447.4 1727.8H626.1V1734.6H447.4zM900.3 1727.8H1659.4V1734.6H900.3zM447.4 1734.6H626.1V1741.4H447.4zM900.3 1734.6H1659.4V1741.4H900.3zM447.4 1741.4H626.1V1748.2H447.4zM900.3 1741.4H1659.4V1748.2H900.3zM447.4 1748.2H626.1V1755.0H447.4zM900.3 1748.2H1659.4V1755.0H900.3zM447.4 1755.0H626.1V1761.8H447.4zM900.3 1755.0H1659.4V1761.8H900.3zM447.4 1761.8H626.1V1768.6H447.4zM900.3 1761.8H1659.4V1768.6H900.3zM447.4 1768.6H626.1V1775.4H447.4zM900.3 1768.6H1659.4V1775.4H900.3zM447.4 1775.4H626.1V1782.1H447.4zM900.3 1775.4H1659.4V1782.1H900.3zM447.4 1782.1H626.1V1788.9H447.4zM894.0 1782.1H1659.4V1788.9H894.0zM447.4 1788.9H626.1V1795.7H447.4zM887.6 1788.9H1659.4V1795.7H887.6zM447.4 1795.7H626.1V1802.5H447.4zM874.8 1795.7H1659.4V1802.5H874.8zM447.4 1802.5H626.1V1809.3H447.4zM868.5 1802.5H1659.4V1809.3H868.5zM447.4 1809.3H626.1V1816.1H447.4zM862.1 1809.3H1659.4V1816.1H862.1zM447.4 1816.1H626.1V1822.9H447.4zM855.7 1816.1H1659.4V1822.9H855.7zM447.4 1822.9H626.1V1829.7H447.4zM849.3 1822.9H1659.4V1829.7H849.3zM447.4 1829.7H626.1V1836.5H447.4zM849.3 1829.7H1659.4V1836.5H849.3zM447.4 1836.5H626.1V1843.3H447.4zM849.3 1836.5H1659.4V1843.3H849.3zM447.4 1843.3H626.1V1850.0H447.4zM842.9 1843.3H1659.4V1850.0H842.9zM447.4 1850.0H626.1V1856.8H447.4zM849.3 1850.0H1659.4V1856.8H849.3zM447.4 1856.8H626.1V1863.6H447.4zM855.7 1856.8H1659.4V1863.6H855.7zM447.4 1863.6H626.1V1870.4H447.4zM868.5 1863.6H1659.4V1870.4H868.5zM447.4 1870.4H626.1V1877.2H447.4zM881.2 1870.4H1659.4V1877.2H881.2zM447.4 1877.2H626.1V1884.0H447.4zM900.3 1877.2H1659.4V1884.0H900.3zM447.4 1884.0H632.4V1890.8H447.4zM913.1 1884.0H1659.4V1890.8H913.1zM447.4 1890.8H632.4V1897.6H447.4zM913.1 1890.8H1659.4V1897.6H913.1zM447.4 1897.6H638.8V1904.4H447.4zM913.1 1897.6H1659.4V1904.4H913.1zM447.4 1904.4H638.8V1911.2H447.4zM913.1 1904.4H1659.4V1911.2H913.1zM447.4 1911.2H645.2V1918.0H447.4zM913.1 1911.2H1659.4V1918.0H913.1zM447.4 1918.0H645.2V1924.7H447.4zM913.1 1918.0H1659.4V1924.7H913.1zM447.4 1924.7H651.6V1931.5H447.4zM913.1 1924.7H1659.4V1931.5H913.1zM447.4 1931.5H657.9V1938.3H447.4zM913.1 1931.5H1659.4V1938.3H913.1zM447.4 1938.3H677.1V1945.1H447.4zM913.1 1938.3H1659.4V1945.1H913.1zM447.4 1945.1H715.4V1951.9H447.4zM913.1 1945.1H1659.4V1951.9H913.1zM447.4 1951.9H721.7V1958.7H447.4zM913.1 1951.9H1659.4V1958.7H913.1zM447.4 1958.7H721.7V1965.5H447.4zM913.1 1958.7H1659.4V1965.5H913.1z"/></g>
<g clip-path="url(#land)"><path d="M1038.7 430.0L1042.2 451.1L1070.4 482.8L1105.5 500.4M1105.5 500.4L1049.3 623.5L1056.3 641.1L1070.4 669.2L1091.5 690.3L1260.3 707.9M1052.8 627.0L1052.8 672.8L1000.0 676.3M1260.3 707.9L1267.4 676.3L1281.5 648.1L1288.5 627.0L1299.0 584.8M1299.0 584.8L1309.6 577.8L1334.2 553.1L1351.8 525.0L1365.9 475.7M1309.6 584.8L1323.7 598.9L1330.7 641.1L1351.8 658.7L1344.8 683.3L1358.9 711.5L1365.9 722.0M1485.5 521.5L1453.8 542.6L1446.8 570.7L1446.8 616.5L1422.2 623.5L1387.0 641.1L1372.9 669.2L1369.4 704.4L1365.9 722.0M1485.5 521.5L1489.0 553.1L1503.1 605.9L1506.6 641.1L1499.6 669.2M1365.9 722.0L1397.6 732.6L1429.2 704.4L1457.4 697.4L1492.5 676.3L1506.6 655.2M1365.9 722.0L1351.8 746.6L1362.4 781.8L1365.9 817.0L1369.4 852.2M1369.4 852.2L1404.6 827.6L1439.8 838.1L1485.5 862.7L1520.7 873.3M1260.3 781.8L1292.0 788.9L1327.2 799.4L1365.9 788.9M1313.1 861.0L1334.2 861.0L1334.2 876.8L1313.1 876.8L1313.1 861.0M1369.4 852.2L1348.3 845.1L1337.7 873.3L1334.2 897.9L1337.7 922.5L1316.6 936.6L1281.5 943.7L1246.3 968.3M1260.3 781.8L1246.3 817.0L1211.1 869.8L1190.0 905.0L1186.5 929.6L1211.1 950.7L1242.8 968.3M1000.0 880.3L1052.8 883.8L1070.4 922.5L1073.9 957.7L1059.8 999.9M1052.8 883.8L1105.5 908.5L1140.7 915.5L1168.9 908.5M1506.6 641.1L1545.3 641.1L1580.5 634.1L1615.7 627.0L1650.9 627.0M1499.6 669.2L1538.3 662.2L1562.9 676.3L1598.1 683.3L1633.3 676.3M1555.9 605.9L1591.0 605.9L1615.7 612.9L1650.9 612.9M658.3 632.5L840.6 709.1M840.6 709.1L849.2 699.0L875.3 701.9L889.7 690.3L907.1 673.0L921.5 658.5L936.0 657.0L964.9 675.8L973.6 678.7M973.6 678.7L1011.2 678.7L1051.7 678.7L1100.9 678.7M878.2 707.7L873.8 727.9L872.4 748.2L883.9 771.3L907.1 785.8L936.0 800.2L964.9 808.9L991.0 811.8L1002.5 826.3L1005.4 849.4L1008.3 881.2L1051.7 884.1L1066.2 921.7L1060.4 965.1M973.6 678.7L970.7 690.3L970.7 736.6L1008.3 742.4L1014.1 762.6L1011.2 791.5L991.0 811.8M733.5 699.0L742.2 733.7L762.5 739.5L788.5 774.2L808.7 762.6L831.9 774.2L878.2 707.7M831.9 774.2L834.8 791.5L820.3 820.5L820.3 849.4L834.8 872.5L863.7 887.0L886.8 872.5L924.4 869.6L910.0 837.8L970.7 808.9M788.5 774.2L782.7 794.4L779.8 829.1L771.1 863.9L779.8 881.2L762.5 907.2L768.2 936.2L791.4 965.1" fill="none" stroke="#808080" stroke-width="4.0" stroke-linejoin="round" stroke-linecap="round"/><path d="M1170.2 1152.7L1203.3 1158.1L1234.0 1163.5L1267.1 1149.9L1302.9 1147.2M1170.2 1179.8L1203.3 1182.5L1228.9 1190.7L1246.7 1207.0L1267.1 1234.2L1274.8 1236.9M1157.4 1092.9L1175.3 1071.2L1188.0 1054.9L1211.0 1054.9L1241.6 1057.6L1267.1 1063.0L1282.4 1082.0L1297.8 1103.8L1315.6 1122.8M1188.0 1054.9L1208.5 1027.7L1228.9 1008.7L1241.6 989.7M1241.6 989.7L1267.1 981.5L1292.7 987.0L1318.2 989.7L1333.5 997.8L1348.8 1022.3L1353.9 1046.7L1374.3 1060.3L1399.8 1052.2M1399.8 1052.2L1404.9 1068.5M1399.8 1052.2L1425.3 1041.3L1450.9 1038.6L1466.2 1027.7L1476.4 1011.4M1476.4 1011.4L1486.6 995.1L1494.2 973.4L1499.3 946.2L1514.6 927.2L1530.0 938.1M1060.5 916.4L1101.3 910.9L1139.6 919.1L1175.3 929.9L1188.0 943.5L1205.9 957.1L1226.3 973.4L1241.6 989.7M1073.2 1261.3L1108.9 1226.0L1124.3 1207.0L1149.8 1188.0L1170.2 1179.8M1170.2 1179.8L1172.7 1160.8L1170.2 1152.7L1165.1 1136.4L1149.8 1136.4M1073.2 1261.3L1091.1 1258.6L1114.0 1283.0L1129.4 1280.3L1152.3 1299.3L1177.8 1321.1L1185.5 1337.4L1180.4 1356.4M945.6 1046.7L953.3 1092.9L986.5 1109.2L1017.1 1128.2L1047.7 1171.7M953.3 1092.9L966.1 1139.1L955.8 1160.8L955.8 1201.6L1017.1 1201.6L1040.0 1201.6M955.8 1201.6L968.6 1242.3L968.6 1375.4M864.0 1242.3L955.8 1242.3M864.0 1242.3L871.6 1283.0L876.7 1323.8L889.5 1350.9L889.5 1391.7M843.6 1391.7L925.2 1391.7M925.2 1375.4L925.2 1508.5M925.2 1375.4L968.6 1375.4L991.6 1353.7L1006.9 1345.5L1050.3 1364.5M800.2 1418.9L843.6 1418.9L843.6 1391.7L833.4 1359.1L838.5 1323.8L825.7 1310.2M800.2 1418.9L800.2 1462.3L777.2 1473.2L756.8 1494.9L731.3 1516.6M800.2 1462.3L820.6 1489.5L846.1 1508.5L925.2 1508.5L950.7 1538.4M800.2 1494.9L782.3 1532.9L731.3 1554.7L713.4 1560.1M713.4 1581.8L881.8 1581.8M710.9 1690.5L818.1 1690.5M792.5 1869.7L792.5 1932.2M782.3 1215.1L833.4 1207.0L864.0 1242.3M769.6 1291.2L807.9 1299.3L825.7 1310.2M825.7 1133.7L851.2 1155.4L876.7 1188.0L894.6 1207.0M851.2 1155.4L864.0 1201.6L864.0 1242.3M894.6 1207.0L902.3 1147.2L897.2 1120.1L879.3 1101.1M851.2 1060.3L869.1 1084.8L897.2 1092.9L904.8 1065.7M1040.0 1201.6L1022.2 1234.2L1022.2 1258.6L1047.7 1261.3L1073.2 1261.3M1047.7 1171.7L1057.9 1182.5L1101.3 1188.0L1121.7 1185.3L1126.8 1198.8L1108.9 1226.0M994.1 1299.3L1022.2 1258.6" fill="none" stroke="#808080" stroke-width="4.0" stroke-linejoin="round" stroke-linecap="round"/><path d="M620.4 441.0L620.1 437.1L617.1 431.2L616.5 426.9L614.8 422.3L613.4 418.1L610.3 413.1L608.6 405.9L608.1 400.9L608.2 398.0L606.0 390.5L603.1 388.5L602.2 382.3M599.0 375.7L602.2 382.3M599.0 375.7L599.0 370.6L599.7 365.5L598.6 361.9L598.8 355.9L598.4 351.5L600.6 346.2L598.4 340.4L599.6 336.0M597.4 327.0L599.6 336.0M811.4 352.0L810.7 346.4L810.5 342.3L811.3 335.3L811.8 331.7L810.2 324.8L809.5 318.4L809.4 313.6M656.9 385.0L657.0 380.4L657.6 375.0L659.4 371.8L659.7 365.8L661.4 360.5M656.9 385.0L660.8 390.5L664.4 393.4M664.4 393.4L666.7 387.9L667.8 385.9L669.2 379.1L672.4 376.7L673.2 370.0L676.7 365.9L678.2 362.1M661.4 360.5L664.9 358.9L670.0 360.8L675.4 360.3M678.2 362.1L675.4 360.3M602.2 382.3L606.3 381.1L612.5 382.6L616.9 382.3L622.0 383.4L626.0 382.4L630.7 382.4L638.3 383.9L641.0 385.2L645.9 383.8L651.5 383.2L656.9 385.0M599.6 336.0L603.5 338.3L609.0 338.3L612.9 342.5L616.2 342.3L622.5 343.2L626.3 345.6L631.0 348.1L635.8 351.0L638.2 352.4L643.4 352.1L649.1 354.5L653.7 357.4L658.4 357.5L661.4 360.5M620.4 441.0L623.7 439.1L628.2 437.4L634.4 434.5L638.4 431.5L640.1 429.7L646.5 427.8L649.2 426.2L654.0 421.1L656.8 419.0L662.8 418.7L667.9 414.3L670.9 413.4M670.9 413.4L670.7 408.5L667.4 402.9L667.2 398.9L664.4 393.4M670.9 413.4L675.4 413.6L679.4 412.1L685.7 413.3L691.2 412.1L696.4 413.6L700.7 413.0M676.6 480.9L678.5 477.2L681.8 471.4L682.7 467.9L687.8 463.8L688.9 459.9L691.8 455.2L693.0 450.4L697.0 447.9L700.6 443.3L702.7 439.4L704.4 434.5M700.7 413.0L701.8 419.4L701.9 424.3L702.4 428.3L704.4 434.5M597.4 327.0L600.7 322.6L604.7 318.1L607.9 312.4M675.1 326.0L674.9 330.7L675.5 336.1L675.9 339.5L676.7 345.4L676.7 349.0L675.8 356.6L675.4 360.3M675.1 326.0L671.2 323.7L667.1 322.2L663.7 319.7L659.5 317.7L653.6 314.1L648.7 312.7L645.1 310.2M607.9 312.4L613.1 311.3L618.5 311.7L623.3 312.3L626.9 310.4L629.9 310.1L636.8 310.5L641.8 309.8L645.1 310.2M635.8 148.2L633.9 152.0L632.9 157.2L632.8 161.9L630.7 166.3L627.4 173.6L625.5 176.9L626.7 181.8L625.1 187.0L621.2 191.4L620.7 195.9M612.4 207.1L617.6 200.0L620.7 195.9M725.3 451.0L721.3 448.1L717.8 444.7L712.2 440.3L707.3 436.9L704.4 434.5M725.3 451.0L724.3 456.8L721.4 461.5L717.0 465.0L717.3 470.3L713.2 473.4L709.9 476.1L707.7 480.8L706.3 485.9L704.5 490.5L702.3 494.2L698.9 499.9M678.2 362.1L678.2 362.1M700.7 413.0L702.6 410.0L706.6 405.6L709.7 399.9M678.2 362.1L681.6 364.4L684.6 370.7L686.5 373.3L691.6 376.2L694.8 381.1L698.3 384.7L700.8 390.2L703.4 393.7L705.7 396.8L709.7 399.9M766.0 487.1L761.5 490.8L757.2 492.0L751.9 494.0M746.6 512.8L747.0 506.6L749.7 503.9L749.4 498.7L751.9 494.0M746.6 512.8L742.6 515.3L736.5 519.1L731.5 519.5L727.6 523.0M698.9 499.9L699.9 500.2M727.6 523.0L722.6 518.2L720.4 516.8L714.8 513.3L713.1 511.2L707.0 508.1L704.5 502.0L699.9 500.2M671.6 127.9L671.4 122.9M672.1 122.1L671.4 122.9M635.8 148.2L640.9 149.3L647.0 148.8L651.9 150.0L654.3 151.4L659.6 150.7L666.0 151.0L670.1 151.3M670.1 151.3L669.7 144.1L671.1 139.3L672.2 133.2L671.6 127.9M607.9 312.4L607.8 305.7L608.3 303.1L610.5 296.5L609.9 290.9L610.2 286.4L613.5 279.8L613.2 275.0L614.1 271.6L615.4 265.1L615.0 260.3M615.0 260.3L613.8 253.6L612.1 250.4L610.2 244.4L610.0 238.2L607.0 234.2L604.4 228.4L605.2 224.6L602.7 218.4M612.4 207.1L611.4 209.5M602.7 218.4L607.5 215.1L611.4 209.5M774.4 303.7L773.3 305.2M787.8 305.1L782.1 303.6L774.4 303.7M811.4 352.0L809.8 354.9M809.4 313.6L806.4 312.6L799.8 310.0L795.1 307.4L791.2 308.0L787.8 305.1M809.8 354.9L804.2 353.1L799.4 352.9L795.3 350.5L790.5 351.3L788.2 349.1L781.7 346.4L778.0 347.1L773.9 345.7M773.3 305.2L774.1 310.3L774.4 315.2L772.7 320.3L774.6 326.2L774.0 330.3L774.3 336.1L772.9 340.1L773.9 345.7M746.0 487.5L741.5 487.1L733.8 485.6L729.5 485.5L723.8 485.6M746.0 487.5L743.6 480.7L743.3 474.5L742.5 469.9M723.8 485.6L724.9 482.0L726.9 474.4L729.9 468.7L730.1 464.3L732.8 459.4M742.5 469.9L738.0 467.3L734.6 462.5L732.8 459.4M699.9 500.2L705.1 497.5L708.2 494.0L711.4 492.7L716.8 491.5L720.5 489.4L723.8 485.6M751.9 494.0L746.0 487.5M730.5 453.0L732.8 459.4M725.3 451.0L730.5 453.0M809.8 354.9L808.1 361.5L807.1 366.0M774.4 303.7L771.4 300.2L767.6 295.0L765.8 289.6L761.9 285.4L759.3 281.4L756.5 275.6L755.1 272.6L751.1 267.1L749.0 263.7L747.0 259.1M682.3 220.8L683.9 229.8M687.4 235.3L683.9 229.8M713.1 398.0L713.0 392.0L711.1 389.3L712.2 383.7L708.5 377.4L710.2 374.1L706.9 367.1L707.7 363.5L705.9 356.8L704.4 353.4L704.6 346.6L704.3 342.5M713.1 398.0L717.9 397.8L724.7 394.1L729.4 393.0M729.4 393.0L728.3 387.3L730.0 383.4L730.0 378.0L730.7 371.6L729.5 369.4L729.7 362.7L729.4 359.2L729.4 351.9L731.1 349.3L729.9 343.8L730.7 338.1M730.7 338.1L724.6 337.2L720.2 338.2L715.6 340.0L709.6 338.1L706.1 338.9M706.1 338.9L704.3 342.5M678.2 362.1L682.9 358.9L685.9 356.1L691.3 353.2L695.8 347.9L698.9 344.4L704.3 342.5M709.7 399.9L713.1 398.0M694.0 322.1L697.0 324.8L701.5 331.9L703.6 335.6L706.1 338.9M675.1 326.0L680.2 323.8L684.4 323.6L689.8 324.1L694.0 322.1M745.5 327.5L741.4 332.5M745.5 327.5L743.4 323.3L741.8 316.9L739.0 312.7L738.3 308.4L737.5 303.6L735.5 299.7L732.6 294.7L732.1 288.0L728.3 284.1L726.2 277.5L726.8 272.7L723.8 269.1M741.4 332.5L734.6 334.5M734.6 334.5L732.6 331.0L729.8 325.4L727.3 323.1L725.3 318.7L722.1 312.0L720.9 307.8L718.8 303.9L715.2 299.5L712.5 297.4L710.8 292.7L709.5 287.9L706.6 283.0M723.8 269.1L716.7 269.7L713.7 271.5L706.7 273.7M706.7 273.7L706.6 283.0M773.3 305.2L770.7 307.5L766.6 311.0L762.2 313.8L756.2 318.5L753.8 321.7L750.6 325.7L745.5 327.5M773.9 345.7L768.5 349.1L764.9 350.2L761.2 354.1M761.2 354.1L756.4 349.4L756.1 348.4L752.7 342.8L746.9 338.6L743.6 336.5L741.4 332.5M747.0 259.1L741.5 261.5L736.6 263.5L733.3 265.2L728.5 265.8L723.8 269.1M694.0 322.1L696.7 318.5L697.9 311.4L700.0 307.8L701.6 302.3L701.8 297.6L703.2 292.1L705.1 286.6L706.6 283.0M730.7 338.1L734.6 334.5M687.4 235.3L689.3 241.4L690.3 244.8L693.3 248.0L695.6 254.7L696.7 258.1L700.2 262.1L701.7 268.2L703.3 272.0M703.3 272.0L706.7 273.7M703.3 272.0L698.9 274.1L694.1 274.6M645.1 310.2L647.9 306.4L653.8 302.7L658.1 302.1L660.0 298.6L665.0 295.3L669.2 293.9L672.4 289.9L678.0 287.5L680.9 284.4L686.7 279.7L690.0 279.0L694.1 274.6M742.5 469.9L748.4 467.4L750.9 468.9L756.0 467.0L760.2 465.0L765.0 463.3M766.0 487.1L765.7 480.3L766.2 477.4L767.1 469.4L767.1 465.2M765.0 463.3L767.1 465.2M673.5 155.6L671.6 160.6L671.0 165.0L669.7 171.4L669.2 175.6M669.2 175.6L673.0 179.9L674.6 185.8L676.3 191.6M670.1 151.3L673.5 155.6M620.7 195.9L626.5 195.5L629.4 191.8L632.8 188.8L638.9 187.7L644.2 186.4L648.4 185.3L652.9 183.0L656.8 181.9L660.3 179.1L664.9 176.1L669.2 175.6M677.6 215.7L672.7 214.0L666.9 215.7L662.4 215.4L658.9 215.2L654.5 212.2L650.5 214.5L643.7 212.8L638.3 211.6L634.9 211.9L629.2 212.7L626.7 210.5L620.4 209.1L614.9 210.3L611.4 209.5M677.6 215.7L676.0 208.7L678.1 204.3L677.6 196.1L676.3 191.6M682.3 220.8L677.6 215.7M616.6 260.1L620.2 257.1L625.0 256.5L630.1 256.3L634.7 256.0L638.9 252.9L643.8 250.6L649.0 249.1L652.3 248.6M616.6 260.1L622.3 261.3L624.5 261.2L628.8 261.1L634.7 264.2L637.9 263.1L644.9 266.2L649.3 267.2L653.6 266.5L658.0 268.6L663.0 267.3L667.7 269.4L670.4 269.7L676.3 269.9L680.1 271.2L685.3 272.1L689.4 273.2M689.4 273.2L685.9 271.1L680.3 268.4L677.9 263.5L672.4 261.8L669.0 258.3L663.2 256.4L661.7 252.5L656.2 251.4L652.3 248.6M615.0 260.3L616.6 260.1M683.9 229.8L680.4 231.1L674.1 233.9L669.2 239.3L664.4 241.9L660.1 244.1L656.2 244.4L652.3 248.6M694.1 274.6L689.4 273.2M807.1 366.0L803.3 370.7L796.6 372.2L792.7 376.3M761.2 354.1L761.8 359.7L761.6 364.2L762.1 369.7L760.9 377.2L762.7 381.4M729.4 393.0L733.1 393.5L739.1 393.5L744.8 394.5L748.3 396.3M748.3 396.3L751.4 394.0L756.7 387.4L757.6 386.7L762.7 381.4M762.7 381.4L766.7 381.0L773.3 379.8L778.2 377.8L781.7 378.6L789.2 377.0L792.7 376.3M732.8 451.6L737.4 451.8L742.3 451.7L747.9 452.4L751.9 453.0L755.4 452.8L760.8 454.0M730.5 453.0L732.8 451.6M765.0 463.3L762.0 459.5L760.8 454.0M527.2 196.6L531.4 197.4L536.9 198.7L541.0 199.4L545.2 199.2L550.2 202.1L555.1 202.0L559.9 203.7L564.4 203.5L568.0 204.7L571.1 200.6L574.7 195.6L576.7 192.5L579.3 188.1L581.8 184.5L585.7 179.1L589.1 176.3L590.7 172.1L594.3 167.7L596.6 164.0L600.4 158.0L602.0 154.8L606.2 149.8L608.2 147.4L611.4 142.2L616.2 139.8L619.7 137.3L624.6 136.3L628.6 135.4L633.6 131.5L636.2 130.0L641.3 128.9L645.6 127.5L649.3 125.1L654.3 122.8L657.2 121.4L662.2 119.3L667.2 116.3L671.8 114.1L675.1 113.0L679.6 111.2L682.7 110.1L688.5 106.8L691.8 106.0L696.6 102.7L700.7 101.5L703.6 104.3L707.8 108.4L712.0 111.7L716.5 115.0L719.8 117.0L723.6 120.5L720.5 123.6L715.2 126.2L713.1 131.0L709.2 132.9L704.7 136.6L700.7 139.5L696.4 143.1L694.3 148.2L690.1 150.6L687.3 155.8L682.8 158.5L682.1 164.3L681.6 167.6L680.9 173.8L681.8 177.9L681.5 184.3L680.3 188.4L681.9 193.1L685.4 196.2L687.1 200.4L689.9 203.7L693.1 209.6L695.6 212.9L696.3 218.3L696.1 223.6L696.4 229.6L696.5 235.6L695.6 240.0L700.2 241.7L706.4 242.9L709.8 243.0L714.3 242.7L720.6 244.5L724.7 246.1L729.1 246.6L734.9 246.5L739.1 247.4L744.8 249.8L748.4 251.0L754.3 250.9L758.2 255.5L759.3 258.7L762.7 262.1L766.5 266.3L769.5 270.8L772.1 275.3L776.8 275.2L782.3 275.3L785.6 273.4L791.0 273.8L795.8 273.1L801.4 274.0L806.2 273.4L810.4 272.6L813.1 276.7L816.2 280.9L818.7 283.9L820.6 288.9L819.5 293.2L818.8 299.5L816.7 303.0L816.0 308.1L814.4 314.1L813.0 318.8L815.7 324.1L817.4 329.4L819.1 333.8L820.7 339.6L824.4 342.6L825.7 348.7L821.8 353.0L819.7 357.6L815.3 360.0L813.0 365.0L815.6 368.3L819.1 373.5L822.2 378.0L824.7 382.1L828.3 386.7L830.4 391.4L832.3 398.2L835.7 402.9L837.2 408.4L832.0 408.0L827.5 408.3L823.6 409.5L818.9 409.2L813.0 408.4L808.8 409.8L805.4 409.4L799.3 409.7L794.4 409.6L790.9 410.0L786.2 410.9L781.7 410.8L777.3 412.0L772.1 411.1L769.1 407.8L767.0 402.7L763.9 397.9L761.9 394.8L760.6 400.9L760.3 405.6L757.7 410.2L757.6 415.3L756.3 420.5L755.5 424.7L755.3 430.4L755.2 437.2L755.5 443.7L757.7 449.1L760.7 453.8L763.8 456.9L766.4 462.4L769.0 465.7L772.1 470.9L770.9 476.2L771.0 481.3L770.8 486.5L768.2 490.9L768.5 495.5L767.3 500.0L767.6 505.6L766.8 509.9L764.7 516.3L763.9 521.3L764.4 525.6L762.4 530.2L762.0 536.3L761.4 539.5L761.3 544.1L760.1 549.1L759.4 555.1L754.0 552.4L749.7 549.8L743.4 546.5L739.0 544.2L736.3 541.1L731.8 537.7L728.9 533.9L724.5 529.5L720.6 526.2L718.8 524.4L713.6 519.7L711.3 517.3L707.5 514.0L704.0 509.6L700.7 506.2L697.9 503.2L692.8 498.7L690.2 497.2L685.5 493.4L682.3 490.2L678.8 485.8L676.3 483.0L671.3 479.5L668.3 476.1L665.0 473.6L660.0 471.4L656.0 467.0L653.6 464.1L648.2 462.6L645.5 459.4L641.1 455.7L636.1 452.9L631.4 450.5L629.0 446.8L624.1 443.7L619.9 442.7L614.9 440.4L610.7 439.9L605.7 437.2L600.2 437.2L595.8 436.4L591.1 433.7L587.3 432.8L582.4 431.7L578.2 430.2L573.9 427.0L569.0 425.9L565.0 422.8L561.5 419.9L558.3 416.9L552.6 415.5L549.0 412.2L544.8 411.1L539.7 408.3L536.7 406.2L532.3 403.0L528.6 400.0L526.1 396.0L522.5 393.2L518.0 388.9L514.4 386.7L514.6 381.6L514.1 377.4L515.0 372.2L515.6 365.8L515.5 362.7L516.6 357.0L515.8 351.1L518.0 346.1L518.1 341.1L518.8 337.4L518.9 331.2L519.4 325.9L518.9 321.3L518.6 317.0L518.7 311.9L520.5 307.0L520.9 302.3L520.8 297.2L521.1 291.0L521.9 286.1L520.7 281.2L521.4 276.6L521.4 271.7L522.8 267.4L523.0 260.8L523.2 257.0L522.9 251.7L523.6 246.2L524.6 241.2L525.0 236.0L525.3 232.1L525.3 226.8L524.6 221.3L525.1 216.2L526.2 212.5L526.3 206.5L526.3 200.6L527.2 196.6M894.6 370.5L894.7 370.8M894.6 370.5L891.6 369.1L886.0 366.4L882.7 362.7L878.8 360.4L873.4 355.9L872.3 355.1L867.7 351.8L863.8 348.2L859.9 344.2L854.5 341.8L850.3 339.4L846.2 338.6L843.1 335.8L840.3 333.6L834.9 329.1L832.4 325.1L827.6 324.9L822.7 320.8L819.6 318.4M706.4 146.3L705.6 149.8M705.6 149.8L701.3 151.6M976.0 251.5L975.1 245.2L977.4 240.5L977.9 236.3L978.0 232.0L976.1 225.8L978.2 222.4L978.2 216.1L978.4 209.4L977.4 205.4M976.0 251.5L972.8 253.0L966.2 255.5L962.5 256.1L958.2 258.3L953.9 259.6L948.9 262.0L946.8 264.1L941.3 264.2L937.6 266.9L931.4 267.3L929.6 269.2L924.8 270.6L920.8 273.6L915.0 275.4L911.0 276.9M911.0 276.9L908.7 273.0L909.3 266.3L907.6 262.1M907.6 262.1L910.5 257.6L911.2 254.0L916.0 247.8L916.4 245.4L918.4 241.2L921.6 237.1L925.4 233.5L926.3 229.3L928.4 222.7L930.0 219.0L933.8 214.8L936.0 210.3L937.6 207.2L940.7 202.2M940.7 202.2L946.1 203.6L950.9 201.7L954.7 204.1L958.9 203.8L964.3 202.8L968.0 205.6L972.3 203.5L977.4 205.4M894.6 370.5L894.6 366.4L894.9 360.3L897.1 354.7L898.5 350.3L899.5 346.0L899.2 342.5L900.3 337.6L900.6 331.5L902.4 326.6L902.4 320.4L903.5 316.8L904.1 312.8L906.6 306.6L906.9 300.4L908.7 296.4L909.8 291.6L910.4 286.9L909.4 281.9L911.0 276.9M819.6 318.4L818.0 313.6L817.6 308.3L816.6 303.2L817.5 296.3L818.3 292.2L816.0 286.8L816.9 281.9L814.1 277.0L814.5 272.2M814.5 272.2L810.7 267.6L807.4 264.2L801.7 261.8L798.4 259.3L796.5 254.3L790.8 251.5L786.7 250.0L783.1 244.6L779.0 241.9L776.4 239.6M705.6 149.8L705.9 154.2L704.8 160.2L706.4 165.9L706.9 171.7L706.6 175.5M689.8 190.8L692.7 186.5L697.5 182.0L702.6 178.1L706.6 175.5M726.2 141.7L731.7 142.9L736.5 146.4L739.7 148.7L744.5 148.3L748.3 151.3M706.4 146.3L712.6 145.0L717.6 144.4L720.8 142.1L726.2 141.7M754.6 159.6L752.7 156.8L748.3 151.3M754.6 159.6L763.3 156.9M792.8 129.2L789.2 132.9L784.0 137.4L782.7 138.2L778.3 143.9L775.8 146.8L769.5 149.1L767.6 152.8L763.3 156.9M749.0 181.7L750.1 176.9L751.0 170.3L752.6 164.4L754.6 159.6M749.0 181.7L747.7 185.6L743.9 191.8M706.6 175.5L709.9 177.1L714.6 180.3L720.0 181.5L723.8 184.6L731.2 187.3L734.1 187.8L738.0 190.5L743.9 191.8M729.8 242.8L729.8 239.8M729.8 239.8L726.9 236.6L723.5 230.8L718.9 228.0L715.5 225.1L714.4 219.5L710.4 216.8L707.3 214.7L702.8 209.5L702.0 206.8L698.4 201.8L693.9 197.9L691.2 194.7M776.4 239.6L777.3 236.0L780.6 230.3L781.8 227.9L786.9 221.9L789.1 216.0L790.1 213.2M790.1 213.2L784.5 211.5L782.4 210.6L777.7 205.3L772.4 205.2L767.6 204.3L761.9 202.1L757.5 197.9L751.7 195.2L747.3 195.2L743.9 192.3M743.9 192.3L742.1 198.3L741.8 201.2L739.9 206.7L738.5 211.7L737.3 214.7L736.2 221.2L735.2 226.1L733.1 229.5L730.9 233.9L729.8 239.8M689.8 190.8L691.2 194.7M743.9 192.3L743.9 191.8M940.4 201.3L942.6 197.3L940.5 191.5L941.2 184.0L942.7 181.5L944.2 175.2M940.4 201.3L936.7 197.0L933.5 194.5L927.4 193.7L923.1 189.6L919.9 186.9L914.8 183.9L911.1 180.3L907.5 179.1L905.2 175.9L898.9 172.1L896.1 170.8M896.1 170.8L896.0 170.4M944.2 175.2L942.7 169.0L939.7 165.6L937.9 159.8L935.2 153.9M896.0 170.4L901.4 169.1L905.2 166.6L908.0 164.3L914.9 164.5L918.0 160.7L923.2 160.0L927.5 156.8L929.9 154.9L935.2 153.9M907.6 262.1L904.1 259.0L900.9 253.9M814.5 272.2L815.4 268.1L818.7 263.9L820.1 257.1L821.5 252.0L823.8 248.6L826.3 243.8L825.5 240.2L829.3 233.4L829.7 230.3L831.8 225.1M831.8 225.1L835.2 225.8L841.9 227.2L844.6 229.2L848.2 233.7L853.6 234.6L857.7 237.3L861.0 237.7L866.4 238.8L871.4 241.7L874.8 243.8L878.3 245.2L883.9 245.1L888.7 247.5L893.3 248.9L897.9 253.1L900.9 253.9M896.1 170.8L895.0 176.8L895.9 181.3L895.7 186.2L892.3 192.5L892.9 198.1L892.8 203.6L891.3 209.0L890.3 212.0L890.9 217.9M940.7 202.2L940.4 201.3M900.9 253.9L899.5 247.2L896.9 244.6L895.3 239.4L894.6 233.5L893.0 229.2L891.9 224.5L890.9 217.9M749.0 181.7L754.7 182.1L758.5 183.0L763.3 181.9L767.4 183.9L771.6 185.0L775.9 184.1L782.4 185.0L787.4 187.7L791.7 188.2L795.9 187.7M790.1 213.2L794.6 211.8L797.3 209.3L802.4 205.5M795.9 187.7L798.2 194.9L799.8 199.8L802.4 205.5M831.8 225.1L831.1 217.6L827.5 211.9M802.4 205.5L807.7 206.0L810.9 208.5L816.8 208.8L821.3 209.2L827.5 211.9M977.4 205.4L982.0 201.8M890.9 217.9L886.0 214.6M827.5 211.9L829.8 206.3L834.3 203.2L834.6 199.9L839.1 194.3M886.0 214.6L881.4 212.0L877.4 209.5L874.5 209.7L870.5 207.1L863.4 206.9L860.0 203.8L855.2 200.4L851.3 198.9L846.7 198.2L843.0 195.2L839.1 194.3M896.0 170.4L889.6 164.3M939.4 140.6L936.9 148.2L935.2 153.9M893.6 138.5L893.8 143.1L891.0 149.7L890.0 152.9L890.1 158.1L889.6 164.3M793.5 175.3L795.7 169.9L798.3 166.5L798.7 162.2L801.5 155.8L802.8 152.2L804.7 148.0L808.1 145.6L809.4 139.5M793.5 175.3L795.4 179.4L795.9 185.9M795.9 185.9L800.9 181.6L803.1 180.9L806.8 175.4L811.6 173.6L813.3 171.9L818.8 166.3L822.8 164.9L826.2 161.3M809.4 139.5L813.4 141.0L820.3 140.6M820.3 140.6L822.2 146.5L823.4 152.5L824.9 156.3L826.2 161.3M792.8 129.2L795.5 130.7L802.0 135.6L805.7 135.8L809.4 139.5M763.3 156.9L767.6 158.7L770.8 163.6L775.4 163.9L779.9 166.3L783.5 170.1L789.0 171.7L793.5 175.3M795.9 187.7L795.9 185.9M840.8 189.4L839.1 194.3M840.8 189.4L838.9 184.0L836.3 181.2L834.3 174.7L831.8 170.8L828.4 167.2L826.2 161.3M823.1 138.6L820.3 140.6M954.2 171.9L961.3 174.6L966.5 176.9M944.2 175.2L950.6 174.3L954.2 171.9M982.0 201.8L979.3 198.2L977.1 192.0L973.4 189.7L971.0 186.5L967.6 179.4L966.5 176.9M841.7 145.1L846.0 145.1L852.1 146.0L855.3 146.6L860.8 147.9M841.7 145.1L845.1 150.1L847.1 153.6L848.9 158.9L851.5 164.4L853.5 170.5L855.0 175.3L856.5 178.8M860.8 147.9L863.7 152.0L868.0 156.1L869.7 162.4L874.0 165.5M874.0 165.5L868.9 168.2L865.1 170.3L862.7 175.4L858.2 177.9M858.2 177.9L856.5 178.8M823.1 138.6L828.2 141.6L832.7 143.0L837.5 144.2L841.7 145.1M840.8 189.4L844.8 186.1L847.8 185.6L851.4 180.4L856.5 178.8M889.6 164.3L885.7 164.5L877.9 164.8L874.0 165.5M886.0 214.6L882.5 211.6L880.6 205.3L876.9 202.2L875.1 199.9L871.7 192.8L868.6 190.0L865.6 186.1L860.9 182.0L858.2 177.9M723.6 120.5L718.9 124.7L716.0 126.7L711.3 129.4L707.6 133.8L704.5 135.8L700.7 139.5L697.1 142.5L694.1 147.0L690.7 151.3L686.6 154.4L682.8 158.5L681.6 164.0L683.0 168.9L682.4 174.5L680.6 179.0L679.7 182.9L680.3 188.4L682.3 192.3L684.6 196.4L687.9 200.7L691.1 205.0L693.5 208.1L695.6 212.9L695.1 218.7L695.8 224.4L694.6 228.9L696.0 235.4L695.6 240.0L700.6 241.0L705.4 240.9L709.3 243.4L714.3 243.4L720.8 244.5L724.0 245.4L729.0 247.3L734.3 246.5L740.0 247.1L744.5 249.8L749.1 250.9L754.3 250.9L757.0 254.7L760.5 258.0L763.0 264.0L766.9 267.9L768.8 272.0L772.1 275.3L777.3 274.2L781.1 274.5L785.5 273.9L790.5 274.4L796.2 273.7L801.4 274.3L805.0 273.6L810.4 272.6L812.7 275.9L816.5 279.8L817.4 285.5L820.6 288.9L818.9 293.7L818.7 298.9L815.8 303.5L815.8 309.1L814.3 314.4L813.0 318.8L814.7 323.6L816.9 329.1L818.6 332.9L821.5 337.9L823.8 344.6L825.7 348.7L821.6 353.4L819.1 357.5L815.8 360.0L813.0 365.0L815.0 370.2L819.5 373.2L821.6 378.9L824.9 381.9L828.3 386.7L830.0 392.1L832.6 396.7L835.2 403.3L837.2 408.4L841.7 412.9L847.2 416.3L851.2 419.3L855.5 419.7L861.8 419.2L865.5 419.1L871.6 419.3L876.3 416.4L879.3 415.5L883.8 412.8L889.2 409.4L892.0 406.7L896.7 406.0L900.1 403.2L904.8 400.3L908.2 393.2L909.9 386.7L914.4 384.1L919.9 382.0L925.2 381.3L920.2 379.6L914.8 375.5L909.9 373.1L908.3 367.7L906.2 364.1L904.7 357.7L903.5 352.2L903.2 348.7L900.3 342.5L899.7 337.8L905.2 332.9L909.9 329.7L914.7 331.1L920.6 330.3L926.2 331.4L929.3 332.4L936.2 332.2L940.5 332.4L944.8 332.0L951.0 330.0L956.3 328.1L960.9 326.9L964.1 323.7L968.1 320.5L971.5 318.3L975.0 315.7L979.2 311.6L983.2 309.5L986.5 305.9L989.9 302.5L994.1 299.8L990.2 296.8L987.3 292.9L983.1 287.8L979.1 284.5L976.3 280.8L978.4 275.8L979.3 270.1L981.5 264.7L983.9 259.0L987.0 255.9L992.4 253.3L995.5 249.0L999.2 245.5L1001.7 239.8L1002.8 235.9L1005.6 229.6L1007.3 226.2L1008.1 220.3L1009.7 215.8L1012.0 210.1L1015.9 206.3L1021.4 200.2L1024.7 196.6L1021.2 193.2L1018.2 190.2L1014.0 188.0L1009.6 184.4L1005.1 179.8L1002.7 177.7L997.7 173.5L994.4 170.4L991.2 167.3L987.4 163.6L982.9 160.6L980.0 157.8L976.9 156.0L971.7 151.3L969.0 149.2L964.6 144.7L960.9 142.2L957.3 140.4L951.1 140.9L946.9 139.8L943.1 139.0L937.3 137.8L933.7 137.1L929.3 135.4L924.3 134.8L918.4 134.7L913.6 134.5L910.2 132.8L905.9 131.6L900.2 131.7L896.6 131.3L892.1 130.9L886.5 130.1L881.6 127.5L878.4 127.6L872.3 127.0L868.9 126.4L864.1 125.4L858.4 123.3L853.7 122.3L849.5 121.4L845.4 120.9L840.4 119.8L836.1 120.2L830.1 119.9L827.2 117.4L820.8 117.7L817.0 117.5L811.5 115.1L807.9 115.1L803.9 112.8L798.2 111.3L794.9 110.0L789.0 109.4L784.7 106.8L780.0 106.3L774.5 105.1L770.1 103.3L766.0 102.4L760.6 100.0L756.8 98.8L751.6 98.8L747.5 98.8L742.1 98.9L738.6 100.3L732.8 101.4L728.5 101.8L723.6 101.5L723.4 108.8L724.0 113.9L723.6 120.5M554.3 428.5L545.7 429.8M537.2 428.6L545.7 429.8M496.9 418.3L488.2 417.5M488.2 417.5L487.0 410.3L484.5 403.7M487.2 525.4L489.2 519.7L489.8 514.5L489.4 510.6L489.8 503.6L490.3 500.2L491.9 494.4M491.9 494.4L490.5 494.1M490.5 494.1L484.1 494.6M537.2 428.6L532.1 436.5M496.9 418.3L501.4 422.2L502.5 426.7L505.9 433.2L509.2 436.3M509.2 436.3L516.1 437.8L522.0 436.7L526.5 436.5L532.1 436.5M529.1 500.7L526.1 504.6L523.3 510.7M491.9 494.4L495.8 490.9L501.0 489.5L504.1 489.8L509.0 485.7L513.7 484.1L518.4 483.2M529.1 500.7L526.9 496.1L523.5 490.6L520.8 483.7M520.8 483.7L518.4 483.2M590.4 472.7L589.9 472.1M589.9 472.1L589.4 469.4M589.4 469.4L591.4 465.8L593.9 460.1L595.7 455.5L597.6 450.9L599.4 445.9M590.4 433.8L592.8 436.4L596.5 443.0L599.4 445.9M472.2 459.3L476.4 460.5L481.7 463.5L486.5 464.9L492.4 468.9L496.9 469.9L500.6 472.2L504.8 474.4L509.6 476.1M509.6 476.1L508.9 471.4L507.4 467.9L503.6 462.7L502.8 457.8L501.9 451.7L501.8 445.9L499.0 442.7M509.2 436.3L504.6 438.2L499.0 442.7M490.5 494.1L488.2 488.9L487.1 484.8L483.3 480.0L482.2 475.1L480.0 472.1L475.9 469.6L473.7 462.9L472.2 459.3M518.4 483.2L513.0 479.0L509.6 476.1M589.9 472.1L583.9 472.5L580.5 472.0L575.3 469.8L568.9 469.4M570.5 498.1L576.0 495.8L582.9 491.8M570.5 498.1L569.9 493.7L569.1 487.4L566.4 483.4L567.7 478.6L566.2 472.2M566.2 472.2L568.9 469.4M590.4 472.7L590.3 475.2M590.3 475.2L588.6 479.8L586.3 485.0L582.9 491.8M560.3 473.8L566.2 472.2M570.5 498.1L568.8 499.8M546.1 505.6L552.1 508.9M546.1 505.6L547.7 499.6L548.8 498.0L552.5 493.4L554.3 488.1L556.8 483.1L557.8 477.8L560.3 473.8M552.1 508.9L557.7 507.5L559.1 505.4L565.9 501.3L568.8 499.8M590.4 433.8L584.1 439.8L580.8 444.0M589.4 469.4L588.1 465.6L585.1 460.6L583.0 454.7M583.0 454.7L581.3 449.5L580.8 444.0M568.9 469.4L566.0 460.3M583.0 454.7L577.3 455.4L571.7 457.0L566.0 460.3M554.3 428.5L558.9 431.6L562.7 434.9L569.3 437.5L571.4 441.9L576.8 443.7M576.8 443.7L580.8 444.0M545.7 429.8L549.2 434.1L551.8 438.3L553.4 444.5L557.1 448.2L561.4 450.7L563.8 456.3M576.8 443.7L572.7 447.0L569.0 452.5L563.8 456.3M552.5 468.7L556.5 463.8L561.5 459.8L563.9 456.9M552.5 468.7L546.7 468.8L540.7 466.1L535.1 464.2L530.4 463.7M530.4 463.7L530.5 463.7M530.5 463.7L534.5 462.8L539.7 460.0L544.5 460.0L550.9 458.7L554.9 457.4L558.7 458.3L563.8 456.4M563.8 456.4L563.9 456.9M566.0 460.3L563.9 456.9M560.3 473.8L555.6 472.6L552.5 468.7M529.1 500.7L533.4 501.1L541.7 502.9L546.1 505.6M520.8 483.7L522.3 480.2L526.3 473.5L528.3 469.0L530.4 463.7M532.1 436.5L532.0 441.2L531.4 447.6L530.9 454.3L530.4 458.6L530.5 463.7M563.8 456.3L563.8 456.4M554.8 523.3L554.6 515.0M552.1 508.9L554.6 515.0M590.3 475.2L593.5 478.1L599.1 482.6L602.8 485.7L606.0 489.3M532.3 403.0L536.1 406.5L540.2 407.1L545.5 409.4L549.6 412.6L552.2 416.3L558.0 418.6L560.7 419.4L565.5 423.6L569.3 425.8L574.0 428.6L578.2 430.2L582.8 431.9L586.5 433.0L592.2 434.6L596.2 435.9L602.1 436.1L605.4 437.8L611.1 439.3L615.4 441.9L620.2 443.3L624.1 443.7L623.9 449.1L621.0 453.3L620.1 458.8L618.3 461.7L617.2 468.5L616.1 472.3L614.3 476.6L613.9 481.8L610.7 484.8L607.0 490.2L604.5 491.9L600.2 496.2L597.9 500.0L594.5 503.4L591.7 508.3L588.4 511.6L583.7 512.9L579.2 515.1L576.2 516.9L571.3 518.6L565.9 519.0L561.9 521.1L557.8 522.5L553.4 524.3L550.6 528.5L546.0 531.2L542.5 533.4L541.8 538.5L539.6 544.2L539.2 550.2L537.2 555.3L536.2 561.5L534.8 566.0L528.5 565.7L522.2 564.5L517.0 563.2L511.3 560.2L506.0 557.1L501.7 555.1L500.5 548.7L497.0 545.2L496.8 539.7L494.0 533.4L489.4 531.0L486.6 526.6L481.6 524.5L478.4 520.2L475.1 518.2L470.8 515.4L466.7 511.5L463.4 508.9L463.3 503.9L465.1 499.0L465.0 493.8L464.8 490.1L465.5 484.7L466.7 479.7L467.1 473.9L468.6 468.9L469.0 465.5L468.8 459.8L470.0 454.7L470.5 449.0L471.1 445.3L472.3 439.0L472.0 434.3L471.8 429.7L473.4 424.0L474.3 421.1L474.4 414.1L474.2 409.8L475.3 405.4L476.1 400.3L481.7 399.8L485.2 400.4L489.7 400.8L494.2 400.6L498.8 402.3L503.2 400.9L509.3 401.5L514.4 401.6L517.3 403.2L522.0 403.4L526.8 403.3L532.3 403.0M694.2 541.1L690.1 542.5L684.5 542.2L680.8 543.8L675.5 542.7L671.2 542.4L664.7 543.7L662.0 544.2L654.8 542.8L650.7 544.5L646.9 545.0M719.4 794.2L722.0 795.9L726.5 801.0L731.2 803.1L734.8 803.3L737.5 808.7L742.5 811.1L747.7 814.1L751.7 816.9L753.6 819.7L757.1 821.2L762.2 823.4M549.9 712.9L546.2 710.4L542.4 706.0L538.6 700.6L536.8 698.3M515.3 651.0L518.4 657.2L519.0 661.2L522.3 664.4L522.6 669.4L524.5 676.0L528.1 680.6L529.2 683.0L533.2 688.0L533.4 693.5L536.8 698.3M515.3 651.0L509.9 648.6M579.2 669.6L574.9 663.7L573.8 660.4L570.2 655.2L566.7 650.0L566.5 645.3L560.8 640.6L559.5 636.9M515.3 651.0L521.1 648.0L522.7 649.2L528.4 647.4L532.1 644.8L536.7 644.1L542.5 641.6L547.7 642.5L550.1 638.5L554.1 637.4L559.5 636.9M579.2 669.6L578.6 673.3L578.9 678.2L579.6 685.9L578.3 690.2L578.7 694.4L577.9 699.2L577.4 703.1L579.1 710.1L577.3 713.8L578.2 719.3M549.9 712.9L554.4 713.1L560.4 716.5L562.9 716.4L567.9 715.8L572.7 718.1L577.7 719.7M578.2 719.3L577.7 719.7M648.4 630.1L642.8 631.0L639.0 634.1L635.7 637.9L632.9 638.1L627.5 642.2L623.0 644.5L619.9 646.4L614.8 649.8L612.1 652.1L608.9 652.2L603.8 656.7L600.1 657.9L595.3 659.6L590.7 662.3L588.5 665.7L581.8 666.9L579.2 669.6M655.3 648.2L654.8 654.7L655.4 658.6L655.7 663.7L657.9 669.1L656.3 675.1L656.0 677.8L658.5 684.9L657.8 687.7L658.0 695.4L659.3 697.8L659.0 703.5L660.3 709.2L660.0 714.8M648.4 630.1L649.2 635.8L652.4 638.6L654.8 644.7L655.3 648.2M578.2 719.3L582.2 717.6L587.4 718.2L593.9 718.4L595.9 717.2L603.7 717.4L606.4 717.9L611.4 718.5L616.8 716.0L621.7 715.9L626.3 718.0L630.0 717.8L636.7 716.4L640.2 714.5L645.7 715.6L649.1 714.3L654.0 714.5L660.0 714.8M694.0 789.1L690.4 793.3L688.7 795.8L683.7 800.1L682.1 804.3L678.2 807.5L677.1 811.9L671.5 814.5L669.9 819.8M669.9 819.8L664.3 823.3L657.2 824.6M667.5 721.3L661.3 716.3M694.0 789.1L691.9 783.8L690.8 780.6L688.6 774.2L687.5 770.5L684.9 768.1L682.6 762.0L680.6 757.1L681.3 752.6L678.3 748.1L676.2 744.5L675.2 739.6L671.6 736.0L670.8 729.5L667.9 725.3L667.5 721.3M661.3 716.3L659.2 721.5L656.0 723.6L652.7 729.6L648.4 731.3L644.9 735.8L643.0 740.0L639.6 745.4L635.2 748.0L632.7 751.7L630.7 754.7L626.4 758.6L625.5 764.7L621.9 768.4L616.3 771.5L616.1 774.1L611.4 780.3L608.2 782.3L605.4 787.1M657.2 824.6L652.0 821.8L648.2 818.3L645.5 815.0L640.5 813.1L635.8 809.5L633.0 808.3L628.8 803.0L624.3 801.4L620.4 797.1L616.2 797.3L612.2 791.3L608.9 788.9L605.4 787.1M627.7 850.0L630.2 847.6L636.1 843.9L637.6 839.6L643.4 836.6L645.5 832.9L648.5 830.2L653.9 827.8L657.2 824.6M669.9 819.8L671.5 824.3L674.3 829.3L676.5 833.7L677.8 838.5L677.3 844.1L680.4 848.5L681.4 854.4L684.0 860.5L685.5 865.1M683.2 875.3L685.2 869.1L685.5 865.1M719.4 794.2L715.0 792.7L707.9 792.3L704.7 790.3L700.3 791.8L694.0 789.1M762.2 823.4L760.2 827.1L758.8 834.3L755.8 837.5L754.5 843.1L753.7 848.2L752.0 852.3L751.3 856.3L749.0 861.0L745.9 868.6L744.2 873.0L744.0 875.5L741.7 883.2L740.7 886.8M685.5 865.1L689.1 868.3L693.7 869.6L698.4 870.7L702.5 873.3L707.0 873.5L713.9 874.3L718.7 876.7L721.5 878.4L726.3 880.8L731.3 883.0L737.1 886.1L740.7 886.8M744.3 932.2L745.2 926.8L742.3 922.1L744.5 918.3L741.2 913.5L743.2 907.7L741.6 901.9L741.0 897.9L741.1 891.4L740.7 886.8M489.0 560.8L489.4 561.0M489.4 561.0L490.0 565.3L492.0 572.9L493.6 577.4L494.7 581.3L494.1 587.8L496.5 593.8L498.0 598.2M542.9 584.2L537.1 582.4L532.0 580.6L528.1 576.7M542.9 584.2L547.3 585.6L553.4 585.2L557.6 585.8L562.2 587.1L567.5 589.0L572.5 587.2L578.6 590.0L584.2 589.0L588.0 590.3M588.0 590.3L593.6 588.9L596.6 584.9L599.0 583.4L605.6 579.5L607.6 579.0L612.0 575.6L616.1 572.4L621.8 572.1L626.3 569.9L630.7 567.2L633.9 565.4L638.0 561.4M639.6 557.3L638.0 561.4M509.9 648.6L511.5 645.1L515.7 639.3L517.5 634.9L517.4 631.2L520.4 627.6L521.9 622.1L524.7 619.6L526.0 613.5L530.9 611.3L531.2 605.6L534.8 601.4L537.1 596.1L538.3 592.1L541.5 589.8L542.9 584.2M498.0 598.2L502.4 595.8L505.9 590.8L512.2 590.2L516.3 585.1L519.2 583.3L523.4 578.5L528.1 576.7M559.5 636.9L561.9 632.6L565.1 629.6L565.8 623.4L569.5 619.0L573.5 617.1L574.3 612.0L578.8 608.0L580.0 602.6L584.2 599.3L586.8 593.6L588.0 590.3M648.4 630.1L648.6 625.3L647.6 621.7L646.6 615.8L644.5 609.2L643.2 605.9L644.0 599.1L643.6 596.9L642.7 589.9L642.3 585.8L640.3 581.4L641.4 577.6L639.6 572.0L637.9 567.3L638.0 561.4M646.9 545.0L642.4 550.0L639.6 557.3M660.0 714.8L661.3 716.3M713.8 920.3L711.2 916.9L707.0 916.6L702.9 913.8L696.5 911.1L693.0 906.8L689.1 905.6M683.2 875.3L685.2 881.6L686.1 885.0L687.6 889.9L686.8 895.6L689.4 902.1L689.1 905.6M744.3 932.2L741.3 930.5L734.4 927.5L732.2 927.8L726.7 926.0L722.0 923.1L719.2 923.1L713.8 920.3M494.0 533.4L495.3 539.5L498.5 545.0L499.6 550.4L501.7 555.1L506.4 558.7L511.3 559.9L517.0 563.2L523.2 563.8L528.6 565.5L534.8 566.0L535.2 560.8L538.1 555.6L538.1 550.7L540.4 545.0L540.5 539.7L542.5 533.4L546.5 531.4L550.5 527.7L554.9 525.6L557.8 522.5L562.2 520.0L566.8 518.9L570.2 517.0L575.2 515.9L580.2 515.1L585.0 513.3L588.4 511.6L592.2 508.0L594.8 504.0L597.7 500.6L600.3 496.2L605.1 492.0L606.6 488.9L609.8 485.1L613.9 481.8L616.1 477.0L615.7 472.1L618.5 467.3L619.2 462.8L619.7 458.1L621.9 454.3L622.1 447.8L624.1 443.7L627.7 447.0L631.5 450.5L636.5 452.6L640.3 455.5L643.8 458.5L647.8 462.3L652.4 465.2L656.5 467.7L661.2 471.5L665.0 473.6L668.8 477.2L671.6 481.0L675.6 484.4L678.6 487.0L683.8 490.0L686.3 492.3L690.1 496.1L693.2 500.5L696.5 503.9L700.7 506.2L704.3 510.6L707.5 513.6L710.1 516.2L713.6 519.9L717.9 522.7L721.3 527.7L724.8 530.5L727.7 534.5L731.4 537.9L736.1 541.2L739.0 544.2L744.4 548.0L750.2 548.9L754.1 553.3L759.4 555.1L754.8 556.2L750.0 559.1L745.5 559.2L740.5 560.8L737.5 562.0L732.9 563.2L728.6 565.4L723.7 565.6L719.2 567.0L715.3 569.8L709.1 571.4L704.6 573.2L700.7 572.8L697.2 574.9L692.8 577.1L686.6 577.2L682.8 579.5L682.7 585.1L681.4 590.5L680.8 595.3L678.4 598.9L677.1 605.6L678.1 610.2L675.9 615.0L675.2 620.3L670.8 625.4L668.1 627.6L665.8 631.8L662.3 636.7L658.7 640.4L654.8 644.7L655.1 650.6L657.2 654.6L658.6 658.4L658.8 665.1L659.5 669.3L660.4 674.3L662.2 678.4L663.3 684.6L664.9 688.8L665.0 693.6L668.5 695.3L673.5 697.3L677.6 699.9L683.3 704.1L687.7 706.4L691.0 708.3L696.7 710.4L700.7 712.6L703.9 714.5L708.5 718.9L712.7 720.0L717.1 722.7L721.8 725.8L724.4 729.5L728.6 731.6L732.8 735.0L737.5 737.2L741.5 739.8L746.8 739.1L752.7 740.1L757.3 739.6L763.5 737.8L767.8 738.4L769.7 741.9L773.0 746.7L773.6 752.4L776.9 756.8L778.4 761.9L780.3 764.4L782.9 770.5L785.5 774.0L788.2 778.2L790.0 783.3L787.8 787.0L786.6 793.5L784.7 797.1L782.3 802.3L781.4 807.7L779.6 812.4L778.3 816.8L776.4 823.5L776.7 826.8L773.7 833.3L773.8 837.6L772.1 843.0L774.0 849.4L777.2 856.6L772.3 860.0L767.0 862.0L770.6 865.5L773.9 870.2L776.4 874.0L778.6 879.2L782.3 883.8L780.4 889.5L778.0 892.9L776.1 897.5L774.1 901.7L772.8 906.4L771.7 912.1L769.6 916.4L765.2 919.4L761.2 923.7L757.4 927.6L754.3 931.8L751.5 936.4L746.6 939.4L743.3 938.1L737.3 934.1L733.8 932.6L729.0 929.9L724.8 928.2L720.9 924.8L718.2 923.4L712.9 920.1L709.7 918.8L703.7 917.2L700.9 913.7L697.0 911.1L691.5 908.9L687.7 907.5L682.8 905.3L679.7 902.6L675.3 901.5L672.0 899.1L667.9 896.6L663.3 894.4L659.1 891.7L653.6 889.2L649.3 886.4L645.4 883.9L641.3 883.3L638.0 880.7L633.6 877.0L629.2 875.6L626.6 870.4L624.6 867.0L620.8 862.3L620.1 860.0L617.2 855.7L615.2 850.2L610.9 845.9L609.5 842.1L606.2 837.2L604.6 833.5L601.9 829.8L599.3 826.9L596.6 820.6L594.8 818.6L593.0 812.9L589.9 810.0L587.9 805.8L585.6 802.0L582.5 797.3L580.0 791.8L577.2 788.0L574.1 783.6L571.3 780.2L569.1 776.7L566.4 772.4L564.1 768.6L562.9 763.6L560.5 758.8L556.7 754.7L555.5 752.0L553.3 747.8L550.4 742.2L547.6 738.4L545.2 733.7L542.3 730.8L539.6 727.1L536.6 722.6L535.0 717.0L532.8 713.2L530.5 709.6L527.2 706.2L524.4 701.5L522.9 696.1L520.3 693.9L518.4 689.2L514.6 685.7L513.4 680.7L509.6 676.9L508.3 671.6L506.1 668.4L502.6 664.8L499.8 659.0L498.5 655.0L496.0 651.5L492.4 648.4L490.8 642.8L488.5 638.8L486.3 634.1L482.3 629.8L480.8 626.6L478.7 621.8L475.7 618.1L473.3 614.0L469.6 610.1L468.6 607.0L464.9 601.0L462.5 598.5L460.2 594.3L457.2 588.3L455.8 584.4L452.2 580.6L450.6 576.8L453.3 574.2L456.9 570.1L462.1 566.4L465.5 562.9L468.1 559.3L471.9 554.5L476.6 552.1L480.2 548.5L484.0 545.0L487.5 539.7L489.8 537.0L494.0 533.4M846.9 962.8L841.6 961.8L837.9 963.4L833.8 963.5L829.1 963.4L823.2 963.2L818.4 965.4L813.1 965.4L808.2 963.1L803.4 965.8L799.3 965.0M846.9 962.8L847.2 958.3L848.8 951.8L848.7 948.4L846.9 942.9L848.5 938.5L848.8 932.4L848.4 926.5L847.8 921.4L847.4 915.8L850.0 911.1L848.3 906.9L850.6 901.4L850.9 898.1L848.5 893.4L850.2 885.7L849.2 880.6L849.9 876.4L849.4 873.1L850.7 867.1L852.2 860.4L852.4 857.1L852.0 849.7L850.4 846.7L851.8 840.0L851.7 836.0M944.0 869.8L946.0 874.2M851.7 836.0L854.7 837.9L859.5 839.5L863.6 839.5L868.3 840.9L874.4 842.6L877.2 846.6L882.4 848.1L887.5 850.3L890.1 849.1L894.9 850.9L901.0 852.9L905.8 855.1L907.3 857.6L912.9 859.2L917.6 859.0L922.0 860.5L924.9 864.9L930.6 865.0L934.4 867.2L940.8 866.9L944.0 869.8M846.9 962.8L850.3 964.3L856.0 968.6L858.9 973.1L863.3 975.5L868.7 978.0L874.9 979.8L877.8 983.9M877.8 983.9L879.9 980.7L885.4 976.5L887.2 973.7L890.8 970.2L896.2 967.5L897.1 964.1L901.6 958.7L905.8 958.0L910.1 952.6L912.2 949.7L914.5 946.0L917.7 941.5L921.1 939.7L924.9 935.3L930.1 932.6L931.8 928.0L937.1 927.5L938.2 922.2L943.9 918.6L945.6 915.9L950.5 913.7L953.2 908.9M953.2 908.9L951.4 904.3L952.3 899.8L950.3 895.0L948.2 890.2L948.3 882.8L948.4 879.7L946.0 874.2M940.2 1029.3L943.2 1025.1L944.1 1020.5L944.3 1016.2L946.3 1010.8L949.9 1003.8L949.6 1000.7L952.7 996.6L952.6 991.9L956.4 987.1L955.5 982.7L959.5 975.0L961.4 971.6L962.8 968.0L963.2 963.4L963.9 958.7L965.7 953.5L969.5 946.7L968.8 943.1L970.7 939.3L972.3 933.5L974.7 928.4M974.7 928.4L980.0 930.2L983.2 935.0L989.3 935.3L993.2 937.7L996.7 940.3L1001.9 942.9L1006.5 945.1L1009.8 948.6M953.2 908.9L955.2 911.8L959.0 916.0L965.1 918.1L966.6 921.4L971.1 924.9L974.7 928.4M767.8 738.4L772.4 740.0L776.9 741.0L783.6 741.2L787.4 741.4L792.5 742.5L796.2 740.0L800.6 738.3L805.9 735.5L808.9 734.5L814.8 731.7L818.1 728.9L823.3 727.5L827.5 723.8L831.5 720.8L836.2 718.4L840.3 717.6L846.3 713.9L848.9 712.3L855.3 710.4L858.9 707.2L863.7 708.6L869.8 710.2L874.2 712.6L875.0 717.2L874.2 724.1L874.3 729.3L874.9 733.8L875.5 740.9L877.1 744.7L875.8 751.7L876.7 756.1L881.2 759.7L883.4 760.6L888.7 764.3L891.2 767.0L895.4 769.6L899.7 772.4L903.8 773.8L910.2 775.4L915.3 777.1L920.8 778.1L925.2 780.5L929.1 782.3L934.1 787.1L937.9 788.5L942.8 791.9L946.3 794.9L950.2 796.2L954.7 799.0L960.1 801.2L963.5 805.0L969.2 807.2L973.5 806.4L978.3 808.1L982.3 809.8L986.7 810.3L991.0 813.0L996.7 813.1L997.9 818.4L999.0 822.3L1000.0 827.4L1001.8 833.1L1004.0 836.2L1003.5 842.0L1006.1 846.1L1006.9 851.2L1006.0 857.5L1006.9 863.1L1007.1 866.8L1007.7 872.3L1006.0 878.9L1006.9 883.8L1011.2 882.8L1016.6 883.7L1020.0 883.6L1024.9 884.1L1030.8 884.1L1034.4 884.0L1038.4 884.8L1043.1 884.4L1047.6 884.5L1052.8 883.8L1054.4 889.4L1055.1 895.7L1055.7 899.0L1058.7 904.7L1059.1 910.2L1060.5 916.4L1061.7 922.2L1062.5 926.4L1062.9 931.4L1064.5 937.5L1064.5 941.5L1066.7 946.6L1067.3 951.7L1068.1 957.1L1066.6 962.6L1064.3 967.6L1064.5 972.5L1061.2 978.0L1059.8 983.3L1058.9 988.9L1056.4 984.6L1052.0 983.1L1048.3 979.0L1045.1 975.7L1042.5 971.7L1039.3 968.7L1034.9 965.2L1029.7 965.4L1025.5 965.8L1020.0 967.0L1017.0 968.4L1010.6 968.7L1006.7 968.2L1001.9 969.7L997.9 970.8L991.9 970.9L987.1 971.8L983.8 970.6L978.3 971.4L972.9 972.0L968.6 973.4L964.9 976.4L960.5 981.7L955.8 984.3L955.9 989.5L955.2 994.8L955.4 998.3L954.6 1003.3L954.0 1009.4L953.3 1014.1L952.6 1018.3L949.7 1024.0L947.9 1030.1L946.6 1033.3L945.2 1040.0L944.4 1044.0L940.7 1042.2L935.4 1038.6L931.3 1041.5L927.2 1044.9L922.9 1047.6L918.6 1049.0L914.0 1053.3L910.9 1054.1L905.7 1058.5L902.3 1060.3L899.1 1056.6L897.2 1050.2L894.6 1046.7L889.6 1046.7L883.8 1044.3L879.4 1044.0L874.8 1043.4L868.4 1043.0L864.0 1041.3L858.9 1036.2L853.8 1033.2L850.4 1036.4L846.9 1040.5L841.9 1045.0L839.6 1049.7L834.5 1052.4L831.3 1056.3L828.3 1060.3L823.7 1057.0L820.1 1051.4L817.8 1047.2L814.8 1043.4L810.4 1038.6L808.1 1032.4L806.7 1028.1L804.4 1022.7L802.7 1016.9L800.9 1012.6L798.9 1007.2L797.4 1002.9L794.5 998.1L793.4 994.1L792.4 988.5L790.0 984.3L793.4 979.7L794.9 972.9L797.6 968.0L792.7 965.0L788.8 961.7L784.9 957.1L784.2 951.0L782.1 947.1L782.1 939.9L781.8 935.2L779.8 929.9L776.5 924.3L772.1 921.1L769.6 916.4L771.8 910.9L773.6 907.1L775.0 901.5L777.4 898.4L779.6 892.4L780.8 887.8L782.3 883.8L779.7 879.8L776.6 875.3L772.2 871.0L770.2 865.8L767.0 862.0L772.2 860.1L777.2 856.6L774.4 849.2L772.1 843.0L773.1 837.5L774.3 833.5L776.8 828.6L777.8 822.3L777.6 818.6L779.3 812.1L781.6 807.7L782.3 802.3L785.0 798.4L786.7 792.3L787.8 787.0L790.0 783.3L787.5 779.3L785.8 774.2L782.7 770.1L781.8 765.7L779.4 760.7L777.2 757.0L775.2 752.7L772.4 746.4L769.3 743.8L767.8 738.4M625.2 1298.6L620.5 1293.4L617.9 1292.4L616.1 1286.2L613.6 1284.6L608.9 1280.6L605.1 1276.5L602.6 1271.7L598.6 1270.8L594.5 1266.4L592.7 1263.1L588.4 1257.2L584.3 1253.8L582.5 1251.3M625.2 1298.6L631.4 1294.2M631.4 1294.2L632.7 1292.6M632.7 1292.6L628.8 1286.3L627.9 1282.9L624.7 1279.0L623.7 1272.8L621.6 1270.4L617.8 1263.4L616.4 1259.0L613.6 1256.7L610.3 1250.4M610.3 1250.4L604.2 1248.9L600.0 1249.4L595.6 1247.5L591.1 1245.3M582.5 1251.3L585.7 1247.9L591.1 1245.3M625.2 1298.6L622.3 1303.1L620.0 1307.7L616.6 1309.0L612.2 1315.7L610.2 1317.7L607.0 1323.1L603.5 1325.0L598.6 1331.3L597.0 1335.7L592.5 1337.6L589.1 1342.5M669.5 1378.6L665.5 1381.3L660.5 1382.1L658.5 1386.1L653.7 1387.8L649.4 1389.7L646.1 1393.2L640.5 1396.0L637.6 1399.5L633.1 1401.6L627.5 1404.1L625.6 1404.3L621.3 1408.0L616.8 1410.8L612.0 1412.9M669.5 1378.6L670.1 1385.0L667.5 1389.4L667.1 1393.0L667.3 1399.2L665.2 1404.6L663.4 1408.8L663.8 1414.6M663.8 1414.6L659.1 1413.2L655.6 1413.2L650.6 1412.7L645.8 1413.8L639.0 1412.6L636.5 1413.9L631.4 1415.0L625.4 1412.3L622.3 1412.8L616.8 1414.5L612.0 1412.9M610.6 1823.9L609.7 1817.4L609.7 1813.4L612.1 1807.4L611.8 1804.9L611.9 1796.9L610.3 1794.2L612.5 1789.2L611.0 1784.4L610.3 1777.1L611.6 1772.8M588.2 1769.7L593.5 1771.2L597.4 1771.3L602.0 1772.3L607.9 1773.2L611.6 1772.8M631.6 1903.8L631.3 1897.6L633.5 1892.9L632.3 1886.8L634.2 1882.1L633.8 1876.9L634.2 1870.1L634.1 1865.9M631.6 1903.8L626.9 1900.1L622.8 1896.1L620.7 1892.7L615.5 1888.6L613.2 1885.9L608.8 1881.4L605.1 1879.5L601.5 1875.8M601.5 1875.8L607.1 1875.3L609.6 1873.7L616.7 1872.0L620.7 1870.1L624.5 1868.9L630.0 1868.6L634.1 1865.9M598.7 1932.8L603.3 1929.9L608.0 1927.8L609.9 1924.6L613.0 1920.6L617.1 1917.3L622.4 1916.3L625.5 1911.6L630.7 1911.3L633.9 1906.8M633.9 1906.8L631.6 1903.8M633.9 1906.8L642.6 1909.0M643.0 1929.7L642.0 1923.2L641.9 1920.4L642.9 1912.6L642.6 1909.0M642.6 1909.0L647.5 1907.0L651.8 1904.8L655.8 1903.6L662.8 1902.3L667.6 1899.8L671.8 1897.2L675.6 1896.0M675.6 1896.0L677.8 1897.1M729.8 1924.8L726.2 1919.4L725.3 1917.2L721.4 1911.4L718.9 1908.7L715.8 1904.2L713.5 1899.9M677.8 1897.1L683.5 1898.6L688.3 1897.2L694.5 1898.2L699.6 1897.9L703.0 1899.2L708.3 1898.6L713.5 1899.9M774.9 1888.3L772.0 1892.4L766.8 1895.7L765.2 1898.3L761.4 1902.0L755.9 1905.8L753.4 1909.1L751.2 1910.2L747.4 1914.9L743.1 1917.7L740.1 1922.1L735.9 1925.2M729.8 1924.8L735.9 1925.2M774.9 1888.3L771.8 1882.6L769.0 1880.2L767.0 1873.7L765.6 1871.7L764.7 1866.7L760.4 1863.1L759.4 1857.2M733.6 1863.8L731.5 1868.9L727.7 1873.3L725.7 1876.8L722.2 1883.0L719.9 1886.0L719.7 1889.8L716.8 1893.9L713.5 1899.9M781.8 1893.3L784.1 1897.7L784.6 1903.4L786.3 1906.6L785.1 1911.1L788.9 1916.3L790.0 1922.9L790.0 1927.4L792.1 1931.9L791.7 1934.8L793.4 1939.8L795.0 1945.6M800.0 1950.1L795.0 1945.6M774.9 1888.3L781.8 1893.3M735.9 1925.2L740.5 1925.5L746.0 1926.8L750.8 1930.4L753.8 1930.4L757.3 1933.5L761.7 1934.7L766.3 1937.1L771.3 1936.3L776.7 1940.4L782.5 1940.3L784.8 1941.1L790.4 1944.5L795.0 1945.6M800.8 1951.5L800.0 1950.1M631.0 1016.5L625.2 1017.1L621.7 1015.3L616.6 1016.0L611.2 1014.4L606.9 1015.3L602.9 1013.8M631.0 1016.5L630.5 1011.0L628.0 1007.5L625.5 1003.1L623.1 997.9L624.0 994.3L620.4 990.1L618.2 984.2L618.1 981.6L617.1 974.4L614.4 970.9M602.9 1013.8L602.8 1007.5L605.1 1002.0L604.1 998.4L604.0 991.8L606.3 988.6L605.4 983.3L607.4 975.4L606.9 971.6M614.4 970.9L607.5 971.2M606.9 971.6L607.5 971.2M598.3 1015.8L602.9 1013.8M693.5 1265.9L696.6 1271.4L698.5 1276.8L701.7 1282.1M693.5 1265.9L689.2 1263.5L683.5 1258.1L679.6 1257.6L676.9 1252.3L671.2 1249.3L667.1 1246.8M701.7 1282.1L697.1 1282.8L693.3 1283.1L687.9 1283.0L683.9 1282.9L677.7 1280.3L672.9 1282.9L668.3 1280.7L663.5 1282.5L658.0 1280.4L654.9 1280.8L650.3 1280.9L646.0 1281.1L640.8 1280.6M640.8 1280.6L642.5 1276.2L643.5 1272.2L645.7 1265.9L649.6 1262.2L648.5 1256.6L650.3 1252.7L653.1 1247.3L655.5 1243.6M667.1 1246.8L660.4 1246.4L655.5 1243.6M741.6 1279.4L737.0 1283.5L733.5 1284.8L730.5 1288.8L727.4 1294.0L724.7 1295.4L720.5 1299.9M754.2 1330.1L750.3 1326.8L746.2 1323.2L743.7 1320.9L739.7 1317.7L735.2 1314.6L733.0 1308.7L728.3 1308.0L724.8 1302.4L720.5 1299.9M607.9 1210.6L611.9 1214.3L616.6 1217.7L617.6 1220.8L621.5 1224.6L624.8 1227.9L629.9 1229.7M607.9 1210.6L607.2 1208.6M607.2 1208.6L612.9 1207.0L614.8 1204.6L621.6 1199.8L624.8 1197.8L628.7 1196.5L633.9 1194.1L638.3 1189.8L641.3 1187.8L646.2 1185.5M629.9 1229.7L635.0 1231.1L640.4 1232.1L644.0 1235.0L648.4 1237.7L654.0 1238.9M654.0 1238.9L656.7 1234.3L656.4 1228.3L660.3 1224.5L661.8 1217.7L663.5 1211.3L664.1 1207.6M664.1 1207.6L661.5 1204.4L657.0 1198.9L654.5 1194.7L649.3 1189.2L646.2 1185.5M591.1 1245.3L592.7 1241.0L595.1 1233.9L598.0 1231.0L599.3 1224.7L602.1 1220.9L604.9 1214.2L607.9 1210.6M610.3 1250.4L614.4 1246.8L617.0 1242.2L619.4 1238.5L624.3 1236.5L626.8 1231.6L629.9 1229.7M655.5 1243.6L654.0 1238.9M634.7 1290.8L637.2 1285.9L640.8 1280.6M634.7 1290.8L632.7 1292.6M708.9 1298.5L705.1 1301.6L701.1 1307.2M704.5 1285.6L707.1 1292.9L708.9 1298.5M634.7 1290.8L638.5 1290.5L643.3 1291.6L649.9 1293.2L653.7 1295.9L656.8 1296.3L661.8 1299.2L666.9 1299.4L673.5 1299.6L677.1 1301.2L681.3 1303.0L687.4 1305.2L692.0 1305.4L694.1 1305.7L700.2 1307.5M704.5 1285.6L701.7 1282.1M700.2 1307.5L701.1 1307.2M754.2 1330.1L752.6 1337.4L753.4 1343.9M753.4 1343.9L749.1 1347.0L743.1 1349.4L739.3 1350.5L734.1 1355.8L730.9 1356.4L725.5 1360.4M720.5 1299.9L713.8 1300.3L708.9 1298.5M701.1 1307.2L701.2 1312.0L701.1 1316.4L703.8 1321.2L704.7 1326.9L702.9 1330.1L703.4 1337.3L704.6 1341.8L704.5 1347.3L707.3 1352.0L706.9 1357.4L707.0 1361.0M725.5 1360.4L720.4 1359.4L716.9 1361.9L712.2 1361.5L707.0 1361.0M673.4 1473.7L669.0 1474.2L663.7 1471.4L658.2 1471.9L655.2 1470.2L649.5 1469.0L644.4 1468.6L640.0 1468.3L635.4 1468.3L630.2 1465.2L625.0 1466.7L620.4 1465.8L618.4 1463.0L613.4 1462.7L607.5 1461.5L603.0 1461.9L598.2 1461.0M673.4 1473.7L673.1 1467.7L675.3 1461.5M675.3 1461.5L670.8 1459.5L667.6 1455.1L663.4 1454.4L659.3 1452.8L653.9 1448.6L650.4 1447.5L646.1 1442.1L641.3 1442.5L639.9 1437.8L634.5 1437.7L630.2 1433.3L625.5 1432.5L621.1 1428.2L617.8 1427.5L614.2 1423.0L610.3 1420.6L604.9 1418.1L602.3 1415.8M680.8 1452.6L677.4 1446.9L677.8 1444.2L675.7 1438.8L673.4 1432.4L670.8 1429.0L668.7 1425.3L665.0 1418.2L663.8 1414.6M680.8 1452.6L678.3 1456.0L675.3 1461.5M612.0 1412.9L605.7 1413.5L602.3 1415.8M669.1 1865.7L667.5 1860.1L664.1 1857.8L659.7 1854.5L657.0 1850.0L656.9 1844.0L652.8 1841.8L650.1 1836.9M650.1 1836.9L649.2 1833.8L646.3 1827.6M649.6 1823.9L646.3 1827.6M675.6 1896.0L675.3 1892.0L672.2 1886.5L671.9 1879.7L670.5 1874.4L671.2 1869.5L669.1 1865.7M634.1 1865.9L635.6 1860.7L639.8 1856.1L641.4 1852.9L645.4 1845.8L647.4 1841.6L650.1 1836.9M610.6 1823.9L616.9 1824.4L620.6 1825.3L627.2 1824.5L631.0 1825.5L636.2 1825.1L640.9 1827.9L646.3 1827.6M669.1 1056.1L666.6 1052.7L661.6 1050.9L658.7 1048.0L653.1 1042.9L648.8 1040.5L647.2 1035.3L640.8 1033.1L638.2 1030.3M624.1 1055.2L627.4 1050.7L631.1 1045.0L633.2 1039.8L636.4 1035.5L638.2 1030.3M669.1 1056.1L668.5 1063.1L669.8 1066.2L670.5 1071.9L671.6 1076.2L673.9 1083.2M624.1 1055.2L623.0 1059.6M623.0 1059.6L626.0 1062.2L631.0 1062.4L635.0 1065.0L640.4 1065.9L643.9 1069.7L649.4 1072.7L653.5 1073.3L658.1 1075.2L660.6 1077.4L666.3 1078.7L669.3 1082.2L673.9 1083.2M646.2 1185.5L645.5 1180.5M619.7 1142.2L623.2 1144.4M645.5 1180.5L642.9 1177.2L640.3 1171.5L637.1 1168.3L634.7 1162.5L631.8 1156.8L628.1 1154.2L625.2 1150.0L623.2 1144.4M665.5 1328.7L671.5 1328.7L674.6 1328.8M665.5 1328.7L663.5 1333.2L660.1 1338.4L659.1 1340.0L656.4 1344.4L652.8 1351.4L652.7 1354.0L648.8 1358.8M674.6 1328.8L674.9 1335.1L677.0 1340.5L679.1 1343.9L680.3 1349.9L681.2 1353.7L684.2 1360.4L684.0 1363.9L686.1 1369.3M648.8 1358.8L651.1 1363.2L656.8 1363.5L658.7 1367.5L661.5 1372.3L667.5 1375.7L670.1 1377.6M686.1 1369.3L682.8 1371.4L677.7 1374.2L673.5 1376.9M673.5 1376.9L670.1 1377.6M631.4 1294.2L634.6 1297.4L637.0 1301.1L641.1 1305.3L643.7 1308.5L649.2 1310.2L652.8 1314.7L656.3 1317.2L659.0 1322.5L661.4 1324.1L665.5 1328.7M700.2 1307.5L695.4 1309.2L692.8 1313.4L690.5 1315.7L685.2 1318.8L682.7 1321.2L678.7 1325.6L674.6 1328.8M589.1 1342.5L592.7 1342.2L599.0 1345.9L603.4 1346.5L607.2 1348.2L610.9 1348.5L618.1 1351.5L620.7 1350.6L625.1 1352.6L631.6 1354.8L634.3 1354.8L639.0 1356.6L644.0 1358.7L648.8 1358.8M699.9 1366.8L707.0 1361.0M699.9 1366.8L696.0 1369.2L691.8 1370.0L686.1 1369.3M669.5 1378.6L670.1 1377.6M706.0 1435.0L703.7 1430.9L702.4 1426.8L699.6 1423.2L696.8 1418.5L692.6 1412.6L689.7 1407.9L689.0 1403.5L687.0 1398.6L682.0 1393.2L682.0 1389.1L677.2 1387.3L675.9 1381.7L673.5 1376.9M706.0 1435.0L703.0 1439.0L699.1 1439.6L692.2 1444.5L690.7 1446.6L683.6 1450.7L680.8 1452.6M736.6 1387.4L732.2 1379.7M736.6 1387.4L732.7 1390.3L728.0 1392.9L727.3 1398.7L722.5 1401.2L719.4 1403.0L714.9 1407.9M732.2 1379.7L729.1 1383.3L723.3 1388.7L719.2 1391.6L716.0 1395.6L713.1 1400.5M714.9 1407.9L713.1 1400.5M744.4 1392.3L736.6 1387.4M725.5 1360.4L727.6 1364.9L728.2 1369.8L730.4 1376.4L732.2 1379.7M714.5 1432.4L720.7 1432.2L725.9 1434.1L730.9 1436.3M714.5 1432.4L714.2 1427.5L714.1 1422.3L713.8 1417.9L714.7 1411.2L714.9 1407.9M699.9 1366.8L701.9 1373.0L703.6 1375.3L707.0 1382.0L708.2 1387.1L710.1 1391.3L711.6 1394.7L713.1 1400.5M706.0 1435.0L714.5 1432.4M599.4 1584.5L598.6 1579.6L594.6 1573.7L594.1 1568.0L591.5 1563.4L590.7 1559.5L589.6 1554.2M635.6 1713.1L631.0 1718.3L629.0 1719.8L623.7 1723.9L621.1 1726.2L615.6 1732.5L612.1 1734.5M635.6 1713.1L634.2 1707.3L631.7 1702.0L629.1 1697.8L627.9 1694.3L624.9 1687.0L622.2 1682.9M665.6 1777.2L664.1 1773.7L658.7 1768.1L657.6 1765.9L655.0 1760.8L650.5 1756.1L648.4 1751.3L647.9 1748.4L643.8 1744.4M665.6 1777.2L659.7 1774.5L656.5 1773.6L650.0 1772.8L645.8 1772.8L640.1 1770.8L637.8 1771.5L630.6 1768.5L626.8 1768.6L621.9 1766.9L617.0 1765.5M643.8 1744.4L637.2 1745.5L633.9 1747.8L626.5 1748.8L621.1 1749.1L616.8 1749.1M617.0 1765.5L615.5 1759.9L617.1 1754.0L616.8 1749.1M664.8 1715.1L657.1 1716.4M657.1 1716.4L653.9 1722.0L652.5 1725.1L650.0 1731.4L648.1 1736.1L645.5 1741.1L643.8 1744.4M611.6 1772.8L617.0 1765.5M635.6 1713.1L641.4 1713.0L645.5 1715.8L651.8 1714.9L657.1 1716.4M612.1 1734.5L614.0 1738.7L614.0 1745.6L616.8 1749.1M674.1 1486.1L680.5 1492.9M674.1 1486.1L672.8 1478.9L673.4 1473.7M680.5 1492.9L685.4 1493.7L690.0 1497.8L697.6 1499.8L701.9 1501.1M664.8 1715.1L665.1 1710.8L666.1 1703.6L666.8 1699.4L667.9 1692.5L668.5 1688.1L670.3 1684.1L668.7 1676.8L669.8 1672.3L671.1 1668.8L672.0 1662.1M672.0 1662.1L676.9 1661.0L684.1 1657.7M629.3 1531.0L622.8 1531.9L618.7 1533.5L614.0 1535.7L607.5 1537.7M629.3 1531.0L630.0 1523.5L631.0 1520.2L632.2 1512.8M607.5 1537.7L602.4 1534.0L601.2 1532.0L596.9 1527.8L591.3 1523.8L586.7 1522.5L583.4 1518.0L580.1 1515.5M632.2 1512.8L627.7 1510.4L625.3 1507.0L620.4 1504.1L616.3 1500.8L611.7 1497.1M611.7 1497.1L606.6 1498.1L602.3 1501.4L598.3 1506.6L594.1 1508.2L589.0 1510.6L583.3 1511.7L580.1 1515.5M589.6 1554.2L591.9 1549.2L596.8 1549.1L601.1 1543.3L604.2 1540.2L607.5 1537.7M598.2 1461.0L601.4 1464.9L601.0 1472.8L602.7 1477.2L606.7 1480.6L609.4 1485.5L609.0 1491.0L611.7 1497.1M674.1 1486.1L669.4 1487.3L666.0 1490.6L661.9 1493.8L656.6 1497.2L653.6 1500.1L650.1 1500.8L644.2 1505.0L641.0 1507.8L636.3 1510.6L632.2 1512.8M645.5 1180.5L648.9 1176.4L654.3 1174.2L657.3 1171.0L661.1 1167.5L666.0 1166.2M623.2 1144.4L626.9 1144.9L632.5 1142.7L638.2 1142.4L642.4 1143.0L646.7 1143.7L652.6 1143.3M666.0 1166.2L662.2 1163.1L661.5 1155.7L659.3 1151.3L656.0 1148.0L652.6 1143.3M664.1 1207.6L670.3 1205.5L676.4 1203.5L680.5 1200.2M667.1 1246.8L670.7 1245.0L674.8 1243.7L681.0 1241.8L684.0 1238.7L688.8 1237.1L693.4 1234.0M680.5 1200.2L682.1 1204.1L683.1 1208.9L687.1 1215.8L689.1 1220.1L689.9 1223.0L690.2 1229.2L693.4 1234.0M710.4 1158.8L705.5 1160.7L699.3 1160.7L694.6 1162.5L691.0 1161.1L686.5 1163.4L681.9 1163.3L674.9 1165.7L671.0 1164.4L666.0 1166.2M710.4 1158.8L709.5 1165.0L707.4 1170.8L708.1 1173.3L708.0 1179.8L705.5 1185.2M680.5 1200.2L684.3 1198.0L687.8 1193.7L691.9 1192.8L696.2 1191.6L700.4 1188.0L705.5 1185.2M693.5 1265.9L697.3 1263.2L698.7 1255.9L701.2 1252.0L703.0 1247.8L705.9 1243.0L707.8 1241.1L711.4 1236.2L713.4 1231.6M713.4 1231.6L706.9 1233.7L703.5 1231.6L697.5 1232.8L693.4 1234.0M744.3 1245.8L736.7 1243.4L732.2 1240.4M732.2 1240.4L729.1 1235.3L723.9 1231.8L720.4 1226.9M720.4 1226.9L720.7 1222.8L720.5 1214.7L719.1 1210.5M741.6 1279.4L743.2 1274.9L741.6 1268.2L744.3 1262.1L744.6 1255.4L745.1 1253.0L744.3 1245.8M704.5 1285.6L706.9 1281.0L710.6 1277.5L711.6 1274.1L713.5 1267.6L718.4 1266.6L718.6 1260.3L722.7 1258.2L724.3 1254.0L726.8 1247.4L729.8 1243.7L732.2 1240.4M713.4 1231.6L720.4 1226.9M705.5 1185.2L708.4 1189.6L710.1 1194.8L713.2 1201.3L716.4 1206.6L719.1 1210.5M799.1 1028.1L799.2 1021.4L799.5 1017.9L800.1 1011.1M618.0 1065.7L615.1 1070.4L613.6 1077.6L614.6 1080.4L613.1 1086.1L610.2 1093.8L608.5 1098.0M618.0 1065.7L613.1 1062.8L608.8 1059.4L605.9 1059.4L601.5 1055.8L598.3 1052.8L593.1 1051.1M587.9 1053.7L593.1 1051.1M587.9 1053.7L588.1 1059.7L589.0 1065.5L591.3 1068.3L590.8 1074.0L594.6 1078.6L595.2 1085.1L595.9 1090.3L596.6 1095.0M596.6 1095.0L601.8 1095.8L608.5 1098.0M620.7 1113.3L623.8 1110.8L628.0 1109.9L634.4 1107.1L636.8 1106.1L642.8 1103.9L646.6 1100.2L649.3 1100.6L653.4 1096.4L657.6 1097.0L664.3 1094.0L668.3 1092.7L671.3 1090.7L675.8 1087.6M673.9 1083.2L675.8 1087.6M623.0 1059.6L618.0 1065.7M620.7 1113.3L618.0 1110.9L615.8 1106.2L612.0 1103.1L608.5 1098.0M599.3 1035.3L604.2 1038.5L607.9 1040.4L611.5 1046.1L616.3 1047.7L619.9 1050.9L624.1 1055.2M599.3 1035.3L596.9 1041.9L595.6 1046.9L593.1 1051.1M598.3 1015.8L598.2 1023.9L600.2 1027.6L599.3 1035.3M619.7 1142.2L621.2 1135.0L621.1 1131.5L621.4 1124.1L620.9 1118.1L620.7 1113.3M651.9 955.2L646.7 953.7L640.8 951.9M614.4 970.9L619.4 970.5L624.3 967.6M624.3 967.6L628.2 963.6L632.3 959.2L635.9 955.2L640.8 951.9M775.1 1009.5L779.1 1010.5L786.2 1008.8L789.7 1011.3L796.0 1009.9L800.1 1011.1M775.1 1009.5L770.1 1010.7L766.3 1009.3L761.5 1012.5L754.7 1012.5L752.0 1014.0L745.7 1012.2L740.9 1012.8L734.4 1015.1L730.9 1015.4M799.1 1028.1L793.9 1033.1L792.1 1036.8L787.2 1038.4L783.2 1042.9M777.4 1043.0L772.6 1041.6L768.0 1038.2L765.7 1036.2L760.1 1034.8L757.4 1030.7L753.2 1030.7L747.9 1028.4L742.4 1026.6L739.9 1024.9L736.6 1020.5L731.2 1018.8M783.2 1042.9L777.4 1043.0M730.9 1015.4L731.2 1018.8M701.9 1501.1L702.8 1505.8L704.6 1511.6L703.2 1514.7L704.7 1520.8L704.5 1524.3L706.1 1530.3L707.9 1536.1L706.1 1540.7L707.3 1545.7L708.9 1550.6M680.5 1492.9L680.5 1498.7L679.0 1502.3L678.3 1508.6L679.8 1514.1L679.6 1520.5L677.4 1525.3L679.6 1530.6L678.2 1536.0L676.3 1540.1L677.5 1546.1M708.9 1550.6L704.0 1549.2L697.9 1549.7L692.0 1549.0L689.5 1546.3L682.8 1547.3L677.5 1546.1M677.5 1546.1L675.9 1549.4L670.0 1554.6L669.6 1556.0L664.6 1561.8L662.2 1564.7M629.3 1531.0L630.5 1536.7L633.6 1541.9L634.2 1545.8L636.5 1550.8L637.4 1554.1L641.2 1559.4L641.7 1565.2L644.5 1568.6M662.2 1564.7L656.4 1566.8L651.6 1567.4L644.5 1568.6M599.4 1584.5L605.0 1584.2L610.5 1582.4L614.3 1582.0L619.7 1583.8L623.1 1581.5L628.1 1582.0L633.3 1581.3M633.3 1581.3L638.7 1579.5M644.5 1568.6L641.9 1573.7L638.7 1579.5M826.1 1061.3L824.1 1063.6L821.0 1068.1L817.2 1072.5L812.7 1074.9L811.5 1078.9L806.7 1083.5L804.4 1087.6L800.8 1090.6M803.7 1095.4L800.8 1090.6M783.2 1042.9L786.1 1047.9L786.2 1052.5L786.9 1058.6L790.5 1063.6L790.7 1068.0L792.1 1074.5L793.6 1078.6L796.3 1082.8L796.6 1088.8M796.6 1088.8L800.8 1090.6M713.1 1152.6L713.5 1146.9L711.5 1140.8L711.7 1135.8L711.1 1128.9L710.5 1124.6M713.1 1152.6L716.8 1155.8L722.2 1156.2L724.6 1157.3L729.8 1160.5L734.6 1161.9L739.4 1164.0L743.1 1165.9L747.4 1166.3L753.4 1170.8L758.0 1171.4L760.4 1172.0L766.3 1173.6L770.4 1176.7L774.0 1178.5M774.0 1178.5L772.4 1174.1L773.5 1169.5L772.8 1163.4L772.1 1158.9L771.0 1153.6L771.4 1150.2L771.9 1144.8L769.9 1139.3L769.0 1133.8L769.7 1129.5M769.7 1129.5L766.1 1128.0L762.1 1122.6L757.5 1121.4L755.6 1117.8L751.1 1113.3L745.8 1110.0L742.4 1108.3L740.7 1106.1L736.1 1101.6M710.5 1124.6L711.8 1118.2L710.9 1113.8L713.3 1107.8M713.3 1107.8L719.9 1102.7M719.9 1102.7L725.5 1102.9L730.7 1102.1L735.3 1101.5M735.3 1101.5L736.1 1101.6M710.4 1158.8L713.1 1152.6M652.6 1143.3L657.3 1140.9L662.1 1139.5L665.5 1139.6L670.0 1136.6L674.9 1136.0L678.6 1134.2L683.7 1133.9L688.6 1131.9L691.7 1131.1L698.1 1130.4L701.8 1128.0L705.2 1125.6L710.5 1124.6M796.6 1088.8L792.4 1088.3L788.8 1090.3L782.8 1091.0L777.8 1092.9L771.9 1094.4L769.2 1095.5L763.3 1095.5L760.5 1095.1L754.8 1097.4L750.4 1098.7L745.8 1099.3L741.6 1100.8L736.1 1101.6M675.8 1087.6L680.3 1090.6L684.9 1091.4L689.4 1093.5L691.4 1098.1L695.2 1099.1L700.3 1101.0L705.0 1103.7L709.7 1104.4L713.3 1107.8M679.5 1038.1L685.0 1036.4L689.5 1036.3L693.0 1036.6L699.0 1036.8L703.8 1034.3L706.8 1036.0L711.2 1034.6L716.6 1033.7L720.2 1033.1L725.9 1032.1M725.9 1032.1L725.6 1038.3L725.5 1041.9L726.0 1046.3L723.3 1051.7L724.1 1056.9L723.0 1061.5L722.4 1068.3L721.6 1073.1L721.7 1076.0L721.8 1082.8L721.2 1087.4L719.8 1093.4L720.2 1097.8L719.9 1102.7M669.1 1056.1L670.8 1050.0L675.7 1046.4L675.5 1041.6L679.5 1038.1M725.9 1032.1L728.1 1024.5L731.2 1018.8M777.4 1043.0L773.0 1046.4L771.0 1050.9L769.5 1055.8L765.4 1058.0L762.5 1061.1L759.8 1066.4L758.5 1070.8L755.8 1075.0L753.0 1079.5L747.9 1083.2L747.4 1084.8L744.6 1088.7L741.9 1092.4L738.2 1098.0L735.3 1101.5M747.1 985.7L753.2 984.9L757.8 983.1L762.6 982.6M762.6 982.6L766.9 982.1L773.5 979.3L776.7 978.6M692.0 982.4L697.4 986.6L699.8 989.0L705.8 991.2L709.7 994.2L712.4 995.6L717.3 1000.7L719.7 1001.7L726.5 1004.1L729.1 1008.1M729.1 1008.1L732.6 1003.2L735.9 1001.9L738.9 997.8L740.4 991.9L743.4 988.9L747.1 985.7M706.3 940.0L705.6 945.6L701.9 950.8L700.2 952.9L698.6 958.2L698.3 962.1L695.6 966.6L694.2 972.9L693.9 977.3L692.0 982.4M729.1 1008.1L730.9 1015.4M775.1 1009.5L773.6 1005.6L772.1 1001.7L768.1 996.2L767.2 992.1L764.3 986.4L762.6 982.6M678.1 984.9L673.1 988.9L669.8 989.9L665.8 994.2L662.2 994.3L657.3 998.7L654.8 1000.5L649.7 1004.2L645.0 1005.8M678.1 984.9L679.4 985.1M679.4 985.1L677.8 991.2L678.2 996.2L678.8 1000.2L678.5 1005.9L679.0 1009.9L676.7 1016.2L677.6 1021.3L677.5 1024.7M677.5 1024.7L673.9 1026.1L667.6 1027.1L663.6 1025.2L657.0 1027.8L654.4 1027.0L648.8 1030.1L642.6 1029.7L638.1 1029.7M645.0 1005.8L640.6 1008.5L638.6 1013.2L635.1 1017.8M635.1 1017.8L635.9 1024.1L638.1 1029.7M624.3 967.6L626.6 972.8L628.3 975.5L631.3 979.8L632.3 984.6L635.1 989.5L639.5 991.6L641.6 998.5L643.3 1000.8L645.0 1005.8M651.9 955.2L653.6 959.7L659.4 962.5L661.2 966.5L664.8 971.1L669.2 972.3L670.9 976.7L675.7 982.7L678.1 984.9M692.0 982.4L686.7 984.9L679.4 985.1M679.5 1038.1L679.7 1032.1L677.5 1024.7M638.2 1030.3L638.1 1029.7M631.0 1016.5L635.1 1017.8M644.3 1635.1L639.7 1634.4L634.0 1634.4L628.4 1630.5L622.4 1632.1L619.5 1630.8L613.1 1629.0M644.3 1635.1L645.9 1638.8L647.7 1646.1L651.2 1650.0L654.0 1655.8M654.0 1655.8L651.1 1657.6M647.9 1601.9L647.1 1597.6L643.9 1592.0L643.3 1589.4L641.4 1582.8L638.7 1579.5M647.9 1601.9L646.7 1606.2L646.1 1612.6L645.3 1619.5L645.4 1623.6L644.2 1628.0L644.3 1635.1M633.3 1581.3L631.0 1587.4L628.4 1590.2L627.3 1594.2L625.2 1601.9L623.2 1606.4L622.5 1610.5L619.1 1613.2L617.4 1618.6L615.9 1624.1L613.1 1629.0M672.0 1662.1L667.8 1660.2L662.3 1660.0L659.2 1656.9L654.0 1655.8M622.2 1682.9L624.7 1679.6L630.5 1677.7L634.3 1674.4L637.2 1669.7L638.7 1667.7L645.1 1662.8L648.7 1660.8L651.1 1657.6M695.8 1587.5L695.3 1593.5L696.8 1598.9L697.1 1601.0L699.4 1605.6L698.2 1612.3L699.6 1616.8M703.1 1623.1L699.6 1616.8M662.2 1564.7L667.8 1566.5L671.0 1571.9L674.6 1574.0L680.0 1575.0L682.8 1579.4L687.9 1580.6L691.5 1586.1L695.8 1587.5M647.9 1601.9L651.8 1603.1L656.3 1605.6L662.8 1606.1L665.4 1608.8L671.6 1607.5L675.8 1611.0L679.4 1610.6L685.9 1612.0L690.5 1614.5L695.1 1616.8L699.6 1616.8M684.1 1657.7L687.5 1652.1L689.7 1647.8L691.5 1644.9L694.1 1641.8L697.1 1636.6L697.5 1631.2L699.7 1626.8L703.1 1623.1M746.6 939.4L749.7 936.6L753.8 932.8L759.0 928.9L761.4 925.1L766.5 920.9L769.6 916.4L772.8 920.9L775.9 925.2L779.8 929.9L781.5 935.8L781.8 940.2L781.9 945.2L783.5 951.7L784.9 957.1L789.2 960.6L793.9 963.6L797.6 968.0L795.8 973.8L791.7 979.2L790.0 984.3L791.6 989.7L793.1 994.6L794.6 998.2L798.1 1003.4L799.7 1007.5L800.2 1011.3L802.7 1016.9L804.6 1021.8L805.7 1026.9L807.8 1033.4L810.4 1038.6L813.6 1042.3L818.2 1046.5L820.7 1052.1L825.4 1055.6L828.3 1060.3L829.2 1065.6L830.6 1069.5L833.1 1074.2L833.4 1079.3L830.4 1081.8L826.2 1084.0L821.0 1088.3L818.8 1089.5L813.9 1092.4L810.6 1095.0L806.6 1098.6L801.8 1101.5L798.2 1103.6L795.1 1106.5L795.7 1111.7L795.6 1116.3L796.5 1122.3L795.4 1126.5L797.0 1131.8L796.4 1137.1L798.0 1141.1L797.6 1147.2L795.7 1153.5L792.7 1157.4L791.4 1163.9L788.6 1169.7L787.4 1174.4L785.4 1179.0L782.7 1184.3L781.6 1188.7L779.5 1192.7L777.2 1196.6L775.0 1201.4L773.4 1206.8L772.4 1209.9L769.6 1215.1L767.3 1220.2L766.1 1225.0L764.2 1231.5L762.6 1235.4L760.9 1241.6L759.0 1246.1L757.9 1251.8L756.8 1255.9L755.6 1260.8L754.0 1265.7L752.4 1271.7L750.9 1278.1L749.2 1283.0L750.1 1289.1L751.4 1292.4L752.3 1297.6L752.4 1302.7L754.3 1307.9L754.1 1313.5L755.1 1319.6L756.8 1323.8L757.2 1329.0L755.8 1333.6L757.1 1340.4L757.1 1344.9L756.8 1350.9L756.3 1356.7L754.2 1360.4L753.4 1365.3L752.5 1370.6L752.3 1377.5L750.7 1382.4L750.3 1385.6L749.2 1391.7L747.9 1397.8L745.2 1402.7L743.9 1408.7L744.1 1413.2L741.5 1418.9L739.3 1423.1L738.3 1429.5L737.6 1434.8L735.8 1439.3L735.8 1444.6L734.7 1449.9L732.0 1454.0L731.3 1459.6L730.5 1463.9L729.6 1470.5L728.4 1474.9L728.1 1480.3L728.2 1484.6L727.2 1490.1L727.7 1495.1L726.2 1500.3L724.5 1505.1L723.0 1510.8L719.6 1514.7L718.0 1521.5L716.2 1524.9L715.0 1531.1L711.9 1534.9L710.9 1541.1L712.2 1545.8L711.0 1551.2L712.7 1557.3L711.9 1560.9L712.6 1566.2L712.5 1571.8L713.2 1576.5L713.4 1581.8L713.1 1586.8L713.9 1592.0L712.6 1597.3L714.3 1601.9L714.4 1606.9L713.6 1613.1L714.3 1617.2L713.4 1622.6L714.6 1628.5L715.3 1632.9L717.5 1638.1L718.8 1643.3L719.8 1647.0L722.0 1652.8L723.4 1657.3L723.6 1663.3L721.7 1669.1L720.2 1672.6L719.0 1678.6L717.4 1682.7L714.8 1687.9L713.8 1694.2L711.7 1698.8L710.9 1704.1L708.9 1708.4L707.3 1713.2L704.5 1717.4L703.6 1723.1L700.7 1726.1L698.9 1731.2L697.9 1735.5L695.2 1740.6L693.0 1744.8L690.3 1748.9L687.3 1753.1L686.2 1759.1L682.1 1762.8L679.8 1766.2L677.2 1770.7L674.7 1776.7L672.6 1780.1L673.8 1786.3L675.0 1790.3L677.1 1797.2L678.6 1802.6L679.5 1806.6L680.3 1812.7L682.6 1817.9L686.0 1822.0L689.8 1826.3L692.6 1831.6L695.0 1835.3L698.1 1839.9L701.3 1843.8L704.6 1849.0L708.3 1853.4L713.5 1852.9L718.7 1854.4L722.1 1855.1L727.9 1854.5L732.0 1853.7L736.3 1853.8L742.0 1854.2L745.8 1854.2L750.7 1856.2L754.6 1854.8L760.2 1856.0L764.7 1855.3L769.6 1856.2L773.2 1856.7L778.0 1857.1L783.1 1857.9L787.4 1860.4L792.8 1861.3L797.6 1861.6L794.3 1865.3L792.5 1869.7L792.1 1875.4L792.8 1881.1L792.7 1886.3L793.2 1890.8L792.6 1896.2L792.5 1901.3L792.2 1906.9L791.9 1910.9L793.0 1916.0L792.6 1922.9L793.0 1927.0L792.5 1932.2L796.6 1934.2L800.7 1935.6L805.7 1937.8L809.5 1939.4L814.8 1941.9L818.9 1944.1L823.8 1945.6L828.6 1948.0L832.4 1949.3L836.0 1952.3L840.8 1954.9L845.1 1956.0L849.3 1957.4L854.1 1959.5L858.9 1962.1L853.4 1962.2L848.8 1963.1L844.4 1962.3L840.0 1961.5L835.0 1961.2L830.9 1962.7L826.4 1962.8L822.2 1961.9L817.5 1962.8L813.7 1961.2L809.3 1962.3L803.1 1962.1L799.8 1961.2L795.3 1962.5L789.9 1962.8L786.1 1962.4L780.3 1963.1L776.9 1961.7L772.2 1962.8L766.1 1961.2L761.3 1962.5L757.7 1961.7L752.8 1961.8L747.7 1962.4L743.4 1961.9L738.8 1961.7L734.9 1962.7L730.9 1962.1L725.0 1961.2L720.4 1961.6L716.8 1961.9L712.6 1961.1L707.0 1962.9L703.3 1963.2L698.5 1962.0L692.3 1961.5L688.5 1962.4L684.3 1962.0L679.4 1961.5L674.4 1962.6L670.9 1961.0L664.8 1961.7L660.3 1963.2L656.9 1961.3L652.4 1962.3L647.3 1962.6L642.2 1961.5L637.9 1963.2L632.4 1961.3L629.3 1961.2L623.5 1962.2L620.6 1962.5L615.4 1962.0L609.7 1962.1L606.6 1961.9L602.0 1962.9L596.5 1962.2L591.3 1961.6L586.7 1963.0L582.4 1962.2L578.2 1962.1L578.5 1956.7L577.7 1952.4L578.4 1946.9L579.1 1941.8L579.0 1937.2L578.5 1931.8L579.1 1927.3L577.6 1922.1L577.9 1919.0L577.2 1914.0L579.2 1908.2L577.5 1903.8L579.0 1898.6L578.4 1894.1L578.0 1888.8L577.5 1882.9L578.6 1878.7L578.1 1875.1L578.9 1869.8L577.2 1864.9L577.4 1858.5L577.2 1853.4L579.2 1848.8L578.9 1844.1L578.0 1838.7L578.3 1835.9L578.8 1829.4L577.2 1826.1L578.3 1820.9L578.9 1814.6L578.0 1811.5L578.6 1804.5L579.2 1801.7L577.7 1796.6L578.7 1790.6L578.9 1787.0L577.4 1780.4L577.5 1775.2L578.2 1771.7L577.8 1765.3L577.8 1761.1L577.5 1756.3L577.9 1750.8L579.2 1747.3L579.1 1742.5L577.4 1736.3L577.3 1732.0L577.4 1727.6L579.2 1722.6L578.7 1717.5L578.9 1712.5L578.8 1708.7L577.5 1703.5L578.4 1698.8L577.5 1694.1L578.7 1688.4L578.6 1682.3L578.9 1678.9L578.5 1673.8L577.5 1667.7L578.5 1663.5L578.7 1659.3L578.0 1654.0L577.6 1649.6L579.0 1643.1L579.2 1638.4L579.0 1635.0L578.4 1630.1L578.9 1623.5L579.2 1620.6L578.0 1615.4L577.3 1609.4L577.5 1605.6L578.7 1599.1L577.7 1595.9L578.1 1589.5L578.7 1584.8L579.2 1579.7L578.1 1576.3L579.0 1571.6L577.6 1566.4L578.0 1559.9L578.8 1556.4L579.2 1552.0L577.7 1546.8L578.4 1542.0L577.4 1535.6L578.0 1532.3L578.5 1526.9L578.8 1522.2L579.0 1517.0L578.1 1511.4L578.5 1506.3L579.0 1502.0L578.0 1498.2L578.9 1492.7L577.8 1487.5L577.4 1481.9L577.5 1478.5L578.1 1473.5L578.9 1467.7L577.3 1464.2L578.3 1459.3L578.4 1454.4L577.6 1448.7L577.9 1444.1L578.2 1437.7L578.6 1433.1L578.7 1428.3L578.8 1424.4L577.3 1419.3L578.7 1414.5L578.5 1409.8L579.0 1403.9L578.0 1400.2L578.1 1395.3L578.6 1389.3L578.1 1385.1L578.1 1380.0L578.0 1375.0L578.6 1369.2L578.2 1364.3L577.7 1361.2L578.8 1356.3L579.1 1349.6L577.2 1345.6L577.3 1341.4L578.0 1335.7L578.9 1331.6L577.2 1325.4L578.3 1322.3L577.6 1317.0L578.8 1311.8L579.1 1306.6L579.2 1301.4L577.8 1297.0L577.7 1292.3L578.9 1286.5L577.5 1282.2L577.6 1277.0L577.6 1272.1L579.1 1266.5L577.9 1261.5L578.9 1257.8L577.2 1252.2L578.3 1246.9L577.9 1243.5L577.6 1239.1L577.5 1233.8L577.8 1228.2L577.5 1223.0L578.3 1219.5L577.3 1214.5L579.2 1209.1L578.2 1204.0L579.1 1198.3L577.6 1194.5L577.3 1188.9L578.4 1185.3L578.3 1179.5L578.1 1174.6L578.7 1169.0L577.3 1163.8L578.5 1160.4L578.1 1154.1L578.7 1151.0L579.2 1144.2L577.2 1140.7L577.6 1134.4L578.5 1129.9L578.8 1126.6L577.6 1120.6L578.2 1116.0L578.5 1110.8L577.7 1106.4L577.8 1100.3L578.4 1096.5L577.8 1091.3L577.3 1086.3L579.0 1080.6L577.4 1076.9L577.5 1072.1L577.8 1067.0L579.2 1062.2L578.3 1056.9L577.3 1052.2L577.6 1048.2L579.0 1042.3L578.4 1036.7L578.6 1032.2L578.7 1027.4L578.0 1022.5L578.6 1016.9L578.0 1012.7L577.4 1007.5L577.4 1003.9L578.2 999.5L578.9 994.3L578.4 989.6L578.7 984.5L578.8 979.6L578.1 974.3L579.1 969.1L577.4 964.2L578.3 959.5L577.5 955.4L578.2 949.3L577.3 944.3L577.2 939.6L577.7 935.9L578.2 929.9L583.1 931.1L587.0 931.2L591.8 930.8L596.2 930.3L600.6 932.0L606.2 931.3L610.0 931.0L615.3 931.2L620.3 933.3L625.0 932.5L630.6 932.8L634.6 933.2L638.4 933.4L644.1 933.1L649.2 934.0L652.5 934.7L658.3 933.4L662.0 934.7L668.0 934.8L671.8 934.6L676.0 934.5L680.5 935.8L686.5 936.0L690.6 936.3L694.5 936.1L700.0 936.0L704.5 936.5L709.8 937.3L713.9 937.2L717.9 938.4L722.7 937.9L728.3 938.3L732.5 938.2L737.1 939.5L742.3 938.8L746.6 939.4M824.6 1096.7L823.9 1100.1L821.0 1105.5L821.1 1112.6L819.1 1115.9L817.6 1120.9L813.9 1126.3L814.3 1130.3L811.4 1134.4L809.5 1140.5L808.1 1145.4M836.7 1086.1L834.1 1089.5L827.9 1094.5L824.6 1096.7M836.7 1086.1L833.3 1078.9L833.2 1073.4L830.9 1067.9M804.5 1206.8L809.4 1204.7L812.3 1200.7L814.3 1198.3L818.6 1193.5L822.8 1190.2L825.8 1188.4L829.0 1185.3L834.3 1180.9L837.0 1178.8L839.2 1174.5L844.3 1171.4M844.3 1171.4L840.0 1169.7L835.0 1166.4L833.3 1162.8L829.6 1161.3L822.8 1156.8L818.7 1153.2L816.9 1151.2L812.3 1146.9L808.1 1145.4M862.5 1221.0L862.8 1216.9L862.5 1212.2L860.7 1207.0L859.3 1200.5L859.4 1195.2L856.3 1190.2L855.6 1185.2L856.5 1180.4L854.3 1176.0L854.7 1171.9M862.5 1221.0L866.3 1220.7L872.2 1219.1L874.9 1217.7L878.8 1217.1L885.2 1213.8L889.6 1213.1L893.5 1212.3L897.1 1211.6L901.4 1210.2L906.2 1207.5L911.1 1206.6L914.2 1203.3L920.2 1203.2M921.6 1176.4L923.2 1182.9L925.8 1186.1L925.7 1192.8M921.6 1176.4L917.8 1175.0L912.6 1175.9L907.7 1174.9L901.4 1172.8L897.0 1172.1L894.2 1171.5L888.2 1169.8L884.8 1171.7L878.5 1170.3L873.5 1169.0L870.0 1169.8L863.3 1168.3L860.0 1167.0M860.0 1167.0L854.7 1171.9M920.2 1203.2L922.5 1196.9L925.7 1192.8M844.3 1171.4L849.4 1170.4L854.7 1171.9M870.7 1099.8L866.6 1097.0L860.4 1095.2L857.5 1092.3L852.1 1093.0L847.9 1090.5L841.7 1089.3L836.7 1086.1M870.7 1099.8L868.8 1105.2L867.6 1109.3L868.4 1116.2L867.0 1120.5L867.3 1126.8L866.3 1132.1L866.4 1135.1L863.8 1141.0L862.3 1147.5L862.5 1151.3L861.0 1155.7L859.4 1162.3L860.0 1167.0M877.0 1098.1L880.9 1092.9L883.4 1088.4L887.3 1085.9L889.1 1082.2L894.0 1076.1L896.8 1071.7L899.0 1068.4L901.6 1063.4L905.4 1059.8M870.7 1099.8L877.0 1098.1M903.1 1236.3L907.8 1231.4L909.6 1228.0L914.0 1223.4L917.8 1219.9L919.6 1217.4M920.2 1203.2L921.3 1210.9L919.6 1217.4M927.2 1160.1L926.4 1155.0L923.8 1151.5L921.4 1148.1L917.8 1143.2L914.2 1138.1L912.1 1133.5L910.7 1127.8L909.5 1122.7L906.3 1119.8M877.0 1098.1L880.7 1100.8L885.0 1104.8L889.5 1106.8L892.3 1111.8L898.1 1112.0L902.7 1116.2L906.3 1119.8M921.6 1176.4L923.3 1170.3L924.6 1165.9L927.2 1160.1M828.3 1060.3L831.1 1056.8L836.4 1053.4L840.0 1049.3L841.9 1044.0L845.8 1041.7L850.8 1036.7L853.8 1033.2L859.4 1037.2L864.0 1041.3L868.8 1042.1L874.5 1043.3L878.9 1044.6L883.5 1045.3L889.1 1045.7L894.6 1046.7L897.5 1051.6L899.1 1055.5L902.3 1060.3L906.8 1057.9L911.5 1055.8L915.5 1051.5L918.9 1049.8L923.6 1047.4L927.4 1045.0L930.3 1041.2L935.4 1038.6L940.3 1041.7L944.4 1044.0L944.7 1049.0L946.8 1053.2L947.0 1058.3L948.8 1063.4L949.7 1068.0L949.4 1073.4L950.6 1078.7L951.9 1082.8L952.9 1087.1L953.3 1092.9L953.8 1098.8L956.0 1103.1L958.0 1109.3L959.0 1113.4L960.2 1117.6L961.5 1122.9L963.0 1129.0L964.9 1133.4L966.1 1139.1L964.5 1144.4L963.9 1149.8L963.2 1154.3L962.5 1160.7L961.3 1165.6L960.9 1169.4L960.5 1174.5L958.6 1179.8L957.9 1186.9L958.0 1190.7L956.6 1195.7L955.8 1201.6L956.8 1206.8L955.3 1211.1L956.4 1217.2L956.8 1221.2L956.5 1227.1L956.7 1232.7L956.0 1237.6L955.8 1242.3L951.5 1241.8L946.4 1242.5L941.8 1242.2L937.0 1242.1L932.4 1241.6L927.7 1241.9L922.2 1241.3L917.5 1243.4L913.1 1243.3L908.3 1241.3L902.2 1242.5L897.1 1241.3L892.6 1241.7L887.9 1241.2L883.8 1242.4L878.9 1242.0L874.5 1243.3L868.1 1243.1L864.0 1242.3L861.4 1238.4L857.2 1235.3L853.8 1230.5L850.4 1225.8L847.6 1222.8L843.0 1218.9L840.0 1215.2L837.4 1211.8L833.4 1207.0L828.7 1208.1L824.8 1208.9L819.7 1208.2L815.3 1209.8L810.5 1210.0L805.0 1212.0L800.5 1212.6L795.8 1213.0L791.9 1213.9L786.1 1215.0L782.3 1215.1L783.0 1209.1L782.8 1205.4L783.6 1199.8L784.8 1195.3L785.4 1190.1L785.5 1184.8L787.1 1179.9L787.4 1174.4L789.5 1168.5L791.0 1162.7L793.5 1157.6L796.1 1152.8L797.6 1147.2L797.2 1141.3L797.4 1136.2L795.7 1132.2L796.1 1127.3L796.1 1121.8L796.2 1117.0L796.2 1111.0L795.1 1106.5L797.9 1104.1L801.8 1100.5L805.8 1099.2L810.5 1096.5L814.2 1093.6L818.1 1089.6L821.9 1087.2L826.0 1083.9L829.3 1082.0L833.4 1079.3L831.4 1075.5L831.6 1070.8L830.0 1064.2L828.3 1060.3M828.3 1060.3L831.1 1056.8L834.7 1051.7L839.7 1047.9L842.6 1044.5L847.2 1041.2L849.3 1037.1L853.8 1033.2L858.6 1036.3L864.0 1041.3L869.9 1041.9L873.7 1043.3L879.1 1044.7L884.2 1045.2L890.4 1045.9L894.6 1046.7L896.4 1051.1L899.2 1055.6L902.3 1060.3L906.7 1058.0L911.5 1054.9L915.0 1053.0L918.4 1050.3L923.2 1046.5L926.8 1044.6L930.8 1040.8L935.4 1038.6L939.5 1041.1L944.4 1044.0L947.4 1047.6L952.5 1050.8L956.7 1054.2L959.4 1056.9L963.6 1061.1L967.6 1063.1L970.3 1066.5L975.7 1070.0L978.3 1073.4L981.7 1076.4L986.5 1079.3L990.8 1082.7L994.7 1084.8L998.4 1088.3L1001.6 1090.7L1005.6 1093.5L1008.8 1095.0L1014.0 1098.6L1018.1 1101.2L1021.7 1102.8L1024.7 1106.5L1027.9 1110.6L1032.7 1115.2L1035.8 1117.7L1038.6 1122.8L1043.9 1125.6L1047.6 1130.0L1050.3 1133.7L1050.3 1138.2L1051.4 1142.5L1052.1 1148.2L1054.1 1153.3L1053.5 1158.2L1054.2 1163.9L1056.0 1168.6L1057.4 1172.0L1056.3 1177.1L1057.9 1182.5L1062.2 1184.0L1068.5 1184.5L1072.5 1184.6L1076.2 1184.1L1081.8 1185.7L1086.5 1187.0L1091.7 1187.4L1095.8 1187.2L1101.3 1188.0L1107.1 1187.3L1110.6 1186.2L1116.8 1185.0L1121.7 1185.3L1124.3 1181.7L1127.8 1176.9L1128.4 1171.5L1132.0 1167.0L1134.8 1163.0L1136.1 1158.5L1139.4 1154.3L1142.9 1150.8L1144.0 1145.9L1147.7 1141.2L1149.8 1136.4L1154.9 1136.4L1161.3 1136.1L1167.6 1136.4L1170.9 1140.9L1173.4 1147.2L1175.3 1152.7L1174.5 1158.8L1173.3 1164.4L1172.7 1169.5L1171.9 1173.6L1170.2 1179.8L1166.7 1182.5L1160.8 1185.0L1157.5 1188.0L1154.1 1190.4L1149.5 1192.5L1144.5 1193.9L1140.6 1197.8L1136.2 1199.3L1132.8 1202.2L1127.0 1205.0L1123.1 1207.2L1119.1 1209.7L1116.1 1214.1L1112.9 1217.2L1110.3 1221.0L1105.6 1225.3L1103.2 1228.8L1099.7 1231.5L1096.8 1236.2L1092.3 1239.5L1090.1 1242.1L1086.2 1246.4L1083.6 1249.4L1078.9 1254.0L1075.9 1257.0L1073.2 1261.3L1072.7 1267.4L1071.9 1271.4L1071.6 1276.9L1071.1 1282.0L1070.5 1287.5L1069.0 1292.5L1068.1 1296.6L1066.1 1301.8L1064.6 1306.6L1062.0 1310.9L1059.0 1317.1L1057.9 1321.1L1057.1 1326.4L1057.3 1332.1L1055.1 1337.1L1055.5 1340.5L1055.3 1345.7L1053.7 1351.8L1053.3 1356.6L1052.8 1361.8L1055.6 1366.5L1057.4 1369.7L1060.5 1373.2L1062.9 1378.2L1065.9 1382.4L1067.3 1385.6L1070.4 1391.3L1074.1 1394.9L1076.2 1398.9L1078.0 1401.6L1081.3 1407.6L1082.8 1411.6L1086.9 1413.7L1088.5 1418.9L1090.3 1422.4L1092.9 1428.0L1095.2 1433.0L1097.4 1436.7L1099.9 1441.3L1101.3 1445.0L1103.3 1451.4L1106.5 1454.8L1107.7 1459.0L1109.0 1464.3L1112.3 1467.8L1114.0 1473.2L1110.5 1474.3L1104.7 1476.4L1101.1 1478.3L1096.8 1479.9L1092.7 1481.3L1087.8 1481.8L1082.5 1484.3L1080.0 1485.5L1074.0 1487.2L1070.4 1488.9L1065.2 1490.7L1061.1 1490.9L1057.5 1492.9L1053.5 1494.6L1047.7 1496.1L1043.1 1497.2L1040.7 1499.0L1035.1 1501.5L1029.9 1502.3L1025.6 1503.3L1023.1 1506.4L1018.7 1507.5L1014.4 1509.7L1008.1 1511.2L1004.1 1512.7L1001.1 1513.8L995.3 1515.5L992.3 1516.6L988.1 1517.5L983.1 1520.3L977.5 1520.6L974.3 1522.1L969.9 1523.4L966.2 1525.0L960.9 1527.5L958.0 1531.8L956.5 1537.2L955.3 1540.5L952.7 1544.1L950.1 1550.6L947.9 1553.4L946.0 1558.9L944.6 1561.7L943.0 1567.6L940.7 1571.1L937.5 1576.8L936.2 1580.9L934.4 1584.8L933.0 1589.5L929.4 1593.8L927.7 1599.1L926.8 1603.3L923.9 1605.8L921.1 1610.7L919.5 1615.4L917.8 1621.1L914.6 1624.0L912.8 1629.6L910.4 1633.7L908.6 1638.0L908.0 1641.3L904.7 1646.8L903.8 1649.9L900.0 1655.7L897.9 1659.3L896.8 1663.6L895.6 1668.2L892.8 1673.4L891.0 1676.6L888.0 1681.0L887.2 1686.7L884.4 1690.5L882.5 1695.5L879.6 1699.8L876.8 1704.0L875.1 1708.1L873.4 1711.6L872.0 1717.0L869.1 1720.4L867.4 1726.2L864.0 1730.2L861.9 1734.5L859.6 1739.2L857.4 1743.8L854.8 1747.9L852.9 1751.0L850.4 1756.3L849.2 1759.7L846.5 1764.8L844.8 1769.0L841.5 1773.9L838.9 1778.0L838.0 1783.6L836.3 1786.9L832.9 1792.0L831.8 1796.2L828.3 1799.3L826.3 1805.4L823.4 1809.4L822.1 1814.3L819.3 1817.4L818.1 1821.4L815.1 1826.3L813.3 1831.1L812.0 1834.5L808.3 1839.2L807.0 1845.0L805.2 1847.4L801.5 1851.9L799.7 1857.1L797.6 1861.6L793.2 1861.1L788.7 1860.4L783.8 1858.5L779.9 1857.1L775.0 1856.0L769.6 1856.2L765.6 1855.9L759.7 1855.8L755.5 1856.5L750.9 1855.1L745.8 1855.3L741.5 1855.2L736.6 1854.8L732.4 1853.4L727.3 1855.0L723.1 1854.9L718.8 1854.0L713.5 1854.2L708.3 1853.4L704.4 1849.8L701.7 1844.5L698.1 1839.9L695.1 1836.1L692.5 1829.9L689.0 1826.7L685.6 1820.8L683.6 1816.9L680.3 1812.7L680.0 1806.2L678.4 1801.7L675.7 1795.6L675.5 1790.7L673.6 1785.9L672.6 1780.1L675.0 1775.3L677.2 1771.0L681.2 1767.9L681.8 1762.0L686.3 1757.2L688.3 1752.6L691.2 1749.5L693.0 1744.8L694.5 1740.8L696.2 1736.2L699.0 1730.5L701.5 1727.7L703.5 1723.2L705.7 1718.4L707.2 1714.1L707.9 1709.5L710.9 1704.1L712.8 1699.8L713.1 1694.7L715.9 1688.3L718.2 1684.0L719.5 1679.3L721.0 1674.1L722.3 1669.4L723.6 1663.3L722.4 1658.7L721.6 1654.0L719.7 1647.2L719.3 1643.9L716.9 1638.7L716.5 1633.6L714.2 1627.7L713.4 1622.6L714.1 1616.5L713.9 1611.8L713.4 1607.6L713.1 1603.2L712.8 1597.9L714.4 1592.8L714.1 1588.0L713.4 1581.8L713.8 1576.4L712.4 1571.0L712.3 1566.0L712.8 1561.5L711.8 1556.8L711.8 1551.8L711.6 1546.4L710.9 1541.1L711.9 1536.8L714.9 1531.5L716.5 1526.1L718.9 1519.9L719.8 1514.8L721.4 1511.0L725.0 1505.1L726.2 1500.3L726.6 1494.8L727.4 1489.3L728.1 1484.9L728.0 1480.5L729.0 1474.5L730.5 1470.2L731.7 1464.8L731.3 1459.6L731.7 1454.6L733.8 1448.6L736.0 1443.5L735.8 1439.7L737.6 1433.1L738.8 1429.5L739.7 1424.1L741.5 1418.9L743.9 1413.8L745.0 1407.9L745.7 1401.6L747.4 1396.2L749.2 1391.7L750.4 1387.2L750.6 1382.0L751.2 1377.4L752.1 1371.5L753.4 1365.7L755.5 1361.4L755.4 1355.1L756.8 1350.9L756.3 1344.7L756.5 1339.4L756.5 1334.6L757.4 1328.5L756.8 1323.8L755.0 1319.0L754.6 1313.8L753.1 1307.7L753.8 1303.0L752.6 1298.3L750.2 1294.0L750.9 1287.2L749.2 1283.0L750.5 1278.1L751.8 1273.2L754.7 1267.6L755.8 1261.2L756.8 1255.9L759.1 1251.3L760.8 1245.4L761.8 1241.6L762.8 1234.6L764.5 1231.3L766.8 1225.6L767.5 1219.6L769.6 1215.1L771.3 1210.5L774.0 1207.1L775.6 1201.2L778.0 1196.1L779.8 1191.7L781.9 1187.0L783.9 1183.3L785.3 1178.2L787.4 1174.4L789.5 1167.9L791.7 1163.0L793.7 1159.2L796.6 1152.9L797.6 1147.2L798.2 1142.1L797.6 1137.1L797.1 1132.7L795.6 1125.8L795.3 1121.9L795.2 1116.6L795.9 1111.6L795.1 1106.5L798.6 1103.1L802.0 1100.9L806.9 1098.2L809.7 1095.2L813.4 1093.8L817.2 1089.7L821.5 1087.3L824.8 1085.8L830.0 1081.2L833.4 1079.3L832.7 1074.8L830.7 1070.0L829.5 1064.5L828.3 1060.3M979.5 986.1L980.1 991.9L981.9 998.5L981.6 1002.8L983.5 1007.9L982.6 1014.3M1028.2 994.2L1027.1 990.4L1027.2 984.3L1025.7 979.1M979.5 986.1L984.5 985.6L989.9 983.8L992.8 984.0L996.6 982.6L1003.9 982.2L1008.7 980.6L1010.9 982.8L1017.4 980.6L1019.7 979.0L1025.7 979.1M1028.2 994.2L1024.7 999.4L1023.2 1005.1L1019.4 1011.5L1017.3 1015.5M1017.3 1015.5L1011.6 1017.0L1008.6 1016.3L1001.3 1017.4L998.1 1017.8L991.4 1020.2L987.0 1021.0M982.6 1014.3L987.0 1021.0M1025.7 979.1L1029.1 971.4M1057.8 1001.8L1055.7 1006.5L1053.3 1011.8L1051.4 1015.0L1048.7 1020.3L1046.6 1024.9L1045.7 1028.3L1043.0 1033.1M1043.0 1033.1L1045.5 1040.9M1050.0 1041.5L1045.5 1040.9M1028.2 994.2L1032.2 995.5L1038.1 997.0L1042.4 997.3L1046.5 999.1L1052.9 1000.6L1057.8 1001.8M1073.4 1061.2L1069.3 1059.2L1067.1 1054.1L1062.9 1050.4L1058.4 1049.2L1054.4 1044.4L1050.0 1041.5M1017.3 1015.5L1021.2 1019.1L1026.4 1023.0L1028.8 1025.6L1035.2 1027.8L1039.3 1031.6L1043.0 1033.1M1096.9 1136.1L1101.3 1133.6L1104.4 1129.7L1109.6 1126.0M1096.9 1136.1L1093.7 1132.9L1092.3 1128.4L1090.0 1121.8L1088.5 1119.4L1085.5 1115.6L1083.6 1108.4L1082.5 1106.5L1079.7 1099.5L1079.1 1097.4L1075.0 1092.0L1073.4 1087.7M1109.6 1126.0L1110.7 1119.9L1109.4 1115.9L1112.5 1108.8L1110.8 1105.6L1111.2 1098.6L1114.1 1093.7L1112.9 1087.6L1113.3 1085.0L1115.2 1078.6M1073.4 1087.7L1077.8 1088.3L1083.4 1084.1L1086.0 1083.7L1090.6 1084.5L1096.4 1081.8L1101.2 1080.1L1104.5 1081.9L1110.6 1079.3L1115.2 1078.6M1134.1 1131.3L1129.1 1130.9L1124.5 1128.7L1120.0 1126.7L1115.7 1127.1L1109.6 1126.0M1065.8 1085.7L1068.9 1081.7L1067.9 1075.4L1070.9 1071.1L1073.4 1066.6L1073.4 1061.2M1065.8 1085.7L1073.4 1087.7M1096.9 1136.1L1093.5 1140.2L1091.2 1143.8L1087.3 1146.9L1085.2 1152.6L1081.3 1155.4M1081.3 1155.4L1081.5 1157.5M1081.3 1155.4L1076.4 1151.2L1072.7 1149.7M1055.2 1133.3L1059.6 1136.6L1062.8 1141.0L1065.2 1143.8L1068.7 1146.6L1072.7 1149.7M1065.8 1085.7L1058.4 1089.2L1053.3 1090.1M1055.2 1133.3L1053.8 1129.8L1050.9 1123.3M1050.9 1123.3L1051.8 1119.4L1050.8 1112.7L1052.1 1107.6L1052.6 1102.5L1053.5 1095.5L1053.3 1090.1M1017.9 1088.8L1024.8 1090.3L1031.4 1089.8M1031.4 1089.8L1028.8 1095.5L1026.3 1100.0L1025.0 1105.3M1047.6 1085.2L1041.0 1087.0L1036.1 1089.3L1031.4 1089.8M1053.3 1090.1L1047.6 1085.2M1045.5 1040.9L1043.7 1045.7L1038.8 1053.6M1047.6 1085.2L1046.4 1079.7L1044.7 1073.8L1041.6 1068.7L1039.6 1063.4M1038.8 1053.6L1037.7 1059.4L1039.6 1063.4M1017.9 1088.8L1013.8 1082.4M1039.6 1063.4L1035.8 1064.7L1031.7 1067.2L1025.3 1070.5L1020.7 1074.6L1016.7 1075.6M1013.8 1082.4L1016.7 1075.6M1013.8 1082.4L1008.2 1081.9L1004.8 1081.9L1000.6 1078.7L996.6 1079.7L991.0 1078.8M981.6 1071.7L986.5 1073.6L989.7 1077.3M981.6 1071.7L980.5 1066.1L981.7 1060.1L980.8 1055.9L982.5 1052.6L982.5 1047.9L982.7 1041.4M989.7 1077.3L992.7 1073.1L997.8 1071.4L1003.5 1068.0L1007.9 1067.1L1012.0 1064.1M982.7 1041.4L984.6 1036.6L986.7 1032.5M986.7 1032.5L990.4 1034.3L995.1 1037.5L1000.1 1040.3L1003.2 1044.8L1005.9 1046.4L1010.0 1050.8L1015.4 1053.0M1015.4 1053.0L1013.8 1057.3L1012.0 1064.1M991.0 1078.8L989.7 1077.3M1016.7 1075.6L1015.2 1070.1L1012.0 1064.1M987.0 1021.0L986.2 1027.0L986.7 1032.5M1038.8 1053.6L1035.4 1051.9L1030.2 1051.7L1024.1 1051.7L1020.0 1054.6L1015.4 1053.0M944.4 1044.0L946.1 1039.4L947.0 1034.4L948.2 1029.7L949.4 1025.0L952.1 1019.3L953.3 1014.1L954.0 1009.0L954.7 1005.1L954.6 999.5L955.2 994.4L955.1 989.3L955.8 984.3L959.5 979.9L964.4 977.4L968.6 973.4L973.5 973.5L977.8 972.7L982.6 971.3L988.5 971.9L992.8 970.1L997.0 970.2L1002.0 968.4L1006.3 969.3L1010.7 967.8L1016.0 967.7L1021.7 967.9L1024.9 967.5L1030.8 965.6L1034.9 965.2L1037.8 967.7L1041.7 972.6L1045.2 975.9L1047.6 978.8L1052.7 981.7L1054.7 985.2L1058.9 988.9L1059.8 993.2L1060.7 999.3L1061.1 1004.4L1062.1 1008.8L1063.2 1016.0L1062.8 1019.6L1063.2 1025.6L1063.4 1030.4L1065.1 1036.3L1065.6 1041.3L1070.4 1042.2L1074.3 1041.8L1080.9 1040.4L1084.3 1040.5L1088.7 1041.9L1093.5 1041.7L1098.8 1040.4L1103.8 1041.3L1108.3 1042.0L1114.1 1045.0L1119.1 1046.7L1119.7 1052.3L1120.6 1056.5L1123.3 1061.7L1123.1 1066.7L1125.8 1069.9L1125.7 1074.9L1126.8 1081.4L1128.8 1084.7L1129.4 1090.2L1134.9 1089.8L1139.7 1090.8L1144.1 1093.2L1149.8 1092.9L1149.6 1098.3L1150.0 1103.6L1149.2 1109.2L1150.5 1114.1L1149.4 1119.1L1150.0 1124.4L1149.0 1130.3L1149.8 1136.4L1148.0 1139.9L1145.5 1146.1L1143.1 1148.9L1139.1 1153.3L1136.5 1158.7L1133.9 1162.9L1131.9 1167.7L1128.9 1173.0L1126.6 1176.5L1123.6 1180.5L1121.7 1185.3L1117.4 1185.1L1111.9 1186.5L1105.6 1187.8L1101.3 1188.0L1096.7 1186.7L1092.2 1186.5L1086.9 1187.1L1082.4 1184.8L1077.5 1184.0L1071.9 1184.7L1067.8 1183.6L1062.9 1182.9L1057.9 1182.5L1057.7 1177.1L1057.0 1173.5L1055.8 1167.2L1055.0 1162.0L1054.0 1158.9L1052.5 1152.3L1051.7 1148.9L1051.5 1143.9L1050.9 1137.6L1050.3 1133.7L1045.9 1130.3L1042.4 1126.1L1040.1 1123.1L1036.3 1117.4L1032.6 1114.2L1028.1 1110.8L1024.7 1106.5L1021.3 1102.8L1017.4 1100.7L1013.8 1098.8L1009.9 1095.5L1004.7 1093.0L1001.7 1089.2L998.6 1088.1L995.0 1084.2L990.9 1081.9L986.5 1079.3L983.3 1075.5L978.2 1072.2L974.5 1069.6L970.5 1066.2L967.3 1064.0L963.8 1059.1L958.7 1057.6L956.3 1052.8L951.1 1051.2L948.6 1047.8L944.4 1044.0M1097.1 1380.7L1102.4 1379.5L1105.9 1379.0L1111.8 1378.6L1116.7 1375.4L1121.6 1374.2L1126.1 1373.1L1133.0 1372.2L1137.2 1372.3M1097.1 1380.7L1092.6 1378.3M1174.7 1348.4L1175.8 1343.6L1175.4 1337.9L1173.9 1334.6L1174.9 1328.0M1148.7 1324.7L1145.2 1329.2L1143.7 1334.1L1142.9 1337.2L1139.5 1343.1L1139.3 1347.7L1136.9 1351.9L1134.8 1356.5L1132.1 1361.0M1148.7 1324.7L1152.5 1327.9L1154.6 1333.0L1156.1 1336.3L1157.6 1342.6L1159.8 1344.8L1163.1 1350.7M1158.1 1357.9L1163.1 1350.7M1158.1 1357.9L1155.0 1360.7L1149.6 1362.5L1144.3 1365.7L1142.2 1366.3L1136.9 1370.1M1136.9 1370.1L1135.8 1364.5L1132.1 1361.0M1174.7 1348.4L1168.2 1349.9L1163.1 1350.7M1150.3 1316.3L1148.7 1324.7M1151.1 1314.9L1150.3 1316.3M1137.2 1372.3L1136.9 1370.1M1071.7 1371.3L1076.2 1369.1L1082.2 1364.5M1082.2 1364.5L1082.1 1357.4L1080.5 1352.9M1088.6 1368.7L1086.5 1367.2M1088.6 1368.7L1094.7 1368.3L1098.4 1364.6L1102.4 1364.3L1107.4 1363.5L1110.3 1360.9L1117.5 1361.5L1121.0 1357.4L1125.3 1357.7M1086.5 1367.2L1091.4 1364.4L1093.7 1358.5L1097.5 1356.0L1100.1 1351.9L1103.5 1349.6L1107.8 1346.6L1108.7 1341.5L1113.2 1338.7M1125.3 1357.7L1123.1 1352.4L1119.5 1349.5L1115.4 1344.9L1113.2 1338.7M1092.6 1378.3L1091.4 1372.3L1088.6 1368.7M1082.2 1364.5L1086.5 1367.2M1132.1 1361.0L1125.3 1357.7M1113.2 1338.7L1109.6 1331.6M1080.5 1352.9L1082.9 1347.1L1088.1 1345.2L1089.5 1340.5L1094.0 1334.4M1094.0 1334.4L1098.7 1332.1L1104.9 1330.9L1109.6 1331.6M1150.3 1316.3L1144.8 1319.3L1140.7 1319.6L1137.6 1320.3L1132.9 1321.1L1129.4 1322.9L1124.3 1326.2L1118.3 1328.1L1115.0 1326.9L1110.5 1329.5M1110.5 1329.5L1109.6 1331.6M1079.4 1317.7L1086.3 1321.8M1079.4 1317.7L1080.1 1312.2L1080.2 1306.2L1079.7 1301.2L1080.4 1295.0M1086.3 1321.8L1088.9 1316.5L1092.8 1315.3L1097.1 1309.7M1097.1 1309.7L1093.0 1305.0L1089.8 1302.7L1086.0 1297.4L1080.7 1294.9M1080.4 1295.0L1080.7 1294.9M1094.0 1334.4L1092.8 1331.4L1089.8 1326.1L1086.3 1321.8M1108.7 1309.9L1102.9 1308.4L1097.1 1309.7M1108.7 1309.9L1109.3 1316.0L1109.9 1321.1L1111.6 1323.9L1110.5 1329.5M1080.7 1294.9L1084.2 1288.1L1089.5 1284.0M1089.5 1284.0L1089.2 1279.0L1089.9 1274.8L1087.4 1269.3L1087.9 1262.5M1115.5 1296.3L1110.6 1292.2M1115.5 1296.3L1121.5 1295.1M1108.7 1309.9L1112.1 1306.2L1112.3 1299.7L1115.5 1296.3M1089.5 1284.0L1094.4 1286.3L1098.7 1286.9L1106.7 1290.9L1110.6 1292.2M1151.1 1314.9L1147.5 1312.3L1142.0 1309.5L1139.8 1306.6L1133.8 1302.6L1129.6 1302.3L1126.4 1297.9L1121.5 1295.1M1073.2 1261.3L1078.0 1260.4L1082.7 1260.8L1088.4 1259.2L1093.6 1258.6L1095.5 1263.1L1098.9 1267.4L1102.6 1269.6L1104.6 1273.5L1107.9 1278.8L1111.3 1280.9L1114.0 1285.8L1120.6 1282.8L1126.8 1280.3L1131.7 1284.4L1135.1 1288.1L1137.9 1291.1L1143.0 1295.0L1147.9 1296.9L1150.3 1301.6L1154.9 1304.8L1157.7 1307.2L1162.4 1310.6L1166.7 1315.0L1169.1 1316.6L1173.6 1319.5L1177.0 1323.9L1180.4 1326.5L1180.8 1331.5L1183.8 1336.8L1183.9 1341.4L1185.5 1346.9L1186.9 1351.0L1188.0 1356.4L1180.4 1357.7L1177.2 1362.2L1176.5 1366.7L1173.1 1371.3L1171.5 1377.7L1169.6 1381.2L1167.4 1387.4L1165.1 1391.7L1160.0 1392.0L1155.2 1391.6L1150.4 1390.1L1147.2 1390.4L1141.3 1389.5L1136.9 1389.3L1131.8 1387.8L1128.1 1386.3L1123.0 1386.9L1118.3 1386.5L1112.7 1385.5L1108.9 1383.9L1103.8 1384.0L1099.2 1383.0L1094.8 1384.0L1090.4 1383.0L1084.7 1383.0L1079.9 1381.2L1076.6 1380.5L1071.3 1379.8L1066.5 1379.3L1061.6 1379.0L1057.7 1377.6L1052.8 1378.1L1053.6 1371.8L1052.4 1366.8L1052.8 1361.8L1054.0 1357.2L1053.4 1351.6L1055.2 1347.6L1056.2 1341.1L1056.2 1337.1L1056.4 1330.2L1056.3 1326.9L1057.9 1321.1L1060.3 1317.2L1061.6 1311.3L1063.2 1306.5L1065.2 1301.2L1068.1 1296.6L1068.5 1292.5L1070.0 1287.3L1070.5 1280.9L1070.5 1277.5L1072.0 1270.5L1073.5 1267.0L1073.2 1261.3M1298.3 1153.5L1292.9 1157.3L1288.9 1159.3L1285.8 1161.7L1281.5 1164.0L1275.3 1163.6L1272.1 1166.2L1269.3 1169.2L1264.6 1171.8L1260.2 1174.1L1254.1 1178.0L1251.5 1178.4L1246.4 1181.0M1246.4 1181.0L1242.0 1180.1L1238.0 1177.3L1233.6 1175.1L1228.1 1174.8L1223.9 1171.9L1219.4 1168.3L1214.9 1167.8M1246.4 1181.0L1243.9 1183.4L1240.3 1187.8L1236.6 1192.7L1231.1 1195.6L1227.7 1198.5L1227.0 1205.0L1222.3 1207.7L1218.6 1211.6M1298.3 1153.5L1295.1 1159.1L1293.7 1163.3L1289.8 1164.7L1287.2 1171.1L1283.6 1174.1L1283.4 1176.9L1280.4 1182.6L1277.7 1187.5L1273.8 1191.3L1272.2 1194.7L1268.1 1199.9L1265.2 1204.0L1264.0 1209.1L1259.7 1213.5L1259.4 1216.8L1255.5 1221.3L1253.0 1224.5M1218.6 1211.6L1222.3 1213.8L1229.0 1213.8L1233.2 1215.7L1238.3 1218.8L1243.2 1221.9L1249.5 1224.2L1253.0 1224.5M1253.0 1224.5L1254.3 1231.0L1258.2 1235.3L1258.8 1240.3M1258.8 1240.3L1254.8 1246.1L1251.3 1248.4L1249.1 1254.6L1244.4 1258.5M1217.5 1211.9L1218.6 1211.6M1217.5 1211.9L1218.5 1217.4L1219.2 1220.3L1220.1 1227.2L1221.4 1231.4L1222.3 1235.4L1223.1 1241.6L1222.1 1246.7L1224.0 1250.8M1244.4 1258.5L1238.8 1257.3L1233.3 1253.5L1229.8 1251.2L1224.0 1250.8M1169.9 1234.7L1173.7 1230.8L1178.5 1228.1L1182.2 1224.0L1183.6 1220.7L1188.2 1216.0L1192.0 1214.5L1195.3 1208.3L1198.6 1205.9M1176.8 1258.6L1176.7 1253.1L1173.5 1248.9L1171.3 1242.8L1171.3 1239.9L1169.9 1234.7M1198.6 1205.9L1204.8 1208.3L1209.6 1209.1L1212.8 1212.0L1217.5 1211.9M1176.8 1258.6L1182.4 1257.5L1187.5 1258.2L1192.9 1259.9L1195.9 1260.4L1201.2 1259.4L1205.5 1260.4L1211.7 1260.1M1211.7 1260.1L1214.8 1255.9L1220.2 1254.8L1224.0 1250.8M1214.5 1296.3L1209.5 1300.3L1206.2 1302.6L1201.0 1306.3L1196.2 1307.4L1194.2 1309.7L1189.0 1313.1L1184.3 1316.0L1180.1 1320.0M1174.1 1273.1L1177.8 1274.9L1183.0 1279.2L1187.2 1279.0L1191.5 1283.2L1195.0 1284.5L1198.2 1286.3L1202.7 1288.6L1207.9 1292.4L1209.5 1295.0L1214.5 1296.3M1176.8 1258.6L1177.2 1263.4L1175.0 1268.3L1174.1 1273.1M1174.1 1273.1L1172.3 1278.5L1167.2 1282.3L1165.0 1288.1M1165.0 1288.1L1163.1 1294.1M1200.4 1182.4L1200.7 1187.5L1197.5 1192.9L1197.4 1200.0M1214.9 1167.8L1212.0 1171.6L1208.6 1173.7L1202.9 1178.2L1200.4 1182.4M1198.6 1205.9L1197.4 1200.0M1169.9 1234.7L1164.2 1231.4L1160.9 1232.7L1155.5 1228.3L1150.6 1226.5L1146.4 1226.4M1107.8 1255.0L1107.9 1264.6M1107.8 1255.0L1109.6 1251.2L1111.9 1246.9L1114.0 1239.8L1116.2 1235.0L1116.3 1232.5L1118.7 1226.5M1130.3 1229.6L1124.4 1228.4L1118.7 1226.5M1130.3 1229.6L1129.8 1233.3L1128.6 1238.2L1128.3 1245.2L1129.2 1248.1L1129.7 1254.6L1128.7 1258.3L1128.9 1264.6M1107.9 1264.6L1113.5 1266.5L1118.4 1270.7L1122.6 1273.4M1128.9 1264.6L1125.4 1268.2L1122.6 1273.4M1146.4 1226.4L1139.6 1227.0L1136.3 1229.6L1130.3 1229.6M1165.0 1288.1L1160.9 1286.0L1156.2 1283.4L1152.5 1281.7L1148.4 1277.5L1145.1 1275.4L1140.3 1273.7L1137.7 1270.5L1132.6 1268.1L1128.9 1264.6M1170.2 1152.7L1174.5 1151.4L1180.1 1152.0L1185.2 1153.1L1188.9 1152.5L1194.2 1152.3L1198.0 1152.0L1204.3 1150.9L1207.4 1152.1L1213.1 1150.3L1216.7 1149.7L1221.6 1151.1L1226.8 1150.7L1232.2 1149.6L1235.8 1149.8L1241.6 1148.9L1245.4 1149.3L1251.7 1149.7L1256.1 1149.9L1261.0 1148.1L1264.5 1147.9L1270.6 1148.0L1275.1 1148.8L1279.3 1147.7L1283.4 1148.3L1288.5 1148.4L1293.4 1146.9L1298.0 1148.1L1302.9 1147.2L1302.2 1151.5L1303.1 1157.3L1304.2 1163.1L1303.1 1166.9L1305.4 1173.8L1304.2 1177.7L1305.7 1183.3L1305.4 1188.0L1303.3 1192.5L1302.2 1198.7L1300.3 1204.1L1297.1 1209.1L1295.2 1215.1L1291.2 1219.0L1287.3 1222.8L1284.4 1226.3L1280.6 1230.2L1278.2 1234.2L1274.2 1237.4L1270.5 1240.2L1267.1 1245.0L1264.8 1250.6L1260.7 1253.1L1258.7 1258.4L1255.6 1262.8L1253.2 1267.2L1249.3 1272.2L1245.1 1275.0L1242.6 1278.2L1237.7 1282.2L1233.9 1285.8L1229.8 1288.8L1227.2 1293.2L1223.0 1295.8L1220.1 1298.9L1216.4 1304.2L1212.3 1306.0L1208.5 1310.2L1206.2 1315.2L1202.6 1318.6L1201.7 1323.5L1197.7 1327.0L1195.8 1332.0L1193.1 1335.8L1190.0 1339.0L1189.0 1343.0L1185.4 1348.8L1182.9 1352.1L1180.4 1356.4L1180.8 1350.5L1182.5 1346.8L1185.1 1342.4L1185.5 1337.4L1182.2 1331.4L1179.5 1326.3L1177.8 1321.1L1174.1 1316.9L1171.4 1315.4L1166.4 1312.7L1163.2 1309.3L1160.3 1305.8L1156.0 1302.8L1152.3 1299.3L1148.4 1297.1L1144.4 1293.8L1140.9 1288.8L1136.5 1285.9L1132.2 1283.7L1129.4 1280.3L1124.9 1281.5L1119.2 1283.1L1114.0 1283.0L1110.3 1279.2L1108.2 1276.0L1103.7 1273.3L1101.3 1269.8L1096.9 1265.6L1095.2 1261.6L1091.1 1258.6L1085.3 1259.4L1078.4 1261.1L1073.2 1261.3L1077.2 1258.5L1080.3 1253.5L1084.3 1249.7L1086.9 1247.0L1090.9 1243.7L1095.3 1239.6L1098.3 1236.8L1101.9 1232.2L1105.8 1230.0L1108.9 1226.0L1112.1 1221.4L1115.1 1218.2L1117.6 1213.6L1120.7 1210.3L1124.3 1207.0L1128.0 1203.3L1131.8 1200.8L1137.9 1197.7L1141.0 1194.5L1146.5 1190.1L1149.8 1188.0L1154.0 1186.4L1160.7 1183.1L1164.5 1182.2L1170.2 1179.8L1171.2 1175.1L1170.3 1168.2L1169.6 1162.7L1170.2 1159.0L1170.2 1152.7M1204.9 1069.7L1201.2 1072.2L1199.7 1077.0L1194.8 1082.0L1193.7 1084.1L1190.6 1088.2L1187.6 1092.8L1183.3 1096.9L1178.7 1098.4L1177.3 1101.4L1174.2 1107.0L1169.9 1109.9L1167.1 1114.9L1164.1 1117.3M1204.9 1069.7L1204.8 1075.9L1206.7 1080.3L1206.9 1087.2L1208.7 1089.7L1210.3 1097.2L1210.2 1100.4L1211.7 1105.3L1212.8 1112.3L1212.5 1117.2M1164.1 1117.3L1165.7 1122.5L1170.9 1126.2L1171.6 1131.0L1175.3 1134.8L1178.1 1139.1L1181.5 1145.0L1183.5 1148.8M1212.5 1117.2L1208.6 1120.9L1205.9 1124.8L1202.2 1128.4L1199.0 1131.7L1196.5 1135.1L1193.0 1138.9L1189.2 1142.1L1186.0 1145.1L1183.5 1148.8M1231.5 1142.4L1229.0 1137.9L1227.8 1130.0L1226.4 1124.4M1246.6 1116.0L1242.2 1117.6L1236.1 1120.9L1230.4 1121.3L1226.4 1124.4M1212.5 1117.2L1218.0 1121.0L1222.3 1122.6L1226.4 1124.4M1257.5 1092.9L1254.9 1096.6L1253.1 1101.8L1250.1 1107.4L1250.2 1111.3L1246.6 1116.0M1257.5 1092.9L1260.3 1096.5L1266.2 1098.7L1270.5 1099.2L1272.6 1101.2L1277.9 1103.3L1281.9 1107.1M1157.4 1092.9L1161.2 1088.6L1165.4 1084.4L1167.3 1080.8L1170.8 1076.2L1175.3 1071.2L1179.4 1066.8L1181.4 1064.1L1183.8 1058.3L1188.0 1054.9L1193.1 1054.8L1199.9 1054.0L1206.3 1054.3L1211.0 1054.9L1217.1 1056.0L1220.6 1055.2L1226.0 1056.3L1231.0 1055.8L1236.1 1056.5L1241.6 1057.6L1246.1 1057.6L1252.2 1058.7L1256.4 1061.2L1262.6 1062.1L1267.1 1063.0L1270.0 1067.8L1272.5 1070.2L1277.1 1074.6L1278.8 1078.9L1282.4 1082.0L1285.4 1086.3L1287.8 1090.6L1292.1 1094.7L1294.6 1100.0L1297.8 1103.8L1301.6 1107.9L1304.1 1110.5L1309.5 1115.2L1311.8 1119.5L1315.6 1122.8L1314.0 1127.8L1309.8 1133.6L1307.0 1137.8L1305.1 1142.2L1302.9 1147.2L1299.1 1147.9L1292.9 1148.5L1289.5 1147.3L1284.2 1148.2L1279.2 1148.6L1274.9 1147.6L1270.6 1149.6L1264.6 1148.1L1260.5 1148.4L1255.3 1149.9L1250.1 1149.6L1247.0 1150.6L1241.7 1150.1L1236.5 1150.7L1232.1 1151.2L1227.6 1149.9L1221.6 1150.4L1216.7 1151.6L1211.9 1151.7L1207.7 1150.2L1202.9 1150.8L1198.3 1151.6L1193.9 1151.5L1190.0 1151.6L1183.6 1152.7L1179.6 1152.2L1174.4 1153.0L1170.2 1152.7L1168.1 1146.3L1167.8 1142.5L1165.1 1136.4L1159.4 1136.7L1154.3 1135.9L1149.8 1136.4L1151.5 1132.0L1150.5 1126.4L1151.6 1121.8L1153.2 1117.8L1153.6 1111.6L1155.0 1107.8L1155.2 1102.5L1156.0 1098.1L1157.4 1092.9M1092.9 368.6L1089.4 367.4L1083.7 365.2L1079.4 363.5L1076.7 361.9L1069.5 360.6L1066.7 358.4M1066.7 358.4L1065.2 353.7L1066.5 348.8L1067.3 343.3L1065.4 335.3L1066.0 329.9L1065.6 324.7L1066.7 318.4L1065.0 314.5M1014.9 276.0L1014.6 282.2L1015.6 287.5L1016.4 294.7M1065.0 314.5L1061.0 315.7L1054.4 313.9L1049.6 314.4L1042.7 314.0M1016.4 294.7L1020.8 297.2L1023.7 300.1L1028.5 304.7L1034.0 307.2L1038.1 311.9L1042.7 314.0M1024.6 359.3L1027.1 362.0L1032.3 366.6L1035.7 368.3L1040.6 371.0L1044.9 374.6L1047.8 376.4M1042.7 314.0L1042.0 320.1L1040.4 322.8L1037.3 327.3L1036.4 331.9L1032.7 337.6L1031.9 340.9L1029.3 345.7L1026.7 351.4L1026.2 354.4L1024.6 359.3M1066.7 358.4L1063.0 363.0L1059.2 364.8L1056.0 368.8L1051.1 374.0L1047.8 376.4M994.1 299.8L991.1 296.7L986.8 291.9L983.8 287.7L979.2 284.8L976.3 280.8L977.7 276.3L980.3 270.4L981.1 265.0L983.9 259.0L987.1 255.7L992.6 252.5L995.0 248.1L999.2 245.5L1000.1 239.6L1002.9 235.8L1004.8 230.1L1006.5 225.0L1009.1 219.8L1009.2 214.2L1012.0 210.1L1016.9 212.5L1019.7 214.6L1025.2 216.8L1029.6 218.2L1032.9 222.4L1037.6 223.4L1041.1 225.8L1046.6 227.9L1050.3 231.3L1053.9 233.8L1058.2 236.0L1063.0 237.3L1066.0 241.2L1068.5 246.6L1069.4 251.1L1071.5 255.4L1074.5 259.1L1076.3 264.4L1079.6 269.4L1080.7 274.1L1083.4 278.0L1079.5 282.7L1077.0 287.1L1073.8 291.4L1071.5 295.7L1068.0 300.8L1065.6 305.2L1067.4 309.7L1071.2 313.5L1074.0 318.0L1075.4 323.5L1079.0 328.3L1080.9 332.4L1082.2 337.5L1085.2 342.1L1086.3 345.6L1088.7 349.9L1091.1 355.1L1093.6 359.5L1094.8 363.4L1095.4 368.8L1097.8 375.5L1098.2 379.5L1099.4 384.9L1101.3 389.4L1096.8 389.5L1091.5 391.8L1085.1 391.7L1080.4 393.7L1075.8 394.8L1071.7 395.9L1067.0 399.0L1062.4 400.3L1056.4 403.3L1053.1 404.8L1047.0 405.8L1042.6 408.4L1039.5 405.4L1035.0 400.1L1031.8 396.3L1028.4 394.1L1024.7 389.4L1022.4 383.6L1019.8 378.4L1017.1 373.1L1017.7 368.7L1019.1 361.6L1020.4 357.7L1021.3 350.7L1023.4 345.1L1024.7 340.5L1022.3 336.0L1019.9 330.0L1017.8 326.3L1014.5 321.5L1011.6 318.4L1006.8 315.3L1004.7 309.7L1000.7 306.1L998.4 302.9L994.1 299.8M1157.8 323.1L1151.9 326.2L1149.1 329.2L1145.7 330.5L1139.7 333.6M1090.4 314.3L1094.0 317.0L1098.2 320.4L1101.8 321.9L1107.3 325.1L1110.3 327.2L1115.2 330.2L1119.9 331.3L1124.7 334.7L1128.8 337.7L1132.6 339.8M1132.6 339.8L1137.7 337.1L1139.7 333.6M1130.5 347.4L1130.5 351.9L1129.9 359.2L1130.5 364.6L1130.0 368.8M1132.6 339.8L1130.5 347.4M1083.4 278.0L1081.4 281.8L1078.0 287.4L1075.2 292.0L1071.9 295.6L1068.4 300.8L1065.6 305.2L1067.1 309.8L1071.1 313.4L1073.1 318.4L1075.0 323.2L1077.6 328.3L1080.9 332.4L1083.8 336.7L1084.6 342.4L1088.2 345.1L1089.1 349.8L1091.4 355.1L1093.6 359.5L1095.1 364.6L1096.8 369.6L1097.2 374.4L1099.1 378.8L1099.9 384.1L1101.3 389.4L1106.1 386.7L1109.0 385.2L1113.9 383.1L1118.7 380.9L1122.6 377.9L1126.8 375.8L1131.6 375.6L1136.7 375.5L1143.0 375.5L1147.2 375.7L1152.3 375.8L1153.2 371.5L1156.0 367.4L1158.1 360.8L1159.0 356.7L1161.6 352.7L1162.9 347.4L1165.1 343.2L1163.1 338.9L1161.7 333.9L1159.5 329.2L1159.1 322.7L1156.4 318.8L1154.9 313.4L1156.5 309.4L1157.1 304.1L1159.1 298.9L1159.9 295.6L1162.7 289.3L1163.3 285.4L1165.1 280.8L1161.0 280.2L1156.4 279.9L1149.9 279.9L1145.5 279.1L1141.5 280.8L1136.4 279.5L1131.8 278.6L1127.3 280.4L1121.4 280.3L1117.1 280.2L1113.2 279.3L1106.5 278.4L1101.9 278.2L1098.3 277.9L1093.0 278.8L1089.0 277.7L1083.4 278.0" fill="none" stroke="#808080" stroke-width="4.0" stroke-linejoin="round" stroke-linecap="round"/></g>
<g fill="none" stroke="#808080" stroke-width="4.0" stroke-linejoin="round">
<polygon points="566.2,205.8 576.9,216.7 579.5,205.8 592.8,197.9 611.6,184.6 614.2,152.6 630.3,139.3 651.4,131.4 675.4,125.9 696.9,115.3 703.2,102.9 727.5,102.9 726.2,117.8 712.2,132.7 716.0,142.2 731.3,139.5 749.2,131.4 747.9,112.4 758.1,109.6 761.9,125.9 779.5,128.7 795.6,133.8 802.2,152.6 819.6,153.9 854.0,152.6 870.1,164.5 886.2,163.2 904.8,155.8 912.5,150.4 938.0,151.7 963.5,149.8 953.3,155.8 948.2,166.7 971.2,173.5 989.0,191.1 1009.4,207.4 1027.3,216.7 1045.2,237.6 1071.2,267.5 1090.1,278.6 1116.1,278.6 1138.5,277.0 1164.6,282.4 1153.3,312.3 1164.6,342.2 1153.3,375.8 1183.2,379.4 1201.8,357.1 1227.8,319.9 1239.1,334.8 1254.1,379.4 1269.4,396.5 1269.4,412.5 1263.1,422.3 1275.8,430.2 1282.4,438.0 1308.0,447.8 1306.2,460.6 1323.8,455.7 1363.8,466.8 1395.7,475.0 1407.0,492.6 1400.6,522.5 1411.8,508.7 1427.9,502.1 1475.9,514.9 1519.0,517.6 1563.6,539.9 1593.5,569.8 1634.6,579.0 1647.6,603.4 1651.4,640.7 1649.9,667.6 1628.7,707.2 1612.6,723.2 1586.1,757.7 1559.6,792.5 1546.3,805.5 1546.3,840.3 1551.6,872.1 1543.5,906.6 1543.5,922.6 1530.2,935.9 1527.7,973.1 1516.9,991.6 1501.1,1018.2 1495.8,1037.0 1474.3,1058.1 1453.2,1063.6 1426.6,1066.0 1400.1,1071.5 1386.8,1082.0 1360.3,1092.9 1333.5,1108.7 1314.9,1127.1 1301.8,1137.5 1299.0,1153.5 1304.4,1188.0 1296.5,1214.6 1267.1,1243.9 1251.1,1270.5 1208.5,1310.5 1198.0,1339.8 1176.6,1361.0 1165.8,1379.7 1139.3,1390.3 1107.4,1387.6 1064.8,1374.3 1051.5,1367.2 1048.7,1382.5 1078.1,1395.8 1080.6,1417.0 1096.7,1433.0 1096.7,1443.6 1072.7,1475.6 1019.4,1494.1 966.1,1499.5 950.2,1494.1 958.1,1526.1 952.8,1547.6 926.2,1558.2 884.4,1549.2 881.8,1568.2 894.6,1587.3 920.1,1584.5 919.6,1600.8 901.2,1603.3 882.6,1615.0 875.7,1638.0 864.2,1661.1 836.4,1668.2 818.1,1691.3 836.4,1716.8 861.9,1721.4 864.2,1739.9 836.4,1760.8 813.5,1783.9 811.2,1799.9 781.1,1811.6 778.8,1832.5 797.1,1862.4 770.9,1861.3 743.8,1872.2 732.8,1881.1 734.6,1899.3 718.5,1902.3 698.1,1894.2 680.3,1875.2 665.7,1839.9 665.0,1799.1 672.6,1744.8 667.5,1704.1 662.4,1663.3 670.1,1636.1 682.8,1595.4 675.2,1573.7 657.3,1559.3 667.5,1515.0 662.4,1476.4 665.0,1442.8 690.7,1406.6 708.8,1359.9 719.3,1321.3 714.2,1282.5 719.3,1256.7 716.8,1228.2 727.0,1194.8 734.9,1158.4 742.5,1114.6 740.0,1070.6 750.4,1050.0 751.7,991.3 749.2,956.0 744.1,935.6 718.8,915.3 683.3,890.0 647.9,872.4 617.5,852.0 594.8,816.4 587.1,783.5 572.1,768.3 561.9,743.1 551.7,717.8 541.7,692.3 529.0,661.8 508.8,634.1 481.0,616.5 472.1,601.3 470.8,575.7 465.7,560.5 471.6,547.2 490.7,530.9 494.0,514.9 476.4,502.1 477.9,470.1 484.3,450.8 497.3,425.0 503.7,412.0 525.9,399.2 535.6,370.4 548.4,360.6 567.5,347.9 562.6,325.3 570.8,283.5 561.1,257.7 554.7,238.4 554.2,243.3"/>
<polygon points="756.6,1866.8 789.0,1870.3 801.7,1881.1 807.1,1892.0 825.2,1904.8 852.5,1917.5 879.8,1926.5 861.7,1933.8 825.2,1935.5 789.0,1931.9 761.9,1926.5 752.7,1899.3 747.4,1888.5 758.4,1877.6"/>
</g>
<path fill="#313695" stroke="#808080" stroke-width="3.5" d="M612.2 1690.5A3.3 4.3 30 1 0 617.8 1693.7A3.3 4.3 30 1 0 612.2 1690.5zM625.0 1696.8A11.8 5.7 145 1 0 605.8 1710.5A11.8 5.7 145 1 0 625.0 1696.8zM610.6 1698.9A6.8 3.3 75 1 0 614.2 1712.0A6.8 3.3 75 1 0 610.6 1698.9zM611.4 1717.1A2.8 4.2 3 1 0 617.0 1717.4A2.8 4.2 3 1 0 611.4 1717.1zM623.6 1723.2A9.4 5.7 168 1 0 605.3 1727.1A9.4 5.7 168 1 0 623.6 1723.2zM609.1 1728.2A2.8 3.8 40 1 0 613.5 1731.9A2.8 3.8 40 1 0 609.1 1728.2zM615.5 1732.3A6.1 3.4 112 1 0 610.9 1743.7A6.1 3.4 112 1 0 615.5 1732.3zM618.4 1739.3A5.0 3.2 134 1 0 611.4 1746.5A5.0 3.2 134 1 0 618.4 1739.3zM611.4 1744.7A4.0 4.5 69 1 0 614.3 1752.2A4.0 4.5 69 1 0 611.4 1744.7zM617.4 1750.6A2.7 3.2 155 1 0 612.6 1752.8A2.7 3.2 155 1 0 617.4 1750.6zM609.5 1754.5A5.1 3.3 33 1 0 618.1 1760.1A5.1 3.3 33 1 0 609.5 1754.5zM610.9 1759.3A4.1 3.3 67 1 0 614.1 1766.8A4.1 3.3 67 1 0 610.9 1759.3zM613.7 1761.2A3.7 4.7 89 1 0 613.9 1768.6A3.7 4.7 89 1 0 613.7 1761.2zM613.1 1768.7A4.7 2.6 76 1 0 615.4 1777.8A4.7 2.6 76 1 0 613.1 1768.7zM615.6 1770.1A4.6 3.1 98 1 0 614.3 1779.1A4.6 3.1 98 1 0 615.6 1770.1zM618.9 1779.4A10.1 4.7 116 1 0 610.1 1797.6A10.1 4.7 116 1 0 618.9 1779.4zM622.9 1670.3A5.9 3.9 133 1 0 614.8 1678.9A5.9 3.9 133 1 0 622.9 1670.3zM619.3 1676.0A2.6 4.9 128 1 0 616.1 1680.1A2.6 4.9 128 1 0 619.3 1676.0zM619.1 1713.2A2.8 3.8 156 1 0 614.0 1715.5A2.8 3.8 156 1 0 619.1 1713.2zM616.0 1718.4A5.9 2.2 48 1 0 623.9 1727.1A5.9 2.2 48 1 0 616.0 1718.4zM618.4 1721.7A3.9 2.1 71 1 0 621.0 1729.1A3.9 2.1 71 1 0 618.4 1721.7zM614.0 1727.3A5.1 3.9 58 1 0 619.4 1736.0A5.1 3.9 58 1 0 614.0 1727.3zM619.9 1728.6A5.0 2.6 105 1 0 617.3 1738.2A5.0 2.6 105 1 0 619.9 1728.6zM620.3 1738.2A3.1 3.6 132 1 0 616.1 1742.9A3.1 3.6 132 1 0 620.3 1738.2zM608.1 1744.1A10.9 6.8 18 1 0 628.8 1750.9A10.9 6.8 18 1 0 608.1 1744.1zM614.9 1752.8A2.7 3.0 35 1 0 619.3 1755.9A2.7 3.0 35 1 0 614.9 1752.8zM614.8 1758.2A4.5 2.4 64 1 0 618.7 1766.2A4.5 2.4 64 1 0 614.8 1758.2zM618.1 1761.1A11.2 4.5 82 1 0 621.2 1783.4A11.2 4.5 82 1 0 618.1 1761.1zM611.9 1786.3A5.1 2.8 6 1 0 622.1 1787.4A5.1 2.8 6 1 0 611.9 1786.3zM608.6 1803.8A10.3 5.4 24 1 0 627.4 1812.0A10.3 5.4 24 1 0 608.6 1803.8zM613.7 1829.0A5.6 5.0 28 1 0 623.5 1834.2A5.6 5.0 28 1 0 613.7 1829.0zM618.7 1829.6A7.0 2.8 82 1 0 620.7 1843.3A7.0 2.8 82 1 0 618.7 1829.6zM628.1 1657.0A4.8 2.0 160 1 0 618.9 1660.3A4.8 2.0 160 1 0 628.1 1657.0zM616.0 1663.6A6.0 3.4 32 1 0 626.3 1670.0A6.0 3.4 32 1 0 616.0 1663.6zM617.4 1663.0A6.4 3.2 56 1 0 624.6 1673.6A6.4 3.2 56 1 0 617.4 1663.0zM621.3 1692.1A2.7 3.5 91 1 0 621.2 1697.6A2.7 3.5 91 1 0 621.3 1692.1zM628.8 1692.1A6.9 5.2 150 1 0 616.8 1699.0A6.9 5.2 150 1 0 628.8 1692.1zM627.3 1696.1A6.2 2.0 126 1 0 620.1 1706.2A6.2 2.0 126 1 0 627.3 1696.1zM623.0 1704.5A2.8 3.3 119 1 0 620.4 1709.3A2.8 3.3 119 1 0 623.0 1704.5zM628.5 1714.9A5.5 2.5 163 1 0 618.1 1718.1A5.5 2.5 163 1 0 628.5 1714.9zM622.9 1717.7A3.8 4.4 52 1 0 627.6 1723.6A3.8 4.4 52 1 0 622.9 1717.7zM624.5 1723.2A2.7 4.4 98 1 0 623.8 1728.7A2.7 4.4 98 1 0 624.5 1723.2zM630.0 1736.5A6.1 2.5 175 1 0 617.8 1737.7A6.1 2.5 175 1 0 630.0 1736.5zM622.0 1737.3A4.8 2.6 94 1 0 621.5 1746.9A4.8 2.6 94 1 0 622.0 1737.3zM619.6 1759.1A3.4 4.0 52 1 0 623.8 1764.5A3.4 4.0 52 1 0 619.6 1759.1zM628.1 1765.1A5.7 2.9 161 1 0 617.2 1768.8A5.7 2.9 161 1 0 628.1 1765.1zM625.6 1771.3A2.9 2.4 178 1 0 619.7 1771.5A2.9 2.4 178 1 0 625.6 1771.3zM614.2 1775.0A7.0 4.6 16 1 0 627.7 1778.8A7.0 4.6 16 1 0 614.2 1775.0zM622.6 1781.1A3.1 3.6 113 1 0 620.1 1786.8A3.1 3.6 113 1 0 622.6 1781.1zM629.0 1796.0A5.8 2.8 179 1 0 617.4 1796.3A5.8 2.8 179 1 0 629.0 1796.0zM623.9 1800.3A4.8 4.6 84 1 0 624.9 1809.9A4.8 4.6 84 1 0 623.9 1800.3zM628.5 1808.2A5.6 3.2 168 1 0 617.4 1810.4A5.6 3.2 168 1 0 628.5 1808.2zM622.4 1814.6A2.8 3.5 9 1 0 628.0 1815.5A2.8 3.5 9 1 0 622.4 1814.6zM618.2 1821.7A4.0 3.7 1 1 0 626.2 1821.8A4.0 3.7 1 1 0 618.2 1821.7zM623.3 1830.3A6.7 6.3 81 1 0 625.5 1843.6A6.7 6.3 81 1 0 623.3 1830.3zM622.1 1834.8A9.6 7.0 83 1 0 624.5 1853.7A9.6 7.0 83 1 0 622.1 1834.8zM625.8 1646.2A3.7 2.0 70 1 0 628.3 1653.0A3.7 2.0 70 1 0 625.8 1646.2zM626.1 1653.0A6.4 4.5 65 1 0 631.6 1664.5A6.4 4.5 65 1 0 626.1 1653.0zM634.2 1667.7A6.8 2.9 180 1 0 620.7 1667.7A6.8 2.9 180 1 0 634.2 1667.7zM620.1 1680.3A5.8 2.1 17 1 0 631.3 1683.6A5.8 2.1 17 1 0 620.1 1680.3zM622.2 1689.4A7.4 6.7 22 1 0 635.9 1695.0A7.4 6.7 22 1 0 622.2 1689.4zM630.9 1696.1A4.3 3.6 129 1 0 625.4 1702.8A4.3 3.6 129 1 0 630.9 1696.1zM624.7 1695.3A10.6 4.5 83 1 0 627.3 1716.4A10.6 4.5 83 1 0 624.7 1695.3zM627.6 1706.6A4.3 4.1 84 1 0 628.5 1715.1A4.3 4.1 84 1 0 627.6 1706.6zM626.9 1713.1A3.6 2.4 79 1 0 628.2 1720.1A3.6 2.4 79 1 0 626.9 1713.1zM624.8 1714.4A5.3 4.7 65 1 0 629.3 1723.9A5.3 4.7 65 1 0 624.8 1714.4zM629.8 1722.8A3.1 4.9 120 1 0 626.7 1728.2A3.1 4.9 120 1 0 629.8 1722.8zM629.5 1723.6A5.7 2.8 92 1 0 629.2 1735.0A5.7 2.8 92 1 0 629.5 1723.6zM632.0 1733.0A5.5 2.3 119 1 0 626.6 1742.5A5.5 2.3 119 1 0 632.0 1733.0zM632.3 1739.1A5.8 3.4 134 1 0 624.3 1747.3A5.8 3.4 134 1 0 632.3 1739.1zM620.8 1748.9A6.6 4.7 10 1 0 633.9 1751.3A6.6 4.7 10 1 0 620.8 1748.9zM629.6 1750.1A3.9 3.5 95 1 0 628.8 1757.9A3.9 3.5 95 1 0 629.6 1750.1zM630.7 1751.7A5.5 3.0 109 1 0 627.0 1762.2A5.5 3.0 109 1 0 630.7 1751.7zM623.3 1769.6A3.0 3.9 23 1 0 628.7 1771.9A3.0 3.9 23 1 0 623.3 1769.6zM628.4 1778.5A6.1 2.4 104 1 0 625.4 1790.2A6.1 2.4 104 1 0 628.4 1778.5zM630.3 1789.1A3.1 2.9 148 1 0 625.0 1792.5A3.1 2.9 148 1 0 630.3 1789.1zM625.7 1790.3A5.8 3.9 40 1 0 634.7 1797.8A5.8 3.9 40 1 0 625.7 1790.3zM629.8 1795.1A4.3 2.1 125 1 0 624.9 1802.1A4.3 2.1 125 1 0 629.8 1795.1zM625.1 1805.2A4.3 4.2 34 1 0 632.3 1810.0A4.3 4.2 34 1 0 625.1 1805.2zM633.9 1813.4A5.4 2.6 148 1 0 624.7 1819.1A5.4 2.6 148 1 0 633.9 1813.4zM629.2 1817.3A3.8 4.0 93 1 0 628.8 1825.0A3.8 4.0 93 1 0 629.2 1817.3zM633.5 1831.7A5.6 4.0 177 1 0 622.4 1832.3A5.6 4.0 177 1 0 633.5 1831.7zM629.2 1839.2A4.5 3.1 91 1 0 629.1 1848.2A4.5 3.1 91 1 0 629.2 1839.2zM625.6 1857.6A5.4 3.3 36 1 0 634.4 1863.9A5.4 3.3 36 1 0 625.6 1857.6zM638.4 1629.8A8.2 6.4 119 1 0 630.4 1644.1A8.2 6.4 119 1 0 638.4 1629.8zM635.3 1642.1A4.5 2.6 174 1 0 626.3 1643.0A4.5 2.6 174 1 0 635.3 1642.1zM632.7 1654.6A6.6 6.4 96 1 0 631.3 1667.8A6.6 6.4 96 1 0 632.7 1654.6zM630.0 1666.2A2.6 4.7 54 1 0 633.1 1670.4A2.6 4.7 54 1 0 630.0 1666.2zM633.0 1668.2A4.7 4.5 83 1 0 634.1 1677.6A4.7 4.5 83 1 0 633.0 1668.2zM632.7 1685.9A5.5 2.8 67 1 0 637.1 1696.1A5.5 2.8 67 1 0 632.7 1685.9zM637.2 1707.5A3.5 4.6 137 1 0 632.1 1712.2A3.5 4.6 137 1 0 637.2 1707.5zM639.0 1735.7A5.9 4.5 146 1 0 629.3 1742.3A5.9 4.5 146 1 0 639.0 1735.7zM623.7 1755.4A9.8 6.5 6 1 0 643.3 1757.6A9.8 6.5 6 1 0 623.7 1755.4zM633.7 1758.8A4.9 3.0 118 1 0 629.1 1767.5A4.9 3.0 118 1 0 633.7 1758.8zM626.1 1761.6A11.7 5.7 49 1 0 641.4 1779.2A11.7 5.7 49 1 0 626.1 1761.6zM635.4 1773.6A3.7 3.1 141 1 0 629.7 1778.3A3.7 3.1 141 1 0 635.4 1773.6zM631.0 1780.6A2.6 4.9 53 1 0 634.1 1784.7A2.6 4.9 53 1 0 631.0 1780.6zM633.7 1795.3A2.6 2.7 93 1 0 633.4 1800.5A2.6 2.7 93 1 0 633.7 1795.3zM632.1 1802.2A2.6 2.8 52 1 0 635.3 1806.3A2.6 2.8 52 1 0 632.1 1802.2zM638.7 1814.1A6.5 2.6 132 1 0 630.1 1823.7A6.5 2.6 132 1 0 638.7 1814.1zM633.0 1822.2A4.6 3.5 88 1 0 633.4 1831.4A4.6 3.5 88 1 0 633.0 1822.2zM631.3 1843.6A6.3 3.3 81 1 0 633.2 1856.2A6.3 3.3 81 1 0 631.3 1843.6zM634.4 1848.7A7.2 6.0 106 1 0 630.4 1862.6A7.2 6.0 106 1 0 634.4 1848.7zM641.5 1864.1A8.4 6.7 170 1 0 625.0 1867.0A8.4 6.7 170 1 0 641.5 1864.1zM636.2 1623.0A3.8 4.4 21 1 0 643.4 1625.7A3.8 4.4 21 1 0 636.2 1623.0zM635.1 1622.6A5.7 4.9 50 1 0 642.4 1631.3A5.7 4.9 50 1 0 635.1 1622.6zM630.3 1627.3A11.7 4.7 53 1 0 644.5 1645.8A11.7 4.7 53 1 0 630.3 1627.3zM637.2 1636.3A4.6 4.5 64 1 0 641.2 1644.5A4.6 4.5 64 1 0 637.2 1636.3zM640.8 1648.1A4.0 3.6 109 1 0 638.2 1655.6A4.0 3.6 109 1 0 640.8 1648.1zM638.1 1655.0A2.7 4.8 96 1 0 637.6 1660.3A2.7 4.8 96 1 0 638.1 1655.0zM639.0 1667.0A3.7 4.4 157 1 0 632.2 1669.9A3.7 4.4 157 1 0 639.0 1667.0zM635.5 1689.3A5.0 4.7 48 1 0 642.2 1696.8A5.0 4.7 48 1 0 635.5 1689.3zM640.9 1703.3A2.9 3.6 134 1 0 636.9 1707.5A2.9 3.6 134 1 0 640.9 1703.3zM644.4 1709.3A5.1 3.7 163 1 0 634.7 1712.3A5.1 3.7 163 1 0 644.4 1709.3zM646.7 1707.5A10.6 5.4 135 1 0 631.6 1722.4A10.6 5.4 135 1 0 646.7 1707.5zM643.6 1717.3A7.7 5.5 153 1 0 629.8 1724.2A7.7 5.5 153 1 0 643.6 1717.3zM641.3 1725.0A6.5 2.8 134 1 0 632.3 1734.3A6.5 2.8 134 1 0 641.3 1725.0zM634.0 1733.2A4.7 4.7 23 1 0 642.6 1736.8A4.7 4.7 23 1 0 634.0 1733.2zM635.7 1747.0A4.8 3.1 80 1 0 637.4 1756.3A4.8 3.1 80 1 0 635.7 1747.0zM643.7 1763.9A6.5 3.9 162 1 0 631.4 1768.0A6.5 3.9 162 1 0 643.7 1763.9zM643.0 1770.9A6.0 2.9 150 1 0 632.6 1777.0A6.0 2.9 150 1 0 643.0 1770.9zM640.5 1787.7A4.2 2.7 153 1 0 633.0 1791.5A4.2 2.7 153 1 0 640.5 1787.7zM639.5 1792.7A4.8 4.1 113 1 0 635.8 1801.7A4.8 4.1 113 1 0 639.5 1792.7zM650.1 1805.1A11.4 5.1 167 1 0 627.9 1810.4A11.4 5.1 167 1 0 650.1 1805.1zM639.9 1807.5A5.5 2.5 109 1 0 636.3 1818.0A5.5 2.5 109 1 0 639.9 1807.5zM634.2 1818.2A6.1 7.0 56 1 0 640.9 1828.3A6.1 7.0 56 1 0 634.2 1818.2zM637.3 1830.9A3.6 2.5 58 1 0 641.1 1836.9A3.6 2.5 58 1 0 637.3 1830.9zM641.0 1840.9A2.6 2.2 132 1 0 637.5 1844.7A2.6 2.2 132 1 0 641.0 1840.9zM640.4 1842.1A4.4 2.3 116 1 0 636.5 1850.1A4.4 2.3 116 1 0 640.4 1842.1zM637.6 1846.1A5.5 4.2 109 1 0 634.0 1856.5A5.5 4.2 109 1 0 637.6 1846.1zM636.1 1858.9A4.3 2.6 94 1 0 635.6 1867.3A4.3 2.6 94 1 0 636.1 1858.9zM643.0 1609.3A5.9 3.1 86 1 0 643.8 1621.1A5.9 3.1 86 1 0 643.0 1609.3zM650.7 1617.9A6.3 3.2 178 1 0 638.2 1618.3A6.3 3.2 178 1 0 650.7 1617.9zM650.1 1622.8A5.8 2.4 178 1 0 638.5 1623.2A5.8 2.4 178 1 0 650.1 1622.8zM640.2 1636.8A4.7 3.1 17 1 0 649.1 1639.6A4.7 3.1 17 1 0 640.2 1636.8zM638.1 1638.2A4.1 4.8 53 1 0 643.1 1644.9A4.1 4.8 53 1 0 638.1 1638.2zM642.2 1646.0A4.9 3.5 66 1 0 646.2 1655.0A4.9 3.5 66 1 0 642.2 1646.0zM639.3 1678.5A5.9 3.4 31 1 0 649.5 1684.6A5.9 3.4 31 1 0 639.3 1678.5zM645.2 1686.3A2.8 4.7 178 1 0 639.6 1686.6A2.8 4.7 178 1 0 645.2 1686.3zM639.2 1690.8A4.7 3.1 45 1 0 645.9 1697.4A4.7 3.1 45 1 0 639.2 1690.8zM641.3 1701.5A4.3 3.8 40 1 0 647.9 1707.1A4.3 3.8 40 1 0 641.3 1701.5zM644.8 1699.2A6.9 4.6 103 1 0 641.7 1712.6A6.9 4.6 103 1 0 644.8 1699.2zM649.9 1712.0A6.5 2.9 177 1 0 636.8 1712.7A6.5 2.9 177 1 0 649.9 1712.0zM646.4 1719.9A8.0 6.6 124 1 0 637.5 1733.3A8.0 6.6 124 1 0 646.4 1719.9zM645.4 1731.6A2.8 2.3 139 1 0 641.1 1735.3A2.8 2.3 139 1 0 645.4 1731.6zM642.5 1739.4A6.1 2.3 89 1 0 642.8 1751.6A6.1 2.3 89 1 0 642.5 1739.4zM637.3 1741.2A6.8 4.0 61 1 0 644.0 1753.1A6.8 4.0 61 1 0 637.3 1741.2zM648.8 1748.3A6.9 2.2 132 1 0 639.5 1758.6A6.9 2.2 132 1 0 648.8 1748.3zM646.6 1752.5A7.3 4.3 133 1 0 636.5 1763.2A7.3 4.3 133 1 0 646.6 1752.5zM637.5 1760.7A5.7 4.5 47 1 0 645.1 1769.1A5.7 4.5 47 1 0 637.5 1760.7zM640.6 1771.1A3.1 4.3 96 1 0 640.0 1777.3A3.1 4.3 96 1 0 640.6 1771.1zM637.4 1773.5A6.2 3.6 54 1 0 644.7 1783.6A6.2 3.6 54 1 0 637.4 1773.5zM640.3 1781.4A6.1 6.1 62 1 0 646.1 1792.1A6.1 6.1 62 1 0 640.3 1781.4zM649.6 1787.2A6.3 4.0 167 1 0 637.3 1790.1A6.3 4.0 167 1 0 649.6 1787.2zM650.7 1807.2A7.6 6.9 142 1 0 638.6 1816.5A7.6 6.9 142 1 0 650.7 1807.2zM635.7 1824.5A5.6 4.2 35 1 0 644.9 1830.9A5.6 4.2 35 1 0 635.7 1824.5zM647.8 1829.7A6.0 4.8 179 1 0 635.8 1829.8A6.0 4.8 179 1 0 647.8 1829.7zM641.2 1841.1A3.2 2.7 107 1 0 639.4 1847.2A3.2 2.7 107 1 0 641.2 1841.1zM646.9 1850.8A4.3 2.8 157 1 0 639.0 1854.3A4.3 2.8 157 1 0 646.9 1850.8zM640.0 1861.0A4.2 4.6 69 1 0 643.0 1868.8A4.2 4.6 69 1 0 640.0 1861.0zM650.3 1597.9A3.6 2.2 158 1 0 643.5 1600.6A3.6 2.2 158 1 0 650.3 1597.9zM647.1 1599.9A5.2 3.3 64 1 0 651.6 1609.3A5.2 3.3 64 1 0 647.1 1599.9zM642.6 1614.5A5.5 3.8 46 1 0 650.2 1622.4A5.5 3.8 46 1 0 642.6 1614.5zM649.1 1621.1A2.5 4.9 155 1 0 644.5 1623.2A2.5 4.9 155 1 0 649.1 1621.1zM649.7 1623.8A3.6 3.3 121 1 0 646.0 1630.0A3.6 3.3 121 1 0 649.7 1623.8zM656.2 1640.4A6.7 6.1 170 1 0 643.0 1642.7A6.7 6.1 170 1 0 656.2 1640.4zM652.0 1644.8A5.7 2.7 120 1 0 646.3 1654.6A5.7 2.7 120 1 0 652.0 1644.8zM645.2 1659.1A2.8 2.7 93 1 0 644.9 1664.7A2.8 2.7 93 1 0 645.2 1659.1zM641.9 1660.8A6.5 3.4 26 1 0 653.6 1666.4A6.5 3.4 26 1 0 641.9 1660.8zM647.9 1665.0A6.2 2.6 76 1 0 651.0 1677.0A6.2 2.6 76 1 0 647.9 1665.0zM649.6 1671.2A3.9 2.5 154 1 0 642.5 1674.6A3.9 2.5 154 1 0 649.6 1671.2zM646.5 1675.5A3.3 3.8 52 1 0 650.6 1680.6A3.3 3.8 52 1 0 646.5 1675.5zM652.6 1680.5A6.1 3.2 147 1 0 642.3 1687.2A6.1 3.2 147 1 0 652.6 1680.5zM645.9 1683.6A4.7 2.3 49 1 0 652.1 1690.7A4.7 2.3 49 1 0 645.9 1683.6zM644.8 1692.9A3.4 2.3 9 1 0 651.4 1694.0A3.4 2.3 9 1 0 644.8 1692.9zM652.1 1694.7A5.3 4.4 137 1 0 644.2 1701.9A5.3 4.4 137 1 0 652.1 1694.7zM648.7 1704.3A2.8 4.7 74 1 0 650.2 1709.6A2.8 4.7 74 1 0 648.7 1704.3zM643.7 1719.3A2.7 2.1 28 1 0 648.6 1721.8A2.7 2.1 28 1 0 643.7 1719.3zM644.0 1720.2A5.4 2.1 44 1 0 651.7 1727.8A5.4 2.1 44 1 0 644.0 1720.2zM646.9 1728.4A3.5 2.0 39 1 0 652.4 1732.8A3.5 2.0 39 1 0 646.9 1728.4zM643.4 1731.3A4.6 2.1 48 1 0 649.6 1738.2A4.6 2.1 48 1 0 643.4 1731.3zM647.2 1735.9A5.7 3.0 67 1 0 651.7 1746.4A5.7 3.0 67 1 0 647.2 1735.9zM648.1 1748.9A3.0 3.8 152 1 0 642.8 1751.8A3.0 3.8 152 1 0 648.1 1748.9zM649.4 1759.5A3.1 4.7 177 1 0 643.2 1759.8A3.1 4.7 177 1 0 649.4 1759.5zM649.2 1760.1A6.6 3.0 105 1 0 645.7 1772.8A6.6 3.0 105 1 0 649.2 1760.1zM646.5 1778.9A5.7 4.0 99 1 0 644.6 1790.3A5.7 4.0 99 1 0 646.5 1778.9zM650.6 1792.0A4.4 4.5 119 1 0 646.3 1799.7A4.4 4.5 119 1 0 650.6 1792.0zM649.7 1796.4A4.5 4.6 125 1 0 644.6 1803.8A4.5 4.6 125 1 0 649.7 1796.4zM644.1 1801.4A5.7 4.5 16 1 0 655.0 1804.6A5.7 4.5 16 1 0 644.1 1801.4zM647.4 1807.6A4.6 4.7 74 1 0 650.0 1816.5A4.6 4.7 74 1 0 647.4 1807.6zM640.4 1821.6A6.2 4.9 18 1 0 652.3 1825.3A6.2 4.9 18 1 0 640.4 1821.6zM637.1 1823.1A10.1 4.9 36 1 0 653.5 1834.9A10.1 4.9 36 1 0 637.1 1823.1zM649.9 1838.9A4.0 3.4 164 1 0 642.2 1841.1A4.0 3.4 164 1 0 649.9 1838.9zM647.4 1839.1A4.7 4.0 88 1 0 647.7 1848.5A4.7 4.0 88 1 0 647.4 1839.1zM652.8 1851.5A5.1 2.3 136 1 0 645.4 1858.5A5.1 2.3 136 1 0 652.8 1851.5zM646.0 1858.2A2.8 2.2 41 1 0 650.2 1861.9A2.8 2.2 41 1 0 646.0 1858.2zM641.7 1868.9A6.0 2.0 27 1 0 652.4 1874.3A6.0 2.0 27 1 0 641.7 1868.9zM646.0 1574.5A6.9 4.6 19 1 0 659.1 1578.9A6.9 4.6 19 1 0 646.0 1574.5zM645.7 1595.0A7.3 5.8 36 1 0 657.6 1603.5A7.3 5.8 36 1 0 645.7 1595.0zM658.2 1606.7A7.6 4.9 158 1 0 644.0 1612.4A7.6 4.9 158 1 0 658.2 1606.7zM662.4 1626.4A8.7 5.5 161 1 0 645.8 1632.0A8.7 5.5 161 1 0 662.4 1626.4zM655.1 1635.2A4.3 3.1 138 1 0 648.7 1640.9A4.3 3.1 138 1 0 655.1 1635.2zM645.2 1638.3A5.7 3.2 26 1 0 655.5 1643.2A5.7 3.2 26 1 0 645.2 1638.3zM653.6 1648.5A5.5 3.8 105 1 0 650.8 1659.3A5.5 3.8 105 1 0 653.6 1648.5zM657.9 1673.8A5.0 3.2 149 1 0 649.4 1679.1A5.0 3.2 149 1 0 657.9 1673.8zM655.9 1677.5A10.4 5.6 124 1 0 644.3 1694.9A10.4 5.6 124 1 0 655.9 1677.5zM651.6 1699.9A2.8 4.1 90 1 0 651.6 1705.5A2.8 4.1 90 1 0 651.6 1699.9zM651.3 1707.8A2.5 3.4 22 1 0 656.0 1709.7A2.5 3.4 22 1 0 651.3 1707.8zM649.4 1708.5A5.5 4.0 58 1 0 655.3 1717.8A5.5 4.0 58 1 0 649.4 1708.5zM653.0 1719.1A3.0 3.7 130 1 0 649.1 1723.7A3.0 3.7 130 1 0 653.0 1719.1zM655.6 1726.0A6.8 2.6 147 1 0 644.3 1733.5A6.8 2.6 147 1 0 655.6 1726.0zM656.8 1727.1A6.6 3.2 122 1 0 649.7 1738.4A6.6 3.2 122 1 0 656.8 1727.1zM651.0 1729.7A9.6 4.7 70 1 0 657.6 1747.7A9.6 4.7 70 1 0 651.0 1729.7zM654.7 1740.4A3.3 2.9 158 1 0 648.6 1742.9A3.3 2.9 158 1 0 654.7 1740.4zM650.0 1741.6A4.8 3.3 85 1 0 650.9 1751.2A4.8 3.3 85 1 0 650.0 1741.6zM647.9 1754.9A8.4 6.3 61 1 0 656.0 1769.5A8.4 6.3 61 1 0 647.9 1754.9zM652.7 1763.4A7.0 4.0 98 1 0 650.7 1777.1A7.0 4.0 98 1 0 652.7 1763.4zM650.0 1776.6A3.8 5.0 72 1 0 652.3 1783.8A3.8 5.0 72 1 0 650.0 1776.6zM652.9 1787.1A3.1 4.7 143 1 0 647.9 1790.8A3.1 4.7 143 1 0 652.9 1787.1zM648.5 1793.1A3.0 4.5 30 1 0 653.7 1796.1A3.0 4.5 30 1 0 648.5 1793.1zM650.2 1795.4A4.4 4.9 63 1 0 654.1 1803.3A4.4 4.9 63 1 0 650.2 1795.4zM648.5 1800.9A6.2 3.5 40 1 0 658.0 1808.9A6.2 3.5 40 1 0 648.5 1800.9zM656.0 1812.2A6.3 4.3 161 1 0 644.0 1816.4A6.3 4.3 161 1 0 656.0 1812.2zM652.4 1811.0A5.8 3.4 98 1 0 650.9 1822.5A5.8 3.4 98 1 0 652.4 1811.0zM649.7 1821.0A3.7 4.6 65 1 0 652.9 1827.8A3.7 4.6 65 1 0 649.7 1821.0zM645.2 1820.0A8.1 5.8 50 1 0 655.5 1832.5A8.1 5.8 50 1 0 645.2 1820.0zM657.0 1829.4A2.7 2.7 165 1 0 651.9 1830.8A2.7 2.7 165 1 0 657.0 1829.4zM647.1 1836.9A5.2 2.1 7 1 0 657.4 1838.1A5.2 2.1 7 1 0 647.1 1836.9zM656.7 1845.9A5.3 3.3 121 1 0 651.2 1855.0A5.3 3.3 121 1 0 656.7 1845.9zM648.9 1851.9A4.2 4.2 59 1 0 653.2 1859.2A4.2 4.2 59 1 0 648.9 1851.9zM657.5 1869.8A3.5 4.3 149 1 0 651.5 1873.4A3.5 4.3 149 1 0 657.5 1869.8zM648.0 1568.5A11.8 6.6 30 1 0 668.5 1580.2A11.8 6.6 30 1 0 648.0 1568.5zM658.3 1576.8A5.8 2.6 100 1 0 656.4 1588.1A5.8 2.6 100 1 0 658.3 1576.8zM655.5 1598.2A2.5 4.6 29 1 0 659.9 1600.6A2.5 4.6 29 1 0 655.5 1598.2zM657.1 1601.6A3.8 4.8 113 1 0 654.1 1608.7A3.8 4.8 113 1 0 657.1 1601.6zM654.5 1618.3A6.9 4.6 69 1 0 659.4 1631.1A6.9 4.6 69 1 0 654.5 1618.3zM658.8 1643.3A4.1 2.9 118 1 0 655.1 1650.5A4.1 2.9 118 1 0 658.8 1643.3zM652.0 1641.8A10.6 6.2 70 1 0 659.4 1661.8A10.6 6.2 70 1 0 652.0 1641.8zM655.6 1665.5A4.5 4.9 77 1 0 657.7 1674.3A4.5 4.9 77 1 0 655.6 1665.5zM652.8 1676.5A2.9 3.3 17 1 0 658.4 1678.3A2.9 3.3 17 1 0 652.8 1676.5zM653.4 1692.3A5.8 4.3 24 1 0 663.9 1697.1A5.8 4.3 24 1 0 653.4 1692.3zM661.0 1692.8A4.0 2.5 134 1 0 655.5 1698.4A4.0 2.5 134 1 0 661.0 1692.8zM653.3 1709.5A5.9 4.9 6 1 0 665.0 1710.8A5.9 4.9 6 1 0 653.3 1709.5zM660.1 1712.2A5.8 3.0 117 1 0 654.7 1722.6A5.8 3.0 117 1 0 660.1 1712.2zM652.5 1717.1A5.6 2.5 18 1 0 663.2 1720.5A5.6 2.5 18 1 0 652.5 1717.1zM659.2 1718.3A5.3 4.2 102 1 0 656.9 1728.7A5.3 4.2 102 1 0 659.2 1718.3zM658.9 1726.2A6.9 5.0 90 1 0 658.9 1740.1A6.9 5.0 90 1 0 658.9 1726.2zM656.2 1735.5A2.6 2.1 84 1 0 656.8 1740.7A2.6 2.1 84 1 0 656.2 1735.5zM652.6 1750.3A3.3 4.6 49 1 0 656.9 1755.3A3.3 4.6 49 1 0 652.6 1750.3zM668.3 1756.6A9.9 6.0 158 1 0 649.9 1763.8A9.9 6.0 158 1 0 668.3 1756.6zM656.9 1765.9A2.8 2.3 116 1 0 654.4 1770.9A2.8 2.3 116 1 0 656.9 1765.9zM668.6 1767.9A11.6 6.6 168 1 0 645.9 1772.8A11.6 6.6 168 1 0 668.6 1767.9zM661.1 1775.8A5.6 4.1 112 1 0 656.8 1786.2A5.6 4.1 112 1 0 661.1 1775.8zM659.1 1787.3A3.3 2.1 166 1 0 652.8 1788.9A3.3 2.1 166 1 0 659.1 1787.3zM655.6 1787.9A8.4 6.1 65 1 0 662.6 1803.1A8.4 6.1 65 1 0 655.6 1787.9zM658.9 1808.4A2.5 2.2 179 1 0 653.8 1808.5A2.5 2.2 179 1 0 658.9 1808.4zM653.1 1814.8A6.0 2.6 25 1 0 664.0 1819.8A6.0 2.6 25 1 0 653.1 1814.8zM656.5 1825.3A3.1 3.6 97 1 0 655.8 1831.4A3.1 3.6 97 1 0 656.5 1825.3zM660.5 1846.1A4.3 4.2 153 1 0 652.8 1850.1A4.3 4.2 153 1 0 660.5 1846.1zM655.5 1876.7A3.7 3.5 29 1 0 661.9 1880.3A3.7 3.5 29 1 0 655.5 1876.7zM660.3 1883.6A3.7 2.0 169 1 0 653.0 1885.0A3.7 2.0 169 1 0 660.3 1883.6zM658.9 1579.2A5.6 4.1 23 1 0 669.3 1583.6A5.6 4.1 23 1 0 658.9 1579.2zM655.9 1586.6A5.2 2.5 22 1 0 665.6 1590.6A5.2 2.5 22 1 0 655.9 1586.6zM661.1 1587.5A7.9 4.9 98 1 0 659.0 1603.1A7.9 4.9 98 1 0 661.1 1587.5zM665.8 1599.1A3.9 4.3 152 1 0 659.0 1602.8A3.9 4.3 152 1 0 665.8 1599.1zM658.4 1605.6A4.0 5.0 33 1 0 665.1 1609.9A4.0 5.0 33 1 0 658.4 1605.6zM666.4 1613.4A4.2 2.8 176 1 0 657.9 1613.9A4.2 2.8 176 1 0 666.4 1613.4zM664.6 1616.8A5.5 4.9 104 1 0 662.0 1627.4A5.5 4.9 104 1 0 664.6 1616.8zM666.1 1624.9A3.3 4.1 150 1 0 660.4 1628.3A3.3 4.1 150 1 0 666.1 1624.9zM660.7 1640.8A2.9 4.3 54 1 0 664.1 1645.5A2.9 4.3 54 1 0 660.7 1640.8zM661.5 1647.1A5.5 4.7 104 1 0 658.9 1657.8A5.5 4.7 104 1 0 661.5 1647.1zM660.6 1656.0A4.5 3.9 82 1 0 661.8 1664.9A4.5 3.9 82 1 0 660.6 1656.0zM657.7 1672.2A4.0 4.8 19 1 0 665.3 1674.8A4.0 4.8 19 1 0 657.7 1672.2zM653.4 1686.6A9.3 7.0 43 1 0 666.9 1699.2A9.3 7.0 43 1 0 653.4 1686.6zM655.9 1701.4A5.2 2.3 12 1 0 666.0 1703.5A5.2 2.3 12 1 0 655.9 1701.4zM658.8 1705.9A5.4 4.0 16 1 0 669.1 1708.9A5.4 4.0 16 1 0 658.8 1705.9zM670.3 1728.4A6.3 4.3 164 1 0 658.1 1731.9A6.3 4.3 164 1 0 670.3 1728.4zM660.3 1724.9A8.2 5.0 82 1 0 662.7 1741.1A8.2 5.0 82 1 0 660.3 1724.9zM660.4 1737.7A4.1 4.1 50 1 0 665.7 1744.1A4.1 4.1 50 1 0 660.4 1737.7zM663.7 1740.8A3.4 4.6 104 1 0 662.1 1747.4A3.4 4.6 104 1 0 663.7 1740.8zM664.0 1740.6A7.0 2.0 111 1 0 659.1 1753.7A7.0 2.0 111 1 0 664.0 1740.6zM665.2 1753.3A4.5 4.1 171 1 0 656.4 1754.7A4.5 4.1 171 1 0 665.2 1753.3zM662.7 1755.5A3.9 3.5 125 1 0 658.1 1761.9A3.9 3.5 125 1 0 662.7 1755.5zM658.2 1756.9A6.5 4.1 31 1 0 669.3 1763.6A6.5 4.1 31 1 0 658.2 1756.9zM670.6 1767.5A6.6 4.0 177 1 0 657.4 1768.2A6.6 4.0 177 1 0 670.6 1767.5zM659.4 1782.5A4.7 3.1 38 1 0 666.8 1788.4A4.7 3.1 38 1 0 659.4 1782.5zM661.7 1808.6A4.8 2.9 77 1 0 663.9 1817.9A4.8 2.9 77 1 0 661.7 1808.6zM664.5 1816.1A3.5 3.0 141 1 0 659.1 1820.5A3.5 3.0 141 1 0 664.5 1816.1zM667.6 1839.3A6.4 5.6 170 1 0 655.0 1841.6A6.4 5.6 170 1 0 667.6 1839.3zM656.8 1850.3A5.4 2.8 13 1 0 667.4 1852.8A5.4 2.8 13 1 0 656.8 1850.3zM663.4 1855.2A4.7 3.6 128 1 0 657.6 1862.7A4.7 3.6 128 1 0 663.4 1855.2zM670.0 1866.4A9.2 4.4 154 1 0 653.4 1874.5A9.2 4.4 154 1 0 670.0 1866.4zM656.5 1868.6A5.2 3.0 47 1 0 663.6 1876.1A5.2 3.0 47 1 0 656.5 1868.6zM666.7 1875.6A7.2 4.3 145 1 0 654.9 1883.9A7.2 4.3 145 1 0 666.7 1875.6zM659.1 1878.0A5.3 3.5 56 1 0 665.0 1886.8A5.3 3.5 56 1 0 659.1 1878.0zM655.6 1883.5A6.5 2.2 11 1 0 668.3 1886.0A6.5 2.2 11 1 0 655.6 1883.5zM662.4 1568.2A4.8 2.9 57 1 0 667.5 1576.2A4.8 2.9 57 1 0 662.4 1568.2zM657.3 1574.8A8.3 5.1 14 1 0 673.4 1579.0A8.3 5.1 14 1 0 657.3 1574.8zM672.2 1589.0A3.7 2.3 161 1 0 665.1 1591.5A3.7 2.3 161 1 0 672.2 1589.0zM663.2 1594.1A5.8 2.3 67 1 0 667.7 1604.7A5.8 2.3 67 1 0 663.2 1594.1zM662.3 1615.0A5.1 4.0 27 1 0 671.3 1619.7A5.1 4.0 27 1 0 662.3 1615.0zM666.5 1639.2A3.2 4.2 70 1 0 668.7 1645.2A3.2 4.2 70 1 0 666.5 1639.2zM666.7 1652.5A5.0 4.5 110 1 0 663.3 1661.9A5.0 4.5 110 1 0 666.7 1652.5zM665.1 1710.6A7.5 5.8 90 1 0 665.1 1725.7A7.5 5.8 90 1 0 665.1 1710.6zM662.6 1722.9A4.5 4.1 58 1 0 667.4 1730.6A4.5 4.1 58 1 0 662.6 1722.9zM674.2 1731.6A6.7 3.7 177 1 0 660.8 1732.3A6.7 3.7 177 1 0 674.2 1731.6zM659.4 1734.4A6.2 3.3 9 1 0 671.7 1736.3A6.2 3.3 9 1 0 659.4 1734.4zM665.4 1737.2A3.8 2.4 54 1 0 669.9 1743.4A3.8 2.4 54 1 0 665.4 1737.2zM663.6 1748.9A9.9 6.2 75 1 0 668.7 1768.0A9.9 6.2 75 1 0 663.6 1748.9zM668.2 1768.2A3.8 2.5 144 1 0 662.0 1772.7A3.8 2.5 144 1 0 668.2 1768.2zM665.6 1770.2A6.8 2.5 95 1 0 664.4 1783.7A6.8 2.5 95 1 0 665.6 1770.2zM667.6 1790.4A4.9 3.9 127 1 0 661.7 1798.2A4.9 3.9 127 1 0 667.6 1790.4zM663.7 1817.1A6.6 2.0 58 1 0 670.8 1828.3A6.6 2.0 58 1 0 663.7 1817.1zM664.4 1825.0A4.2 2.2 51 1 0 669.7 1831.4A4.2 2.2 51 1 0 664.4 1825.0zM671.9 1833.7A5.7 4.7 146 1 0 662.4 1840.1A5.7 4.7 146 1 0 671.9 1833.7zM663.4 1849.5A2.7 3.3 36 1 0 667.7 1852.7A2.7 3.3 36 1 0 663.4 1849.5zM664.9 1851.9A4.7 4.6 55 1 0 670.3 1859.5A4.7 4.6 55 1 0 664.9 1851.9zM671.3 1865.9A4.7 3.6 143 1 0 663.9 1871.6A4.7 3.6 143 1 0 671.3 1865.9zM666.4 1871.0A3.1 3.6 125 1 0 662.8 1876.2A3.1 3.6 125 1 0 666.4 1871.0zM672.0 1878.1A4.2 3.1 170 1 0 663.6 1879.5A4.2 3.1 170 1 0 672.0 1878.1zM670.8 1889.2A2.6 3.9 162 1 0 665.9 1890.8A2.6 3.9 162 1 0 670.8 1889.2zM670.5 1569.6A5.2 4.7 89 1 0 670.7 1580.0A5.2 4.7 89 1 0 670.5 1569.6zM671.4 1584.7A3.7 2.4 71 1 0 673.9 1591.7A3.7 2.4 71 1 0 671.4 1584.7zM669.2 1584.7A6.1 2.9 73 1 0 672.8 1596.4A6.1 2.9 73 1 0 669.2 1584.7zM668.6 1600.3A4.5 4.0 31 1 0 676.4 1604.9A4.5 4.0 31 1 0 668.6 1600.3zM671.3 1608.9A5.7 3.0 87 1 0 671.8 1620.3A5.7 3.0 87 1 0 671.3 1608.9zM670.4 1615.2A3.1 4.6 51 1 0 674.4 1620.0A3.1 4.6 51 1 0 670.4 1615.2zM673.7 1744.1A5.5 3.0 116 1 0 668.9 1753.8A5.5 3.0 116 1 0 673.7 1744.1zM668.6 1866.3A4.4 4.8 63 1 0 672.6 1874.1A4.4 4.8 63 1 0 668.6 1866.3zM669.5 1867.9A3.5 3.9 68 1 0 672.0 1874.4A3.5 3.9 68 1 0 669.5 1867.9zM671.2 1878.3A3.8 2.4 55 1 0 675.5 1884.5A3.8 2.4 55 1 0 671.2 1878.3zM673.3 1889.5A2.7 2.6 171 1 0 668.0 1890.3A2.7 2.6 171 1 0 673.3 1889.5zM674.1 1596.4A2.9 4.9 29 1 0 679.1 1599.2A2.9 4.9 29 1 0 674.1 1596.4zM679.9 1604.1A4.9 3.2 122 1 0 674.8 1612.4A4.9 3.2 122 1 0 679.9 1604.1zM679.0 1612.1A3.9 3.0 167 1 0 671.4 1613.8A3.9 3.0 167 1 0 679.0 1612.1zM669.5 1618.3A6.8 2.9 2 1 0 683.0 1618.8A6.8 2.9 2 1 0 669.5 1618.3zM672.2 1856.2A4.3 2.4 48 1 0 678.0 1862.7A4.3 2.4 48 1 0 672.2 1856.2zM672.0 1862.7A5.5 4.6 15 1 0 682.5 1865.6A5.5 4.6 15 1 0 672.0 1862.7zM675.1 1866.8A3.6 2.2 83 1 0 675.9 1874.0A3.6 2.2 83 1 0 675.1 1866.8zM674.9 1875.9A4.3 2.4 33 1 0 682.1 1880.6A4.3 2.4 33 1 0 674.9 1875.9zM670.1 1886.7A11.9 4.7 60 1 0 682.2 1907.3A11.9 4.7 60 1 0 670.1 1886.7zM677.5 1890.2A9.2 5.2 109 1 0 671.5 1907.6A9.2 5.2 109 1 0 677.5 1890.2zM675.0 1579.4A6.8 6.5 44 1 0 684.9 1588.8A6.8 6.5 44 1 0 675.0 1579.4zM679.0 1884.7A4.0 2.5 41 1 0 685.1 1890.0A4.0 2.5 41 1 0 679.0 1884.7zM684.1 1889.9A6.1 2.7 132 1 0 675.9 1899.0A6.1 2.7 132 1 0 684.1 1889.9zM679.6 1855.1A5.7 2.8 37 1 0 688.7 1861.9A5.7 2.8 37 1 0 679.6 1855.1zM687.9 1861.0A4.4 3.5 124 1 0 682.9 1868.3A4.4 3.5 124 1 0 687.9 1861.0zM697.5 1864.0A10.0 4.5 157 1 0 679.1 1871.8A10.0 4.5 157 1 0 697.5 1864.0zM691.1 1873.2A4.7 2.2 163 1 0 682.1 1875.9A4.7 2.2 163 1 0 691.1 1873.2zM681.6 1879.7A6.2 4.8 30 1 0 692.3 1885.9A6.2 4.8 30 1 0 681.6 1879.7zM689.4 1891.6A4.2 4.4 168 1 0 681.1 1893.3A4.2 4.4 168 1 0 689.4 1891.6zM679.9 1894.4A7.0 2.5 8 1 0 693.7 1896.4A7.0 2.5 8 1 0 679.9 1894.4zM685.8 1904.2A2.9 3.8 81 1 0 686.6 1909.9A2.9 3.8 81 1 0 685.8 1904.2zM697.0 1856.7A11.6 6.0 111 1 0 688.7 1878.3A11.6 6.0 111 1 0 697.0 1856.7zM696.4 1869.7A5.9 2.3 131 1 0 688.7 1878.6A5.9 2.3 131 1 0 696.4 1869.7zM685.0 1886.9A9.1 6.1 59 1 0 694.5 1902.5A9.1 6.1 59 1 0 685.0 1886.9zM690.7 1898.1A3.5 4.5 120 1 0 687.2 1904.1A3.5 4.5 120 1 0 690.7 1898.1zM697.4 1910.5A5.5 4.9 148 1 0 688.0 1916.3A5.5 4.9 148 1 0 697.4 1910.5zM694.6 1876.9A3.3 4.8 28 1 0 700.5 1880.0A3.3 4.8 28 1 0 694.6 1876.9zM694.2 1877.6A3.5 3.5 53 1 0 698.4 1883.1A3.5 3.5 53 1 0 694.2 1877.6zM697.2 1892.1A4.7 4.3 103 1 0 695.1 1901.2A4.7 4.3 103 1 0 697.2 1892.1zM697.4 1894.7A5.7 3.0 88 1 0 697.9 1906.0A5.7 3.0 88 1 0 697.4 1894.7zM695.2 1901.8A2.9 2.4 116 1 0 692.6 1906.9A2.9 2.4 116 1 0 695.2 1901.8zM699.0 1867.7A5.7 3.1 72 1 0 702.4 1878.7A5.7 3.1 72 1 0 699.0 1867.7zM699.7 1872.5A6.4 4.0 102 1 0 697.1 1885.0A6.4 4.0 102 1 0 699.7 1872.5zM698.1 1881.3A4.1 4.3 13 1 0 706.1 1883.2A4.1 4.3 13 1 0 698.1 1881.3zM702.3 1880.4A4.5 3.2 83 1 0 703.5 1889.3A4.5 3.2 83 1 0 702.3 1880.4zM705.1 1887.5A6.3 2.9 155 1 0 693.7 1892.9A6.3 2.9 155 1 0 705.1 1887.5zM697.3 1894.3A5.6 3.4 11 1 0 708.4 1896.4A5.6 3.4 11 1 0 697.3 1894.3zM705.1 1902.9A5.3 2.1 133 1 0 698.0 1910.7A5.3 2.1 133 1 0 705.1 1902.9zM704.4 1911.7A4.8 4.0 168 1 0 694.9 1913.8A4.8 4.0 168 1 0 704.4 1911.7zM704.8 1877.7A4.9 4.0 84 1 0 705.7 1887.5A4.9 4.0 84 1 0 704.8 1877.7zM707.3 1881.3A6.2 2.2 115 1 0 702.0 1892.4A6.2 2.2 115 1 0 707.3 1881.3zM701.2 1889.2A3.0 3.3 35 1 0 706.1 1892.7A3.0 3.3 35 1 0 701.2 1889.2zM711.3 1894.0A5.2 2.6 167 1 0 701.2 1896.3A5.2 2.6 167 1 0 711.3 1894.0zM704.0 1902.7A3.5 2.1 0 1 0 711.1 1902.8A3.5 2.1 0 1 0 704.0 1902.7zM705.0 1908.1A4.3 3.5 63 1 0 708.8 1915.7A4.3 3.5 63 1 0 705.0 1908.1zM703.5 1916.4A2.8 3.1 85 1 0 704.1 1922.0A2.8 3.1 85 1 0 703.5 1916.4zM706.0 1877.8A4.6 4.0 53 1 0 711.6 1885.2A4.6 4.0 53 1 0 706.0 1877.8zM711.4 1892.1A2.8 3.7 64 1 0 713.9 1897.1A2.8 3.7 64 1 0 711.4 1892.1zM716.0 1904.3A4.9 4.8 144 1 0 708.1 1910.0A4.9 4.8 144 1 0 716.0 1904.3zM710.8 1909.6A2.5 4.6 152 1 0 706.3 1912.0A2.5 4.6 152 1 0 710.8 1909.6zM716.3 1871.8A11.7 4.4 102 1 0 711.5 1894.7A11.7 4.4 102 1 0 716.3 1871.8zM715.4 1883.1A3.6 5.0 73 1 0 717.6 1890.1A3.6 5.0 73 1 0 715.4 1883.1zM716.0 1887.9A3.2 4.7 92 1 0 715.8 1894.3A3.2 4.7 92 1 0 716.0 1887.9zM720.8 1892.8A5.7 2.0 151 1 0 710.9 1898.3A5.7 2.0 151 1 0 720.8 1892.8zM720.2 1913.0A3.4 2.5 161 1 0 713.7 1915.3A3.4 2.5 161 1 0 720.2 1913.0zM718.6 1920.4A4.3 3.6 117 1 0 714.7 1928.0A4.3 3.6 117 1 0 718.6 1920.4zM716.2 1924.3A3.5 3.2 139 1 0 710.9 1928.9A3.5 3.2 139 1 0 716.2 1924.3zM716.8 1889.5A5.7 2.6 15 1 0 727.8 1892.5A5.7 2.6 15 1 0 716.8 1889.5zM717.5 1893.7A3.4 4.0 48 1 0 722.1 1898.7A3.4 4.0 48 1 0 717.5 1893.7zM714.0 1895.3A6.6 4.6 40 1 0 724.2 1903.7A6.6 4.6 40 1 0 714.0 1895.3zM718.0 1904.8A4.2 3.7 6 1 0 726.5 1905.7A4.2 3.7 6 1 0 718.0 1904.8zM722.1 1905.4A5.3 2.2 101 1 0 720.0 1915.8A5.3 2.2 101 1 0 722.1 1905.4zM724.3 1910.5A5.8 2.4 147 1 0 714.6 1916.8A5.8 2.4 147 1 0 724.3 1910.5zM717.0 1913.2A6.7 3.7 39 1 0 727.5 1921.6A6.7 3.7 39 1 0 717.0 1913.2zM722.9 1921.6A2.7 4.9 166 1 0 717.7 1922.9A2.7 4.9 166 1 0 722.9 1921.6zM726.3 1884.2A3.8 4.3 78 1 0 727.9 1891.6A3.8 4.3 78 1 0 726.3 1884.2zM728.5 1884.6A6.3 6.5 117 1 0 722.7 1895.9A6.3 6.5 117 1 0 728.5 1884.6zM729.9 1896.5A6.7 2.7 170 1 0 716.7 1898.9A6.7 2.7 170 1 0 729.9 1896.5zM722.2 1899.7A3.8 3.5 12 1 0 729.6 1901.2A3.8 3.5 12 1 0 722.2 1899.7zM724.7 1901.1A3.0 3.9 129 1 0 721.0 1905.7A3.0 3.9 129 1 0 724.7 1901.1zM723.1 1901.8A8.8 4.8 80 1 0 726.2 1919.2A8.8 4.8 80 1 0 723.1 1901.8zM725.2 1909.0A5.9 4.4 90 1 0 725.2 1920.8A5.9 4.4 90 1 0 725.2 1909.0zM724.8 1922.9A4.9 4.1 105 1 0 722.3 1932.4A4.9 4.1 105 1 0 724.8 1922.9zM732.6 1893.4A3.5 2.7 102 1 0 731.1 1900.2A3.5 2.7 102 1 0 732.6 1893.4zM725.8 1890.9A11.2 4.2 74 1 0 731.9 1912.4A11.2 4.2 74 1 0 725.8 1890.9zM728.7 1908.5A5.3 4.5 93 1 0 728.2 1919.0A5.3 4.5 93 1 0 728.7 1908.5zM737.1 1910.4A11.4 4.4 134 1 0 721.4 1926.9A11.4 4.4 134 1 0 737.1 1910.4zM732.9 1919.5A4.6 2.7 139 1 0 726.0 1925.6A4.6 2.7 139 1 0 732.9 1919.5zM737.9 1927.2A6.7 2.6 170 1 0 724.7 1929.6A6.7 2.6 170 1 0 737.9 1927.2zM731.0 1892.7A3.2 3.9 47 1 0 735.3 1897.4A3.2 3.9 47 1 0 731.0 1892.7zM731.6 1895.0A6.6 3.9 63 1 0 737.6 1906.9A6.6 3.9 63 1 0 731.6 1895.0zM732.5 1905.5A3.7 4.3 21 1 0 739.4 1908.1A3.7 4.3 21 1 0 732.5 1905.5zM736.4 1910.7A3.9 3.7 177 1 0 728.6 1911.2A3.9 3.7 177 1 0 736.4 1910.7zM732.4 1914.1A4.2 3.0 60 1 0 736.6 1921.5A4.2 3.0 60 1 0 732.4 1914.1zM737.1 1916.4A5.5 3.3 103 1 0 734.7 1927.2A5.5 3.3 103 1 0 737.1 1916.4zM729.5 1933.1A4.2 5.0 19 1 0 737.6 1935.9A4.2 5.0 19 1 0 729.5 1933.1zM747.3 1895.2A7.9 4.6 162 1 0 732.3 1900.1A7.9 4.6 162 1 0 747.3 1895.2zM738.9 1899.8A4.7 3.4 107 1 0 736.2 1908.8A4.7 3.4 107 1 0 738.9 1899.8zM741.2 1908.4A3.6 2.6 176 1 0 734.1 1908.9A3.6 2.6 176 1 0 741.2 1908.4zM740.3 1907.2A6.4 4.1 79 1 0 742.8 1919.8A6.4 4.1 79 1 0 740.3 1907.2zM744.7 1918.2A6.7 2.6 123 1 0 737.4 1929.6A6.7 2.6 123 1 0 744.7 1918.2zM735.8 1933.2A4.3 4.7 16 1 0 744.1 1935.6A4.3 4.7 16 1 0 735.8 1933.2zM748.0 1911.5A7.8 4.8 123 1 0 739.4 1924.5A7.8 4.8 123 1 0 748.0 1911.5zM739.6 1923.5A6.3 3.6 40 1 0 749.3 1931.6A6.3 3.6 40 1 0 739.6 1923.5zM744.2 1927.6A4.9 3.2 93 1 0 743.7 1937.5A4.9 3.2 93 1 0 744.2 1927.6zM743.1 1909.1A6.1 3.1 34 1 0 753.2 1915.9A6.1 3.1 34 1 0 743.1 1909.1zM753.2 1919.4A2.9 4.6 140 1 0 748.8 1923.0A2.9 4.6 140 1 0 753.2 1919.4zM746.2 1931.4A6.5 3.7 56 1 0 753.5 1942.2A6.5 3.7 56 1 0 746.2 1931.4zM758.8 1925.2A4.1 3.1 151 1 0 751.6 1929.2A4.1 3.1 151 1 0 758.8 1925.2zM748.4 1928.4A5.6 4.0 42 1 0 756.7 1935.9A5.6 4.0 42 1 0 748.4 1928.4zM751.1 1930.3A5.5 2.3 83 1 0 752.5 1941.1A5.5 2.3 83 1 0 751.1 1930.3zM760.8 1923.8A5.8 2.3 125 1 0 754.1 1933.4A5.8 2.3 125 1 0 760.8 1923.8zM766.0 1926.7A6.8 2.4 143 1 0 755.1 1935.0A6.8 2.4 143 1 0 766.0 1926.7zM762.6 1940.1A6.8 2.4 147 1 0 751.3 1947.6A6.8 2.4 147 1 0 762.6 1940.1zM769.4 1926.7A4.8 3.3 164 1 0 760.2 1929.4A4.8 3.3 164 1 0 769.4 1926.7zM770.5 1932.8A5.1 2.4 174 1 0 760.4 1933.8A5.1 2.4 174 1 0 770.5 1932.8zM763.3 1943.8A3.8 4.9 3 1 0 771.0 1944.1A3.8 4.9 3 1 0 763.3 1943.8zM771.1 1929.1A3.4 4.9 16 1 0 777.7 1930.9A3.4 4.9 16 1 0 771.1 1929.1zM774.4 1934.1A2.9 3.5 159 1 0 769.0 1936.2A2.9 3.5 159 1 0 774.4 1934.1zM767.8 1946.3A3.3 5.0 4 1 0 774.5 1946.7A3.3 5.0 4 1 0 767.8 1946.3zM777.4 1928.6A4.7 3.8 57 1 0 782.6 1936.5A4.7 3.8 57 1 0 777.4 1928.6zM781.0 1935.0A4.9 3.8 172 1 0 771.3 1936.3A4.9 3.8 172 1 0 781.0 1935.0zM786.6 1936.3A9.5 6.8 148 1 0 770.4 1946.3A9.5 6.8 148 1 0 786.6 1936.3zM777.7 1942.4A6.4 4.4 68 1 0 782.7 1954.3A6.4 4.4 68 1 0 777.7 1942.4zM786.9 1925.3A6.7 7.0 120 1 0 780.2 1936.9A6.7 7.0 120 1 0 786.9 1925.3zM795.1 1931.9A6.0 2.9 170 1 0 783.4 1934.0A6.0 2.9 170 1 0 795.1 1931.9zM786.1 1932.0A10.6 6.6 76 1 0 791.4 1952.5A10.6 6.6 76 1 0 786.1 1932.0zM781.2 1937.7A9.2 5.3 50 1 0 792.9 1951.9A9.2 5.3 50 1 0 781.2 1937.7zM789.5 1942.6A5.5 4.4 13 1 0 800.1 1945.1A5.5 4.4 13 1 0 789.5 1942.6zM797.0 1936.8A3.0 2.4 43 1 0 801.2 1940.8A3.0 2.4 43 1 0 797.0 1936.8zM796.6 1939.2A2.9 4.9 74 1 0 798.1 1944.8A2.9 4.9 74 1 0 796.6 1939.2zM796.4 1947.3A2.6 4.6 8 1 0 801.5 1948.0A2.6 4.6 8 1 0 796.4 1947.3zM806.1 1934.0A4.5 4.9 156 1 0 797.8 1937.6A4.5 4.9 156 1 0 806.1 1934.0zM796.9 1937.8A6.9 2.7 39 1 0 807.4 1946.5A6.9 2.7 39 1 0 796.9 1937.8zM798.8 1940.5A4.9 3.7 67 1 0 802.6 1949.4A4.9 3.7 67 1 0 798.8 1940.5zM804.2 1934.0A4.9 2.3 21 1 0 813.4 1937.5A4.9 2.3 21 1 0 804.2 1934.0zM817.2 1944.1A11.2 6.5 170 1 0 795.2 1948.0A11.2 6.5 170 1 0 817.2 1944.1zM811.8 1947.4A6.6 2.2 151 1 0 800.3 1953.6A6.6 2.2 151 1 0 811.8 1947.4zM811.6 1934.1A4.3 4.3 105 1 0 809.3 1942.3A4.3 4.3 105 1 0 811.6 1934.1zM818.0 1935.3A10.6 4.9 135 1 0 803.1 1950.3A10.6 4.9 135 1 0 818.0 1935.3zM798.9 1945.7A11.7 4.3 2 1 0 822.4 1946.7A11.7 4.3 2 1 0 798.9 1945.7zM821.4 1935.4A5.5 4.2 166 1 0 810.7 1938.1A5.5 4.2 166 1 0 821.4 1935.4zM818.3 1938.3A5.5 4.4 116 1 0 813.6 1948.2A5.5 4.4 116 1 0 818.3 1938.3zM830.7 1939.2A3.7 4.2 154 1 0 824.0 1942.4A3.7 4.2 154 1 0 830.7 1939.2zM821.3 1945.4A4.2 3.2 8 1 0 829.6 1946.5A4.2 3.2 8 1 0 821.3 1945.4zM828.3 1942.6A4.4 2.3 68 1 0 831.7 1950.8A4.4 2.3 68 1 0 828.3 1942.6zM836.4 1937.2A5.6 3.1 79 1 0 838.5 1948.1A5.6 3.1 79 1 0 836.4 1937.2zM837.6 1938.1A4.3 4.1 55 1 0 842.5 1945.2A4.3 4.1 55 1 0 837.6 1938.1z"/>
<polygon points="716.0,145.0 719.8,145.0 721.1,155.8 726.2,161.3 728.8,174.8 723.6,191.1 713.4,193.8 705.8,185.7 703.2,172.1 708.3,158.5 714.7,153.1" fill="#fff" stroke="#808080" stroke-width="4"/><polygon points="1232.4,1260.0 1246.0,1265.1 1244.2,1277.6 1240.6,1286.6 1228.9,1296.6 1219.2,1302.6 1211.3,1310.2 1208.5,1302.6 1219.2,1286.6 1230.1,1274.9 1234.0,1266.7" fill="#fff" stroke="#808080" stroke-width="4"/>
<g fill="#313695" stroke="#808080" stroke-width="3"><ellipse cx="460.8" cy="332.4" rx="2.5" ry="2.5"/><ellipse cx="546.6" cy="360.1" rx="2.5" ry="2.5"/><ellipse cx="815.5" cy="113.4" rx="2.5" ry="2.5"/><ellipse cx="838.5" cy="117.8" rx="2.5" ry="2.5"/><ellipse cx="853.8" cy="119.4" rx="2.5" ry="2.5"/><ellipse cx="894.6" cy="118.3" rx="2.5" ry="2.5"/><ellipse cx="875.5" cy="143.6" rx="3.1" ry="2.5"/><ellipse cx="909.9" cy="141.7" rx="7.1" ry="3.3"/><ellipse cx="499.1" cy="1155.4" rx="2.5" ry="2.5"/><ellipse cx="527.2" cy="1355.0" rx="2.6" ry="2.5"/><ellipse cx="481.2" cy="1357.7" rx="2.5" ry="2.5"/><ellipse cx="902.3" cy="1929.5" rx="11.5" ry="2.7"/><ellipse cx="215.9" cy="451.9" rx="6.4" ry="15.0"/><ellipse cx="233.7" cy="457.3" rx="5.1" ry="3.3"/><ellipse cx="256.7" cy="464.1" rx="5.1" ry="3.3"/><ellipse cx="236.3" cy="475.0" rx="2.5" ry="2.5"/><ellipse cx="256.7" cy="479.0" rx="2.5" ry="2.5"/><ellipse cx="226.1" cy="427.4" rx="2.5" ry="2.5"/><ellipse cx="236.3" cy="432.9" rx="2.5" ry="2.5"/><ellipse cx="249.1" cy="431.5" rx="2.5" ry="2.5"/></g>
<path d="M246.50 104.5V1952.5M501.66 104.5V1952.5M756.82 104.5V1952.5M1011.98 104.5V1952.5M1267.14 104.5V1952.5M1522.30 104.5V1952.5M205.5 169.40H1653.5M205.5 441.02H1653.5M205.5 712.64H1653.5M205.5 984.26H1653.5M205.5 1255.88H1653.5M205.5 1527.50H1653.5M205.5 1799.12H1653.5" stroke="#b0b0b0" stroke-width="3.33" fill="none"/>
</g>
<rect x="205.5" y="104.5" width="1448.0" height="1848.0" fill="none" stroke="#000" stroke-width="3.33" stroke-linejoin="miter" stroke-linecap="square"/>
<path d="M246.50 1952.5v14.6M501.66 1952.5v14.6M756.82 1952.5v14.6M1011.98 1952.5v14.6M1267.14 1952.5v14.6M1522.30 1952.5v14.6M205.5 169.40h-14.6M205.5 441.02h-14.6M205.5 712.64h-14.6M205.5 984.26h-14.6M205.5 1255.88h-14.6M205.5 1527.50h-14.6M205.5 1799.12h-14.6" stroke="#000" stroke-width="3.33" fill="none"/>
<text x="246.8" y="2013.0" font-size="43" text-anchor="middle" textLength="85.3" lengthAdjust="spacingAndGlyphs">−90</text>
<text x="502.0" y="2013.0" font-size="43" text-anchor="middle" textLength="85.3" lengthAdjust="spacingAndGlyphs">−80</text>
<text x="757.1" y="2013.0" font-size="43" text-anchor="middle" textLength="85.3" lengthAdjust="spacingAndGlyphs">−70</text>
<text x="1012.3" y="2013.0" font-size="43" text-anchor="middle" textLength="85.3" lengthAdjust="spacingAndGlyphs">−60</text>
<text x="1267.4" y="2013.0" font-size="43" text-anchor="middle" textLength="85.3" lengthAdjust="spacingAndGlyphs">−50</text>
<text x="1522.6" y="2013.0" font-size="43" text-anchor="middle" textLength="85.3" lengthAdjust="spacingAndGlyphs">−40</text>
<text x="174.8" y="184.4" font-size="43" text-anchor="end" textLength="53.0" lengthAdjust="spacingAndGlyphs">10</text>
<text x="174.8" y="456.0" font-size="43" text-anchor="end" textLength="22.5" lengthAdjust="spacingAndGlyphs">0</text>
<text x="174.8" y="727.6" font-size="43" text-anchor="end" textLength="85.7" lengthAdjust="spacingAndGlyphs">−10</text>
<text x="174.8" y="999.3" font-size="43" text-anchor="end" textLength="85.7" lengthAdjust="spacingAndGlyphs">−20</text>
<text x="174.8" y="1270.9" font-size="43" text-anchor="end" textLength="85.7" lengthAdjust="spacingAndGlyphs">−30</text>
<text x="174.8" y="1542.5" font-size="43" text-anchor="end" textLength="85.7" lengthAdjust="spacingAndGlyphs">−40</text>
<text x="174.8" y="1814.1" font-size="43" text-anchor="end" textLength="85.7" lengthAdjust="spacingAndGlyphs">−50</text>
<text x="212.5" y="80.0" font-size="70" text-anchor="start" textLength="232.8" lengthAdjust="spacingAndGlyphs">SAFIRE</text>
<text x="468.5" y="80.0" font-size="70" text-anchor="start" textLength="65.7" lengthAdjust="spacingAndGlyphs">BI</text>
<text x="555.2" y="80.0" font-size="70" text-anchor="start" textLength="328.9" lengthAdjust="spacingAndGlyphs">Percentile</text>
<text x="904.1" y="80.0" font-size="70" text-anchor="start" textLength="281.8" lengthAdjust="spacingAndGlyphs">Forecast</text>
<text x="1208.2" y="80.0" font-size="70" text-anchor="start" textLength="437.4" lengthAdjust="spacingAndGlyphs">(2023-11-03)</text>
<text x="668.5" y="2069.7" font-size="42.6" text-anchor="start" textLength="196.5" lengthAdjust="spacingAndGlyphs">longitude</text>
<text x="877.2" y="2069.7" font-size="42.6" text-anchor="start" textLength="312.0" lengthAdjust="spacingAndGlyphs">[degrees_east]</text>
<text x="59.8" y="1281.9" font-size="42.6" text-anchor="start" textLength="159.1" lengthAdjust="spacingAndGlyphs" transform="rotate(-90 59.8 1281.9)">latitude</text>
<text x="59.8" y="1109.4" font-size="42.6" text-anchor="start" textLength="332.1" lengthAdjust="spacingAndGlyphs" transform="rotate(-90 59.8 1109.4)">[degrees_north]</text>
<polygon points="1746.0,188.0 1792.25,104.5 1838.5,188.0" fill="#a50026"/>
<rect x="1746.0" y="188.0" width="92.5" height="560.00" fill="#f88c51"/>
<rect x="1746.0" y="748.00" width="92.5" height="560.00" fill="#fffebe"/>
<rect x="1746.0" y="1308.00" width="92.5" height="560.00" fill="#90c3dd"/>
<polygon points="1746.0,1868.0 1792.25,1952.5 1838.5,1868.0" fill="#313695"/>
<polygon points="1746.0,188.0 1792.25,104.5 1838.5,188.0 1838.5,1868.0 1792.25,1952.5 1746.0,1868.0" fill="none" stroke="#000" stroke-width="3.33" stroke-linejoin="miter" stroke-miterlimit="10"/>
<text x="1868.2" y="203.6" font-size="43" text-anchor="start" textLength="51.3" lengthAdjust="spacingAndGlyphs">97</text>
<text x="1868.2" y="763.6" font-size="43" text-anchor="start" textLength="51.3" lengthAdjust="spacingAndGlyphs">90</text>
<text x="1868.2" y="1323.6" font-size="43" text-anchor="start" textLength="51.3" lengthAdjust="spacingAndGlyphs">80</text>
<text x="1868.2" y="1883.6" font-size="43" text-anchor="start" textLength="51.3" lengthAdjust="spacingAndGlyphs">50</text>
<path d="M1838.5 188.00h14.6M1838.5 748.00h14.6M1838.5 1308.00h14.6M1838.5 1868.00h14.6" stroke="#000" stroke-width="3.33" fill="none"/>
<text x="1971.1" y="1097.0" font-size="43.5" text-anchor="start" textLength="127.0" lengthAdjust="spacingAndGlyphs" transform="rotate(-90 1971.1 1097.0)">biperc</text>
</svg>
</body></html>
